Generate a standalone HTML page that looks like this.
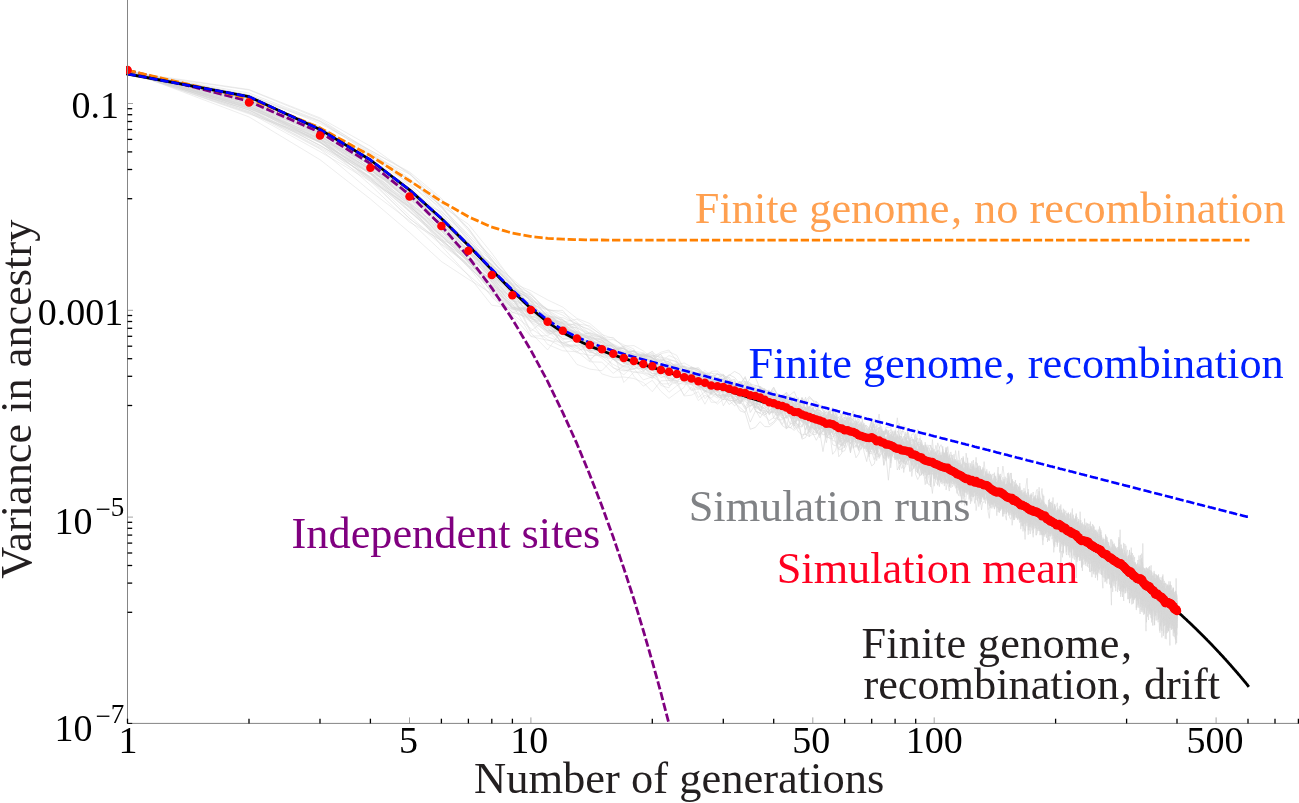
<!DOCTYPE html>
<html><head><meta charset="utf-8"><title>Variance in ancestry</title>
<style>html,body{margin:0;padding:0;background:#fff}svg{display:block;will-change:transform}</style></head>
<body>
<svg width="1299" height="803" viewBox="0 0 1299 803">
<defs><clipPath id="c"><rect x="126" y="0" width="1173" height="724.5"/></clipPath></defs>
<g clip-path="url(#c)" fill="none" stroke-linejoin="round">
<g stroke="#d4d4d4" stroke-width="0.42">
<path d="M127.6 72.2l121.4 25.6 71 32.9 50.4 29.1 39.1 33 31.9 29 27 30 23.4 23.4 20.6 15.3 18.5 6.7 16.7 19.3 15.2 1.1 14.1 6.3 12.9 1.9 12.1 10.3 11.3 9 10.6 8 10.1 2.9 9.4-.4 9-4 8.6 7.4 8.1 2.9 7.8 5.1 7.4-.9 7.2 6.7 6.9 3.8 6.6-1.3 6.3 4.7 6.2-6.6 5.9 6.9"/>
<path d="M127.6 72.7l121.4 26.2 71 30.7 50.4 31.1 39.1 32 31.9 33.2 27 23.6 23.4 26.6 20.6 23.8 18.5 21 16.7 .9 15.2 23.6 14.1-.5 12.9-.3 12.1 3.1 11.3 2.4 10.6 2.8 10.1 4.2 9.4 3.5 9 8.9 8.6-1 8.1 4 7.8 0 7.4-1.2 7.2-4.1 6.9 2.1 6.6 6.3 6.3 4.5 6.2-2.1 5.9 1"/>
<path d="M127.6 71.4l121.4 40.2 71 37.4 50.4 42.2 39.1 29.5 31.9 30.5 27 23.7 23.4 20.4 20.6 18.8 18.5 14.5 16.7 10.9 15.2 7.5 14.1-1 12.9 12.6 12.1 15.3 11.3 3.5 10.6-.4 10.1 1.5 9.4 4 9 9.2 8.6-10.9 8.1-.3 7.8 .1 7.4-3.2 7.2-8 6.9 12.9 6.6-7.2 6.3 1.9 6.2 8 5.9-6"/>
<path d="M127.6 72l121.4 29.4 71 31.3 50.4 27.1 39.1 23.1 31.9 30.6 27 29.6 23.4 23.1 20.6 19.8 18.5 18.3 16.7 5.6 15.2 12.5 14.1 12.1 12.9 1.8 12.1 6.2 11.3 9.7 10.6-1.4 10.1 5.5 9.4 1.3 9-1.9 8.6-1.3 8.1 13.5 7.8-5.5 7.4 8.2 7.2 12.2 6.9-2.2 6.6 7.6 6.3-.1 6.2 4.3 5.9-1.8"/>
<path d="M127.6 71.1l121.4 45.8 71 42.8 50.4 39.3 39.1 33.4 31.9 29.1 27 17.7 23.4 14.3 20.6 18.5 18.5 5.5 16.7 15.3 15.2-5.5 14.1 9.2 12.9 1.2 12.1 2.4 11.3 10.1 10.6-4.2 10.1-.4 9.4 5.3 9 7.4 8.6 5.2 8.1 1.2 7.8 10.8 7.4 5.4 7.2 1.5 6.9 15.1 6.6-5.7 6.3-8.6 6.2-3.8 5.9 10.1"/>
<path d="M127.6 71.9l121.4 34 71 32.9 50.4 30.4 39.1 29 31.9 26.1 27 18.7 23.4 22.7 20.6 19.6 18.5 15.6 16.7 8.9 15.2 9.5 14.1 14.3 12.9 9.1 12.1 5.9 11.3 1.3 10.6 9.5 10.1 .8 9.4 5.4 9-1.7 8.6 4.7 8.1 3.6 7.8 3.2 7.4 7.2 7.2-1.3 6.9 2.9 6.6 6.2 6.3 3.6 6.2 .2 5.9 3"/>
<path d="M127.6 71.5l121.4 41.6 71 29.2 50.4 36.1 39.1 32.4 31.9 30.5 27 25.2 23.4 30.6 20.6 18.5 18.5 20.9 16.7 3.8 15.2 2.4 14.1 5.8 12.9 2.6 12.1-4.9 11.3-1.5 10.6 13.5 10.1 18 9.4 9.9 9-5.8 8.6 11 8.1 7.1 7.8-5.8 7.4-5.3 7.2-14.6 6.9 11.9 6.6 6.4 6.3 1.9 6.2-8.4 5.9 4.1"/>
<path d="M127.6 71.3l121.4 28.7 71 33.6 50.4 34.3 39.1 24.4 31.9 29.8 27 24.6 23.4 20.6 20.6 20.3 18.5 16.8 16.7 13.4 15.2 12 14.1 17.4 12.9-.7 12.1 9.7 11.3 8.2 10.6 5.7 10.1 1.7 9.4 1.9 9 4.6 8.6-3.9 8.1-4.6 7.8-.4 7.4 2.3 7.2 3.9 6.9 .6 6.6 1.5 6.3 5.3 6.2-4.6 5.9 1.4"/>
<path d="M127.6 72l121.4 27.4 71 36 50.4 34.4 39.1 28.8 31.9 19.9 27 24.6 23.4 31.6 20.6 17.8 18.5 26.6 16.7 2.1 15.2 18.3 14.1-.3 12.9 3.3 12.1 9.8 11.3-.9 10.6 31.1 10.1-10.4 9.4-.2 9-9.7 8.6-5.3 8.1 8.9 7.8 3.2 7.4 11.8 7.2 3.7 6.9-.4 6.6 8.3 6.3-7.3 6.2 1.7 5.9-6.6"/>
<path d="M127.6 71.9l121.4 35 71 24.6 50.4 33.6 39.1 36.8 31.9 27.3 27 26.4 23.4 23.1 20.6 19.7 18.5 17.6 16.7 6.6 15.2 22.2 14.1 .7 12.9 1.4 12.1-1.2 11.3-.4 10.6 11.5 10.1 5.1 9.4-5.8 9 5.5 8.6 4.7 8.1 2.1 7.8 5.3 7.4 6.9 7.2-2.6 6.9-3.3 6.6-.6 6.3 10.5 6.2 2.4 5.9-2.2"/>
<path d="M127.6 71.3l121.4 33.1 71 33.6 50.4 40 39.1 37.8 31.9 27.9 27 19.7 23.4 16.1 20.6 19.8 18.5 22.6 16.7 9.2 15.2 14.5 14.1 18.8 12.9 4.7 12.1 1.6 11.3-11.8 10.6 3 10.1 3.1 9.4-10.8 9 6.4 8.6-6.9 8.1-1.9 7.8 3.5 7.4 13.9 7.2-.6 6.9-.6 6.6 5.7 6.3 16.7 6.2 .7 5.9-8.8"/>
<path d="M127.6 70.2l121.4 30.3 71 30.4 50.4 27 39.1 33.7 31.9 30.9 27 28 23.4 21.4 20.6 15.4 18.5 13.7 16.7 21.6 15.2 11 14.1-1.2 12.9 16.7 12.1-2.2 11.3 11.1 10.6-1.7 10.1 1.4 9.4 11.5 9-7.6 8.6 6.3 8.1 11 7.8-1.2 7.4-1.1 7.2 4.4 6.9 9.2 6.6-7.6 6.3 10.7 6.2-2.5 5.9 .8"/>
<path d="M127.6 71.4l121.4 36.5 71 30.9 50.4 42.6 39.1 24.4 31.9 30 27 20.8 23.4 17.8 20.6 20.2 18.5 36.6 16.7-13.7 15.2 9.4 14.1 .8 12.9 6.5 12.1 10.5 11.3 1.8 10.6 15.3 10.1 6.4 9.4 .4 9-2.1 8.6-7.4 8.1 .4 7.8 10.9 7.4 5.7 7.2-4.6 6.9 9.1 6.6 7.4 6.3-4.6 6.2 .1 5.9-4.4"/>
<path d="M127.6 71.7l121.4 24.8 71 31.3 50.4 41 39.1 25.1 31.9 32.7 27 28.7 23.4 33.7 20.6 15.7 18.5 16.1 16.7 6.5 15.2 16.6 14.1-5.7 12.9 14.8 12.1-5.3 11.3 8.9 10.6 1 10.1 2.1 9.4 3.7 9 2.5 8.6 .6 8.1-3.2 7.8 9.3 7.4 8.2 7.2-3 6.9-.5 6.6 6.6 6.3-4.9 6.2 .6 5.9 15.8"/>
<path d="M127.6 72.3l121.4 37.6 71 38.5 50.4 31.7 39.1 27.2 31.9 24.3 27 24.9 23.4 21 20.6 13.2 18.5 18 16.7 23.7 15.2 4.5 14.1-1.1 12.9 8.1 12.1 6 11.3 1.5 10.6 2.3 10.1-3.2 9.4 9.9 9-1.7 8.6-4.1 8.1 13.1 7.8 1.2 7.4 5.6 7.2-1.3 6.9 1.3 6.6 10.6 6.3 7.6 6.2-12.4 5.9 3.3"/>
<path d="M127.6 72l121.4 40.7 71 38.9 50.4 29.6 39.1 37.2 31.9 26.3 27 20.1 23.4 26.6 20.6 18.7 18.5-3.6 16.7 10.8 15.2 9.4 14.1 7.8 12.9-1.1 12.1 4.7 11.3 12.9 10.6 4 10.1 6.8 9.4-6.9 9 2.3 8.6-5 8.1-2.2 7.8 11.5 7.4 6.3 7.2 6.6 6.9 6.6 6.6-8.2 6.3 11.9 6.2-5.4 5.9 15.1"/>
<path d="M127.6 72.5l121.4 24.7 71 33.6 50.4 35.5 39.1 23.3 31.9 38.3 27 24.7 23.4 20.3 20.6 20 18.5 12.6 16.7 15.6 15.2 3.4 14.1 15.1 12.9 4.7 12.1 2.9 11.3 4.7 10.6 7.7 10.1 1.4 9.4 6 9 .2 8.6-1.9 8.1 1.8 7.8 8.7 7.4-1.1 7.2 7.9 6.9 1.3 6.6-.4 6.3 3.7 6.2 9.2 5.9-1.9"/>
<path d="M127.6 71.8l121.4 30.4 71 30.9 50.4 32.4 39.1 22.6 31.9 25.9 27 32.4 23.4 31 20.6 22.3 18.5 22.6 16.7 22.1 15.2 6.4 14.1 1 12.9-7.5 12.1 4.7 11.3 10 10.6 7 10.1-3.2 9.4 3.5 9 11.9 8.6-10.9 8.1 13.4 7.8 3.4 7.4 11.1 7.2-8.4 6.9 13.8 6.6-5.3 6.3 2.8 6.2-5.7 5.9-8.8"/>
<path d="M127.6 72.6l121.4 17.4 71 29 50.4 32.7 39.1 26.4 31.9 32.7 27 29 23.4 26.1 20.6 30.2 18.5 5.6 16.7 14.1 15.2 9.5 14.1 8.4 12.9 11.7 12.1 1.6 11.3 4.6 10.6-5 10.1 10 9.4-2.9 9 9.9 8.6 8.1 8.1 3.2 7.8 1.3 7.4 2.7 7.2 5.1 6.9-3.5 6.6 .3 6.3-4.9 6.2 12.8 5.9-3.2"/>
<path d="M127.6 71.1l121.4 24.8 71 34.1 50.4 25.1 39.1 19 31.9 26.1 27 28.1 23.4 34.1 20.6 16.6 18.5 15.8 16.7 15.7 15.2-.1 14.1 17.3 12.9 23.5 12.1-4.7 11.3 12.6 10.6 7.8 10.1 1.6 9.4 11.4 9-3 8.6-5.1 8.1-3.4 7.8-3.9 7.4 2.8 7.2 4.4 6.9 10.9 6.6 10 6.3 6.6 6.2 4.9 5.9-5"/>
<path d="M127.6 72.2l121.4 25.3 71 29.9 50.4 27.5 39.1 24.7 31.9 26.6 27 30.2 23.4 23.7 20.6 24.5 18.5 8.6 16.7 20.5 15.2 13.1 14.1 7 12.9 12.6 12.1 10 11.3 1 10.6-2.5 10.1 3.4 9.4 7.7 9-1.5 8.6 6.4 8.1-2 7.8 3.7 7.4-1.3 7.2 6.1 6.9 1.5 6.6-4.1 6.3 5.4 6.2-.8 5.9 2.5"/>
<path d="M127.6 72.3l121.4 31.3 71 31.2 50.4 35.2 39.1 27 31.9 20.4 27 24.4 23.4 26.8 20.6 24.1 18.5 23.9 16.7 5.7 15.2 11.3 14.1 4.3 12.9-5.7 12.1 5.8 11.3 7.6 10.6 7.9 10.1-2.4 9.4 9.6 9 7.5 8.6 7.3 8.1 3.2 7.8 4.4 7.4 1 7.2-.2 6.9-9.2 6.6 3.4 6.3 3.2 6.2 1 5.9 8.1"/>
<path d="M127.6 71.7l121.4 30.8 71 36.3 50.4 24.6 39.1 32.2 31.9 22.7 27 24.5 23.4 24.5 20.6 26.6 18.5 21.9 16.7 4.7 15.2 8.4 14.1 7.1 12.9 23.1 12.1-8.2 11.3 1.8 10.6 5.7 10.1 .5 9.4 4.4 9 5 8.6-2.5 8.1 4.6 7.8-1.9 7.4 9.9 7.2-3.5 6.9 4.2 6.6-.8 6.3 10.9 6.2 .1 5.9 0"/>
<path d="M127.6 71.8l121.4 21.2 71 27.7 50.4 29.7 39.1 21.5 31.9 26.5 27 32.1 23.4 28.7 20.6 29.4 18.5 10.2 16.7 10.3 15.2 6.1 14.1 8.9 12.9 6.2 12.1 7.9 11.3-.8 10.6 10.1 10.1 13.1 9.4-6.1 9 3.1 8.6 4.3 8.1 1.2 7.8 8.8 7.4 6.3 7.2-3.3 6.9 8 6.6-2.4 6.3 7.7 6.2 8.1 5.9 1.6"/>
<path d="M127.6 71.9l121.4 42 71 25.3 50.4 25.2 39.1 20.7 31.9 35.9 27 21.2 23.4 22.7 20.6 20.5 18.5 22 16.7 9.4 15.2 3.1 14.1 9.8 12.9 10.3 12.1 4.6 11.3 8.5 10.6 5.9 10.1 1.7 9.4 3 9 5.8 8.6 2.8 8.1-5.6 7.8 1.3 7.4 4 7.2-4.9 6.9 4.2 6.6 1.6 6.3 9.7 6.2 1.7 5.9 11.5"/>
<path d="M127.6 71.5l121.4 38.5 71 32.7 50.4 29.4 39.1 35.3 31.9 31.3 27 26.6 23.4 26.1 20.6 16.1 18.5 2.2 16.7 5.4 15.2 4.7 14.1 11.9 12.9 14.3 12.1 2.4 11.3 1.2 10.6 4.5 10.1-.2 9.4 2.4 9 4.3 8.6 5.5 8.1 1.6 7.8 0 7.4 7.4 7.2 3.1 6.9 6.5 6.6 14 6.3-6 6.2 3.2 5.9-1.2"/>
<path d="M127.6 71.6l121.4 29.1 71 33 50.4 28.8 39.1 31.1 31.9 30.5 27 28.8 23.4 25.6 20.6 28.5 18.5 1.9 16.7 11.3 15.2 1.9 14.1-2.9 12.9 8.2 12.1 7.2 11.3 3.8 10.6 8.1 10.1 4.6 9.4 6.6 9 5.6 8.6 9.8 8.1-9.3 7.8 8 7.4 6.4 7.2-10.5 6.9 2.2 6.6 3.8 6.3-1.4 6.2 5.7 5.9-3.4"/>
<path d="M127.6 71.3l121.4 35.4 71 35.6 50.4 31.3 39.1 32.2 31.9 30.1 27 24 23.4 21.7 20.6 19.5 18.5 3.1 16.7 20.7 15.2 8.5 14.1 5.5 12.9-2 12.1 12.6 11.3 17.9 10.6 7.4 10.1-9.7 9.4 .4 9-2.4 8.6 5.5 8.1 5.6 7.8-.3 7.4-2.9 7.2 .5 6.9 1.2 6.6-.4 6.3 5.2 6.2 13.9 5.9 4"/>
<path d="M127.6 72l121.4 38.4 71 36.8 50.4 29.4 39.1 27.3 31.9 26.7 27 21 23.4 25.8 20.6 16.4 18.5 13.6 16.7 10.2 15.2 8.2 14.1 12.5 12.9 8 12.1 7.3 11.3 4.7 10.6 .9 10.1-7 9.4 3.3 9 1.8 8.6 10.2 8.1 1.4 7.8-.9 7.4-1.8 7.2 6 6.9 11.3 6.6 1.5 6.3 5.7 6.2 3.8 5.9 1.3"/>
<path d="M127.6 70.1l121.4 41.8 71 29.2 50.4 43.9 39.1 37.2 31.9 17.9 27 9.8 23.4 24.6 20.6 22.2 18.5 36.1 16.7 17.1 15.2-20.5 14.1 5.4 12.9 26.5 12.1-15.5 11.3 13.4 10.6 7.7 10.1-1.2 9.4 4.5 9-3 8.6 10.5 8.1-2.5 7.8-5.1 7.4-4.1 7.2 2.3 6.9 10.1 6.6 9.8 6.3-1.6 6.2 5.5 5.9 7.9"/>
<path d="M127.6 72.2l121.4 33.1 71 34.8 50.4 29.1 39.1 36.9 31.9 27.3 27 27.3 23.4 19.5 20.6 19.6 18.5 16.3 16.7 15.2 15.2-.2 14.1 9.7 12.9-2.7 12.1 .4 11.3 9.4 10.6 5.7 10.1 3.3 9.4 9.5 9 4.5 8.6 .7 8.1 4.1 7.8-4.7 7.4 3.8 7.2 1.3 6.9 5.8 6.6 3.8 6.3 6.3 6.2-7.6 5.9 2.1"/>
<path d="M127.6 70.8l121.4 37.1 71 34.4 50.4 28 39.1 29.3 31.9 23.2 27 28.3 23.4 31.7 20.6 25.2 18.5 9.4 16.7 13.5 15.2 .5 14.1 7.5 12.9 11.9 12.1 7.4 11.3 9.7 10.6 3.1 10.1-2 9.4-4.8 9-5.6 8.6 1.4 8.1 13.3 7.8 2 7.4 5.3 7.2-.8 6.9 5.8 6.6-3.6 6.3 9.2 6.2-4.8 5.9 19.4"/>
<path d="M127.6 72.5l121.4 35.8 71 32.5 50.4 32.4 39.1 15.4 31.9 34.4 27 23.2 23.4 24.6 20.6 17.4 18.5 11.6 16.7 9.4 15.2 3.4 14.1 9.6 12.9 11.8 12.1 5.9 11.3 12 10.6 .4 10.1-.9 9.4 4.1 9-2 8.6 14.9 8.1 1.3 7.8 .4 7.4 3 7.2 7.2 6.9 7.7 6.6-.5 6.3 6.4 6.2-6.2 5.9 2"/>
<path d="M127.6 71.9l121.4 34.8 71 30 50.4 33.7 39.1 23.8 31.9 37 27 30.3 23.4 31.1 20.6 15.1 18.5 5.6 16.7 6.8 15.2 9.8 14.1 6.6 12.9 10.1 12.1 5.3 11.3 .4 10.6 1.6 10.1 7.2 9.4 .1 9-1.6 8.6 5.7 8.1-.9 7.8 5.5 7.4 3.4 7.2-1.4 6.9 3.7 6.6-1.7 6.3 1.4 6.2 2.7 5.9-2.8"/>
<path d="M127.6 72.7l121.4 32 71 36.8 50.4 31.5 39.1 29.8 31.9 26.4 27 29.7 23.4 26.4 20.6 11.7 18.5 15.6 16.7 16.4 15.2 11.5 14.1 10.8 12.9 10.5 12.1 .4 11.3 11.2 10.6-7.9 10.1-4.7 9.4 1.8 9 6.5 8.6 .6 8.1 5.3 7.8 1.3 7.4 2.5 7.2-2.3 6.9-3.9 6.6 1.7 6.3 6.7 6.2 3.9 5.9 2.8"/>
<path d="M127.6 71.1l121.4 26.5 71 35.1 50.4 33.2 39.1 30 31.9 28.7 27 21.1 23.4 18.6 20.6 20.9 18.5 22.8 16.7 10.3 15.2 11.1 14.1 4.5 12.9 9.6 12.1 9.6 11.3 1.9 10.6 8.4 10.1-2 9.4 9.2 9-6.8 8.6-3.6 8.1 1.9 7.8 3.9 7.4 5.6 7.2-3.4 6.9 3.3 6.6 2.5 6.3-.6 6.2 0 5.9 4.4"/>
<path d="M127.6 72.1l121.4 33.7 71 36.1 50.4 37.6 39.1 39.2 31.9 22.4 27 26 23.4 20.6 20.6 18.6 18.5 10.8 16.7 17 15.2-5 14.1 6.5 12.9 7.4 12.1-1.8 11.3 5 10.6 2.9 10.1 5.2 9.4 2 9 .8 8.6 8.1 8.1 1.8 7.8-1.2 7.4 7.3 7.2 1.4 6.9-.1 6.6 13.7 6.3-.4 6.2 8.3 5.9-7.1"/>
<path d="M127.6 72l121.4 27.1 71 35.9 50.4 33 39.1 28.8 31.9 14.9 27 24.7 23.4 31 20.6 16.7 18.5 32.7 16.7-4.2 15.2 8.2 14.1 5.6 12.9 6.7 12.1 2.8 11.3 12.9 10.6-.7 10.1 8.9 9.4 9.4 9-2 8.6 2.8 8.1 .8 7.8 5.3 7.4 4.2 7.2-4.8 6.9 4.5 6.6 13.9 6.3-.5 6.2-5.2 5.9 7.8"/>
<path d="M127.6 72.7l121.4 23.9 71 33.8 50.4 30.2 39.1 33.6 31.9 25.3 27 25 23.4 36.7 20.6 23 18.5 31.9 16.7-.4 15.2-8.8 14.1-3.9 12.9 16.1 12.1 9.4 11.3 2.2 10.6 12.6 10.1-5.1 9.4 13 9 4.7 8.6-2.9 8.1 1.9 7.8 5.9 7.4 15.2 7.2-.8 6.9-3.6 6.6 12.6 6.3-11.4 6.2-5.2 5.9-8.7"/>
<path d="M127.6 71.4l121.4 23.6 71 26.2 50.4 31.6 39.1 27.7 31.9 25.6 27 35 23.4 19.7 20.6 19.9 18.5 18 16.7 27.9 15.2 9 14.1 .5 12.9 7.5 12.1-1.6 11.3 5.6 10.6 7.9 10.1 1.7 9.4-.5 9-2.7 8.6 7.5 8.1-6 7.8 3.3 7.4 8.4 7.2 5.4 6.9 6.6 6.6 1.8 6.3-3.6 6.2-3.1 5.9-.1"/>
<path d="M127.6 72.6l121.4 31.1 71 38.8 50.4 36.5 39.1 27.6 31.9 23.7 27 28.6 23.4 30.1 20.6 23.5 18.5 6.2 16.7 4.2 15.2 9.7 14.1 .3 12.9 15.4 12.1 .8 11.3 10.5 10.6 .2 10.1-9.8 9.4 9.6 9-3.7 8.6 1 8.1 2.1 7.8 3 7.4 11.1 7.2-5.7 6.9 2.3 6.6 11.9 6.3 12.6 6.2 3.7 5.9-1.4"/>
<path d="M127.6 71.6l121.4 26.6 71 29.7 50.4 37.8 39.1 30.2 31.9 30.4 27 24.3 23.4 25.3 20.6 12.8 18.5 6.3 16.7 14.8 15.2 19.5 14.1 2.6 12.9 8.3 12.1 8.3 11.3 8.5 10.6 4.2 10.1-6.7 9.4 .8 9 .2 8.6 8.2 8.1 3.7 7.8-3.6 7.4 11.3 7.2-.8 6.9 2.6 6.6 2.4 6.3 3 6.2 0 5.9 3.6"/>
<path d="M127.6 71.7l121.4 17.8 71 28.4 50.4 28.3 39.1 27.7 31.9 32 27 18.3 23.4 29 20.6 27.9 18.5 20.7 16.7 25.4 15.2 15.9 14.1 9.6 12.9 2.6 12.1 .1 11.3-3.8 10.6 8.8 10.1-.5 9.4 5.9 9 10.5 8.6 6.3 8.1 9.7 7.8-6.5 7.4-4.6 7.2 9.6 6.9-2.2 6.6 2.4 6.3 3.5 6.2-6.4 5.9-5.7"/>
<path d="M127.6 70.6l121.4 31.6 71 33.4 50.4 37.6 39.1 26 31.9 19.8 27 30.6 23.4 24.1 20.6 16.5 18.5 16.2 16.7 11.4 15.2 16.3 14.1 4.2 12.9 4.1 12.1 4.9 11.3 6.6 10.6 7.3 10.1 2 9.4 4.9 9 1.2 8.6-4.4 8.1-.1 7.8 .4 7.4 4.1 7.2 4.4 6.9 13 6.6-2.2 6.3-5.8 6.2 5.7 5.9 1"/>
<path d="M127.6 71.1l121.4 25.8 71 24.8 50.4 32.3 39.1 30.6 31.9 23.2 27 26.7 23.4 22.2 20.6 23.3 18.5 21.1 16.7 14.2 15.2 8.3 14.1 13.9 12.9-1.2 12.1 4.1 11.3 14 10.6 3 10.1-2.5 9.4 11.7 9 6.8 8.6 0 8.1 2.5 7.8 7.1 7.4-10.6 7.2 2.8 6.9 1 6.6 1 6.3 5.7 6.2-5 5.9 1.5"/>
<path d="M127.6 72l121.4 22.8 71 28.6 50.4 27.1 39.1 22.3 31.9 34.7 27 31.2 23.4 32.9 20.6 18.4 18.5 18.6 16.7 22.1 15.2-3 14.1 5.9 12.9 2.8 12.1 6.4 11.3 8.1 10.6 1.2 10.1 5.7 9.4 2.7 9 6.7 8.6 16.7 8.1-.1 7.8-9 7.4-.3 7.2-3.7 6.9 4.8 6.6 4.1 6.3 .1 6.2 2.8 5.9-1.5"/>
<path d="M127.6 72.4l121.4 28.9 71 32 50.4 24.7 39.1 22 31.9 23.1 27 25.2 23.4 31.1 20.6 23.9 18.5 7.4 16.7 9.2 15.2 7.2 14.1 11.3 12.9 5.1 12.1 10.1 11.3 14.1 10.6 .9 10.1 5.8 9.4 2.7 9-5.8 8.6 16.9 8.1 3.3 7.8-.7 7.4 4.5 7.2-4.7 6.9 14.6 6.6-1.1 6.3-12.7 6.2-.4 5.9 5.3"/>
<path d="M127.6 72.2l121.4 28.1 71 32.2 50.4 36.2 39.1 32 31.9 25.1 27 35.9 23.4 20.1 20.6 27.8 18.5 1.1 16.7 15 15.2 12.9 14.1-.7 12.9 12.5 12.1-.2 11.3 .8 10.6 1.8 10.1-1.8 9.4 2 9 6.5 8.6 2.3 8.1 2.5 7.8 2.9 7.4 2.6 7.2 5.7 6.9 1.3 6.6-.7 6.3 5.6 6.2 7.2 5.9 .7"/>
<path d="M127.6 70.9l121.4 37.9 71 36.4 50.4 32.4 39.1 34.2 31.9 27 27 28.2 23.4 20.7 20.6 20.8 18.5 1.3 16.7 7.7 15.2 10.5 14.1 3.6 12.9 7.9 12.1 .6 11.3-.5 10.6 5.2 10.1 4.2 9.4 18.9 9 5.8 8.6-1.3 8.1-7.3 7.8 5.1 7.4 4.9 7.2-5.1 6.9-2.5 6.6 7.2 6.3 13.2 6.2 .7 5.9 2.8"/>
<path d="M127.6 72.7l121.4 33.1 71 40.1 50.4 27.7 39.1 34.6 31.9 32.3 27 20.1 23.4 23.7 20.6 16.3 18.5 4.5 16.7 20.5 15.2 8.8 14.1 6 12.9 .1 12.1 5.3 11.3 4.8 10.6-1.9 10.1 3.2 9.4 6.5 9 2.5 8.6-.9 8.1 1.9 7.8 4.7 7.4 5.7 7.2 1.1 6.9-4.1 6.6 4.9 6.3 5.4 6.2 4.5 5.9-3"/>
<path d="M127.6 71.7l121.4 38.2 71 35.4 50.4 28 39.1 36.8 31.9 30.8 27 18.9 23.4 33.1 20.6 19.7 18.5-7.6 16.7 11.8 15.2 13.7 14.1 8.8 12.9 11.6 12.1 5.8 11.3 2.5 10.6 9.8 10.1 .1 9.4-5.9 9 6 8.6 16.3 8.1 2.3 7.8-14.3 7.4 5.3 7.2 10.9 6.9-2.9 6.6-.8 6.3-2.7 6.2-2.1 5.9 6.8"/>
<path d="M127.6 72.1l121.4 35.5 71 31.6 50.4 37.9 39.1 30.8 31.9 31.3 27 26.5 23.4 13.1 20.6 17.2 18.5 12.3 16.7 6.3 15.2 9.2 14.1 1.2 12.9 4.4 12.1 8.1 11.3 6.7 10.6 4.8 10.1 6.9 9.4-2.8 9 5.1 8.6 7.8 8.1-2.5 7.8 6.3 7.4 7.5 7.2 2.7 6.9 6.7 6.6-1 6.3 2.5 6.2-1.2 5.9-2"/>
<path d="M127.6 72.3l121.4 27.8 71 36.3 50.4 28.6 39.1 38.9 31.9 42 27 29.6 23.4 29.7 20.6 3.2 18.5 13.6 16.7 14.8 15.2 5.7 14.1-2.1 12.9 0 12.1 5.9 11.3 5.1 10.6 4.9 10.1 5.8 9.4-2.3 9 14.3 8.6-2.2 8.1 6.2 7.8-7.2 7.4 7.2 7.2-.6 6.9 8.4 6.6-.2 6.3-2.6 6.2-4.7 5.9 2"/>
<path d="M127.6 72.4l121.4 29.9 71 34.8 50.4 36.7 39.1 30.6 31.9 32.7 27 23 23.4 25.8 20.6 16.6 18.5 14.6 16.7 11.6 15.2 9.7 14.1-1.2 12.9 10.5 12.1 .6 11.3 1.9 10.6 4 10.1 6.4 9.4 5 9 3.7 8.6 .6 8.1-9.7 7.8 1.1 7.4 9.3 7.2 5.7 6.9-.8 6.6 7.7 6.3 5.5 6.2-8.5 5.9 12.7"/>
<path d="M127.6 72.2l121.4 26.8 71 30.3 50.4 30 39.1 28.5 31.9 32.1 27 31.4 23.4 19.2 20.6 23.9 18.5 13.8 16.7 12.6 15.2 1.8 14.1 20 12.9 9.7 12.1 2.4 11.3 1.9 10.6-3.8 10.1 3.6 9.4-2 9 3.4 8.6 5.1 8.1 15.2 7.8 2.8 7.4-6.2 7.2 6.1 6.9 5.1 6.6 3.4 6.3 13 6.2-.1 5.9-8.1"/>
<path d="M127.6 71.4l121.4 32.3 71 35.9 50.4 34.7 39.1 37.2 31.9 24.2 27 26.6 23.4 23.4 20.6 19.7 18.5 4.5 16.7 9.9 15.2 1.5 14.1 9.9 12.9 6.3 12.1 5.6 11.3 9.6 10.6 4.4 10.1 1 9.4 4.8 9 3.8 8.6 6.4 8.1 .2 7.8-8.6 7.4-1.7 7.2 3.9 6.9 2.5 6.6 11 6.3 3.3 6.2 .8 5.9-.6"/>
<path d="M127.6 71.1l121.4 37.5 71 26.8 50.4 36.7 39.1 31 31.9 25.9 27 16.4 23.4 19.2 20.6 21.4 18.5 10.9 16.7 19.2 15.2 11.3 14.1 10.9 12.9 9.2 12.1 3.4 11.3 5.1 10.6 7.4 10.1 2.6 9.4 6.8 9 2.9 8.6-4 8.1 .4 7.8-.9 7.4 1.2 7.2 5 6.9 2.7 6.6 5.1 6.3 3 6.2 7.7 5.9 3.8"/>
<path d="M127.6 71.5l121.4 29.6 71 27.3 50.4 32.5 39.1 31.6 31.9 28.3 27 25.1 23.4 18.3 20.6 19.4 18.5 24.4 16.7 9.6 15.2 5.5 14.1 12 12.9 9.2 12.1 .3 11.3 8.5 10.6 2.1 10.1-1.4 9.4 9.2 9 .8 8.6 4.7 8.1 12.1 7.8-2.9 7.4-2.6 7.2 1.4 6.9-.5 6.6-5.6 6.3 5.7 6.2 5.4 5.9 0"/>
<path d="M127.6 70.6l121.4 27.3 71 30.1 50.4 30.9 39.1 39.1 31.9 36.3 27 25.4 23.4 21.5 20.6 22.9 18.5-1.1 16.7 16.4 15.2 4.6 14.1 9.3 12.9 5.6 12.1 6.9 11.3 5 10.6-2.9 10.1 8.4 9.4 6.9 9 2.8 8.6 3 8.1 16.7 7.8-4.2 7.4 .4 7.2 2.9 6.9 3.4 6.6-1.3 6.3 .3 6.2-1.1 5.9-1.9"/>
<path d="M127.6 71.9l121.4 26.3 71 28.3 50.4 36.5 39.1 40.5 31.9 31.8 27 27.2 23.4 22.9 20.6 22.2 18.5 3.3 16.7 14.4 15.2-2.3 14.1 5.1 12.9 7.3 12.1 1.6 11.3 7.5 10.6 6.9 10.1 0 9.4 5.6 9 4.6 8.6 5.2 8.1 .8 7.8 2.3 7.4-3.2 7.2 2.1 6.9 2.8 6.6 2.4 6.3 1.9 6.2-1.3 5.9 .5"/>
</g>
<g stroke="#d6d6d6" stroke-width="0.6">
<path d="M723.3 380.3l5.8 5.6 5.5 1.3 5.4 6.1 5.2-2.6 5.1 6.1 5 4.8 4.8-11.2 4.6 7.3 4.6 3.3 4.4 17.4 4.3-.5 4.3-5.8 4.1-3.5 4 2 3.9 3.5 3.9-1.8 3.8-.3 3.6 22.9 3.7-3.7 3.5 3.2 3.5 0 3.4-10.5 3.3 .8 3.3-9.1 3.2 1.5 3.1-1.6 3.1 8.8 3.1-1.9 3-.1 2.9 14.9 2.9-.4 2.9-.5 2.8-4.2 2.7-3.6 2.7 8.2 2.7 8.9 2.7-3.1 2.6 4.2 2.5 7.5 2.5-7.6 2.5 .3 2.5-2.7 2.4-4.2 2.4-4.4 2.3 6.2 2.3 3.4 2.3-.9 2.3-3.8 2.2 .4 2.2 5.2 2.2 3.2 2.1 13.1 2.2-1.5 2.1 .6 2-13.2 2.1-4.2 2-3.1 2-6.7 2-.7 1.9 8 2 3.1 1.9 15.5 1.9-9.3 1.9 8.9 1.8-.1 1.8 9.6 1.9-9.7 1.8 25.6 1.7-19.4 1.8-7 1.7 7.8 1.8-9.4 1.7 5.5 1.7 20.7 1.6 .7 1.7-15.2 1.7-1.1 1.6 2 1.6 2.3 1.6-10.5 1.6 5.5 1.5 2.4 1.6 9.3 1.5-10.9 1.6 4 1.5-2.8 1.5 5 1.5-2.8 1.5 7.8 1.4 1 1.5-4.2 1.4 4.9 1.5-9.6 1.4 1.2 1.4-8.3 1.4 6.5 1.4-2.3 1.3 21.6 1.4 16.7 1.4-16 1.3-13.5 1.3 2.2 1.3 9.1 1.4 3.8 1.3-10.4 1.3 3 1.2-6.9 1.3 4.2 1.3-6.6 1.2-1.7 1.3 1.7 1.2 11.4 1.2-4.8 1.3 11.6 1.2 1.2 1.2 8.3 1.2-2.5 1.2-9.6 1.1-9 1.2 18.8 1.2-11 1.1 11.6 1.2-14.5 1.1-2.4 1.2 0 1.1 14.8 1.1 3.4 1.1 12.5 1.1 1.6 1.1-8 1.1-.8 1.1 10.9 1.1 3.7 1-26.9 1.1 3.7 1.1-3.9 1-3.8 1.1 8.6 1-3.1 1 7.4 1.1 18.9 1-8.3 1 9.7 1-12.5 1 9.2 1 4.2 1-18.6 1 10.2 1 3.9 1-3.2 .9-.3 1 11 .9-18.5 1 9.3 1-1.1 .9 6.6 .9-8.8 1 1.8 .9 16 .9-22.2 .9 30 1-13.5 .9-9.9 .9 9.9 .9-16.9 .9-.6 .9-3.1 .8 5.8 .9 3.4 .9 11.4 .9 9.5 .8-10.6 .9-14.8 .9 6.1 .8-2.3 .9 14.9 .8 3 .9-.2 .8 .1 .9-14.1 .8 4.1 .8 17.3 .8 10.5 .9-24.6 .8-14.8 .8 8.3 .8 21.2 .8-6.3 .8-.3 .8 .3 .8-4.5 .8-9.7 .8 22.5 .8-2.8 .7 1 .8-3.2 .8-13.3 .8 5.9 .7-6.6 .8 23.1 .7 .5 .8 7 .8 15.3 .7-20.8 .8-15.1 .7 13.2 .7 1.5 .8-16.6 .7 5.8 .7-7.9 .8 8 .7-9.6 .7 28.5 .7-13 .8-7.7 .7 2 .7 2.6 .7 19 .7 2.4 .7 8.7 .7-2.1 .7-2.5 .7-15.4 .7-3.2 .7 2.4 .6 10.5 .7-4.4 .7 9.5 .7-22.8 .7 11 .6 2 .7-8.1 .7 5.6 .6-.8 .7-11.2 .7 13.1 .6-3.9 .7 6.3 .6 6.9 .7-8.6 .6 9 .7-17.1 .6 7.9 .6-6.8 .7 9.7 .6 12.8 .7 10.1 .6-2.6 .6-1.7 .6-14.4 .7-11.3 .6-1 .6 5.5 .6-2.9 .6-.4 .7 .3 .6 .1 .6 6.6 .6 2.9 .6 8.6 .6-10 .6 8.7 .6 .1 .6-10.2 .6 16.4 .6-17.7 .6 20.3 .6-1.4 .5-13.9 .6 17.4 .6-8 .6-2 .6-12.3 .5 8.6 .6 2 .6 5.3 .6-1.1 .5-21.6 .6 7.6 .6 7.2 .5-3.5 .6-8.2 .6 19.5 .5-11.9 .6 7.9 .5-1.5 .6 8.6 .5 10.6 .6 .3 .5-10.4 .6-1.9 .5-12.1 .6 10.8 .5-2.2 .5-7.6 .6 18.4 .5 6.5 .6-16.7 .5 21.5 .5-9.8 .5 5.9 .6-12.5 .5 18.3 .5-11.5 .6 18 .5 .3 .5-10.7 .5-14.1 .5 9.2 .5-9.1 .6 19.6 .5-15.8 .5-9.5 .5 10.8 .5-12.7 .5 2.5 .5 1.5 .5 7.8 .5 .2 .5 9.1 .5 4.2 .5 3.6 .5 5.7 .5-10.1 .5 8.9 .5-11.9 .5 9 .5-17.2 .5 .3 .5 8.1 .4-.8 .5 8 .5 2.2 .5 8.9 .5-.1 .5-3.2 .4-2.4 .5 3.5 .5-6.2 .5 14.7 .4-4.3 .5-1.3 .5 4.7 .4-12.1 .5-8.6 .5-4.3 .4-3.9 .5 19.7 .5-6.8 .4-3.9 .5 9.2 .4 .5 .5-6 .5 7.4 .4 3.7 .5 10.7 .4-.7 .5 3.7 .4-10 .5-5.5 .4-2.1 .5-4.1 .4-3.3 .5 11.1 .4-15.7 .5 .9 .4 7.7 .4 .7 .5-3.6 .4 10.9"/>
<path d="M723.3 379l5.8 8.7 5.5 5.3 5.4 6.3 5.2-7.2 5.1 8.1 5-2.7 4.8-1.1 4.6 3.6 4.6 .9 4.4 7.5 4.3-4.4 4.3-4.7 4.1 9.5 4-.8 3.9-3.2 3.9 8.8 3.8 .1 3.6 2.5 3.7-1.8 3.5 .8 3.5 7.9 3.4-6.2 3.3 6.9 3.3-1.3 3.2 3.5 3.1 7.2 3.1-6.6 3.1 16.1 3-4.9 2.9 1.6 2.9-5.8 2.9 .1 2.8-1.1 2.7-3.3 2.7 6.1 2.7 4.6 2.7 .7 2.6 .7 2.5-10.1 2.5-.4 2.5 6.9 2.5-4 2.4 3.8 2.4-1.5 2.3 15.3 2.3-14.9 2.3 6.1 2.3 .9 2.2-2.9 2.2 4.5 2.2-7.3 2.1 15 2.2-1.1 2.1-.7 2-5.2 2.1-.2 2 3.7 2 2.5 2 4 1.9-7 2 6.2 1.9-4.9 1.9-1.4 1.9-2.6 1.8 22 1.8-12.8 1.9 7.4 1.8-1.6 1.7-.2 1.8-.9 1.7-.3 1.8 9.2 1.7 2.2 1.7-3.6 1.6-4.5 1.7-.1 1.7 4.4 1.6-.3 1.6 4.6 1.6-5.9 1.6 6.4 1.5 2 1.6 .9 1.5-1.4 1.6 .5 1.5-4.3 1.5 6 1.5-6.8 1.5 8.9 1.4-5.5 1.5-1.6 1.4 9.5 1.5 .5 1.4 4.5 1.4-8.7 1.4 3.5 1.4 5.9 1.3 8 1.4-13.7 1.4 8.3 1.3-15.1 1.3 12.6 1.3 9.3 1.4-21.9 1.3 17.3 1.3-2.1 1.2-3.2 1.3 12.9 1.3-15 1.2 6.7 1.3 .3 1.2 .3 1.2 6.1 1.3-5.7 1.2-3 1.2-3.4 1.2 4.7 1.2 4.1 1.1 3.5 1.2 1.6 1.2-10.4 1.1 7.6 1.2 17.1 1.1-4.7 1.2-12.1 1.1-3.3 1.1 4.3 1.1-.9 1.1 11.1 1.1 8.8 1.1-8.7 1.1 1.1 1.1-15.9 1 7.6 1.1 2.2 1.1 12.4 1-8.1 1.1 3.3 1-11 1-1.8 1.1 11.2 1-9.2 1 4.9 1 3.7 1 .9 1 4.8 1 7.1 1-1.3 1 2.2 1 .1 .9-6 1-8.5 .9 20.5 1-18.8 1-9.1 .9 7.3 .9 22.4 1-8.2 .9-2.5 .9 6.6 .9-6.5 1-8.5 .9 12.1 .9 2.7 .9-8.8 .9 8.5 .9-6.2 .8 .2 .9 4.3 .9-1.5 .9-1.6 .8 17.3 .9-5.7 .9 9.4 .8-15.8 .9 12.6 .8-2.3 .9 8.1 .8-14.9 .9 10.9 .8-7.2 .8 1.3 .8 9.9 .9-9 .8-9.1 .8 3.9 .8 11.3 .8-6.4 .8-6.6 .8-1.7 .8 5.3 .8-1.4 .8 11 .8-9.8 .7 11 .8-3 .8 12.5 .8 5.2 .7-11.8 .8 14.5 .7-11.7 .8 6.6 .8-.6 .7-14.4 .8 9.4 .7 8.4 .7-10.5 .8-5.1 .7 16.6 .7-18.8 .8-.9 .7 1.5 .7-10.3 .7 19.6 .8 .5 .7 8.3 .7-4.7 .7-5.6 .7 3.4 .7-7.7 .7 5.6 .7 11.6 .7-15.8 .7 11.7 .7-8.4 .6 14.3 .7-1.5 .7-16.8 .7 8.1 .7 8.7 .6-2.1 .7-6.1 .7-6.5 .6 8.7 .7 2 .7-10.1 .6 0 .7 7.1 .6 2.8 .7 12.5 .6 4.5 .7-4.1 .6-13.8 .6 3 .7-8.5 .6 18 .7 4 .6-13.1 .6-6.2 .6-.4 .7 15 .6 0 .6 2.3 .6-19.5 .6 5.7 .7-2.1 .6 4.7 .6 16.7 .6-9 .6-8.9 .6 3.4 .6-1.9 .6 4.7 .6 12.3 .6-4.5 .6-1.1 .6-7.3 .6 2.6 .5 8.3 .6 4 .6 7.3 .6-13.1 .6 11.2 .5-14.2 .6 4.9 .6 8 .6-5.5 .5-6 .6 4.8 .6 7.7 .5 17.1 .6-18 .6-7.6 .5 16.4 .6-12.1 .5-1.6 .6-5.6 .5 7.9 .6-8.2 .5 1.7 .6 2.1 .5 8.5 .6-14.2 .5 27.8 .5-18.5 .6 12.8 .5-13.8 .6 3 .5-2.6 .5 6.5 .5-11.2 .6 13.3 .5-15.3 .5 23.5 .6-5.7 .5 5.3 .5-5.7 .5 3.5 .5 1.3 .5-11.9 .6-9.4 .5 8.2 .5 19.9 .5-16.4 .5 .7 .5 5.6 .5-18.1 .5 21 .5-3.5 .5 0 .5 4.6 .5 9.2 .5-4.7 .5-9.6 .5 26 .5-6.8 .5-1.4 .5-17.2 .5 5.7 .5-1.2 .4-3.4 .5 8.6 .5-3.3 .5-2.7 .5-2.1 .5 .5 .4 7.9 .5 18.9 .5-11.1 .5 7.1 .4-5.5 .5-8.6 .5 .5 .4-.9 .5 16.2 .5 3.3 .4 2.1 .5-8.3 .5-3.7 .4-20.1 .5 15 .4-.1 .5 6.6 .5-11.8 .4 12.2 .5-7.5 .4 6 .5-5.3 .4 3.9 .5-4.9 .4 5.2 .5-2.4 .4 11.4 .5-8.5 .4 7.7 .5-7.6 .4 7.3 .4-1.8 .5-2.8 .4 5"/>
<path d="M723.3 379l5.8 13.2 5.5 6.2 5.4 2 5.2-7.5 5.1 4.6 5 .4 4.8-2.9 4.6-.1 4.6 9.5 4.4-6.9 4.3 10.7 4.3-7.1 4.1-.9 4 15.3 3.9-2.8 3.9 3.9 3.8-13.9 3.6 8.5 3.7 3.8 3.5-6.5 3.5 3.6 3.4-7.1 3.3 5.1 3.3 10.7 3.2 1.5 3.1 7.3 3.1-3.4 3.1-2.5 3-4.1 2.9-.4 2.9 2.6 2.9 4.9 2.8-.5 2.7 2.1 2.7-2.6 2.7 .6 2.7 8.7 2.6 7.9 2.5-9.8 2.5-1 2.5 19.5 2.5-4.9 2.4 .7 2.4-3.9 2.3-.5 2.3 7.2 2.3-5.8 2.3 .6 2.2-8.9 2.2 3.8 2.2 4.8 2.1-3.8 2.2 5.4 2.1 3.8 2 .9 2.1 1.9 2 .5 2-7.6 2 7 1.9 5.9 2 12.8 1.9-14.2 1.9-12.5 1.9 14.6 1.8-5.5 1.8 3.5 1.9 17.7 1.8-4.8 1.7-7.4 1.8 .1 1.7 8.1 1.8-4.3 1.7 9.1 1.7 2.9 1.6 3.6 1.7-25.9 1.7 19.2 1.6-2.3 1.6-.6 1.6-13.3 1.6 9.3 1.5 0 1.6 4.7 1.5-6.5 1.6 7.5 1.5-4.4 1.5 1.4 1.5 7.6 1.5-9.2 1.4-.6 1.5 5.6 1.4-5.5 1.5 3.3 1.4-3.1 1.4 8.2 1.4-2.1 1.4 4.9 1.3 5.6 1.4-20.1 1.4 12.3 1.3 3.9 1.3-6.6 1.3 3.1 1.4 10.7 1.3 1.1 1.3-10.6 1.2 11.4 1.3-5.3 1.3 9.6 1.2-8.4 1.3 9.9 1.2 4.8 1.2-16.4 1.3 3.6 1.2 11.1 1.2-17.9 1.2 13.7 1.2-8.2 1.1-8.9 1.2 10.2 1.2 4.3 1.1-7.3 1.2-3.6 1.1 9.1 1.2-2.7 1.1 17.7 1.1-5.4 1.1-2.2 1.1 1.8 1.1 1.1 1.1 10.7 1.1 6.1 1.1-9.2 1-10.5 1.1 19.5 1.1-6 1 5.1 1.1 13.6 1-6.7 1-19.7 1.1 29.9 1-17.6 1-8.8 1-8.4 1 21.7 1-10.4 1 2.8 1-11.6 1 8.3 1-2.9 .9-8.9 1 11.3 .9 13.2 1-11.6 1 21.5 .9 2 .9-2.7 1-6.9 .9-12 .9 10.1 .9-1.5 1-.9 .9 2.2 .9-3.1 .9 5 .9-6 .9-22.1 .8 18 .9 2.3 .9-4.9 .9 5.8 .8 18.3 .9-15.2 .9-1.6 .8 2.6 .9-9.5 .8 17.7 .9-8.7 .8-2 .9 8.7 .8-2 .8 14.5 .8-10.9 .9 14.9 .8-19.1 .8 7.9 .8 8.8 .8-4.4 .8 17.2 .8-24.2 .8-6.9 .8 3.6 .8 1.2 .8 5.2 .7 17.5 .8-4.7 .8 7.4 .8-4.8 .7-10.4 .8 3.4 .7-16.7 .8 7.4 .8 8.7 .7-1.8 .8 1.1 .7-8.5 .7 1.8 .8 16.9 .7-12.1 .7 1.3 .8-8.1 .7 22.2 .7-11.4 .7 14.9 .8-9.7 .7 11.5 .7-14.8 .7 12.8 .7-11.2 .7 4.2 .7-4.6 .7-16.3 .7 6.3 .7 7.2 .7 14.9 .6-16.2 .7 5.6 .7-1.5 .7 13.3 .7 8.6 .6-1.9 .7-8.3 .7 1 .6-6.4 .7 12 .7-22.9 .6 18.4 .7-3.1 .6-3.1 .7-1.9 .6 17.8 .7-21 .6 7.4 .6 2.1 .7 2.8 .6-14.1 .7 2.2 .6 18.7 .6-.4 .6-11.7 .7 17.2 .6-2.9 .6-13.2 .6 8.6 .6 1.3 .7-9.3 .6 12.3 .6-17.5 .6 15.7 .6-3.1 .6-9.3 .6 6.2 .6 6 .6-.8 .6 5.4 .6 9.4 .6-11.9 .6 9.7 .5-4.3 .6 .9 .6 3.5 .6-11.1 .6 29.7 .5-17.3 .6-2.5 .6-4.9 .6-7.9 .5 18.4 .6 7.6 .6-8.2 .5 2.1 .6 16.4 .6-8.4 .5-10.5 .6 13.2 .5-14.7 .6-1.7 .5 15.4 .6-9 .5-.7 .6 4.3 .5-9.6 .6 6.9 .5 6.4 .5-11.7 .6 1 .5 20.1 .6-22.4 .5 2.1 .5 9.1 .5-16.3 .6 13.6 .5-21.4 .5 8.7 .6 6.8 .5-4.9 .5-6.4 .5-1.9 .5 23.8 .5-.1 .6 6.9 .5 5.9 .5 4.2 .5-17.4 .5 12.5 .5-26.5 .5 12.4 .5 0 .5 2 .5-6.2 .5-1.5 .5-9 .5 11.4 .5 4.3 .5-9.2 .5 17 .5-5.5 .5 15.4 .5-24.2 .5 24.1 .4-4.8 .5-8.4 .5-11.1 .5-4.5 .5 9.1 .5-8.6 .4 3.5 .5 17 .5 6.7 .5-6.5 .4-1.1 .5-6.3 .5 11.8 .4-2.4 .5-8.4 .5-3 .4 2 .5-5.6 .5-3 .4 10.6 .5 7.3 .4 2 .5-2.1 .5 13.9 .4-19.4 .5 5.8 .4 1.7 .5 22.3 .4-19.4 .5 3.4 .4-6.2 .5 18.7 .4-26.8 .5 15.2 .4-2.1 .5-11.6 .4 7.9 .4-7.9 .5 5.9 .4 13"/>
<path d="M723.3 390.6l5.8 .7 5.5-4.1 5.4-4.7 5.2-1.2 5.1 1.5 5 7.8 4.8-.8 4.6 4.5 4.6-1.9 4.4-2.7 4.3 4.7 4.3 5.2 4.1 3.3 4-1.1 3.9 5.4 3.9-9.6 3.8 13.5 3.6-9.3 3.7 9.8 3.5 .8 3.5 19.7 3.4 2.1 3.3-13.5 3.3 14.2 3.2-11.3 3.1-8 3.1 10.9 3.1 7 3 5.5 2.9-10.2 2.9 9.7 2.9-6.3 2.8 8.1 2.7 7.2 2.7-7.7 2.7 5.2 2.7-7.1 2.6 9.6 2.5 6 2.5 .2 2.5-13.2 2.5 1.4 2.4 1 2.4-4.7 2.3 5.7 2.3 9.8 2.3-15 2.3 2.8 2.2-10.9 2.2 12.7 2.2 1.4 2.1-7 2.2 13.5 2.1-3.8 2 2.2 2.1 1.8 2 5.9 2 .8 2-7.3 1.9-3.8 2-4.4 1.9-.2 1.9 5.7 1.9-2.6 1.8 14.8 1.8-2.7 1.9 1 1.8 3.6 1.7-4.6 1.8 28.6 1.7-11.1 1.8-9.7 1.7 11.9 1.7-16.1 1.6 10.4 1.7-5.1 1.7-3.8 1.6 4.5 1.6 19.8 1.6-13 1.6-3.2 1.5 12.3 1.6-1.7 1.5-8.6 1.6-9.9 1.5 .4 1.5 10.6 1.5-2.3 1.5 14.7 1.4-13.5 1.5 4.2 1.4-8.5 1.5 5.2 1.4 6.5 1.4-12.1 1.4 19.6 1.4-6 1.3-.8 1.4 8.1 1.4-5.6 1.3 3.8 1.3-.5 1.3 4.2 1.4-8.3 1.3 15.6 1.3-14.6 1.2 22.4 1.3-10.1 1.3-7.6 1.2-2.1 1.3 15.1 1.2-.6 1.2-10.6 1.3 22 1.2-11.1 1.2 5 1.2-6.5 1.2-3.9 1.1-7 1.2 16.4 1.2-19.9 1.1 8.1 1.2 2.6 1.1-3.6 1.2-8.6 1.1 11.8 1.1 12.3 1.1-18 1.1 12.7 1.1 3.2 1.1-8.2 1.1-.1 1.1 18.6 1-1 1.1 10.7 1.1-2.3 1-19.8 1.1 7.7 1 3.7 1-12.2 1.1 2.3 1 8 1 3.9 1-.6 1 5.6 1 6.7 1-8.1 1-3.9 1 18.6 1-27.5 .9 11.5 1-2.2 .9-.9 1-14.4 1 13 .9 .5 .9 3.1 1-3 .9-1.6 .9 9.4 .9-1.4 1-4 .9 11.3 .9-6.9 .9-3.1 .9-12.8 .9 15.5 .8 5.4 .9-23.2 .9 9.1 .9 12 .8 8.1 .9-6.4 .9 6.6 .8-6.9 .9 7.8 .8-3.9 .9 2.1 .8-9.5 .9 2.5 .8 6.5 .8 7 .8-11.9 .9 6.2 .8-4.6 .8 1.6 .8-1 .8-4.5 .8 5.1 .8-4.8 .8-2.4 .8 17.5 .8-10.4 .8 11.6 .7 2.9 .8 6.4 .8-7.3 .8 6.7 .7-10.5 .8 9.8 .7-8.5 .8 5.2 .8-8.6 .7 5.8 .8-7.8 .7 15.1 .7-13.7 .8 10.5 .7-3.4 .7 10.7 .8-1.9 .7-5.1 .7 4.8 .7-6.4 .8-5 .7 3.2 .7 5.5 .7 .2 .7 6.8 .7 3.3 .7-.3 .7-2.1 .7-7.7 .7 7.2 .7-.1 .6-13.9 .7 5.6 .7 19.7 .7-13.3 .7 8.1 .6-16.9 .7-.1 .7 11.6 .6-8.3 .7 5.9 .7 5.3 .6-1.6 .7 .4 .6-2.3 .7 1.2 .6 18.9 .7-3.7 .6-.1 .6-10 .7-1.3 .6 6 .7-17.8 .6 10.3 .6-10.4 .6 19.7 .7 .7 .6-11.8 .6 18.7 .6-20 .6 12.5 .7-1.8 .6 2.2 .6 6 .6-8.5 .6-8.7 .6 5.7 .6-8.5 .6 5.7 .6 15.7 .6-5.1 .6-3 .6 10 .6-26 .5 10.7 .6 4.5 .6-4.9 .6 3.2 .6 16.6 .5-3.1 .6-5 .6 9.7 .6 2.1 .5-16 .6 3 .6 9 .5-6.6 .6-6.4 .6 27.6 .5-11.3 .6 3.6 .5-8.5 .6-3.1 .5 15.4 .6-14.8 .5-5.4 .6-7.3 .5 2.8 .6 2.1 .5 .1 .5 24.8 .6-31.6 .5-2.1 .6 13.7 .5 13.1 .5-4.3 .5-3.2 .6 5.1 .5-10.8 .5 3.9 .6 15 .5-11.7 .5 7.8 .5-4.1 .5 16.4 .5-28.6 .6 17.3 .5 5.4 .5-11.3 .5-3.9 .5 8.6 .5 1.2 .5-2.3 .5-5.5 .5 2.6 .5 19.4 .5-8.3 .5-13 .5 13.1 .5-7.7 .5 7.7 .5-2.4 .5 7 .5-13.7 .5-12.3 .5 20.4 .4-8 .5 3.6 .5 3.3 .5-15.4 .5 19.3 .5-.3 .4-9.8 .5 6.8 .5 20.5 .5-15.1 .4-11.9 .5 2.5 .5 13.7 .4-10.2 .5 24.1 .5-11.8 .4 16.2 .5-7.1 .5-17.7 .4-4.8 .5 5.2 .4 24.2 .5-26.7 .5 26 .4-30.4 .5 4.1 .4 11.7 .5-2 .4 10.5 .5 10.8 .4-14.1 .5-10.4 .4 2.8 .5 3.2 .4 9.6 .5 1 .4-10.4 .4 9.5 .5-4.8 .4 1.1"/>
<path d="M723.3 389.5l5.8-5.4 5.5 1.3 5.4 6.3 5.2-.8 5.1-4.3 5 4.3 4.8 7.7 4.6 1.6 4.6 3.9 4.4-.9 4.3 0 4.3-7.3 4.1 8 4-1.3 3.9 .3 3.9 6.8 3.8 3.5 3.6-2.1 3.7 1 3.5 4.7 3.5 7.1 3.4-3 3.3 1.3 3.3-5.4 3.2 9.3 3.1 5.5 3.1 11.4 3.1 6.9 3-1 2.9-2 2.9-11.6 2.9-6.9 2.8 .1 2.7 15.7 2.7 6.5 2.7-2.4 2.7-8.7 2.6-4.3 2.5 1.5 2.5-4.4 2.5-13.1 2.5 7.2 2.4 6.5 2.4 12.1 2.3-7.5 2.3-7.6 2.3 4.8 2.3 3.4 2.2-6.7 2.2 19.3 2.2 5.7 2.1-9.8 2.2 6.2 2.1-.1 2-3.8 2.1 10 2-2.8 2 3.7 2-8.6 1.9 1.6 2 .5 1.9 2.4 1.9 6 1.9-2.3 1.8 4.7 1.8 6.2 1.9-9.7 1.8-3.5 1.7-3.1 1.8-4.9 1.7 9.7 1.8 12.2 1.7-16 1.7 2.9 1.6 13.9 1.7-3.1 1.7 12.5 1.6-2.8 1.6-15.3 1.6-3.2 1.6 21.6 1.5 .2 1.6-17.5 1.5 15.6 1.6-2.3 1.5 7.6 1.5-3.3 1.5-.6 1.5-10.9 1.4 5.4 1.5 4.3 1.4 0 1.5 2.4 1.4-2.3 1.4-3.9 1.4 7.6 1.4 7.1 1.3-14.2 1.4 14.6 1.4 .1 1.3-9.9 1.3 7.6 1.3 9 1.4-10.6 1.3-13.7 1.3 2.5 1.2 2.8 1.3 15.5 1.3-13.3 1.2 12.3 1.3 6.4 1.2-5.6 1.2 1.9 1.3-4.2 1.2 1.9 1.2-.2 1.2 9.9 1.2 10.3 1.1-12.4 1.2-4.6 1.2 0 1.1 1.6 1.2 5.9 1.1 2 1.2 .1 1.1 1.8 1.1-7.6 1.1 .6 1.1 3.7 1.1-.7 1.1 7.7 1.1 .3 1.1-6.1 1 2.8 1.1 .9 1.1-14.8 1 3.3 1.1 2.8 1 11.8 1-2.9 1.1-4.9 1 18.5 1-2.5 1-16.3 1 3.9 1-1.5 1 5.4 1 2.6 1 11.7 1 2.1 .9-24.1 1 4.8 .9 4.2 1 3.5 1-4.4 .9-6.8 .9 1.6 1 4.2 .9 10.8 .9-11.3 .9 12.6 1-2.1 .9 4.8 .9-17.1 .9-.2 .9 12.2 .9 18.9 .8 4.6 .9-5.7 .9-6.4 .9 2.7 .8 .9 .9-8.5 .9-.5 .8-6.9 .9-3.8 .8 4.7 .9 .2 .8-13.5 .9 5.1 .8 2.5 .8 3.5 .8 13 .9 7.6 .8-4.3 .8 11.5 .8-14.1 .8-6.4 .8-.9 .8 5.4 .8-4.2 .8 8.3 .8-11.7 .8 18.1 .7-9.2 .8-.2 .8-.7 .8 7.2 .7-4.3 .8-1.2 .7 3.8 .8-8.6 .8 15.4 .7 1.4 .8 1.9 .7-5.8 .7-11.7 .8 20.5 .7-9.8 .7 7.2 .8 .4 .7-16.2 .7 10.5 .7 8.1 .8-10.2 .7-13.2 .7 2.9 .7 11.3 .7 6.8 .7-9.6 .7 12.5 .7-2.7 .7-9.5 .7 15.2 .7-5.6 .6-8.1 .7 15.5 .7 .7 .7-9.1 .7 4.4 .6 10.2 .7-.7 .7 3.7 .6-6.1 .7 9.4 .7-12.4 .6 11.3 .7-20.9 .6-1.4 .7 4.8 .6 7.8 .7 6.7 .6-3.9 .6-4.4 .7 2.5 .6 2.6 .7 15.2 .6-32.5 .6 7.7 .6-1.1 .7 9.5 .6 9.8 .6-6.8 .6-13.8 .6 16.7 .7-7.9 .6-4.6 .6 2.3 .6 13.4 .6-5.3 .6 6.1 .6 7.7 .6-15.6 .6 9.1 .6-13.3 .6 11.8 .6 1.8 .6 2.6 .5-18.2 .6 14.8 .6-4.7 .6 6.5 .6 .9 .5 5 .6-2.3 .6-1.2 .6 2.9 .5 16 .6-14.9 .6 12.3 .5-5.6 .6-4.5 .6 9.9 .5-3 .6-19.8 .5 10.8 .6-5.8 .5 13.3 .6-11.8 .5 1.7 .6 12.3 .5-9.7 .6-1.5 .5 6.4 .5-15.8 .6 17.1 .5 2.2 .6-18.3 .5 17.1 .5-14.1 .5 9.1 .6 1 .5-10.5 .5 5.5 .6 9.1 .5-11.1 .5 13.5 .5 .5 .5-4.8 .5 13.1 .6-15.5 .5 22.6 .5-9.6 .5-8.2 .5 17 .5 18.6 .5-30.6 .5 1.7 .5 3.3 .5-1.3 .5 5 .5 7.1 .5-9.3 .5-19.7 .5 16 .5-13.8 .5 17.8 .5 2.6 .5-19 .5-7.9 .4 14.1 .5 5.8 .5 9.3 .5-1.9 .5-6 .5-1.4 .4 5.4 .5-1.5 .5 4.6 .5-3.1 .4-.7 .5-3.8 .5 5.3 .4-.8 .5 13.8 .5-6.5 .4-.8 .5-6.8 .5 33.4 .4-13.8 .5 5.1 .4-14.8 .5 9.2 .5-11.5 .4 2.5 .5-16.1 .4 3.5 .5 3.2 .4-8.3 .5 9.4 .4 13.5 .5-7.1 .4-11.2 .5 12.7 .4-3.5 .5 .9 .4-3.7 .4 5.6 .5 1 .4 3.1"/>
<path d="M723.3 397.2l5.8-1.9 5.5-6 5.4 5.4 5.2 12.5 5.1-9.1 5-.5 4.8-1.7 4.6 1.3 4.6 2.1 4.4 7.3 4.3 3.2 4.3-3.3 4.1 .9 4 9.8 3.9 .9 3.9 .1 3.8-7.7 3.6-.5 3.7 0 3.5 8.3 3.5-4.7 3.4 .7 3.3 10.2 3.3 5.3 3.2-2.5 3.1-2.1 3.1-4.8 3.1 1 3 9.4 2.9-2 2.9-6.8 2.9-1.6 2.8 12 2.7-9 2.7 10.1 2.7-4.4 2.7 3.8 2.6 9.7 2.5 .5 2.5-10.6 2.5-.9 2.5 6.4 2.4 3.6 2.4-1.8 2.3 .8 2.3 14.3 2.3-14.4 2.3 5.2 2.2 5.1 2.2 .2 2.2-2.9 2.1-2.4 2.2-1.9 2.1-1.5 2 8.5 2.1 2.9 2-2.8 2 8.3 2-.6 1.9 5.7 2-.4 1.9-4.4 1.9-2.1 1.9 13.7 1.8-16.2 1.8 2.3 1.9-4.3 1.8 1.4 1.7 6.8 1.8-1.9 1.7 8.9 1.8-3.9 1.7 .9 1.7 1.6 1.6-4.9 1.7-2.7 1.7-4.3 1.6 14 1.6 10.5 1.6-1.4 1.6 2.8 1.5-14.9 1.6 1.9 1.5 9.1 1.6-6.3 1.5 13.8 1.5-12.3 1.5 15.4 1.5-15.6 1.4 9.8 1.5-14.8 1.4 5.4 1.5 13.6 1.4-8.4 1.4 7.2 1.4-9.3 1.4 12.4 1.3 5.6 1.4-10.3 1.4-4.1 1.3 2.1 1.3 8.7 1.3-13.4 1.4 6.7 1.3 .8 1.3 8.2 1.2-11 1.3 2.3 1.3 1 1.2 13.6 1.3-4.2 1.2 1.8 1.2-9.4 1.3 4.6 1.2-2.4 1.2-7 1.2 5.6 1.2-3.2 1.1 12 1.2-1.5 1.2-1.5 1.1 6.9 1.2-4.2 1.1-1.5 1.2 6.2 1.1 5.1 1.1-6.9 1.1-8 1.1-3 1.1 15.5 1.1-7.1 1.1-1.1 1.1 13.4 1-11.5 1.1 5.4 1.1 2 1 3.1 1.1-.5 1-9.6 1 13.1 1.1-1 1 4.6 1-5.6 1 10 1-7.2 1-9.7 1 8.7 1 9.7 1-11.6 1 .2 .9 9.9 1-3.6 .9 9.7 1-14.2 1 1.8 .9 5.6 .9 .1 1-6.9 .9 13.1 .9 3.9 .9-8.6 1-6.9 .9-1.9 .9 3.2 .9 2.4 .9 14.3 .9-12.8 .8-6.5 .9 12.9 .9 .1 .9-8.5 .8 10.5 .9-5.3 .9-5 .8 7.6 .9-2.5 .8 4.9 .9-8.7 .8 13 .9-2.7 .8 3.3 .8-.8 .8 3.8 .9 1 .8-12.1 .8 2.6 .8 11.1 .8-7.6 .8 15.6 .8-3.1 .8-6.4 .8-3.8 .8-1.3 .8 13.9 .7-6.3 .8 2.3 .8-4.7 .8 2.4 .7 5.8 .8-.2 .7 9.9 .8-14.4 .8 7.9 .7-7.9 .8-4 .7-1.6 .7 7.6 .8-3 .7 .1 .7 3.3 .8-5.1 .7 10.9 .7-6.1 .7-4.1 .8 20.9 .7-1.6 .7-9.2 .7-.2 .7 11.6 .7-4.3 .7-9.3 .7 7.8 .7-3.4 .7 3.9 .7-5.8 .6 .5 .7-3.8 .7 17.5 .7-7 .7 5.6 .6-3.5 .7-1.8 .7 1.3 .6-6.2 .7 10.9 .7-8 .6 12.4 .7-12.4 .6 3 .7 3.2 .6-2.8 .7-.5 .6 7.5 .6-12.2 .7 6 .6 1.5 .7-1.9 .6 13.5 .6-12.4 .6 8.9 .7-1.7 .6-15 .6 26 .6-14.2 .6-3.3 .7 7.2 .6 3.1 .6-1 .6 6.6 .6-5.5 .6-7.1 .6 12.9 .6 4.5 .6-15.6 .6 7.6 .6 1.2 .6-2.4 .6 1 .5-4.1 .6 4.3 .6 5.4 .6 5.1 .6 8.9 .5-14.1 .6 1 .6 4.2 .6-8.1 .5 3.4 .6-5.1 .6 1.4 .5 9.7 .6 8.8 .6-22.6 .5 4.1 .6 12 .5-2 .6 .7 .5-2.2 .6 .5 .5 4.4 .6-6.8 .5 12 .6-14.8 .5-4.5 .5 6.9 .6 15.8 .5-.3 .6-20.6 .5 7.1 .5-7 .5 7.3 .6 8.5 .5-2.7 .5-2.7 .6-1.7 .5 1.6 .5 6.8 .5-11.6 .5 11.6 .5 6.4 .6 17.3 .5-30.1 .5 2.3 .5 17.5 .5-12 .5-6.3 .5 15.2 .5-9.9 .5 10 .5-19.3 .5 4.9 .5 24.3 .5-13.7 .5 18.8 .5-22.7 .5 4.1 .5 12.3 .5-1.6 .5 2.4 .5-7.9 .4-2.1 .5-10.4 .5 20.4 .5-3.6 .5-18.9 .5 13.3 .4-6.6 .5 4.1 .5 6.8 .5-6.2 .4 26.7 .5-6.2 .5-25.9 .4 15.4 .5 3.6 .5-15.8 .4 7.2 .5-16.8 .5 14.1 .4 12.7 .5-9.1 .4 3.5 .5-7.1 .5 11.4 .4-9.3 .5-1.9 .4-.7 .5 2.5 .4-8.4 .5 8.2 .4-1.7 .5 21.8 .4-14.6 .5 12.3 .4-8.9 .5-2.1 .4 8.5 .4 4.5 .5-9.7 .4 2.9"/>
<path d="M723.3 388.6l5.8 5.8 5.5-6.4 5.4-.3 5.2-2.9 5.1 5.7 5 19.2 4.8 8.1 4.6-7.2 4.6 2.4 4.4-2.2 4.3-6.9 4.3-3.6 4.1-4 4 6.4 3.9 2 3.9 3.4 3.8 .8 3.6 12.1 3.7 7.3 3.5 4.8 3.5 7.2 3.4-6.5 3.3-2.9 3.3-5.4 3.2-1.1 3.1-5.1 3.1 3 3.1-.6 3-2.9 2.9-1.3 2.9 19 2.9 7.8 2.8-16.5 2.7 3.4 2.7 6.7 2.7 3.9 2.7-8.3 2.6 5.7 2.5 14 2.5-5.1 2.5-3.2 2.5-12.3 2.4-1.1 2.4 14.9 2.3-12.1 2.3 7.8 2.3-4.4 2.3 10 2.2 .6 2.2 1.8 2.2 6.1 2.1 5.7 2.2 6.5 2.1-2.3 2-12.4 2.1 5 2-2.3 2 13.8 2-2.5 1.9-3.1 2-14 1.9-2.1 1.9 10.3 1.9-1.1 1.8 14.9 1.8-13.9 1.9 11.7 1.8-4.5 1.7 8.3 1.8-6.7 1.7-10.6 1.8 8.8 1.7 13.7 1.7 3.3 1.6-27.6 1.7 2.4 1.7-7.4 1.6 16.6 1.6 .2 1.6-9.1 1.6 20.1 1.5-13.7 1.6-13.7 1.5 13.3 1.6-2.2 1.5 7.9 1.5-1.2 1.5-8.7 1.5 3.6 1.4 5.4 1.5 17.9 1.4-11.6 1.5 10.4 1.4-5.1 1.4-8.9 1.4 8.6 1.4 9.3 1.3-5 1.4-4.1 1.4 4.2 1.3 17.7 1.3-12.4 1.3-3.1 1.4-8.5 1.3 3.8 1.3 5.8 1.2 5.1 1.3 9.3 1.3 6.5 1.2-5.7 1.3-6.4 1.2-5.3 1.2 24.6 1.3-24 1.2 7.7 1.2-17.9 1.2 13.3 1.2 .9 1.1 .8 1.2-9.8 1.2 .5 1.1-14 1.2 18.9 1.1 1.8 1.2-6.7 1.1 11.7 1.1-6.7 1.1 25.2 1.1-20 1.1 7 1.1-11.3 1.1 7.1 1.1 .9 1-.9 1.1 3.1 1.1 15.6 1-8.6 1.1 5.2 1-16.4 1-6.6 1.1-.2 1 9.3 1 12.4 1 6.3 1-6 1-3.3 1-5.1 1 4.8 1 12.1 1-11.8 .9-3 1-16.8 .9 17.9 1 4.6 1 5.1 .9 2.2 .9-2.3 1-.7 .9 .8 .9 8.8 .9 3.8 1-.8 .9-31.8 .9 19.8 .9-9.2 .9 .4 .9-.9 .8 8 .9-4.1 .9-6.4 .9-.1 .8-3.5 .9 10.5 .9 12.1 .8-5.1 .9 43.4 .8-12.7 .9 .9 .8-3.3 .9-20.4 .8 1.1 .8-9.5 .8 7.1 .9-1.2 .8 18.2 .8-17.4 .8-3.8 .8 19.8 .8 11.9 .8-13.5 .8-5.7 .8-5.6 .8 15.2 .8-12.3 .7 11 .8 11.9 .8-33.3 .8 14.5 .7-1.4 .8-4.9 .7 1 .8-1.7 .8 14.2 .7 15.3 .8 5.7 .7-5.2 .7-16.9 .8 .8 .7-13.1 .7 8 .8 13.4 .7-14.7 .7-3 .7 11.4 .8-18 .7 8 .7-11.4 .7 3.3 .7-1 .7 13.2 .7-7 .7 2.7 .7 19.9 .7-5 .7 2.3 .6 5.5 .7-10 .7-1.6 .7 6.9 .7 19.5 .6-.4 .7-20.7 .7-6.2 .6 1.2 .7 35.5 .7-19.1 .6 13.5 .7 7 .6-15.4 .7-21.8 .6 3.5 .7 17.4 .6-4.8 .6-3.3 .7 28.6 .6-22.6 .7-10.2 .6 9.1 .6-17.7 .6 34.6 .7-31.6 .6-2.5 .6 30.7 .6-10.4 .6-3.1 .7 9.8 .6-4.7 .6-8.9 .6 6.3 .6 12.6 .6 .9 .6-19.9 .6 12 .6-13 .6 7.6 .6 11.9 .6-.9 .6-20.5 .5-11.6 .6 16.7 .6-12.6 .6 2.6 .6 7.2 .5 1.2 .6-10.9 .6 21.7 .6-.5 .5-5.8 .6 4.6 .6-5.1 .5-.2 .6 6.6 .6 17.6 .5-10.8 .6 20.3 .5-4 .6-8.5 .5 3.2 .6-2.6 .5 2.7 .6-6.9 .5-10.1 .6 8.3 .5 3.9 .5-12 .6-4.3 .5-10 .6 11.4 .5-26 .5 21.7 .5 23.4 .6 2.5 .5-14.8 .5 31.5 .6-15.9 .5 30.5 .5-20.6 .5 8.8 .5-20.4 .5 7.5 .6 11.7 .5-8.7 .5-5 .5-7.5 .5 1.8 .5 9.7 .5-15.5 .5 .4 .5 6 .5-.7 .5 9.6 .5-1.3 .5-14.2 .5 16.3 .5-10.8 .5-14.4 .5 1.9 .5 4.8 .5 12.4 .5-3.2 .4-5.6 .5 10.1 .5 3.2 .5-8.7 .5 3.6 .5-.3 .4 4.7 .5-4.5 .5 18.5 .5 24.1 .4-16 .5-8.6 .5-5.1 .4 14.7 .5 3.4 .5-12.8 .4-5.6 .5 8.9 .5-2.9 .4-7.8 .5 .4 .4-11.9 .5-.5 .5 2.5 .4-10.2 .5 25.1 .4 1.1 .5 1.2 .4-3.2 .5-6.7 .4-13.5 .5 7.6 .4 11.9 .5-2.3 .4 24 .5-4.5 .4-10.5 .4 13.3 .5-17.3 .4-4.9"/>
<path d="M723.3 379.8l5.8-2.9 5.5 8.3 5.4 1.3 5.2-2 5.1 8.1 5 3.7 4.8 .2 4.6 2.1 4.6-2.4 4.4 3.9 4.3 6.1 4.3 8.3 4.1 14.6 4-5.2 3.9-1.5 3.9-4.3 3.8 2.7 3.6-6.9 3.7-2.3 3.5-4 3.5 10.4 3.4 2.3 3.3 2.6 3.3 3.8 3.2-2.8 3.1-.2 3.1 .1 3.1-.6 3 1.7 2.9 8.6 2.9-1.4 2.9 .6 2.8-2.9 2.7-4.3 2.7-1.3 2.7-.2 2.7 13.8 2.6 1.1 2.5 4.2 2.5-11.4 2.5 5.3 2.5-.1 2.4 0 2.4-.2 2.3 11.9 2.3-8.1 2.3 4.4 2.3-.3 2.2-3.1 2.2 18.4 2.2-6 2.1 4.9 2.2 2.2 2.1-15.2 2 4.5 2.1 1.5 2 1.3 2 4.1 2 3.2 1.9-5.8 2 .5 1.9 3.5 1.9 4 1.9-7.9 1.8 14.2 1.8-6 1.9 1 1.8 1 1.7-4.9 1.8-.4 1.7 9.3 1.8-9.3 1.7 .5 1.7-5.5 1.6 15.4 1.7 5 1.7-12.6 1.6 15.1 1.6-11.4 1.6 14.3 1.6-6.8 1.5-10.3 1.6 11.5 1.5 5.1 1.6-4.8 1.5 .5 1.5 3.1 1.5-.6 1.5 6.4 1.4-1.8 1.5-1 1.4-3.6 1.5 15.6 1.4-7.3 1.4-9.8 1.4 9.2 1.4-1.2 1.3 0 1.4-3.5 1.4-8.8 1.3 5 1.3 19.3 1.3-14.6 1.4 2.1 1.3 1.4 1.3 13.5 1.2-7.5 1.3-6 1.3 16.4 1.2-6.3 1.3-9 1.2 6.6 1.2-10.6 1.3 21.3 1.2-8.8 1.2-3.9 1.2 18.1 1.2-21.4 1.1 7.7 1.2-8.8 1.2 20.3 1.1-9.5 1.2 2.2 1.1-.2 1.2-7.9 1.1 6.2 1.1 12.1 1.1-16.7 1.1-.7 1.1 7.9 1.1 12.5 1.1-10.4 1.1 14.1 1-11.4 1.1-.6 1.1-3.1 1 1.9 1.1 6.2 1 5.4 1-1.6 1.1-8 1 6.2 1 7.2 1-6.8 1-4.4 1-3.6 1-1 1 18.8 1-4.6 1 5 .9-5.9 1-4.9 .9 3.3 1 5.9 1 5.8 .9-10.6 .9-5.5 1-1 .9-4.9 .9 12.5 .9 1.6 1-4.2 .9-.6 .9 2.6 .9 5.8 .9 2.4 .9 2.9 .8 7.3 .9-19.9 .9 10.7 .9-1.7 .8 3.3 .9 2 .9-5.2 .8 10.4 .9-3.9 .8-13.1 .9 11.3 .8 14.6 .9-23.5 .8 11 .8-3 .8 12.9 .9-3.9 .8-13.5 .8 11.9 .8-6.3 .8 20.8 .8-8.2 .8-14.1 .8 4.2 .8 4.2 .8-5 .8 17.6 .7-25 .8 9.6 .8 8.2 .8-9.8 .7 14.4 .8 11.3 .7-9.2 .8-4.4 .8 8.1 .7-9.1 .8-2.3 .7 8.9 .7-18.9 .8 7.1 .7 11.4 .7-8.4 .8-.8 .7-.3 .7 18.5 .7 2.6 .8-5.1 .7-13.5 .7 3.2 .7-4.7 .7 3.7 .7 .4 .7 .8 .7 6.6 .7 3.2 .7 2.6 .7-8.2 .6-2.2 .7 18.4 .7-25.8 .7 1.2 .7 1 .6 16.1 .7-8.9 .7 12.2 .6-2.2 .7-1.4 .7-15.7 .6 22.3 .7-5.1 .6 2.9 .7-10.4 .6-.5 .7 12.1 .6-1 .6-7.9 .7 .5 .6 3.9 .7-11.7 .6 4 .6 21.4 .6 3.8 .7-15.9 .6 10.8 .6-2.1 .6-5.1 .6 5.9 .7 0 .6 1.6 .6-4.8 .6-1.8 .6 10.3 .6-5.4 .6-4.3 .6 20.8 .6-25.8 .6 6.8 .6 13.5 .6-7.4 .6-8.7 .5 3.6 .6 5 .6-3.2 .6 16.1 .6-13.4 .5 3.4 .6-7.4 .6-2.1 .6 8.4 .5-1.3 .6-3.3 .6 3.5 .5-1 .6 .8 .6-6.1 .5 3.7 .6 8.4 .5-2 .6 5.4 .5 0 .6-13.1 .5 12.6 .6 .4 .5-3.2 .6 18.7 .5-28.6 .5 18.5 .6-4.9 .5 2 .6-10.6 .5-1.3 .5 3.5 .5 5.1 .6 4 .5-4.8 .5-.9 .6 8.1 .5 5.4 .5-15.8 .5 26.9 .5-19.2 .5 8.1 .6-5.5 .5-7.1 .5 1.1 .5 26.3 .5-17.7 .5 7.2 .5 3.2 .5-14.7 .5 1.5 .5 9.9 .5-1.9 .5-12.9 .5-5.6 .5 21 .5 5 .5-17.7 .5 6.7 .5-1.8 .5 3.3 .5-8.6 .4 14.7 .5-6.4 .5 4.7 .5 4 .5 8.5 .5-5.9 .4-9.5 .5 1.1 .5-8.5 .5 26.1 .4-26.8 .5 16.9 .5-6 .4 2.9 .5-5.3 .5 2.8 .4 13.9 .5-4.1 .5-5.6 .4-.4 .5 2.2 .4-2.2 .5 .5 .5-6 .4 3.8 .5 17 .4-13.9 .5 5.1 .4 .7 .5 9.4 .4-15.9 .5 21.5 .4-14.7 .5-9.8 .4 .8 .5 12.5 .4 8.9 .4-24.3 .5 28.1 .4-6.3"/>
<path d="M723.3 380.2l5.8 6.4 5.5 .8 5.4-1.7 5.2 1.7 5.1-9.3 5-.8 4.8 11.5 4.6 .6 4.6 2.2 4.4-.1 4.3 13.4 4.3 6.8 4.1-5.6 4 5.9 3.9 11.8 3.9-5.8 3.8 21.2 3.6-1.7 3.7-8.5 3.5-8.6 3.5 5.8 3.4-4.5 3.3-3.3 3.3 8.6 3.2 4 3.1 23.3 3.1-3.9 3.1-14.3 3 15.5 2.9-.8 2.9-7.1 2.9-7.6 2.8-9.2 2.7-2.3 2.7-9.2 2.7-.5 2.7 15.3 2.6 16.7 2.5-14.7 2.5-.5 2.5 1.2 2.5 4.4 2.4-9.4 2.4 4.1 2.3 9.9 2.3 1.3 2.3 4 2.3-10 2.2 13.7 2.2-.3 2.2-4.7 2.1 6.3 2.2 11.5 2.1 5.2 2-2.6 2.1-13.7 2 2.5 2-.3 2 5.8 1.9-7.1 2 8.8 1.9-14 1.9 17.9 1.9 4.5 1.8 14 1.8-13.3 1.9 7.3 1.8 8.3 1.7-32.8 1.8-.5 1.7-1.5 1.8 8 1.7-7.3 1.7 .3 1.6-.7 1.7 9.9 1.7-14.8 1.6 15.8 1.6-4.9 1.6 13.5 1.6-2.4 1.5-5.5 1.6 14.6 1.5 9.1 1.6-12.3 1.5 18 1.5-21.8 1.5 8.5 1.5 1.1 1.4-3.7 1.5-3.5 1.4 1.9 1.5-11.2 1.4 11.6 1.4 .6 1.4 10.3 1.4-14.2 1.3 12 1.4-4.9 1.4 7.1 1.3 .6 1.3-3.7 1.3 8.2 1.4-8.7 1.3 14.4 1.3-4.8 1.2-11.7 1.3 20.7 1.3-2.6 1.2-1.5 1.3-8 1.2-14.3 1.2 17.7 1.3-7.4 1.2 6.5 1.2-8.8 1.2 13.1 1.2-6.2 1.1 13 1.2 9.4 1.2 .6 1.1-20.5 1.2 8.3 1.1-5.1 1.2-1.2 1.1-8.9 1.1 4.3 1.1-8.8 1.1 10.8 1.1 9.4 1.1-3.2 1.1 3.1 1.1-5.8 1-.9 1.1 9 1.1-7.8 1-.1 1.1-1.5 1 6.5 1 5.2 1.1 7.5 1 .2 1-14.1 1 1.4 1 20.8 1-6.4 1-10 1 3.3 1 13.2 1 .9 .9-21.3 1 12.5 .9-2.6 1 2.9 1 .3 .9-.6 .9 .8 1-1.5 .9-7.6 .9 12.2 .9-5.5 1 10.9 .9-5.9 .9-15.9 .9 13.8 .9 4.9 .9 4.6 .8-15.2 .9 16.6 .9 2.8 .9 4.6 .8-10.3 .9 4.3 .9-3.3 .8 3.8 .9 4.3 .8 9.1 .9 15.2 .8-17.2 .9 5.5 .8-5.2 .8 1.1 .8-10.2 .9-6.5 .8 1.9 .8 2.9 .8 17.9 .8-6.3 .8-7.1 .8 3.7 .8-23.1 .8 20.3 .8-2.2 .8-2.8 .7-15.5 .8 14 .8 4.9 .8 4.1 .7 .1 .8 1.6 .7-4.6 .8-11 .8 21.8 .7 6.4 .8-4.9 .7-8.5 .7-.3 .8-1.9 .7 20.3 .7-12.6 .8 4 .7 7.6 .7 16 .7-15.5 .8-2.9 .7 18.1 .7-21.6 .7-6.1 .7-12.6 .7 10.4 .7 7.8 .7-4.3 .7 13.7 .7-12.1 .7 12 .6-18 .7 29.4 .7-7 .7-18.6 .7 11.8 .6-.2 .7 7.8 .7-14.9 .6-1.5 .7 21.2 .7-28.4 .6 2.9 .7 3.4 .6 17.5 .7-8.9 .6-5.5 .7 13.3 .6 2.9 .6 2.7 .7-9.7 .6 18.4 .7 5 .6-25.5 .6-11.4 .6 6.5 .7 5.1 .6 15.1 .6-2 .6 1.1 .6-6.9 .7 1.9 .6-7.3 .6-9 .6 6.6 .6 12.5 .6 13.3 .6-20.8 .6 10.4 .6 8.4 .6 12.1 .6-7.8 .6 1.5 .6 1.4 .5-8.4 .6-11.5 .6-6 .6 5.1 .6 1.3 .5-7.4 .6 6 .6-2.5 .6 16 .5 4.1 .6-4.5 .6-11.9 .5 24.4 .6-10.1 .6 14.2 .5-17 .6 2.1 .5 4.7 .6-13.3 .5 5.5 .6 1.3 .5-19.3 .6 31.6 .5 5.5 .6-5.2 .5-21 .5 11.5 .6-9.5 .5 2.9 .6 5.7 .5 2 .5 2 .5-4.7 .6-2.8 .5 4.9 .5-1.3 .6 1.2 .5-11.9 .5 14.3 .5 10.5 .5-26.6 .5 14.5 .6 6.6 .5-1 .5 7.3 .5 12.8 .5-4 .5-8.6 .5 5.1 .5 1.1 .5-11.2 .5 12.9 .5 .9 .5-9 .5 7.6 .5-10.2 .5-10.6 .5 12.6 .5-.9 .5 7.9 .5 2.2 .5-14.4 .4 4.2 .5 6.9 .5 3.5 .5-7.8 .5 2.3 .5 9.8 .4-.8 .5-12.9 .5 24.9 .5-12.1 .4-9.7 .5-4.7 .5-2.5 .4 12 .5-10.3 .5 8.6 .4 5.3 .5-4.7 .5 4.6 .4-9 .5 1.3 .4 4 .5-12.1 .5 .4 .4-10.5 .5 15.4 .4 .4 .5-5 .4 .9 .5 25.2 .4 16.9 .5 1.1 .4-9.5 .5-13 .4 6.4 .5-12.7 .4-16.5 .4 6.4 .5 16.8 .4 13"/>
<path d="M723.3 384.8l5.8 9.2 5.5-2.5 5.4 5 5.2-7.5 5.1 13.3 5 5.6 4.8-12.2 4.6-2.7 4.6 5.5 4.4 4.1 4.3-8.7 4.3 2.9 4.1 5.3 4 1.4 3.9 13.9 3.9 .9 3.8-9.1 3.6 .3 3.7-3 3.5 .5 3.5 9.3 3.4-1.7 3.3 4.3 3.3 12.6 3.2-3.5 3.1 6.7 3.1-1.8 3.1 11.1 3 1.1 2.9-5 2.9 1.9 2.9-3.9 2.8 1.1 2.7-3.9 2.7 8.3 2.7-5.7 2.7 8.4 2.6 5.5 2.5-15 2.5-4.5 2.5-8.6 2.5 13.9 2.4-7.1 2.4 1 2.3 .2 2.3 .2 2.3 3.1 2.3 3 2.2-.4 2.2 16.7 2.2-3.6 2.1 3.5 2.2-8.1 2.1 .7 2 5.8 2.1-7.6 2 2.5 2-3.2 2 13.2 1.9-2.6 2 2.1 1.9-10.3 1.9 15 1.9-4.5 1.8 9.3 1.8-1.7 1.9-8.2 1.8-.2 1.7 7.5 1.8 3.4 1.7-9.2 1.8 6.9 1.7-1.4 1.7 10.1 1.6 1.7 1.7-9.2 1.7-3.9 1.6 11.9 1.6 9.9 1.6-17.5 1.6 .6 1.5-5.8 1.6 20.8 1.5-1.9 1.6-10.3 1.5 2.5 1.5-2.4 1.5 7.7 1.5 6 1.4-21 1.5 6.8 1.4 1.5 1.5 7.4 1.4-6.3 1.4 8.1 1.4 3.4 1.4-6.2 1.3-10.2 1.4 15.7 1.4 5.4 1.3 1.7 1.3-4.9 1.3 14.6 1.4-9 1.3 5.5 1.3 8.2 1.2-6.9 1.3-7.2 1.3 .8 1.2 5.3 1.3-2.2 1.2-11.3 1.2 .7 1.3 5.6 1.2 12.4 1.2-8.9 1.2-1.5 1.2 14.8 1.1-4.5 1.2-.1 1.2-11.1 1.1 7.5 1.2 .2 1.1-9.9 1.2 13 1.1-.5 1.1 7.4 1.1-4.9 1.1 1.3 1.1 4 1.1-13.6 1.1 16.5 1.1-9.9 1 .4 1.1-.3 1.1-5.4 1 3.8 1.1 23.9 1-13.1 1 1.6 1.1-19.7 1 5.8 1 12.5 1-8.6 1 16.7 1-7.6 1 3.8 1-8.8 1 12.5 1-10.3 .9 2 1-.8 .9 15.2 1-8.7 1-6.3 .9 6.8 .9-5.4 1 6.6 .9 1 .9-1.6 .9 2.2 1 5.7 .9-14.1 .9 19.1 .9-6.5 .9-1.3 .9 2.7 .8-6 .9 3 .9 4.1 .9-15.9 .8 19.6 .9-3 .9-17.3 .8 4.2 .9 .9 .8 8 .9 8.6 .8-12.6 .9 7.6 .8 12.2 .8 6 .8-9.6 .9 6.3 .8-5.6 .8-2.4 .8-.2 .8 3.3 .8 1.7 .8 3.7 .8 .6 .8-10.9 .8 7.6 .8-3 .7 2.5 .8-1.6 .8 5.9 .8-2.1 .7-2.9 .8-8.1 .7 11.9 .8-6.2 .8 18.1 .7-18.7 .8 1.5 .7 6.1 .7-3.7 .8 10.8 .7 11.8 .7-7.8 .8-4 .7 2.6 .7-12.4 .7 4.6 .8 11.2 .7-6.1 .7 5.6 .7-10.6 .7 9.2 .7-8.6 .7 6.5 .7 .1 .7-.5 .7-10.9 .7 1.9 .6 9 .7 6 .7-3.4 .7-1.4 .7 10.7 .6-13.4 .7 4.3 .7 10.2 .6-7.1 .7-1.9 .7 2.9 .6-5.6 .7 16 .6-6.2 .7-9 .6 10.8 .7-17.4 .6 15.8 .6 11.9 .7-24.8 .6 17.6 .7 7.4 .6-10.4 .6 13.6 .6-10.2 .7 1.5 .6-9.8 .6 7.1 .6-5.3 .6 10.8 .7-8.4 .6-5 .6 11.1 .6-16.8 .6 14.7 .6-2.7 .6 6.6 .6-3.6 .6-.4 .6 .7 .6 5 .6-5 .6 7.6 .5 5.3 .6-3.4 .6-.5 .6-12.7 .6-2.6 .5 25.9 .6-5.5 .6-11.7 .6 6.8 .5 3.4 .6-11.6 .6-.1 .5 26.9 .6-9.5 .6-6.6 .5 5.6 .6 2.4 .5-13.6 .6-9.3 .5 11.7 .6-3.2 .5 .6 .6 2.5 .5-4.6 .6 3.1 .5 12.6 .5 2.9 .6 12.6 .5-25.4 .6-3.3 .5 3.5 .5 6.3 .5-5.4 .6 9.9 .5 2.6 .5-3.7 .6-.5 .5 4.7 .5 1.2 .5 1.9 .5-6.9 .5 2.9 .6 6.9 .5-15.8 .5 19.2 .5-9.4 .5-10.7 .5 2.7 .5 12.5 .5-1.5 .5-11.8 .5 8.5 .5 9.1 .5 4.6 .5-10.1 .5-.2 .5 5.6 .5-1.3 .5 9.6 .5-8 .5 1.9 .5-7.5 .4 8.4 .5-8.1 .5 .3 .5-6.5 .5 7.4 .5 12.7 .4-5.4 .5 8.5 .5-21.4 .5 10.8 .4 12.2 .5-15.4 .5 5.9 .4 10 .5-21.6 .5 11.5 .4 1.7 .5 6 .5-6.2 .4-8.4 .5 9.4 .4-3.2 .5 .9 .5-.2 .4 2.2 .5 4 .4-20.7 .5 20.9 .4 14.6 .5-23.2 .4-12.6 .5 7.1 .4 11.3 .5 12.3 .4-11.2 .5 8 .4 3.2 .4-4.4 .5-4.2 .4-8.2"/>
<path d="M723.3 382.3l5.8-1.4 5.5 11.6 5.4 11.1 5.2-8 5.1-9.1 5 8.7 4.8-7.7 4.6 1.7 4.6 13.1 4.4-2.7 4.3-1.7 4.3 .4 4.1-6.2 4 5.9 3.9 10 3.9-4.1 3.8-5.9 3.6 3.3 3.7-4.9 3.5 3.4 3.5 9 3.4 8.9 3.3-1 3.3 4.4 3.2 .5 3.1 2.2 3.1-.7 3.1-12.5 3 7.6 2.9 2.9 2.9-2.4 2.9-.8 2.8 2.2 2.7 3.2 2.7 12.7 2.7-1.7 2.7 8.6 2.6 5.8 2.5-16.9 2.5-2.7 2.5-2.2 2.5 9.6 2.4 2.3 2.4-1.1 2.3 1.1 2.3-7.3 2.3 7.3 2.3-4.7 2.2 2.9 2.2 6 2.2 3.7 2.1 5.1 2.2-3.6 2.1 5.1 2-.6 2.1 6.7 2-10 2 4.1 2 8.7 1.9-10.4 2 1.1 1.9-8.8 1.9-2.5 1.9 6.4 1.8 7.1 1.8-6.9 1.9 11 1.8 1.1 1.7-.5 1.8-1.8 1.7 16 1.8-2.5 1.7 15.2 1.7-16.5 1.6-1.4 1.7 8.8 1.7-10.2 1.6-2.7 1.6 8.6 1.6 2.4 1.6-10.3 1.5 3.7 1.6 11.6 1.5 1.6 1.6-5.6 1.5-5.9 1.5 9 1.5 15.8 1.5-10.2 1.4 4 1.5-3.3 1.4 1.9 1.5 13.4 1.4-19.8 1.4-4.4 1.4 .7 1.4 2 1.3-11.5 1.4 14.6 1.4-4.2 1.3 4.6 1.3 .6 1.3-4.6 1.4 4.4 1.3-9.1 1.3 22.8 1.2-12.1 1.3 12.1 1.3 2.1 1.2-8.5 1.3 3.8 1.2-12 1.2 17.3 1.3-17.8 1.2 23.2 1.2-28.3 1.2 19.4 1.2-.6 1.1-12.3 1.2 9.8 1.2 .4 1.1 8.4 1.2-18.5 1.1 9.6 1.2-5.5 1.1-3.9 1.1 17 1.1-9.5 1.1 .9 1.1 11.9 1.1-5.6 1.1 .3 1.1 13.7 1-.1 1.1 2.3 1.1 1.5 1-10.3 1.1-6.4 1 9.6 1 5.1 1.1 15.9 1-9.9 1 4.4 1-8.1 1-10.5 1 8.5 1-13.6 1 .6 1 2.8 1 7.4 .9-8.7 1 10.5 .9 .3 1 10.5 1-6.4 .9 2.1 .9-4.1 1 1.8 .9-11.6 .9 10.6 .9-3.6 1-6.8 .9 4.6 .9 3.9 .9 .7 .9 .3 .9-.2 .8 9.3 .9 10.7 .9-2.4 .9 3.9 .8-20.4 .9 10.9 .9 3.4 .8-21 .9 16.2 .8-2.7 .9-11.2 .8 19.3 .9 9.3 .8-9 .8 3.4 .8 7 .9-1.7 .8 3 .8-4.7 .8 0 .8-11.3 .8 .6 .8 7.7 .8 2.4 .8-5.2 .8-1.9 .8-7.1 .7-2.2 .8 5.3 .8 4 .8 15.8 .7-20.8 .8 6.9 .7 11.6 .8 10.7 .8 10.1 .7-27.8 .8 10.8 .7-5.6 .7 8.6 .8 10.9 .7-21.6 .7 1.7 .8 19.5 .7 0 .7-13.4 .7 5.9 .8-1.9 .7 24.3 .7-14.4 .7-21.4 .7 6.7 .7-9.8 .7 12.5 .7-9.8 .7-2.4 .7 14.3 .7 1.3 .6-6.9 .7 1.7 .7 1.8 .7 1.9 .7-2.2 .6 2 .7-1.3 .7-3.6 .6 6.2 .7 15.2 .7-3.7 .6-10.9 .7-4.7 .6 10.5 .7-12.4 .6-5.3 .7 5.1 .6 7.9 .6 6.7 .7 5.1 .6 1.8 .7-12 .6-7.7 .6 12.6 .6 6.8 .7-1.8 .6-5.6 .6-6 .6 16.1 .6-8.1 .7-5.9 .6 23.2 .6-3.8 .6-12.9 .6-.7 .6 24.6 .6-12.8 .6-6.6 .6-4.7 .6-2.6 .6-3 .6 16.2 .6 0 .5-6.7 .6 5.6 .6-11.3 .6 24.6 .6-14.7 .5-4.7 .6 6 .6 13.9 .6 10.9 .5-11.4 .6 17.9 .6-23.5 .5 4.1 .6-4.6 .6 .7 .5 5.2 .6-1.4 .5-3.1 .6 6.5 .5-14.4 .6 15.7 .5-2.7 .6 8.2 .5-15.3 .6-5.8 .5 16.9 .5-7.9 .6-3.8 .5 6.8 .6 1.3 .5 12.2 .5-2.5 .5-19.7 .6-.8 .5-6.7 .5 21.5 .6-7.2 .5 15.5 .5-19.2 .5-5.4 .5 14.5 .5-5.9 .6-3.5 .5 .4 .5-.6 .5 10.6 .5-.5 .5-10 .5-3.7 .5 25.1 .5-4.9 .5-12.8 .5 9.4 .5 6.5 .5-9.9 .5-7.5 .5 10 .5 6.8 .5-4.1 .5-6.4 .5 12.4 .5-12.4 .4 2.9 .5-12.5 .5 17.7 .5-6.8 .5-1.2 .5 10.3 .4-13 .5-1.3 .5 6.9 .5 6.7 .4 13.6 .5-11.1 .5-1.6 .4 3.5 .5-8.6 .5 5 .4 6.1 .5 7.8 .5 .4 .4 11.3 .5-22 .4-.9 .5 10.7 .5 9.2 .4-9.2 .5-22 .4 25.8 .5 .3 .4-18.8 .5-1.3 .4 4.5 .5 4 .4-1.6 .5 11.6 .4-3.3 .5 11.4 .4-3.9 .4 2.8 .5-16.2 .4 3.5"/>
<path d="M723.3 391.6l5.8-2.6 5.5 13.7 5.4 4.8 5.2 4.8 5.1-15.1 5 1.6 4.8-7.2 4.6 6.6 4.6 3.3 4.4 7.3 4.3 3.6 4.3 6.2 4.1-1.4 4-3.1 3.9-2.6 3.9-3.1 3.8 5.9 3.6-1.4 3.7 4.2 3.5 4.4 3.5 7.9 3.4-7.3 3.3 7.9 3.3-4.8 3.2-6.6 3.1-2.5 3.1 6.3 3.1 15.4 3-9 2.9-2 2.9-11.8 2.9 5.3 2.8 27.6 2.7-27 2.7 10.6 2.7 4.5 2.7 16.2 2.6 9.4 2.5-13.9 2.5-13.4 2.5-1.3 2.5 9.5 2.4-4.3 2.4 3.6 2.3 23.1 2.3-20.8 2.3 11 2.3 .7 2.2-7.1 2.2 .4 2.2 10.1 2.1-17.2 2.2 1.5 2.1 9.1 2-1.9 2.1-10 2 7.1 2 .6 2 20.5 1.9-8.7 2-2.3 1.9-5.3 1.9 7.7 1.9-5.9 1.8-7.5 1.8 .9 1.9 .2 1.8 7.2 1.7-3.6 1.8 20.6 1.7 9.9 1.8 2.7 1.7-11.3 1.7 2.2 1.6-6 1.7 8.2 1.7-.8 1.6-11 1.6 9.9 1.6 11.9 1.6-13.3 1.5-11.7 1.6 15.6 1.5-12.7 1.6 .6 1.5 5.8 1.5-5.5 1.5 4.6 1.5-7.6 1.4 7 1.5-.6 1.4 6 1.5-5.1 1.4-9.7 1.4 31.2 1.4-6.9 1.4 25 1.3-8.8 1.4-12.2 1.4-.1 1.3 5.7 1.3-7.4 1.3 1.3 1.4-5 1.3 8.9 1.3 1.5 1.2 6 1.3 .7 1.3-9.2 1.2 2.3 1.3 14.9 1.2-7 1.2-3.5 1.3-8.2 1.2 10.2 1.2-14.4 1.2 11.7 1.2-2.8 1.1-4.1 1.2-3.3 1.2 10.4 1.1 10.2 1.2-22.7 1.1-2.5 1.2 3.4 1.1-5.3 1.1 21.6 1.1-5.7 1.1-7 1.1 15.6 1.1-11 1.1 14.6 1.1-4.6 1 24.4 1.1-27.4 1.1-4.4 1 15.8 1.1-.5 1-15.2 1 5.3 1.1 4.2 1 3.2 1 .6 1-10.4 1 30 1-14.7 1-17.4 1 21.9 1-12.6 1 .1 .9-3.3 1 12.9 .9 10.6 1-5.5 1-10 .9 .3 .9-.4 1 8.4 .9-.7 .9-13.3 .9 18.2 1-24.9 .9 19 .9-.5 .9-13.6 .9-3.6 .9 10 .8 1.8 .9 4.7 .9 9.3 .9 1 .8-15.9 .9-2.3 .9 9.3 .8 5.9 .9 15.1 .8-15.1 .9 19.8 .8-14.2 .9-18.6 .8 17.5 .8 22.3 .8 3.2 .9-25.5 .8 3.5 .8-11 .8 8 .8 1.1 .8-1.4 .8 12.8 .8-12 .8-2.7 .8-7.3 .8 10.6 .7 6.1 .8 4.2 .8 7.7 .8 7.2 .7-20.6 .8 .4 .7-7.3 .8-.2 .8 2.4 .7 4.8 .8 3.7 .7 16.5 .7-13.9 .8-4.4 .7 7.9 .7-17.7 .8 1.3 .7 12.5 .7-9.8 .7 9.9 .8-2.1 .7 19.4 .7-15.7 .7 9 .7 1.5 .7 3.7 .7 1.7 .7-8.5 .7 14.1 .7 12.3 .7-19.9 .6-3.1 .7-7.3 .7 7.7 .7-5.7 .7-.7 .6-6 .7-.9 .7 6.5 .6 8.9 .7-2.3 .7 5.8 .6-17 .7 4.9 .6 18.5 .7 .6 .6-13.1 .7-.7 .6 3.1 .6-3.7 .7 11.5 .6 6.5 .7-15.9 .6 14.2 .6 9.2 .6-22 .7 19 .6-4.6 .6-10.3 .6 3.5 .6 6.6 .7 3.7 .6-11.8 .6 .4 .6-18.4 .6 14.8 .6 15.9 .6-27.1 .6 12.2 .6-6.2 .6-.4 .6 21.9 .6-11.9 .6 9.2 .5 5.8 .6-6.4 .6 3.9 .6-1.1 .6 8.1 .5-4.7 .6-1.3 .6 21.2 .6-19.4 .5-8.3 .6 .9 .6 16.3 .5 5 .6-11.7 .6 3.8 .5 8.6 .6-13.5 .5-2.1 .6-13 .5 11.9 .6 3.2 .5 8.5 .6-9.1 .5 6.6 .6 7.3 .5 4.3 .5 5.9 .6-7 .5-2.8 .6 12.2 .5 6.4 .5-8.8 .5-8.5 .6-4 .5-8.2 .5 9.9 .6-4 .5-3.7 .5 19.3 .5-15.6 .5-18.2 .5 26.5 .6-17.7 .5 18 .5 .5 .5-19.8 .5 3.4 .5 2.7 .5 23.5 .5-14.1 .5-4.8 .5 6.4 .5-22.4 .5 16.4 .5-4.2 .5 15.8 .5-7.6 .5-5.6 .5 .6 .5 6.4 .5 .6 .5 3.6 .4-10.8 .5 29.2 .5-11.1 .5-11.4 .5-3.9 .5 2.9 .4 15.5 .5-12.4 .5 18.6 .5-1.4 .4-9.1 .5-3.1 .5 7 .4-4.5 .5 20.5 .5-29.6 .4 5.9 .5 2.7 .5 13.4 .4-3.4 .5-3.1 .4-1.9 .5 8.7 .5-12.8 .4 7.5 .5-5.4 .4-8 .5 9 .4 11.1 .5 4.4 .4-3.2 .5-20.3 .4 1.9 .5 14.3 .4 1.3 .5 11.8 .4-26.3 .4 20.7 .5-1.6 .4-13.9"/>
<path d="M723.3 379.1l5.8 5 5.5 9.5 5.4 7.4 5.2-2.4 5.1 1.6 5-8 4.8-4.7 4.6 5.8 4.6 8.3 4.4-5.9 4.3 1.6 4.3 1.3 4.1 19.1 4-5.4 3.9-10.1 3.9 5.1 3.8-8.9 3.6 12.6 3.7 3.6 3.5-6.9 3.5 7.1 3.4-.1 3.3 1.2 3.3-8.9 3.2 7.7 3.1 9.5 3.1-7.7 3.1 14.5 3 5.3 2.9-6 2.9 2.8 2.9-1.4 2.8-.6 2.7 .4 2.7 5.5 2.7-8.6 2.7 6.4 2.6-2.3 2.5 26.3 2.5 7.1 2.5-1.9 2.5-11.1 2.4-8.3 2.4 7.6 2.3 0 2.3 4.6 2.3-13.2 2.3 .2 2.2 4 2.2-4.3 2.2 13.3 2.1-2.9 2.2 8.3 2.1-1.9 2-8.1 2.1 .8 2-13 2 13.7 2-3.7 1.9 6.3 2 8.5 1.9-.8 1.9 .2 1.9 .9 1.8-16 1.8 13.5 1.9 10.9 1.8-10.3 1.7 2 1.8-3.3 1.7 6.4 1.8-3 1.7 1 1.7-8 1.6-1 1.7 1.8 1.7 .2 1.6 12.1 1.6-6.9 1.6 11.2 1.6 8.4 1.5-10.8 1.6-4.3 1.5 6.7 1.6-12.7 1.5 2.4 1.5 1.2 1.5 .8 1.5 38.1 1.4-8.1 1.5-14.3 1.4 2.3 1.5 7.5 1.4-4.8 1.4-4.9 1.4-10 1.4 12.5 1.3-5.3 1.4-3.7 1.4 17.8 1.3 .9 1.3 1.3 1.3-11.4 1.4 6.9 1.3-4.5 1.3 8.1 1.2 7.9 1.3 .7 1.3-12.7 1.2-3.3 1.3 3.9 1.2-12.8 1.2 .2 1.3-12.7 1.2 29.6 1.2 4.8 1.2 .8 1.2-15.6 1.1 8.2 1.2 1.2 1.2-11.4 1.1 10.9 1.2 6.9 1.1 8.1 1.2 4.8 1.1-10 1.1 5.2 1.1-.7 1.1 2.7 1.1 5.3 1.1 .7 1.1-10.6 1.1-21.4 1 5 1.1 5.1 1.1 8.8 1-17.2 1.1 12.4 1 8.1 1-2.3 1.1 14.7 1-21.5 1 11 1 .9 1-14.2 1-5.3 1 21.8 1-8.9 1 11.1 1 2.1 .9-16.4 1 12.4 .9-3.4 1 11.3 1-13.3 .9 7.9 .9-13.4 1 4.2 .9 13.6 .9-1 .9 3.6 1 4.4 .9-12.9 .9 4.2 .9-9.9 .9 1 .9 8.9 .8 12 .9-11 .9-1.7 .9-4.1 .8-6.9 .9 1.9 .9 3.5 .8 19.1 .9-16.5 .8 7.5 .9-.6 .8-.5 .9 10.2 .8 2.7 .8 4.8 .8-2.6 .9 3.2 .8-6.9 .8-3.9 .8-.8 .8 6.1 .8-11.1 .8 17.3 .8 4.6 .8 1.6 .8-.1 .8 10 .7-22.5 .8 27.3 .8-10.7 .8-21.7 .7 8.5 .8 6.3 .7-7.7 .8 16.9 .8-24.2 .7-.8 .8 2.5 .7 6.7 .7 7 .8-2.8 .7 3.4 .7-2.1 .8-.7 .7 13.4 .7-16.5 .7 16.7 .8-18.3 .7 4.5 .7-7.1 .7-5.5 .7-2.8 .7 17.5 .7-5.5 .7 3.2 .7-8.8 .7 7.3 .7 13.9 .6-9 .7-4.8 .7-2.5 .7 19.2 .7-22.2 .6 23.2 .7-20.9 .7 9.2 .6 2.1 .7 18.2 .7-32.8 .6 15.6 .7-9 .6 3.2 .7 9 .6 1.1 .7 13.4 .6-10.1 .6 6.2 .7 .9 .6-12.3 .7 2.4 .6-2.8 .6-2 .6 21.3 .7-11.2 .6 5 .6 5.8 .6-11.3 .6-3.7 .7 21.4 .6-12.8 .6 10 .6-15.9 .6-3.9 .6 6.2 .6-12.1 .6 10.3 .6-2.5 .6-13.5 .6 35.6 .6-3.7 .6-.2 .5-11.9 .6 4.1 .6 3.2 .6-3.2 .6 10.7 .5-4.9 .6 6.2 .6-19.7 .6 1.9 .5-1 .6 27.2 .6-18.7 .5 8.1 .6-2.5 .6-9.7 .5-1.8 .6 15.9 .5 1.6 .6-7.4 .5-1 .6 .5 .5 4.4 .6-8.8 .5 9.1 .6 4.4 .5 4 .5 10 .6 14.8 .5-14.3 .6 10.9 .5 .1 .5-4.9 .5-6.5 .6 2 .5 3.3 .5-21.8 .6 1.2 .5 10.7 .5-11.7 .5-.6 .5 18.6 .5-17 .6 15.1 .5 10.9 .5-26.4 .5-1.4 .5 23.3 .5-16.2 .5-7.6 .5 15.1 .5 13.9 .5-7.5 .5 2.2 .5-9.9 .5-12.8 .5 12.5 .5 4.6 .5-9.6 .5 21.2 .5-22.9 .5 5 .5 9 .4-9.6 .5-3.7 .5 16.2 .5-6.1 .5 2.8 .5 6.6 .4-10.8 .5 14.8 .5-7.8 .5 14 .4-19 .5-10.2 .5 10.6 .4 27.8 .5-14.4 .5-16.9 .4 15.7 .5-8.7 .5 10.9 .4-.1 .5 15.5 .4-17.6 .5-.6 .5 10.3 .4-4.6 .5-5.1 .4 15.5 .5-32.6 .4 9.9 .5 16.9 .4-9.5 .5-6.8 .4 21.7 .5-11.7 .4 25 .5-8.8 .4-12.5 .4 4.5 .5 1.9 .4-6.5"/>
<path d="M723.3 395.4l5.8-.9 5.5-2.1 5.4 2.7 5.2-2.5 5.1 8.9 5 2.1 4.8 6.9 4.6-7.8 4.6 1.6 4.4 1.4 4.3 2.2 4.3 .6 4.1-1.9 4-6.3 3.9 3.8 3.9-.9 3.8 4 3.6 .5 3.7 10.5 3.5-.1 3.5-5.5 3.4-.4 3.3 3.4 3.3 13.3 3.2-2 3.1 1.3 3.1-4 3.1-2.5 3 3.6 2.9 3.6 2.9-4 2.9 3.2 2.8-10.6 2.7 10.8 2.7-2 2.7 3.2 2.7 5.4 2.6 3.5 2.5 10.3 2.5-11.4 2.5 2.2 2.5-.1 2.4 3.1 2.4 4.3 2.3-10.4 2.3 8 2.3-5.6 2.3 2.4 2.2 .6 2.2-6.1 2.2 9 2.1 2.6 2.2-7.5 2.1-.8 2-1.5 2.1 14.8 2 8.2 2-8.6 2 6.2 1.9-1.5 2-2.8 1.9 5.2 1.9-5.2 1.9 5.2 1.8 4 1.8-3.4 1.9 4.2 1.8-2.1 1.7 10.1 1.8-1.3 1.7-8.8 1.8 10.5 1.7-7.8 1.7 2.5 1.6 8.2 1.7-6.6 1.7 3.4 1.6-10.8 1.6 4.7 1.6 8.5 1.6-6.3 1.5 2.6 1.6 11.7 1.5-.6 1.6 1.7 1.5-10.9 1.5-1.8 1.5 7.6 1.5 1.6 1.4-11.4 1.5 17.6 1.4 5.5 1.5 1.1 1.4-2 1.4 1.9 1.4-10.2 1.4 11.7 1.3-14.8 1.4-13.5 1.4 .5 1.3 23.5 1.3-13.6 1.3 14.4 1.4-11.4 1.3 14.6 1.3-2.8 1.2-2.2 1.3-6.4 1.3 10 1.2-5.4 1.3-7.8 1.2 4 1.2 13.8 1.3 1.7 1.2-11.9 1.2 5.6 1.2-5.4 1.2 14.5 1.1-13.1 1.2 4.6 1.2-6 1.1 18.7 1.2-1.9 1.1-11.1 1.2 2.2 1.1 4.8 1.1 1.3 1.1-1.6 1.1-.7 1.1 6.5 1.1-6.4 1.1 12.4 1.1-12.2 1-6 1.1 25.7 1.1-9.1 1 2.8 1.1-12.9 1 17.3 1-2.1 1.1 5.3 1 5.3 1 .6 1 1.7 1-9.3 1 5.9 1-1.4 1-8.5 1-9.7 1 18.4 .9 2.7 1-3.9 .9-1.2 1-7.2 1 6.5 .9-.4 .9 7.9 1-.6 .9-9.3 .9 5.5 .9-5.6 1-9.7 .9 15.2 .9-1 .9 8.1 .9-7.8 .9 7.4 .8-13.6 .9 9.8 .9 11.9 .9-5.4 .8-17.2 .9 21 .9-12.3 .8 10.2 .9-8.3 .8 10 .9-8.1 .8-.1 .9-8.3 .8 9.8 .8 1.6 .8 1.1 .9 13.1 .8-27 .8-1.8 .8-.4 .8 19 .8 2.9 .8-11.6 .8 16.2 .8 5.4 .8-12.1 .8-.6 .7-21.4 .8 15.7 .8-7.3 .8 25.9 .7-9.6 .8 4.4 .7-5.1 .8-1 .8 13.1 .7-18.7 .8 7.1 .7 .4 .7-.3 .8-4.1 .7-10.2 .7 6.3 .8 8.3 .7 3.9 .7 1.7 .7-3.6 .8 2.8 .7 4.7 .7-14.1 .7 6.9 .7 12.9 .7-17.7 .7 16 .7 5.4 .7-4 .7 1.8 .7 2.1 .6-6 .7-6.5 .7 6 .7 2.4 .7-2.5 .6 4.8 .7 5.1 .7-8.3 .6-.2 .7-1.6 .7 .6 .6 17.3 .7-13.2 .6 17.6 .7-27.7 .6 3.2 .7 10.3 .6 7.2 .6-.6 .7-2 .6-11.6 .7 11.9 .6-9.3 .6 2.9 .6-6.2 .7 11.6 .6-.3 .6 2.9 .6-10.4 .6-7.3 .7 1.1 .6 5.8 .6-3.9 .6 12.2 .6-6.4 .6 26.1 .6-23.3 .6 5.4 .6 5.3 .6-8.3 .6 21.7 .6 10.7 .6-12.8 .5 .8 .6 4 .6-12.3 .6-1.8 .6 9.1 .5-4.7 .6-6.7 .6-1.2 .6-11.8 .5 1.7 .6 9.6 .6 5.7 .5-8.4 .6 22.3 .6-15.5 .5 12.9 .6-15.5 .5-1.9 .6 18.2 .5-1.1 .6-1.8 .5-8.1 .6 5.1 .5 .3 .6 5.4 .5-10.4 .5 3.8 .6 8 .5 7.9 .6-5.3 .5 12.1 .5 2.9 .5-20.3 .6-9.8 .5 16.1 .5-6.3 .6-5.2 .5 7.1 .5 12 .5-.8 .5 11.2 .5-18.9 .6 16.9 .5-16.7 .5 15.6 .5-18.8 .5-10.3 .5 17.7 .5-3.5 .5-3.2 .5 4.8 .5-2.6 .5-5.6 .5 .1 .5 16.1 .5-16.6 .5 8.5 .5 7.6 .5 1.5 .5-14.5 .5 13.8 .5-6.7 .4 3.9 .5-.7 .5-8.9 .5 7.5 .5-1.2 .5 3.1 .4-2.7 .5-18.2 .5 8.2 .5 15.5 .4-14.3 .5 12.7 .5-4.9 .4 18.8 .5-8.4 .5-15.3 .4 9 .5 1.8 .5 8.8 .4 12.7 .5-20 .4-19.4 .5 29.2 .5-6.4 .4 4.7 .5 3.2 .4-4.2 .5 1.6 .4-12.7 .5 16.2 .4-23.3 .5 4.9 .4 5.1 .5 .4 .4 12.9 .5-10.4 .4 6.2 .4 3 .5 1.1 .4 2.8"/>
<path d="M723.3 383.6l5.8 2.4 5.5-2.7 5.4 1.3 5.2-2.7 5.1 3.4 5 8.3 4.8-7.4 4.6 3.6 4.6 3.8 4.4 6.4 4.3 5 4.3-6.3 4.1 6.4 4 9.9 3.9 3.7 3.9-2.9 3.8 3.5 3.6-5.6 3.7-7.5 3.5 18.3 3.5-1.7 3.4-1.1 3.3-1.4 3.3 9.4 3.2 .4 3.1 10.4 3.1 .7 3.1 3.3 3-10.1 2.9-6.3 2.9-10.6 2.9 7.7 2.8 9.6 2.7-10.7 2.7-3 2.7 10.2 2.7 6.6 2.6-7.3 2.5 11 2.5-4.4 2.5-3.6 2.5 17.5 2.4 4.4 2.4-8.8 2.3-3.7 2.3 4.8 2.3-6.3 2.3 12.3 2.2 2.3 2.2-13.4 2.2 0 2.1 9.5 2.2-9 2.1-3.9 2 .3 2.1 10.8 2 6.7 2-8.3 2 3.2 1.9 8.1 2-2.3 1.9-2.7 1.9 4.4 1.9-8.8 1.8 9.4 1.8-3.2 1.9-3.9 1.8 13.3 1.7-6.4 1.8 4.9 1.7-6.4 1.8 10.2 1.7-8.7 1.7 3.4 1.6-2.1 1.7-.3 1.7 .9 1.6 1.4 1.6-3.4 1.6-5.2 1.6 4.2 1.5 7 1.6 5.7 1.5-.8 1.6 5.5 1.5-7.8 1.5 6.2 1.5 13.4 1.5-8.7 1.4 9.9 1.5-10.1 1.4-.1 1.5 .4 1.4 7.6 1.4-5.1 1.4-7.9 1.4 6.7 1.3 2.9 1.4 9.3 1.4-12.4 1.3-9.4 1.3 10.2 1.3-2.2 1.4-7.6 1.3 24.2 1.3-15.1 1.2 22.5 1.3-24.2 1.3 5.8 1.2 2 1.3 1.3 1.2 7.3 1.2-1 1.3 3.6 1.2-14 1.2-3.1 1.2 8.4 1.2-7.6 1.1 11.7 1.2 3.4 1.2 3.2 1.1-1.5 1.2 8.4 1.1-12.3 1.2 7.5 1.1-7.8 1.1 .1 1.1 19.4 1.1-4.1 1.1-9.4 1.1 11.4 1.1 1.7 1.1-12 1 15.1 1.1 1.7 1.1-14.7 1-8.8 1.1 9.2 1 2.4 1-2.1 1.1 2.5 1 8.9 1-16.9 1 27 1-7 1-13.8 1-6.4 1 11.5 1-8 1 10.5 .9-9.3 1-2.5 .9 9.8 1 1.8 1 1.2 .9 7.5 .9-3.3 1 13.8 .9-17.7 .9-.5 .9 18.5 1-11.6 .9 7.3 .9-8 .9 7.4 .9-16.6 .9 2.3 .8 9.1 .9 2.8 .9-2.9 .9 2.7 .8 18 .9-5.7 .9-13.6 .8 2.4 .9-2.8 .8 16.8 .9-9.8 .8-.6 .9-10.4 .8 10.9 .8 11.2 .8-4.5 .9 6.5 .8-29.9 .8 11.2 .8-1.4 .8 1.3 .8 18.6 .8-5.3 .8-11.4 .8 .1 .8 16.7 .8 5.8 .7-3.3 .8 1.1 .8 1.9 .8-8.2 .7 6.4 .8 8.8 .7 1.4 .8-1.2 .8-13.8 .7 14.6 .8-24.8 .7 4.6 .7 5 .8-10.1 .7 11.3 .7-2.2 .8-.2 .7-3.4 .7 18.4 .7-11.9 .8-.4 .7-4.2 .7 4.7 .7-4.5 .7 12 .7-13.9 .7-6.3 .7 18.2 .7-.1 .7 4.3 .7-11.4 .6-5.2 .7 26.9 .7-7.9 .7-6.9 .7-3.5 .6 17.5 .7-15 .7-5.3 .6 15.9 .7 9.7 .7-20.5 .6 12.6 .7-.6 .6-3.2 .7 16 .6-26.2 .7 9.4 .6 2.8 .6-.3 .7 4.8 .6-6.3 .7 3.5 .6 20.3 .6-10.8 .6-5.1 .7-2.8 .6-1.5 .6-6.5 .6 7.1 .6-2.3 .7 10.7 .6-7.8 .6 9.6 .6-11.3 .6 6.6 .6 9.6 .6-3.3 .6-7.1 .6-11.6 .6 15.8 .6-6.7 .6 19 .6-13.7 .5-2.3 .6 19.7 .6-11.6 .6-6.9 .6 6.7 .5 3.6 .6 3.9 .6 6.2 .6-7.1 .5-14.6 .6 3 .6 7.5 .5 2 .6 .9 .6-15.8 .5 10.5 .6-11.1 .5 6.3 .6 9.4 .5-9.6 .6 9.8 .5 2.2 .6-1.1 .5-1.6 .6 2.9 .5 4.8 .5 6.2 .6-12.1 .5-.9 .6-9.8 .5 19.1 .5-13.1 .5 24.6 .6-22 .5 15 .5-8.4 .6 .5 .5 10.4 .5 10.9 .5-.6 .5-20.8 .5 10.5 .6 16.1 .5-19.4 .5 5.5 .5-3.9 .5-4.2 .5 2.5 .5-.4 .5 0 .5 10.7 .5-3.4 .5 3.7 .5-13.2 .5 3.9 .5-11.3 .5 2.4 .5 1.9 .5-9.5 .5 12.8 .5 5.9 .5-3.3 .4-4.3 .5-.5 .5 9.3 .5-8.2 .5-7 .5 17.2 .4 11.1 .5 6.4 .5 4.3 .5-16.4 .4 9.2 .5-7.9 .5 12.3 .4-17.4 .5 15.3 .5-10.4 .4-1.7 .5 9.3 .5-13 .4 13.4 .5 .5 .4-3 .5-.6 .5-.1 .4 1.2 .5 13.8 .4-14.8 .5-1.6 .4 3.6 .5-11.7 .4 5.5 .5-2.3 .4 6.5 .5 .8 .4 5.3 .5-8.1 .4-.1 .4-6.2 .5 11.3 .4-5.3"/>
<path d="M723.3 394.4l5.8 2.7 5.5-7.4 5.4 0 5.2 .7 5.1 5 5 12.6 4.8-9.5 4.6 1.9 4.6 .1 4.4 1.3 4.3 11.2 4.3 .1 4.1 14 4 .3 3.9 3 3.9-4.2 3.8-10.2 3.6-.3 3.7 .6 3.5 3.1 3.5-7.1 3.4 1.2 3.3 6 3.3 4.5 3.2-1 3.1-7.7 3.1-3.8 3.1 14.4 3-11.1 2.9-1.2 2.9 6.8 2.9 13.5 2.8-7.7 2.7 9.8 2.7 5.2 2.7-5 2.7-2.8 2.6-4.4 2.5 5.7 2.5 1.4 2.5-7.1 2.5 5.2 2.4 8.4 2.4-8.4 2.3 16.9 2.3-1.3 2.3-2.5 2.3-4.6 2.2-7.2 2.2-.9 2.2-16.8 2.1 15.6 2.2 9.2 2.1-6.5 2 2.4 2.1-.4 2 12.3 2-5.1 2-5.9 1.9 2.2 2-3.5 1.9 10.3 1.9 .5 1.9 7.8 1.8 11.5 1.8 15.6 1.9-31.3 1.8 13.6 1.7 5.9 1.8 1.2 1.7-14.1 1.8 12.4 1.7 .8 1.7 2.4 1.6 5.9 1.7-2.9 1.7-23.9 1.6 14.7 1.6-5.2 1.6 7.7 1.6 5.7 1.5 2.1 1.6 5.1 1.5-1.3 1.6-8.4 1.5 13.8 1.5 11.5 1.5-26.7 1.5-4.6 1.4-5.1 1.5 7.7 1.4 13.5 1.5 8.3 1.4-4.9 1.4-4.9 1.4 7.3 1.4-4.8 1.3-10.3 1.4 23.4 1.4-18.3 1.3-1.1 1.3-1.4 1.3 16.1 1.4 9.9 1.3-20.8 1.3 29.1 1.2 6.5 1.3-17.2 1.3-19.5 1.2-.9 1.3 .8 1.2 3.5 1.2 10 1.3-.4 1.2 1 1.2-8.2 1.2-7.2 1.2 3.1 1.1 4.4 1.2 10.9 1.2-20.1 1.1 .1 1.2 10.1 1.1-13.8 1.2-2.1 1.1 10.2 1.1-1.9 1.1 6.5 1.1 12.1 1.1 6 1.1 1.6 1.1-12.9 1.1-11.4 1 21.8 1.1-11 1.1 10.4 1 13.3 1.1-2.2 1-7.6 1-10.9 1.1 11.6 1 12.7 1-17.5 1-4.2 1 9.3 1 12.8 1-9.8 1-6.8 1 14.4 1-5.7 .9 6.1 1 7.9 .9-9.7 1-15 1 15.2 .9-1.3 .9 7.6 1-.1 .9 5.8 .9-20.4 .9 18.9 1-6.5 .9-2.6 .9-15 .9-1.6 .9 16.9 .9 2.8 .8 9.5 .9-1.6 .9 11.3 .9-16.9 .8-6.8 .9 8.8 .9-3.6 .8 4 .9 4.9 .8-1.1 .9-2.3 .8 17.5 .9-7.6 .8 2.9 .8 1.2 .8 5 .9-26.8 .8 14.1 .8 16.1 .8 6.3 .8-20.4 .8-2.7 .8 2 .8-6.1 .8-.4 .8 .5 .8 5.2 .7 1.7 .8 16.8 .8-26.3 .8 10.9 .7-6.1 .8-21 .7 12.5 .8 5.1 .8 10 .7 .3 .8-3.6 .7 13.6 .7-11.3 .8 6.4 .7 8.1 .7-5.6 .8-6.2 .7 14.3 .7 8.2 .7 0 .8-.3 .7 1 .7 2.7 .7-5.5 .7-12.6 .7 .8 .7 21.2 .7-1.3 .7-20.9 .7-13.6 .7 6.6 .6-3.9 .7 3.1 .7 10 .7 13.7 .7-2.2 .6-20.7 .7 35.8 .7-34.7 .6 3.2 .7 3.7 .7 9.4 .6 1.2 .7-23 .6 26.3 .7-16.2 .6 7.6 .7 16.1 .6-9.3 .6 12 .7-12.5 .6 1.2 .7 29.6 .6-26.3 .6 2.2 .6-16.9 .7 18.7 .6-5.1 .6 16.6 .6-2.2 .6-13.3 .7 12.2 .6 1.6 .6-33.3 .6 10.3 .6 29.9 .6-18.1 .6 4.7 .6-22.8 .6 28.8 .6-17.6 .6-11.4 .6 7.1 .6 4.2 .5 23 .6-12.3 .6-5.1 .6 3.1 .6-14.8 .5 15.7 .6-4.7 .6-3.5 .6-1.9 .5-6 .6 23.9 .6-8.5 .5 3.9 .6 3.9 .6 2.1 .5 5.8 .6-22.2 .5 4.7 .6 1.1 .5 12.4 .6 12.5 .5 5.4 .6-5.6 .5-.4 .6-9.3 .5-4 .5-1.4 .6 10.2 .5-13.7 .6 5.7 .5 14.1 .5-10.2 .5-1.9 .6 1.9 .5-8 .5 5.7 .6 11.6 .5-3.6 .5 9.6 .5-10.5 .5 4.7 .5 5.2 .6-11.2 .5 1.6 .5 6.3 .5-9.6 .5 31.2 .5-1.1 .5-16.5 .5-8.7 .5 .2 .5 7 .5 9.9 .5-3.1 .5-10.2 .5 1.7 .5-16.2 .5-3 .5-.9 .5 2.5 .5 13.6 .5 9.3 .4-9.8 .5-7.6 .5 .7 .5 11.9 .5 4.1 .5 7.6 .4 5.2 .5-7.2 .5-10.6 .5 1.4 .4 3.4 .5-10.7 .5-8.1 .4 17.8 .5-2.9 .5 3.4 .4 12.1 .5 14.5 .5-7.8 .4-5.9 .5 16.8 .4-7.5 .5-14.9 .5-23.3 .4 36.3 .5-14.5 .4-14.1 .5 10.7 .4 5.6 .5 .4 .4 17.8 .5-7.8 .4-20.8 .5 14 .4 12.2 .5-26.7 .4 17.9 .4-14 .5 22 .4-28.8"/>
<path d="M723.3 394.5l5.8-3.3 5.5 2.7 5.4 2.5 5.2-2.6 5.1-1.2 5 2 4.8 7.3 4.6-9.1 4.6 5.1 4.4-1.8 4.3-1.5 4.3 12.5 4.1 11.4 4-3.6 3.9 4.5 3.9-6.1 3.8-.5 3.6 7.1 3.7-6.7 3.5 5.4 3.5-3 3.4-2.5 3.3 9.5 3.3 8.7 3.2-8.3 3.1 .9 3.1 7.6 3.1-8 3 12.8 2.9-1 2.9 .1 2.9-5.3 2.8 1.2 2.7 7.9 2.7-4 2.7-.6 2.7 1.8 2.6 7.7 2.5 1 2.5-8.7 2.5 4.9 2.5 9.2 2.4-5.1 2.4 4.5 2.3-5.6 2.3-.6 2.3-4.9 2.3 3.3 2.2-2.6 2.2 4.7 2.2-7.5 2.1 1.4 2.2 16.3 2.1-11.2 2-11 2.1 4.8 2 4.2 2-1.1 2-.6 1.9 4.1 2 18.9 1.9-16.7 1.9 8.9 1.9-7.1 1.8 7.2 1.8 2.3 1.9 7.8 1.8 .9 1.7-4.1 1.8-4.3 1.7 9 1.8-1.8 1.7-11.9 1.7 10.1 1.6-4.7 1.7 6.3 1.7 1.2 1.6 7.3 1.6 6.5 1.6-6.1 1.6-.6 1.5 2.5 1.6-7.7 1.5 4 1.6 12.8 1.5-1.7 1.5-6.5 1.5 11.3 1.5-7.4 1.4-2.2 1.5-3.2 1.4 4.1 1.5-6.6 1.4 1.9 1.4 5.9 1.4 6.2 1.4-16.1 1.3 21 1.4-3 1.4-5.3 1.3-2.3 1.3-2.3 1.3 6.9 1.4-12.1 1.3 2.8 1.3 10.4 1.2 .8 1.3 4.9 1.3 4.1 1.2 .4 1.3 3.9 1.2 1.8 1.2-6.9 1.3-5.3 1.2-12.2 1.2-3.7 1.2 15.7 1.2-12.4 1.1 7.6 1.2 .9 1.2 21.2 1.1 .8 1.2-6.5 1.1-9 1.2-8.1 1.1 11.8 1.1 12 1.1-4.9 1.1 2.2 1.1-15 1.1 16.1 1.1 .1 1.1 2.2 1-5.3 1.1 3.4 1.1 24.7 1-21.8 1.1-2.1 1 6.4 1-9 1.1 5.9 1-10.2 1 16 1 1.1 1-8.7 1 .6 1 12.4 1-19.3 1-2.8 1 5.4 .9 2.9 1 7 .9-.5 1 14.1 1-17.6 .9 12.3 .9-12.1 1 3.1 .9-3 .9 2.4 .9 5.7 1-.5 .9-2.3 .9 2.6 .9 5.8 .9-.8 .9-11.1 .8 1.9 .9 11.5 .9 5.3 .9-5.8 .8 9.2 .9-15.8 .9 5.6 .8 .4 .9 2.4 .8-9.7 .9 12.3 .8-8 .9 5.2 .8-10.7 .8 10.4 .8 8.4 .9-8 .8-2.9 .8 7.1 .8-1.2 .8-12.6 .8 7.1 .8 5.1 .8 16.4 .8-4.9 .8-7.1 .8 10.4 .7-8.9 .8 22.7 .8-7.7 .8 1.3 .7 .2 .8-18.4 .7 20.6 .8-14.3 .8 2.8 .7 3.2 .8-22.1 .7 20.7 .7 4.1 .8-3.2 .7 9.9 .7 3.5 .8-16.8 .7 .1 .7 3.5 .7 11.3 .8-10.5 .7-11 .7 2.8 .7-11.6 .7 19.8 .7-4.2 .7-6.1 .7 7.1 .7 13.9 .7-13.9 .7 24.6 .6-14.2 .7-9.4 .7-3.2 .7 24.9 .7-3.7 .6-6.6 .7 7.7 .7-13.6 .6-1.3 .7 15.2 .7-12.3 .6 7.8 .7-8.9 .6 14.2 .7-9.9 .6 7 .7 11.3 .6-17.6 .6 2.5 .7-2.1 .6 3.6 .7 14.9 .6-4.3 .6-14.4 .6 9.2 .7-3.4 .6-4.8 .6-7.7 .6 17.6 .6-2.3 .7-3.4 .6-6.1 .6 10.2 .6 1.8 .6-17.1 .6 7.6 .6 10 .6 5.9 .6 5 .6-8.6 .6-9.4 .6 15.5 .6-1 .5 1 .6-5.1 .6 1.2 .6 11.7 .6-9.2 .5-14.3 .6 11.1 .6 4 .6 8.2 .5 .9 .6-.7 .6-7.4 .5 2.3 .6 1.7 .6-2.4 .5 2.6 .6 9.3 .5-8.8 .6-3.9 .5 5 .6-5.6 .5 6.1 .6-2.4 .5 10.7 .6-14.1 .5 .6 .5-.5 .6 1.6 .5-4.3 .6 14.4 .5 5.5 .5-6.9 .5 2 .6-21.3 .5 12 .5-8.7 .6 21.2 .5-9.3 .5-4.4 .5 8.9 .5-15.6 .5 18.6 .6 6.4 .5-16 .5 8.9 .5 24.6 .5-21.2 .5-2.3 .5 7.7 .5-4.6 .5-4.5 .5 9.2 .5-1.2 .5 14.1 .5-23.4 .5-14.5 .5 15.7 .5 2.4 .5 16.2 .5-10 .5-4.8 .5-1.5 .4-6.8 .5 14.8 .5-2.4 .5-7.8 .5-.6 .5 13.5 .4 8.1 .5-9.4 .5 3.9 .5-6.6 .4 10.7 .5-14.7 .5 4.3 .4 15.6 .5-3.6 .5 8.9 .4-16.7 .5-.4 .5 1 .4 9.7 .5 6.9 .4-10.4 .5 15.1 .5-16.2 .4-7.6 .5 11 .4-8.4 .5 7.9 .4 1.7 .5 1.4 .4 11.6 .5-17.5 .4-6.4 .5 6.5 .4-9.8 .5 23.4 .4-8.4 .4 .7 .5-1.3 .4 7.1"/>
<path d="M723.3 383.6l5.8 1.8 5.5 1.4 5.4 2.5 5.2 6.9 5.1 7.3 5-3 4.8 1.4 4.6-4.9 4.6-.2 4.4-2.1 4.3 2.3 4.3 3.7 4.1 11.5 4 4.9 3.9 8.9 3.9-9.6 3.8-1.2 3.6 5.3 3.7 12 3.5-10.6 3.5 1.4 3.4 .4 3.3 3 3.3-1.6 3.2 5.6 3.1-8.5 3.1 10.9 3.1 4.9 3-4 2.9-12 2.9 15.2 2.9-8 2.8-7.4 2.7 2.5 2.7 6.7 2.7 5.5 2.7-7.3 2.6 14.6 2.5 10.2 2.5-17.6 2.5-.4 2.5-8.7 2.4-3.3 2.4 7.1 2.3 3.4 2.3-7.4 2.3 .2 2.3-.4 2.2 11 2.2-6.9 2.2 13 2.1-20.5 2.2 12 2.1-9.8 2 1.2 2.1 6.3 2 9 2 9.8 2 3.5 1.9-6.6 2 4.3 1.9 15.6 1.9 1.3 1.9-16.5 1.8-8.9 1.8 7.9 1.9-7.6 1.8 1.3 1.7 14.6 1.8-.9 1.7-3.5 1.8-5.5 1.7-.3 1.7 12.5 1.6-5.5 1.7-2.5 1.7-1.9 1.6 11.1 1.6-5.8 1.6 7.1 1.6-1.9 1.5 6.6 1.6 4.5 1.5 6.8 1.6-13 1.5 9.3 1.5 1.1 1.5-2.1 1.5 20.2 1.4-20 1.5 3 1.4 3.5 1.5-4.7 1.4-7.7 1.4 5.4 1.4-1.3 1.4-6.2 1.3 15.1 1.4-6.6 1.4 7.5 1.3-7.1 1.3-.1 1.3 1.2 1.4 7.4 1.3-6.2 1.3 1.1 1.2 3.6 1.3 12.4 1.3-3.9 1.2-1.5 1.3-2.6 1.2 3.7 1.2 4.2 1.3-6.9 1.2-.1 1.2 20.3 1.2-18.3 1.2 18.2 1.1-6.3 1.2 1.3 1.2-16.8 1.1 23.5 1.2-18.6 1.1 9 1.2-2.6 1.1 5 1.1-7.8 1.1 4.2 1.1 .2 1.1-4.6 1.1 12.7 1.1-3.9 1.1 1 1-7 1.1 1.5 1.1-5.2 1 12.2 1.1-5.7 1-7.7 1 4.2 1.1 9.3 1 1.1 1 24.4 1-18.7 1 1.5 1-2.6 1 1.3 1-2.7 1 4 1 14.3 .9-16.1 1-.5 .9 5.1 1-1.9 1 15.6 .9-16.4 .9 2.3 1-.6 .9-3.7 .9 12.5 .9-5.8 1-10.1 .9 4.9 .9 2.2 .9 2.8 .9-2.9 .9-7.8 .8 6.1 .9 20.5 .9-16.7 .9 10.1 .8 2.8 .9-8.6 .9 7.6 .8-13.4 .9 6.5 .8-15.7 .9 19.5 .8-8 .9 18.3 .8-9.1 .8 3.7 .8-3 .9 3.5 .8 2.3 .8-16.5 .8 8.7 .8 9 .8 10.2 .8-12 .8-.8 .8 6.3 .8-16.6 .8 7.3 .7-3.6 .8-1.4 .8 .1 .8 7.8 .7 5.2 .8 2.3 .7-2.5 .8-6.3 .8 8.2 .7 11.3 .8-22.9 .7-1.5 .7 10.7 .8-.8 .7 16.2 .7-.9 .8-20.9 .7 6.6 .7 7.9 .7-.2 .8 12.8 .7-11.7 .7 .5 .7 .4 .7 0 .7-1.3 .7-11 .7 25 .7-15.3 .7 8.6 .7 3.4 .6-1.2 .7-4.6 .7-6.8 .7-15 .7 12.9 .6 14.7 .7-13.7 .7 14.3 .6 3 .7-2.6 .7 .9 .6-10.2 .7 1.3 .6-.7 .7 3.5 .6 13.4 .7-3.9 .6-4.6 .6 6.4 .7 5.7 .6-7.2 .7-6.1 .6-5.2 .6 4.2 .6 3.3 .7 3.7 .6-7.5 .6 .7 .6 .1 .6 10 .7-7.9 .6 24.5 .6-19 .6-11.7 .6 9.6 .6 2.9 .6 17.4 .6-21 .6 9.7 .6-8.6 .6 3.2 .6-6.6 .6 9.1 .5 1.1 .6-5.1 .6 11.3 .6 4 .6-24.7 .5 18.6 .6 16.4 .6-1.6 .6-11.8 .5 15.5 .6-6.2 .6-20.3 .5 17.9 .6-2.5 .6-1.1 .5-.2 .6 8 .5-11.2 .6-5.1 .5 8.8 .6-6.1 .5 10.2 .6-8.2 .5 15.3 .6-8.4 .5-14.5 .5 2.1 .6 28.4 .5-9.9 .6-8.1 .5-9 .5 9.9 .5 2.6 .6-7.6 .5 2.9 .5 14.4 .6 6.5 .5-25.1 .5 21.3 .5-9.7 .5-16.6 .5 22.7 .6-18.9 .5 7.5 .5-4.7 .5 17.4 .5 .1 .5-4.9 .5-1.6 .5 0 .5 9.5 .5 2.1 .5-7.6 .5 9.4 .5-4.9 .5 1 .5 2.3 .5-7 .5 3.4 .5 2 .5 .4 .5-8.6 .4 4.8 .5-7.9 .5 20.5 .5-12.5 .5 16.7 .5-19.5 .4 2 .5-9 .5 6.2 .5 1.3 .4 8.8 .5 8.7 .5 8.8 .4-5.5 .5-14.7 .5 11.8 .4-.4 .5-4.1 .5 13.1 .4-12.3 .5 5.1 .4-2.9 .5 14.6 .5-14.9 .4-1.7 .5-1 .4-22.3 .5 32.3 .4-11.2 .5 .4 .4-2.1 .5-15.7 .4 9.2 .5-6 .4 17.9 .5-2.3 .4-5 .4 7 .5-.7 .4-5.8"/>
<path d="M723.3 385.5l5.8 12.9 5.5-.7 5.4-10.6 5.2 8.5 5.1-6.4 5 2.6 4.8 4.4 4.6-1.5 4.6 5.1 4.4 4.1 4.3 6.7 4.3-6.1 4.1 3.6 4 8 3.9 12.7 3.9-5.3 3.8 14.3 3.6-7.2 3.7-11.9 3.5 9.5 3.5 2.6 3.4-17 3.3 7.6 3.3 2.1 3.2-4.5 3.1 5.2 3.1-1.9 3.1 3.7 3-4.2 2.9 13.6 2.9-9.2 2.9 5.5 2.8 5.7 2.7-5 2.7-8 2.7 1.6 2.7 .4 2.6 5.9 2.5 1.9 2.5 14 2.5 1.7 2.5-9.6 2.4-2.2 2.4-2.4 2.3 6.7 2.3 .3 2.3-5.8 2.3 1.1 2.2 3.9 2.2 2.5 2.2-.4 2.1-7.9 2.2 10.1 2.1-1 2 13.7 2.1-4.5 2-14.8 2-2.6 2 8.1 1.9 13.4 2-7.5 1.9-1.3 1.9 3.1 1.9-7.4 1.8 16.5 1.8-13.7 1.9 3.5 1.8 11.5 1.7-.4 1.8-7.8 1.7-9.7 1.8 8 1.7 5.2 1.7 2 1.6-7.5 1.7 1.9 1.7-2 1.6 6.5 1.6 7.6 1.6 5.6 1.6-9.2 1.5 9.1 1.6-1.9 1.5-1.8 1.6-1.6 1.5 21.5 1.5-14.6 1.5 8.7 1.5-8.6 1.4 13.6 1.5-15.2 1.4 21.2 1.5-5.4 1.4-.4 1.4-10.4 1.4 9.1 1.4-1.4 1.3-4.5 1.4 10.6 1.4-18.9 1.3 20.8 1.3-3.1 1.3 1 1.4 8 1.3-6.7 1.3 .9 1.2-1.5 1.3-2 1.3-3.9 1.2 16.7 1.3-13 1.2-12.5 1.2 4.5 1.3 .1 1.2 15.7 1.2-8.1 1.2 3.9 1.2-3.7 1.1-1.7 1.2 10.4 1.2-.3 1.1 .8 1.2-5.3 1.1-.9 1.2 9.3 1.1-6.7 1.1 15.7 1.1-10.1 1.1 9.3 1.1-6.3 1.1-.3 1.1-17.1 1.1 12.4 1-5.8 1.1 11.4 1.1 5.3 1-2 1.1-13.1 1 17.2 1-3.8 1.1-8.1 1 9.9 1 2.2 1-5.2 1 15.4 1-1.6 1-12.7 1-7.8 1 11.5 1 4.3 .9-15.6 1 18.6 .9-6.6 1-2.5 1 15.8 .9 7.9 .9-16.5 1 10.4 .9-17.8 .9 .4 .9 2.7 1-.8 .9 3.6 .9 9.5 .9-15.1 .9 5.7 .9-3.7 .8 5.1 .9 4.1 .9 5.3 .9-8.9 .8-5.8 .9 .5 .9 15.6 .8-9.8 .9 14.7 .8-2.3 .9 .8 .8-10.5 .9 4.4 .8 7.9 .8-1.9 .8-4.8 .9-1.6 .8 4.8 .8 5.5 .8-4.4 .8-3.7 .8-2.8 .8 20.9 .8-16.3 .8 8.9 .8-17.6 .8 7.2 .7 11.1 .8-16.9 .8 6.1 .8 12.4 .7-8.9 .8 8.3 .7 13.3 .8-7.9 .8-.8 .7-.4 .8 1.1 .7-10.1 .7 10.8 .8 2.8 .7-.3 .7-7 .8-.4 .7-2.6 .7 7.4 .7-15.7 .8 18.7 .7-4 .7 2.1 .7 4.1 .7-15.9 .7 20.6 .7-12.9 .7-8.4 .7 10.9 .7 4.5 .7 5.4 .6 5.5 .7-22.4 .7 8.4 .7 6.8 .7-5.2 .6-2.7 .7-4.5 .7 15.6 .6 2.6 .7-7.5 .7-5.7 .6 22 .7-4.9 .6-.3 .7-4 .6-11.4 .7 10.5 .6-.7 .6 2.6 .7-1.5 .6 6.9 .7-4.3 .6-4.5 .6-3.3 .6-4.3 .7 12.9 .6 .8 .6 2.7 .6 4.5 .6-.8 .7-7.6 .6 1.9 .6 1.6 .6 12.3 .6-4.1 .6 2.6 .6 1.2 .6-7.1 .6-10.9 .6 23 .6-2.1 .6-9.1 .6 .7 .5 7.6 .6-1.6 .6-11.2 .6 1.6 .6 7.1 .5-4.5 .6 6.9 .6-6.7 .6 19.4 .5-19.9 .6-12.1 .6 11.8 .5 11.9 .6-1.5 .6-11.1 .5 3.9 .6-7.1 .5 12.4 .6-6.8 .5 23.2 .6-20.6 .5 .9 .6 10.4 .5-13.4 .6 7.8 .5 7.1 .5-6.1 .6 13.8 .5-5.1 .6-4.3 .5 8 .5-.3 .5-6.5 .6-4.6 .5-3.2 .5 14.1 .6-13.5 .5 15.9 .5 14.3 .5-22.4 .5 27.2 .5-4.8 .6-8 .5-6.9 .5 0 .5 2.6 .5 .8 .5-22.8 .5 13.2 .5-2 .5-8.8 .5 8.1 .5 17.3 .5-11.6 .5 11.7 .5-2.4 .5 .3 .5-15.3 .5 7 .5-8.1 .5 7.7 .5-.1 .4-5 .5 6.4 .5-2.1 .5-2.5 .5 17.3 .5-5.5 .4 37.4 .5-24.2 .5-19.1 .5 6 .4-5 .5 1.7 .5-2.6 .4 14.8 .5-11.3 .5 6.9 .4-4.3 .5 8.3 .5-4.6 .4 10.9 .5-7.7 .4 10.3 .5 2.9 .5-12.3 .4-5.2 .5-8.3 .4 16.7 .5 5.5 .4-7.5 .5 7.5 .4 8.3 .5-.4 .4-25.4 .5-.9 .4-.1 .5 7.4 .4-10.5 .4 11.7 .5 1.6 .4-2.8"/>
<path d="M723.3 399.1l5.8 1.2 5.5 5.5 5.4-5.3 5.2 8.6 5.1-3.7 5-1.9 4.8 1.1 4.6 8.5 4.6-5.6 4.4-4.8 4.3 .3 4.3 15.1 4.1-5.8 4 .9 3.9 10.1 3.9 8.3 3.8 3.4 3.6-.9 3.7 2.5 3.5-2.6 3.5-11.6 3.4-9.2 3.3 14 3.3 11.1 3.2-7.1 3.1-7.6 3.1-11.1 3.1 13.5 3-3.9 2.9 8.9 2.9 4.4 2.9-12.8 2.8 9.3 2.7 5.7 2.7-5.2 2.7 12.1 2.7 4.4 2.6-4.3 2.5-1.5 2.5-6.3 2.5 5.1 2.5 6.2 2.4-4.1 2.4 2.9 2.3 11.4 2.3-9.5 2.3 8.4 2.3-11.3 2.2-5.5 2.2 12.5 2.2-3.4 2.1 20.5 2.2-15.9 2.1-9.3 2 2.3 2.1 2.6 2 4.4 2-3 2-2.2 1.9 1 2-20.6 1.9 3.7 1.9 13.9 1.9 18.5 1.8 .5 1.8-3.2 1.9-9.6 1.8 8.6 1.7-.7 1.8-2.6 1.7-4.9 1.8 15.5 1.7-.7 1.7-8.9 1.6 6.2 1.7 1.8 1.7 1.9 1.6 1.8 1.6 7.1 1.6-13.8 1.6-1.4 1.5 2.3 1.6 3.9 1.5 6.6 1.6 3.2 1.5 17.3 1.5-7.8 1.5-20.5 1.5 14.5 1.4 1.6 1.5-16.4 1.4 8.1 1.5 8.4 1.4 12.7 1.4-23 1.4 19 1.4-14.8 1.3-3.5 1.4 9.1 1.4 19.4 1.3-20.6 1.3-3.1 1.3-1 1.4 5.2 1.3 6.1 1.3-9.5 1.2-4.5 1.3-1.9 1.3 16.7 1.2 4.4 1.3-7.1 1.2 18.4 1.2-4.4 1.3 6.2 1.2-25.8 1.2 16.5 1.2-16.3 1.2 4.6 1.1-3.8 1.2 12.5 1.2-12 1.1 9.7 1.2-4.8 1.1 9.9 1.2-9.5 1.1 12 1.1-10.4 1.1 10.8 1.1-.7 1.1 7.7 1.1 .5 1.1-6.7 1.1 2.1 1-9.6 1.1 11.3 1.1 6.7 1-5.4 1.1 1.8 1-1.5 1-1.8 1.1 9.5 1-5.4 1-5.6 1-11 1 28.6 1-14.9 1 3.6 1-2.5 1 .6 1 13 .9 3 1 6.4 .9-11.3 1-3.3 1 1.3 .9-9.8 .9 11.7 1-1.3 .9 .8 .9 11.7 .9-18.4 1-1 .9 2.9 .9 14.4 .9 5 .9-18.3 .9 12.3 .8-7.2 .9 15.1 .9-6.4 .9-11.8 .8 17.5 .9-.8 .9-7 .8-6.4 .9 17.4 .8-10.6 .9 7.6 .8-11 .9 .4 .8-9.7 .8 18.2 .8-3.3 .9 4.7 .8-7.1 .8 7 .8 2.6 .8 6.5 .8-7.8 .8-2.3 .8-9 .8 2.6 .8-3.5 .8 21.6 .7-2 .8-.6 .8-3.5 .8-12.4 .7 21.5 .8 12.4 .7-20 .8-2.5 .8 2.3 .7-3.6 .8 6 .7 2.3 .7-5.1 .8 15.5 .7-14.4 .7-4.6 .8-3.9 .7-.7 .7-7.9 .7 12.5 .8 .4 .7 25.2 .7-13 .7 12.9 .7-6 .7-5.2 .7 8.1 .7-2.1 .7-1.6 .7-6.1 .7 .9 .6 8.8 .7-2 .7 4.3 .7-10 .7-.8 .6 10.8 .7-6.4 .7 5.1 .6-10.2 .7 19.4 .7-20.4 .6 6.6 .7 13.6 .6 1.2 .7 4.9 .6-9 .7 .3 .6-1.2 .6-.5 .7-8.3 .6 18.8 .7-9.9 .6 8 .6-12.8 .6 16 .7 11.4 .6-17.6 .6 6.7 .6-20.2 .6 4.9 .7-6.6 .6 4.5 .6 21.1 .6-3 .6-19.8 .6 .1 .6 18.7 .6-10.9 .6 26 .6-17.1 .6-11.1 .6 20.3 .6-26 .5 4.5 .6 18 .6 5.9 .6-18.8 .6-9.9 .5 10 .6 1 .6 1 .6-7.9 .5-.9 .6 16.1 .6-17.2 .5 14.3 .6 8.6 .6-3.5 .5 3.4 .6 10.5 .5-10 .6 4.7 .5 12.7 .6-.3 .5-8.9 .6-24.5 .5 23.9 .6-13.3 .5 13.8 .5 16.2 .6-22 .5 1.4 .6 18.1 .5-14.2 .5 10.5 .5 4.2 .6-8.7 .5 5.7 .5 0 .6-14.5 .5-6.7 .5-2.5 .5 3.5 .5-.1 .5-.5 .6-1.6 .5 22.3 .5-11.8 .5-12.9 .5 15.5 .5-2.1 .5-.3 .5-9.9 .5 10.3 .5 .3 .5-9.8 .5 1.7 .5 5.9 .5 5.5 .5-4 .5 2.5 .5 17.3 .5-24.2 .5 7 .5 8.2 .4-3.9 .5-6 .5 5 .5 8 .5-6 .5 17.8 .4-10.4 .5-3.8 .5-9.1 .5 14.9 .4-.5 .5 8.4 .5-11.4 .4-16.4 .5 10.8 .5 6.8 .4-8 .5 9.7 .5 9.5 .4-11.1 .5 .3 .4-1.8 .5 1.9 .5-.7 .4-10.9 .5 9.3 .4-7.6 .5 8.3 .4-7 .5 3.1 .4 15.2 .5 2 .4-3.3 .5-14.9 .4 14.8 .5 .5 .4-3.3 .4 3 .5-9.5 .4 4.9"/>
<path d="M723.3 381.9l5.8 3.7 5.5-3.9 5.4 8.6 5.2-.5 5.1 1.5 5 1 4.8-1.1 4.6 14 4.6-2.3 4.4 6.9 4.3 6.4 4.3-4.7 4.1-4.6 4-7.2 3.9 5 3.9-3.1 3.8 2.1 3.6-2.8 3.7 10.6 3.5 3.9 3.5-4.9 3.4 4.2 3.3 5.2 3.3 1.5 3.2 7 3.1-3.1 3.1-1.8 3.1 2.2 3-1.3 2.9 4.5 2.9-7.5 2.9 4.2 2.8 1.5 2.7 3.8 2.7 1.9 2.7-2 2.7 2.7 2.6 4.8 2.5-5.2 2.5-3.5 2.5 2.8 2.5-1.7 2.4 7.9 2.4 10.2 2.3-8.2 2.3 4.1 2.3-8.3 2.3 1.5 2.2 10.8 2.2-3.7 2.2 14.9 2.1 4.1 2.2-5.9 2.1-6.2 2-2.5 2.1 6 2-1.5 2-1.9 2 .7 1.9-.7 2 5.4 1.9-4.4 1.9-3.1 1.9 .7 1.8-2.6 1.8 1.5 1.9 11.2 1.8-9.1 1.7 13.5 1.8 6 1.7-4.4 1.8-2.7 1.7 2.8 1.7 6.4 1.6-7.8 1.7 10.3 1.7-9.8 1.6 3.3 1.6 11.7 1.6-8.2 1.6 1.7 1.5-5.8 1.6 1.1 1.5 7.5 1.6-3.6 1.5-4.6 1.5 15.9 1.5 5.3 1.5-5.8 1.4 3.5 1.5-8.4 1.4 7.2 1.5-3.6 1.4-7.9 1.4 5.7 1.4 .2 1.4-8.4 1.3 6.9 1.4 5.2 1.4-10.8 1.3 9.7 1.3-2.5 1.3-4 1.4 1.7 1.3 10.6 1.3 0 1.2-12 1.3 11.2 1.3 1.3 1.2-5.2 1.3 14.6 1.2-9.2 1.2 10.3 1.3-14.8 1.2 .5 1.2-4.5 1.2 16 1.2 5.9 1.1-11 1.2 .3 1.2-8.6 1.1 9.8 1.2-1.5 1.1-.2 1.2-1.7 1.1 5.4 1.1 10.8 1.1-7.4 1.1 7.8 1.1-8.3 1.1 5.9 1.1 11.5 1.1-11.4 1 15 1.1-10.5 1.1-4.7 1-4.3 1.1-4.1 1 7.9 1 6.6 1.1 2.3 1 5.3 1-3.3 1 6.5 1-13.7 1 1.5 1-5.2 1 6.4 1 4.1 1-1 .9 1.7 1 6.6 .9-1.6 1-1.3 1-9.1 .9 6.7 .9-5.7 1 1.8 .9 7.4 .9 1.6 .9 1.4 1-3.3 .9-1.4 .9 2 .9-8.1 .9 2.5 .9 15.2 .8-11.2 .9 5.1 .9 2.7 .9-1.2 .8-.2 .9 5.9 .9-19 .8 16.6 .9-1.2 .8-7.2 .9 21.7 .8-7.4 .9 2 .8 4.8 .8-10.4 .8-.5 .9 4.7 .8 1.1 .8 14 .8-28.5 .8 15.7 .8-12.9 .8 3.8 .8 12.6 .8-5.7 .8-3 .8 5 .7 17.4 .8-12.1 .8 14.6 .8-18.6 .7-1.1 .8 10 .7-10.2 .8 10.8 .8-4.8 .7-4.2 .8 2.6 .7 3.5 .7 4.5 .8-9.7 .7 4.9 .7-6.7 .8 9.5 .7 2.4 .7 1.7 .7-15.2 .8-4.1 .7 17.5 .7-7.9 .7 31.3 .7-36.3 .7 12.2 .7-6.6 .7 4.2 .7-6.5 .7 1.4 .7-.1 .6 14.8 .7-2.4 .7 9.5 .7-10.8 .7-2.2 .6 2.1 .7-3.8 .7 6.6 .6 5.8 .7-7.8 .7 9.7 .6-6 .7-9.7 .6 23.5 .7-16.4 .6 .9 .7-6.1 .6-1 .6 10.8 .7 4.9 .6-8.2 .7 14.5 .6 9.5 .6-13.1 .6-1.8 .7-3.6 .6-6.5 .6 4.8 .6 12.3 .6-1.6 .7-5.4 .6-6 .6 9.3 .6 9.6 .6-14.9 .6-9.1 .6-.6 .6 18.7 .6 8.5 .6-5.5 .6 6.7 .6-17.1 .6-3.2 .5 12.5 .6 .3 .6 4.4 .6-4 .6 2 .5 2.6 .6-5.5 .6 5.3 .6-5.3 .5 10.5 .6 1.6 .6-2.2 .5 7.2 .6-9.5 .6-1.7 .5 6.9 .6-18.7 .5 2.9 .6-6.9 .5 10.8 .6 13.4 .5-4.4 .6 19.8 .5-31.4 .6 14 .5-2.9 .5 1.7 .6-4.4 .5-1.6 .6 4.6 .5 20.5 .5-13.4 .5-17.2 .6 7.5 .5-4.3 .5 12.9 .6-10.9 .5 6.8 .5 16.6 .5-12.7 .5-3.3 .5-2.1 .6-1.1 .5 8.7 .5 12.8 .5-17.9 .5-6.2 .5 5.3 .5 12.1 .5-10.3 .5 6.6 .5 8.3 .5-12.9 .5 7.6 .5-6.5 .5 7.1 .5 .9 .5-2.2 .5-9.9 .5 4.6 .5-2.3 .5 12.2 .4-1.7 .5-2.2 .5-19.9 .5 15.4 .5 1.3 .5 2.5 .4-.5 .5-.5 .5 5.8 .5 22.8 .4-14.2 .5-8.7 .5 6.3 .4-14.8 .5 8.1 .5 9.5 .4 15.3 .5-20.5 .5-.7 .4 12.8 .5-13.8 .4-3.5 .5 1.5 .5-10.3 .4 19.4 .5-3.3 .4 3.6 .5-10 .4 .5 .5 15.9 .4-11 .5-2.8 .4 5.3 .5 4.3 .4-6.5 .5 8.8 .4-18.3 .4 4.5 .5 1.7 .4 4.4"/>
<path d="M723.3 390.4l5.8 3.9 5.5-2.6 5.4-7.6 5.2-6.2 5.1 10.6 5-2.8 4.8 1.1 4.6 13.8 4.6-5.1 4.4-.4 4.3 5.6 4.3 4.2 4.1 2.4 4-1.4 3.9 7 3.9 4.8 3.8-10.7 3.6 16.8 3.7-1.3 3.5-2.8 3.5-6.8 3.4 6.1 3.3-2.3 3.3 9.9 3.2-2.9 3.1-5 3.1 5.8 3.1 8.1 3 .3 2.9 1.8 2.9 7.4 2.9-6.1 2.8-3.5 2.7 8.8 2.7-3.1 2.7 5.7 2.7 1.4 2.6 2.4 2.5-6.1 2.5 4.3 2.5-.9 2.5-4.7 2.4 .8 2.4 8.4 2.3-8 2.3-.4 2.3 .1 2.3-2.6 2.2 1.9 2.2 7.7 2.2-.9 2.1 11.5 2.2-3.2 2.1-5.7 2 4.3 2.1-4.5 2 8.6 2-10.9 2 8.9 1.9 .2 2-6.2 1.9-1.6 1.9-1.5 1.9 11.4 1.8 2.6 1.8-8.3 1.9 2 1.8 13.8 1.7-1.5 1.8-6 1.7-3.7 1.8 2.9 1.7-2.2 1.7 15.6 1.6-7 1.7-4.9 1.7 18.6 1.6 3.3 1.6-3.5 1.6-3.9 1.6-10.6 1.5 12.3 1.6 1.6 1.5 13.8 1.6-22.2 1.5 12.8 1.5-8.3 1.5 4.2 1.5 6.6 1.4 6.1 1.5-7.2 1.4 14 1.5-8.1 1.4-.6 1.4-8.5 1.4 1.4 1.4-8.2 1.3 7.6 1.4 6.4 1.4 0 1.3-17.7 1.3 16.8 1.3-3.8 1.4-2.2 1.3-6.1 1.3 7.8 1.2-2.9 1.3 8.7 1.3-4.4 1.2-4.2 1.3 14.6 1.2-11.5 1.2 15.4 1.3-.3 1.2-11.9 1.2 3.7 1.2 0 1.2-1.4 1.1 6.4 1.2 9.8 1.2-8.9 1.1-12.1 1.2-.2 1.1-3.3 1.2 21.3 1.1-10.8 1.1 19.9 1.1-12.1 1.1 2.8 1.1-4.8 1.1 .5 1.1 5.4 1.1 10.3 1-4.9 1.1-12.2 1.1 16.8 1-16.3 1.1-3.1 1 12.6 1-6.3 1.1 8.4 1 3.2 1-13.9 1 3.4 1 8.3 1 6.9 1-4.4 1-1.4 1 11.3 1-3.8 .9-2.5 1-10 .9 18.1 1 10.1 1-28.9 .9 13.3 .9 13 1-26.9 .9 2.7 .9 23.4 .9-20.1 1-2.9 .9 11.5 .9-5.4 .9 .5 .9 11.6 .9 9 .8-6.9 .9-5.1 .9 2.3 .9-2.4 .8-2 .9 3.6 .9 9.6 .8-8.6 .9-7.4 .8 5.2 .9-3.4 .8-4.3 .9 12.9 .8-.8 .8 1.9 .8 6.7 .9-7.3 .8 .8 .8 5.7 .8 9.3 .8-6.4 .8 10.5 .8-16.8 .8-8.3 .8 19.6 .8-15.4 .8 3.5 .7-.6 .8-1.2 .8 10.5 .8 0 .7-8.5 .8 4.4 .7 7.2 .8-8.9 .8 11.3 .7 .3 .8-10.8 .7 0 .7 19.3 .8-10.7 .7-7.7 .7-3.1 .8-6.5 .7 21 .7-15.1 .7 10.7 .8-1.6 .7 8.6 .7-1.9 .7-11.1 .7 2.4 .7 4.5 .7 5.2 .7 6.6 .7 5.1 .7-18.8 .7 8.8 .6 .4 .7 .5 .7-2.4 .7 4 .7-14 .6 8.5 .7 12.3 .7 1.1 .6-5.3 .7 1.6 .7 9.1 .6 1.5 .7-23 .6 7.2 .7 20.8 .6-9.3 .7-10.5 .6 5.8 .6 15.3 .7-4.9 .6-8.4 .7 10.9 .6-3.1 .6-13.4 .6 19.9 .7-17.4 .6 8.6 .6-1.2 .6-2.8 .6 15.7 .7-13.9 .6-1.6 .6 13.1 .6-11.5 .6 2.3 .6 2 .6 5.7 .6-6.1 .6-14.4 .6 25.5 .6-11.8 .6 4.1 .6-5.5 .5-.1 .6 19.4 .6-20.4 .6 7.2 .6 1.9 .5-10.3 .6-2.2 .6 5.5 .6 17.2 .5-11 .6 1.8 .6 8.3 .5-15.5 .6 6.6 .6-8.6 .5 29.2 .6-12.1 .5 13.4 .6-6.7 .5-4.4 .6 4.2 .5 2.4 .6 10.9 .5-19.9 .6 8.9 .5-19.8 .5 18.7 .6 2.9 .5-19.4 .6 1.9 .5 10.9 .5 .3 .5-2.2 .6-.4 .5 4.3 .5-10.1 .6-9.7 .5 22.5 .5-7.9 .5 11.7 .5 6.3 .5-6.7 .6-6.3 .5-11 .5 4.1 .5-.2 .5-3.3 .5-.8 .5 21.9 .5 1.7 .5-6.7 .5-.3 .5-1.4 .5 4 .5-1.6 .5 4.5 .5-6.2 .5 9.9 .5-3.1 .5 1.2 .5 1.4 .5 4.8 .4-9.3 .5 6.8 .5-3.1 .5 6.7 .5-9 .5 2.3 .4 1.7 .5 2.3 .5-13.2 .5 6.2 .4 5.3 .5 1 .5-1.1 .4-4.2 .5 3 .5-8.8 .4 21.3 .5 2.8 .5-6 .4-12.4 .5 7.3 .4 12.5 .5-3.5 .5-10 .4-8 .5 13.1 .4 10.1 .5-13.3 .4 5.9 .5 9.1 .4-10.5 .5-24.7 .4 19.5 .5 9.7 .4 3 .5-4.2 .4 .6 .4 15.7 .5-18.5 .4-1"/>
<path d="M723.3 389.3l5.8 3.6 5.5 7.8 5.4-4.2 5.2 2.5 5.1-2.7 5 10.5 4.8 4.1 4.6-4.6 4.6 8.8 4.4-8.1 4.3-6 4.3-5.3 4.1 6 4 8.9 3.9-.5 3.9-10.5 3.8 10.9 3.6-3.5 3.7 5.6 3.5 2.8 3.5 6 3.4 2.5 3.3 2.9 3.3 15.9 3.2-15.2 3.1-16.4 3.1 7 3.1-.6 3 4.3 2.9 7.7 2.9-3.4 2.9-3.6 2.8 16.6 2.7-12 2.7 11.4 2.7 3.1 2.7 1.8 2.6-5 2.5 1.1 2.5 .7 2.5-6.3 2.5 5.6 2.4-8.6 2.4 4.5 2.3-3.7 2.3 13.4 2.3-.9 2.3 5.9 2.2-4.7 2.2 14.1 2.2-14.7 2.1-4.4 2.2-4.5 2.1 18.2 2-7.3 2.1 8.6 2-8 2 3.6 2-4.7 1.9-9.7 2 8.4 1.9-.7 1.9 2.6 1.9 5.7 1.8 4.5 1.8 5 1.9 .3 1.8 2.3 1.7-4.1 1.8-7.1 1.7 9.9 1.8-2.6 1.7 6.4 1.7 10.2 1.6-6.6 1.7-8.8 1.7-.8 1.6 5.7 1.6 8.8 1.6-6.7 1.6 3.9 1.5-3.7 1.6 10.8 1.5 12.1 1.6 3.6 1.5-11.6 1.5-5.5 1.5-1.5 1.5-6.3 1.4 5.1 1.5-1.7 1.4 .2 1.5-3.5 1.4-.1 1.4-.6 1.4 11 1.4-13.7 1.3 19.3 1.4 4.5 1.4-8 1.3-13.8 1.3 7.7 1.3-8.6 1.4 9.8 1.3-9.1 1.3 12.9 1.2 6.3 1.3 2.1 1.3 13.8 1.2-.9 1.3-1.9 1.2-5.3 1.2 0 1.3-2.7 1.2 1.8 1.2 2.6 1.2-2.4 1.2-.3 1.1 11.3 1.2 8.8 1.2 4.8 1.1-23.8 1.2 14.7 1.1 3.9 1.2-14 1.1-5.1 1.1-.4 1.1-7.7 1.1 22.1 1.1-2.9 1.1-.7 1.1-4.6 1.1-10.5 1 12.9 1.1-5.9 1.1 4.5 1 4.8 1.1 10 1-7.8 1-13.7 1.1 2.3 1 23.2 1-12.8 1 2.5 1-7.2 1 20.6 1-20.2 1 12.3 1-12.5 1 1.2 .9 9.2 1 2.3 .9 5.9 1-8 1 1 .9 7.3 .9 3.4 1-4.4 .9 11.3 .9-7.6 .9-4.7 1-3.5 .9 3.6 .9-2.8 .9-9.5 .9 11.6 .9 8.9 .8-16.6 .9-.9 .9 11.5 .9 6.5 .8-20.1 .9 7.7 .9 2.2 .8 5.1 .9-2.1 .8 8.9 .9 3.1 .8-11.1 .9-9.4 .8 8.8 .8 1.5 .8 17.1 .9-11 .8 7.4 .8-10.8 .8 13.8 .8-9.3 .8 1 .8-5.9 .8 10.7 .8 6.8 .8-11.1 .8 6 .7 8.1 .8-10.5 .8-1.9 .8 4.9 .7 .9 .8-8.8 .7 6.1 .8 15.5 .8-6.8 .7-2.7 .8-5.2 .7 7.6 .7 17.6 .8-9 .7-3.1 .7-8 .8 2.1 .7-6.5 .7 2 .7-19.9 .8 12.1 .7 2.8 .7 7.7 .7-2.4 .7 6 .7 7.2 .7 0 .7 9.8 .7-18 .7 14 .7-6.7 .6-1.7 .7 4 .7 .7 .7-10.4 .7-3.4 .6 .2 .7-4.3 .7 8.1 .6 9.7 .7 6.6 .7-18.9 .6 17 .7-13.7 .6 30.2 .7-21.8 .6 5 .7-14.2 .6 16.2 .6-8 .7-6.5 .6 8.3 .7 6.1 .6 12.1 .6-12.6 .6-9.4 .7-7.2 .6 19.1 .6 14.5 .6-16.1 .6-1.3 .7 1 .6-.4 .6-3.6 .6-6.9 .6 1.3 .6 4.8 .6-6.7 .6 13.3 .6-2.9 .6-6.2 .6 11.8 .6 5.4 .6-5 .5 16 .6-6.8 .6-8.5 .6 4 .6-11 .5 5.9 .6-3.8 .6 .7 .6 2.2 .5 20.2 .6-13 .6-5.9 .5 9.7 .6 4.6 .6-8.6 .5 2.1 .6-3.1 .5-1.3 .6 6.5 .5 2.7 .6 13.3 .5-17.9 .6 11.6 .5 3.1 .6-4.9 .5 7.9 .5-2.8 .6-11.6 .5 1.2 .6-14.5 .5 23.2 .5-1.3 .5-5.9 .6 11 .5-15.6 .5 4.6 .6-2.9 .5 14.8 .5-7.4 .5 1.2 .5 21 .5-17.2 .6 3.2 .5 6.6 .5-11.9 .5-2.4 .5 2.3 .5 5 .5-3.9 .5-2.6 .5 1.8 .5 3.8 .5-5.1 .5 4.6 .5-1.4 .5 12.7 .5-13 .5 5.7 .5-5.7 .5-10.7 .5 22.2 .5-15.9 .4 18.7 .5-11.6 .5-.9 .5 17.1 .5 .8 .5-8.2 .4-6.8 .5-1.4 .5 5.1 .5-.8 .4 15.2 .5-4.9 .5-4.4 .4-7.8 .5 7.3 .5 8.6 .4-13.3 .5-1.7 .5 6.1 .4-13.2 .5 14.1 .4-.4 .5-5.6 .5 2.8 .4 8.6 .5-10.5 .4 10.3 .5 5.1 .4 4.5 .5 4.6 .4-8.3 .5-8.9 .4-.7 .5-2 .4 1.8 .5-2.1 .4 .7 .4-4.4 .5 10.4 .4-7.4"/>
<path d="M723.3 397.9l5.8-8.1 5.5-3.5 5.4 .1 5.2 4.2 5.1-3 5 6.1 4.8 3.4 4.6-1.2 4.6 .6 4.4 8.4 4.3-1.2 4.3 .9 4.1 2.3 4 11 3.9-.3 3.9-9.7 3.8 2.1 3.6-1.2 3.7-11 3.5 2.9 3.5 .9 3.4 15.7 3.3 2 3.3-2.7 3.2-1.6 3.1 0 3.1 2.2 3.1 12.7 3-4.7 2.9 6.5 2.9 4.5 2.9-8.3 2.8 1.8 2.7 7.6 2.7-5.1 2.7 .1 2.7 13.1 2.6 3.9 2.5-.5 2.5-14 2.5 1.5 2.5 2.6 2.4 5.2 2.4 .6 2.3 1.9 2.3 10.3 2.3-9.4 2.3-7.1 2.2 2.6 2.2 5.5 2.2 1.8 2.1 2.5 2.2-8.2 2.1-.3 2-2 2.1 4.8 2 5.1 2 4.1 2 3 1.9 3.5 2-7.3 1.9-7.1 1.9-1 1.9 9.4 1.8-3.4 1.8 .5 1.9 5.6 1.8 12 1.7-1.9 1.8-.6 1.7-6.5 1.8 12.1 1.7-1.2 1.7-10.3 1.6 .9 1.7-7.5 1.7 7.6 1.6 1 1.6 14.4 1.6-1.9 1.6-11.5 1.5 17.6 1.6-10.6 1.5-9.7 1.6 .4 1.5 3.1 1.5 14.6 1.5 4.1 1.5-13 1.4 12 1.5-9 1.4-3.6 1.5 14.8 1.4-19.7 1.4 13.8 1.4-11.2 1.4-12.4 1.3 13.6 1.4 7.7 1.4 9.7 1.3-6.8 1.3 6.4 1.3 3 1.4 2.6 1.3-7.5 1.3 2.1 1.2-6.7 1.3 11.4 1.3 10.8 1.2-18 1.3 1.9 1.2 1.6 1.2-4.3 1.3-1.2 1.2 14.3 1.2-5.7 1.2-2.4 1.2 27 1.1-23.9 1.2 11.2 1.2-11.2 1.1-8.5 1.2 12.2 1.1-4.6 1.2 11.2 1.1 1.7 1.1 4.8 1.1-7.2 1.1-2.2 1.1 10.8 1.1-18.5 1.1-5.6 1.1 21.8 1-7.1 1.1 .9 1.1-1.7 1 5.5 1.1-.5 1 1.1 1 13.1 1.1-.5 1 1.3 1 5.5 1-12.4 1 4.5 1 14.7 1-8.3 1-20.2 1 8.8 1 6.7 .9-12.6 1 8.1 .9-8 1-4.6 1 4.9 .9-1.2 .9 1.9 1 2 .9 1.2 .9-1.1 .9 22.9 1 6.6 .9-33.1 .9 11.6 .9-7 .9 1.1 .9 4.5 .8 7.9 .9-16 .9 12.7 .9 7.4 .8-10.5 .9-.5 .9 14.9 .8-7.9 .9-.4 .8 5.6 .9-9 .8-4 .9 15 .8-1.2 .8-12.7 .8 7.3 .9 7.6 .8 .8 .8 7.2 .8 9.9 .8-24.9 .8 13 .8-13.1 .8-7.8 .8 14.6 .8-9 .8 22.5 .7-10.5 .8-3.1 .8 1 .8-1.2 .7 12 .8-10.7 .7-2.4 .8 5.8 .8 15.6 .7-21.8 .8 3.6 .7 1.6 .7-10.2 .8 20.2 .7-10 .7 14.1 .8-17 .7 25.9 .7 11.9 .7-17.1 .8 4.3 .7 12.2 .7-23 .7 11.1 .7-10.8 .7 4 .7-8.8 .7 9.5 .7-11.4 .7 13.4 .7-4.5 .6 18 .7-21.3 .7-9.8 .7 9.1 .7 6.9 .6-10.2 .7 4.7 .7 19.7 .6-18.6 .7 14.2 .7-2.6 .6 4.4 .7 15 .6-10.1 .7 5 .6-10 .7 8.4 .6-1.9 .6-9.2 .7-5.1 .6 1.6 .7-2.6 .6 14.9 .6-6.4 .6 3.6 .7-5.1 .6 4.3 .6-9.3 .6 9 .6-13.3 .7 14 .6-6.2 .6-.8 .6 .9 .6-9.6 .6 10.8 .6-10.5 .6 32.1 .6 3.1 .6-11.8 .6-12.1 .6 9.7 .6 14.2 .5-14.9 .6-7.7 .6 2.1 .6 16.7 .6-9.6 .5 12.4 .6 2.1 .6-24.8 .6 7.1 .5 8.6 .6-5.2 .6 3.2 .5-8.4 .6 16.2 .6-17.5 .5 12.5 .6-7.1 .5 7.6 .6-2.3 .5 8.9 .6 11.1 .5-5 .6-8.6 .5-2.2 .6 13.6 .5-8.2 .5-9.5 .6 11.2 .5-3.8 .6-13 .5 .1 .5 14.8 .5-5.8 .6-4.6 .5 1 .5-.3 .6 1.1 .5-3.5 .5 8.3 .5-7.4 .5-7.1 .5-2.4 .6 5 .5 1 .5 19.6 .5-8 .5 11.3 .5 5.8 .5 6.9 .5 16.7 .5-19.6 .5-5.7 .5 25.2 .5-7.5 .5-23.4 .5 11.1 .5-5.6 .5-7.8 .5 6.6 .5 6.2 .5 9.5 .5 4.3 .4-15.9 .5-8 .5 5.6 .5-1.1 .5-17.2 .5 11.6 .4 8.4 .5-1.3 .5-2.5 .5-4.5 .4 4.7 .5 9.9 .5 3.7 .4-10.8 .5 7.7 .5-13.6 .4 19.3 .5-13.3 .5-2.1 .4-8.9 .5 16.3 .4 12.8 .5-5.5 .5 13.4 .4-22.3 .5-10.5 .4 14 .5-16.3 .4 5 .5-1.8 .4 18.5 .5 16.6 .4-18.1 .5 20.2 .4-32.4 .5 10.8 .4 0 .4-1.6 .5 6.7 .4-2.8"/>
<path d="M723.3 395.8l5.8 5 5.5-.6 5.4 1.3 5.2 5.1 5.1 15.5 5-10.9 4.8 2.1 4.6-16.6 4.6 4.4 4.4-2 4.3-3.8 4.3 5.3 4.1 7.5 4 .1 3.9-2.7 3.9-6.2 3.8 8.3 3.6 15.3 3.7-2.7 3.5-12 3.5 8.9 3.4 1.5 3.3 5.8 3.3-7.9 3.2 4.5 3.1 7.4 3.1-8.4 3.1 14.6 3 11.8 2.9-4.3 2.9-4.8 2.9-13.5 2.8 3.2 2.7-.9 2.7 13.8 2.7-10.8 2.7-5.9 2.6 5.9 2.5 1.2 2.5-7.9 2.5 21.1 2.5-13.9 2.4-2.7 2.4 4 2.3 5.1 2.3 16.9 2.3-22.4 2.3 15.7 2.2-6.1 2.2 10.6 2.2-16.3 2.1 12.4 2.2 6.7 2.1-2.3 2-2.5 2.1-4.5 2-1.6 2 7.7 2-.6 1.9 13.2 2 10.3 1.9-13.1 1.9-1 1.9-3.2 1.8 4.3 1.8 .4 1.9 6.7 1.8 14.2 1.7-17.3 1.8 4.8 1.7 2.5 1.8 8.3 1.7-12.4 1.7-9.2 1.6 10.3 1.7-13.6 1.7 9.5 1.6 5.6 1.6 5.2 1.6-6.7 1.6 6.4 1.5 .8 1.6-.3 1.5 .9 1.6 5.6 1.5-13.6 1.5 16.5 1.5 1.4 1.5-16.6 1.4 16.4 1.5-12.6 1.4 7.6 1.5-8 1.4 10.5 1.4 3.1 1.4-8.5 1.4 15.9 1.3-10.9 1.4 2.6 1.4-2.3 1.3 16 1.3-10.2 1.3 4.4 1.4-6.8 1.3 4.4 1.3-12.9 1.2 3.5 1.3-.4 1.3 8 1.2 0 1.3 12.6 1.2 4.3 1.2-11.5 1.3-10.5 1.2 28.7 1.2-12.8 1.2 .4 1.2 2.1 1.1-7.8 1.2 12.1 1.2-9.2 1.1 2.8 1.2-12 1.1 14.8 1.2 6.2 1.1 2.1 1.1 3.8 1.1 4.3 1.1-13.9 1.1 9.6 1.1 4.3 1.1-17.5 1.1 4.6 1-14.3 1.1 17.2 1.1-7.9 1 11.5 1.1-12.1 1 16.7 1-1.7 1.1 4.7 1-8.3 1-7.3 1 3 1 8.7 1-18.6 1 12.7 1 4.1 1 12.9 1-8.4 .9-17.7 1 10.4 .9-14.5 1 .6 1 31.4 .9-20.3 .9 20.4 1-14.8 .9 13.4 .9 4.1 .9-20.5 1 6.7 .9-16.4 .9-.1 .9 1.2 .9-.1 .9 5.9 .8 17.4 .9-6.6 .9 9.6 .9 3.4 .8-16.9 .9 9 .9-8.1 .8 6 .9-18.8 .8 10 .9 13.3 .8-11.1 .9 3.6 .8 .6 .8-2.8 .8 2.8 .9 8.1 .8-6.9 .8-8 .8 1.2 .8 2.7 .8 2 .8 7.7 .8 9.3 .8 18 .8-18.8 .8 4.1 .7-11.1 .8-7.4 .8 6.7 .8-6.4 .7 11.9 .8-14 .7 14.5 .8-5.6 .8-6.5 .7 24.8 .8-17 .7 13.3 .7 11.5 .8 1.2 .7-12.6 .7-9.2 .8 3.9 .7-4.8 .7 3.2 .7 9.2 .8 6.3 .7-4.6 .7-2.4 .7 13.5 .7-9.8 .7 11.4 .7-3 .7-17.4 .7 4.3 .7-11.7 .7 8 .6 9.9 .7 10.6 .7 1.3 .7-10.2 .7 9.1 .6 2.5 .7-21.5 .7 16.2 .6-8.7 .7 6.4 .7-14.4 .6 9.3 .7 11.8 .6 9.5 .7-15.7 .6 7.7 .7-1.1 .6 3.6 .6 .5 .7-16.1 .6-3.2 .7 5 .6 1 .6-3.9 .6 5 .7 6.1 .6 6.9 .6 4.7 .6-13.9 .6-8 .7-4 .6 26.8 .6 6.3 .6-31.7 .6 21.8 .6 4.9 .6-4.4 .6-14.2 .6 11.9 .6 3.4 .6 6.5 .6-9.5 .6 15.4 .5-12.3 .6-5.2 .6 3.8 .6 16.2 .6-19.4 .5-1.3 .6-11.3 .6 9.4 .6 7.8 .5 18.7 .6-14.6 .6-17.6 .5 7.6 .6 8.3 .6 7.9 .5-12.4 .6 4.4 .5 11.7 .6 1.4 .5-7.2 .6 5.2 .5 .2 .6 10.7 .5-9.9 .6 .6 .5-.7 .5-14.1 .6 14.3 .5-15 .6 7.2 .5-4.7 .5 0 .5 12.7 .6-2.5 .5-13.8 .5 4 .6 2.2 .5 5.1 .5-.3 .5-5.5 .5-2 .5-1.4 .6 22.4 .5-18.7 .5 3.4 .5 24.5 .5-8.6 .5-24.6 .5 31 .5 5.9 .5-11.1 .5-5 .5 9.1 .5 5.9 .5-18.2 .5 8 .5 3.1 .5 2.6 .5-9.4 .5-14.3 .5-3 .5 7.6 .4 3 .5 11.5 .5-2.3 .5-8.9 .5 9.9 .5-9 .4 22.9 .5-21.5 .5 18.9 .5-.9 .4-7.1 .5 6.8 .5 5.5 .4-11.7 .5 18.7 .5-21.1 .4-11.6 .5 13.3 .5-14.7 .4 21.4 .5 24.8 .4-23.4 .5 3.2 .5-10.5 .4-2 .5-12.7 .4 19.7 .5-10 .4-2.9 .5 30.8 .4-5 .5 .2 .4-10.9 .5-2 .4 8.6 .5 5.3 .4-3.9 .4-4.6 .5-9.1 .4 12.7"/>
<path d="M723.3 394.7l5.8 1.6 5.5-.1 5.4 .8 5.2-6.6 5.1 22.1 5-8 4.8-7.6 4.6 .5 4.6 6.8 4.4-2.8 4.3-5.2 4.3 9.4 4.1 4.7 4 .8 3.9-14.2 3.9 7.9 3.8 4.9 3.6-1 3.7 6.7 3.5 1.6 3.5-2.9 3.4 0 3.3 7.6 3.3 10.7 3.2-3.7 3.1 15.8 3.1 1.4 3.1-6.8 3-5.8 2.9 1.9 2.9-7.7 2.9-3.7 2.8 24.6 2.7-3.6 2.7 2.4 2.7-6.6 2.7 7.2 2.6 .7 2.5 8.4 2.5-15.9 2.5 .5 2.5 2.6 2.4 1.9 2.4-12.7 2.3 4.5 2.3-8.3 2.3 8.8 2.3 29.5 2.2-18.6 2.2 1.5 2.2-3.4 2.1 11.2 2.2-.3 2.1-.3 2 2.3 2.1-17.9 2 3.9 2-6.1 2 .6 1.9 6.8 2 3.6 1.9 2.1 1.9-1.4 1.9 10.1 1.8-3.3 1.8 .2 1.9 5.1 1.8-1.8 1.7 .9 1.8 15.8 1.7-8.9 1.8-15 1.7 8.3 1.7-6.4 1.6 13.6 1.7-2.7 1.7 7.1 1.6-5.5 1.6 17.3 1.6-16.1 1.6 3 1.5-5.6 1.6-1.5 1.5 .7 1.6-16.4 1.5 14.7 1.5 10.9 1.5 4.7 1.5-6.6 1.4-1.6 1.5 13 1.4-5.4 1.5 16.3 1.4-10.1 1.4 .5 1.4-2.5 1.4-8.4 1.3 12.2 1.4-10.1 1.4 7.7 1.3-.9 1.3-10.3 1.3-13.2 1.4 11.9 1.3 5.3 1.3 3.7 1.2 4.9 1.3 4.2 1.3 11.8 1.2-4.8 1.3-11.6 1.2 10.4 1.2 10.3 1.3-8.7 1.2-.5 1.2-20.9 1.2-1 1.2-10.5 1.1 8.3 1.2 19 1.2 9.2 1.1 .9 1.2-13.3 1.1-3.2 1.2 7.5 1.1-3.5 1.1-1.7 1.1 4.4 1.1 13.5 1.1-.6 1.1 4.5 1.1-5 1.1-15.2 1 6.2 1.1 22.1 1.1-11.6 1-10.4 1.1-6 1 4 1 5.9 1.1 18.6 1-6.4 1 3.2 1-21.8 1 17 1-7.4 1 19.6 1 1.5 1-4 1-13 .9 8.4 1-7 .9-5.2 1 12.8 1-8.4 .9 10.4 .9 14 1-11.7 .9-3.2 .9 5.3 .9-7.6 1 2.3 .9 3.9 .9-9.6 .9-1 .9 7.7 .9-1.5 .8-4.8 .9 14.8 .9-13.9 .9 3.6 .8 10.4 .9-4.6 .9 5.4 .8 22.4 .9-6.4 .8-23.1 .9 4.1 .8 9.2 .9-19.4 .8 1.6 .8 12 .8-5.6 .9-9.4 .8 5 .8 1.3 .8 7.3 .8 8.2 .8 5.2 .8 7 .8-20.2 .8-1 .8 11.1 .8-4.2 .7-3.5 .8 7.7 .8-8.8 .8 3.9 .7-1.3 .8-2.4 .7-9.4 .8 29.7 .8 3.1 .7-21.9 .8 7.5 .7 7.6 .7 5.8 .8-4.8 .7 1.3 .7 5.7 .8-20 .7 15.4 .7-6.6 .7-5.3 .8 20.8 .7-14.4 .7-1.8 .7 19 .7 6.4 .7-11.7 .7-3.9 .7 4.6 .7-7.4 .7 16.8 .7-27.8 .6 3.2 .7 23 .7-15.4 .7-2.5 .7 28 .6-34.2 .7 8.7 .7 17.3 .6-2.1 .7-14.2 .7 24.6 .6 .5 .7-14.9 .6-2.7 .7-1.1 .6 9.4 .7-10 .6-6.2 .6 22.5 .7 1.2 .6-9.5 .7 6.4 .6-1.1 .6-7.4 .6-16.7 .7 10.6 .6-5.6 .6 14.3 .6 1.6 .6-6.3 .7 4.2 .6-17.4 .6-3.9 .6 17.8 .6-1.1 .6-14.7 .6 15.7 .6 20 .6-11.3 .6-9.2 .6 6.4 .6-7.1 .6 12.2 .5 4.3 .6-7.9 .6-9.3 .6 19.2 .6-13.5 .5 8.3 .6 30.8 .6-7.1 .6-30.8 .5-17.7 .6 13.2 .6 .8 .5 19.4 .6 5.3 .6-1.7 .5-12.3 .6-7 .5 9.7 .6-1 .5-3.7 .6 12.8 .5-6.5 .6-5.2 .5 19.6 .6-7.2 .5-24.5 .5 17.3 .6 7.8 .5-12.8 .6 14.1 .5-1.2 .5 3.4 .5-20.1 .6 18.5 .5 9.5 .5-8 .6-2.2 .5 28.4 .5-42.6 .5 9.2 .5 .8 .5-5.5 .6-5.9 .5 32.2 .5-19 .5 18.4 .5-19.8 .5 8.9 .5-2 .5-1.4 .5-.5 .5-10.7 .5-2.5 .5 24.6 .5-1.8 .5-14.9 .5 6.5 .5-11.5 .5 8.9 .5-.5 .5-.8 .5 4.3 .4 23.4 .5-1 .5 .5 .5-8.5 .5 .9 .5 12 .4 15.3 .5-28.4 .5 10.7 .5 12.7 .4-20.8 .5 8.3 .5-15 .4 7.2 .5-4.4 .5 11.8 .4 .2 .5-9.7 .5-3.2 .4-7 .5 12.5 .4 6.6 .5-27.7 .5 17.3 .4 10.9 .5 5.7 .4-13.4 .5 1.7 .4 3.7 .5-19.4 .4 4.9 .5-8.3 .4 25.3 .5 8.7 .4 .1 .5-7.2 .4 2.1 .4 4.4 .5 3 .4 4.1"/>
<path d="M723.3 374.6l5.8 17.8 5.5 2.7 5.4 6 5.2-1.5 5.1 2.1 5 3.8 4.8 2.7 4.6-4.4 4.6-10 4.4 9.7 4.3-7.6 4.3-.7 4.1-2 4 18.1 3.9 2.1 3.9-7.2 3.8 4.7 3.6 4.5 3.7 2 3.5 3.9 3.5-2 3.4-9.5 3.3 3 3.3 2.4 3.2 18 3.1 3.4 3.1-1.1 3.1-4 3 14.2 2.9-4.7 2.9-6.1 2.9-2.7 2.8 14.6 2.7 11 2.7-3.9 2.7-8 2.7-8.8 2.6-.3 2.5-9 2.5-5.2 2.5 4.6 2.5-.4 2.4-12.8 2.4 19 2.3 7.9 2.3 12.3 2.3-9.2 2.3-1.8 2.2 3.2 2.2 6.7 2.2-7.2 2.1 12.9 2.2-10.2 2.1 15.7 2-7.5 2.1-12.4 2 8.4 2 24.7 2-15 1.9 4.8 2 6.3 1.9-13.5 1.9 9.7 1.9-11.9 1.8-11.9 1.8 3.7 1.9 6.7 1.8 3.6 1.7 7.1 1.8-2.3 1.7 7.6 1.8-3 1.7 3.8 1.7-10 1.6-10.3 1.7 13.3 1.7-17.8 1.6 17.8 1.6 14.7 1.6-1.7 1.6 8.6 1.5-3.5 1.6 5 1.5-3 1.6-8.3 1.5-7.6 1.5 3.4 1.5 .1 1.5-.1 1.4-3.7 1.5 25.5 1.4-9.6 1.5-13.3 1.4 .4 1.4 8.9 1.4 1.6 1.4-3.2 1.3-8.7 1.4 18.2 1.4 4 1.3-7.7 1.3-17.8 1.3 8.8 1.4 11.1 1.3-15.7 1.3 13.5 1.2-13.8 1.3 17.5 1.3-3.5 1.2 9.3 1.3-.5 1.2-6.5 1.2-5.6 1.3-1.8 1.2 15.8 1.2-8.8 1.2 15.6 1.2-10.1 1.1 11.9 1.2-11.1 1.2-7.4 1.1 5 1.2 1.9 1.1 13.7 1.2-5.4 1.1 2.6 1.1-11.4 1.1-5.7 1.1-2.7 1.1 12.5 1.1 0 1.1 15.7 1.1 1.7 1-9.7 1.1-1.9 1.1 12 1-6.9 1.1 13.6 1 1.6 1 0 1.1-9.9 1-.3 1 9.1 1-12.4 1-4.3 1 4.4 1-3.8 1 5.1 1 7.5 1 .2 .9-19 1 24.4 .9-20.8 1 14 1-2.5 .9 14.7 .9 2.7 1 3.2 .9-17.3 .9 1.6 .9 10 1-8.7 .9-1.3 .9-13.5 .9 10.5 .9 4.2 .9-8.4 .8 13.5 .9 .7 .9 8.4 .9-2.7 .8-4.1 .9-13.4 .9 2.1 .8-2.8 .9 10.8 .8 9.1 .9-2.2 .8 4.1 .9 5.1 .8-4.4 .8-19 .8 11.3 .9 4.5 .8 .8 .8 6.6 .8-7.7 .8 1.3 .8-6.3 .8-11.2 .8-.9 .8 6.1 .8 27.3 .8 3.3 .7-4.7 .8 12.2 .8-22.1 .8 7.9 .7 7.7 .8-5.2 .7-3.9 .8 10.6 .8-10.8 .7-11.6 .8 10.7 .7-7 .7 3.2 .8-2.5 .7 2.1 .7 1.9 .8-4 .7 13.4 .7-1.3 .7 10.4 .8 3.3 .7-9 .7-3.8 .7-5.7 .7 3 .7 3.3 .7 .8 .7 3.6 .7 3.7 .7-5.3 .7 6.9 .6-4 .7-17.8 .7 15.5 .7-23.7 .7 22.5 .6 11.1 .7-6 .7-4.4 .6 2.6 .7 1.8 .7 13.2 .6-17.5 .7 10.9 .6-4.5 .7 2 .6-10 .7 13 .6-10.3 .6 14 .7-19.2 .6 1.7 .7 8.9 .6-12.1 .6 19.5 .6-7.1 .7-11.6 .6 22.7 .6 7.1 .6-18.9 .6 1.5 .7 0 .6 8.1 .6-.6 .6-2 .6 30.2 .6-7 .6-13.6 .6 .7 .6 7.7 .6-13.8 .6-5.1 .6 1.9 .6-2.9 .5 1.3 .6-2.1 .6 9.1 .6-.9 .6-15.7 .5 22 .6-8.6 .6 .9 .6-1.9 .5 2.4 .6 4.8 .6-23 .5 20.6 .6 0 .6-1.9 .5-2.7 .6 10.4 .5-2.6 .6-.7 .5-.7 .6 4.5 .5-4.5 .6-4.6 .5 11 .6-7.2 .5 1.3 .5-.2 .6 19.9 .5-11.7 .6 9.5 .5 8.8 .5-6.1 .5-11.4 .6-5.1 .5-1.4 .5 11 .6-8.4 .5 14 .5-1.9 .5-2.2 .5 1.1 .5 3.3 .6 2.5 .5-24.9 .5-.4 .5-2 .5 11 .5 3.3 .5 19.3 .5-18 .5 3 .5 21.9 .5-4.9 .5-21.6 .5 3.6 .5-2.1 .5 11.9 .5 3 .5-8.2 .5 2.8 .5-1.5 .5-1.3 .4 25.8 .5-18.6 .5-8.3 .5 5.6 .5-3.8 .5 26.1 .4 4.4 .5-22.4 .5 15.2 .5-2.1 .4-18.6 .5 11.5 .5-1.7 .4 9.6 .5-7.8 .5 5 .4-3.4 .5-2.4 .5-10.9 .4 13.2 .5 3.2 .4 4.3 .5-21.6 .5-6.3 .4 11.7 .5 8.9 .4 6 .5-2 .4 2.1 .5-2.5 .4-1.2 .5-3.7 .4 .9 .5 19.2 .4-20.3 .5 13 .4-19.8 .4 2.2 .5-1.3 .4-.4"/>
<path d="M723.3 395.4l5.8 9.1 5.5-4.1 5.4 2.5 5.2-10.8 5.1-.4 5-1.5 4.8-1.5 4.6 1.4 4.6 1 4.4 3.2 4.3 3.3 4.3 4.6 4.1-7.3 4 3.9 3.9 7.7 3.9 7.1 3.8 7.9 3.6-14.3 3.7 .2 3.5 3 3.5 2.9 3.4 11.6 3.3-.9 3.3 2 3.2-5 3.1-7.1 3.1 6.3 3.1 6.1 3-8 2.9 7.6 2.9-3.3 2.9 1.8 2.8 9.2 2.7 8 2.7-4 2.7-.4 2.7-7.3 2.6 14.5 2.5-10.4 2.5-6.9 2.5 9.5 2.5 6.4 2.4 15.5 2.4-4.8 2.3-12.2 2.3 10.3 2.3-4.3 2.3-8.8 2.2 1 2.2-9.4 2.2 18.6 2.1 3.6 2.2-6.4 2.1 2.4 2-4.6 2.1-13 2 7.2 2 12 2-3.8 1.9-3 2 13.1 1.9-7.6 1.9-8.7 1.9 10.6 1.8 .2 1.8-6.2 1.9 11.2 1.8 6 1.7 4.9 1.8-9.7 1.7 22.8 1.8-12.6 1.7 1.7 1.7-10 1.6 6.6 1.7 3.8 1.7 4.4 1.6-3.2 1.6 1 1.6 12 1.6-5.2 1.5-2 1.6-2.7 1.5 5.5 1.6 9.1 1.5-8.2 1.5-16.2 1.5 15 1.5 3.6 1.4 10.7 1.5-3.7 1.4-4.8 1.5-4.4 1.4 5.4 1.4-1.1 1.4 1.9 1.4-10.9 1.3 12.7 1.4-9.5 1.4 9.6 1.3-8.9 1.3 17.6 1.3-4.7 1.4-12.6 1.3 12 1.3-9.2 1.2 14 1.3-10.1 1.3-11.8 1.2 24.8 1.3-5.4 1.2-6.2 1.2-2.6 1.3-4.1 1.2-.4 1.2 .2 1.2 7.5 1.2-5.5 1.1-.5 1.2 15.8 1.2 14.4 1.1-16.1 1.2 16.1 1.1-16.9 1.2-4.9 1.1 .6 1.1 1.8 1.1-.4 1.1 18.2 1.1-12.2 1.1 4.6 1.1-5.3 1.1-7 1 .7 1.1 6.2 1.1-3.1 1 16.7 1.1-3.4 1 9.9 1 3.9 1.1-12.3 1-3.5 1 1 1 9.5 1-11.3 1 16.6 1-4.6 1-22.4 1 13.4 1-1.2 .9 2.1 1 5.3 .9-10.3 1 12.4 1-4.7 .9 9.4 .9-4.6 1 7.5 .9-1.6 .9-9.8 .9 5.2 1-1.9 .9-4.4 .9-4.9 .9 14.8 .9 0 .9 1.2 .8 5 .9-9.2 .9-.3 .9 11.4 .8-8.9 .9 8.8 .9-18.2 .8 14.9 .9-3.1 .8-7.3 .9 10.9 .8-14.1 .9 21 .8 12.3 .8-7.8 .8-5.1 .9-.8 .8 6.2 .8 10.8 .8-15.2 .8 3.8 .8 24.6 .8-21.3 .8-.4 .8 15.5 .8-17.9 .8 5.2 .7-13.8 .8 2 .8 2.1 .8-1.9 .7 14.5 .8 7.5 .7-10.5 .8-16.1 .8 12.6 .7 7.1 .8-1.5 .7 3.7 .7-11.2 .8-15.8 .7 26.4 .7-2.1 .8-13 .7-1.8 .7 0 .7 15.3 .8-1.3 .7 6.3 .7-5.1 .7 5 .7-9.8 .7-8.1 .7 3.8 .7 10.4 .7-7.2 .7 14.3 .7-4 .6 .2 .7-.1 .7-6.5 .7 12.5 .7-9.3 .6 3.2 .7-.9 .7 2.4 .6 7.6 .7-8.8 .7-1.7 .6 3.1 .7 10.9 .6-9.5 .7 5.8 .6 7 .7-8.9 .6 10.9 .6-18.5 .7 7.8 .6-3.4 .7 7.3 .6-7.4 .6 2 .6-7.9 .7 8.5 .6-3.3 .6 16.9 .6-11.7 .6 5.2 .7 11.8 .6-1.3 .6 6.1 .6-3.7 .6-10.8 .6-11.5 .6 9.8 .6-1.2 .6 6.6 .6-5.8 .6 12.4 .6-9 .6-2.8 .5 4.6 .6-9.5 .6 32.5 .6-17.3 .6 6.9 .5-14.3 .6-14.1 .6 11.1 .6 4.6 .5-1.4 .6 11.8 .6-7.1 .5 4.1 .6-10.4 .6 6.3 .5-5.3 .6 5.8 .5 10.8 .6-15.8 .5 19.6 .6-25.3 .5 21.4 .6-9.9 .5 20 .6-12.4 .5 2.8 .5 9.4 .6 17.5 .5-12.7 .6-10.4 .5 19.3 .5-36 .5 15.6 .6-1.2 .5 5 .5-13 .6-1 .5 2.2 .5 9.5 .5 4.4 .5-12.6 .5 15.3 .6-5.2 .5-16.1 .5 16.2 .5-13.4 .5 2.5 .5 11.6 .5-10.4 .5 12.7 .5-3.4 .5-6.2 .5 2.4 .5 4.4 .5 5.2 .5 9.2 .5 .5 .5-10.4 .5-4.9 .5 3.5 .5-1.2 .5 9.3 .4 1.5 .5-19.1 .5 19.9 .5 6.8 .5-15.3 .5 10.6 .4-6.1 .5 1.5 .5-18.3 .5 31.8 .4-26.5 .5 7 .5-3.6 .4 10.8 .5 15.1 .5-6.9 .4-21.6 .5 12 .5 10.5 .4-14.8 .5-7.5 .4 15.3 .5-2.7 .5-4.7 .4 6 .5-1 .4-4.1 .5 2.5 .4-4.5 .5 26.2 .4-11.4 .5 4 .4-2.4 .5-19.6 .4 .1 .5 22.8 .4-1.2 .4-8 .5 2.2 .4-1.4"/>
<path d="M723.3 395.8l5.8-4.2 5.5 2.1 5.4-4.6 5.2 2.2 5.1-1.2 5 2 4.8-1.1 4.6 2.4 4.6-1.6 4.4 6.2 4.3 8.5 4.3 9.3 4.1-7.4 4 5.4 3.9 .3 3.9-4.2 3.8 6.3 3.6 6.1 3.7 5.5 3.5-.4 3.5 3.9 3.4-1.6 3.3-3.9 3.3 4.4 3.2-10.1 3.1 2.5 3.1-2 3.1 9.7 3-10.9 2.9 9.4 2.9 5.7 2.9-5.9 2.8-.1 2.7 3.8 2.7 2.7 2.7-6.6 2.7 12.8 2.6-.4 2.5-4.5 2.5-1.4 2.5 7.1 2.5 2.1 2.4-6.7 2.4-1.8 2.3 2.7 2.3-8.1 2.3 3.8 2.3 4.1 2.2 .2 2.2 9.5 2.2-3.5 2.1 2.3 2.2 2 2.1 1.8 2-8.8 2.1 4.4 2 2.5 2 9.8 2-7 1.9-3.9 2 6.5 1.9 3.9 1.9-8.6 1.9 4.8 1.8 8.6 1.8-3.5 1.9 3 1.8-12 1.7 5.2 1.8 7.7 1.7-11.5 1.8 8 1.7-3.5 1.7 21.3 1.6-16.5 1.7 6 1.7 9.1 1.6-18.4 1.6 2.9 1.6 5.1 1.6 2.4 1.5 8 1.6-4.4 1.5-2.5 1.6 2 1.5 5 1.5-4.5 1.5 5.3 1.5-4.4 1.4 10.2 1.5-14.7 1.4 5.8 1.5 9.4 1.4-9.3 1.4 12.7 1.4-5.1 1.4-6.4 1.3 9.3 1.4-2.9 1.4 1.7 1.3-6.6 1.3 13.3 1.3-.9 1.4-.8 1.3-7.2 1.3 4.9 1.2 6.1 1.3-6.7 1.3 12.6 1.2-11.6 1.3 6.5 1.2 11.2 1.2-16.5 1.3-3.5 1.2 2.8 1.2 6.4 1.2-.7 1.2 .3 1.1 11.9 1.2-17.4 1.2-2.6 1.1 19.7 1.2-4.4 1.1 5.2 1.2-13.4 1.1-6 1.1 23.5 1.1-1.6 1.1 6.7 1.1-5.8 1.1-12.1 1.1 5.8 1.1 1.1 1 9.8 1.1-16.1 1.1-3.4 1 14.2 1.1 3.2 1-.1 1-6.3 1.1 15.1 1-11.7 1 11.5 1-13.2 1-.1 1 9.1 1 3.4 1-1.3 1-7.3 1-5.1 .9 2.4 1 12.4 .9-5.6 1 9.9 1-9 .9-6 .9-4.2 1 7.2 .9-.7 .9 2.4 .9 8.8 1-9.4 .9 6.8 .9 .2 .9 4.1 .9-7.7 .9 10 .8 3.7 .9-4.3 .9-10.6 .9 8.8 .8-4.1 .9 14 .9-5.5 .8 8.5 .9-11.2 .8-6 .9 4.9 .8 6.3 .9-3.3 .8 1.9 .8-.7 .8 1.9 .9 8.7 .8-13.3 .8 12.9 .8-10.3 .8 13.2 .8-9.1 .8 5.9 .8-13.9 .8 3.8 .8 6.5 .8 12.5 .7-2.8 .8 5.9 .8-19.7 .8 3.5 .7 10.9 .8-.9 .7-2.3 .8 7.7 .8-7.8 .7 2.1 .8-5.7 .7-2.6 .7 5.9 .8 1.4 .7-2.8 .7 6.1 .8 8.2 .7-7.5 .7-5.5 .7-3 .8 3.5 .7 6.2 .7 .3 .7 .5 .7 2.3 .7-4.5 .7-8.4 .7 8.9 .7-8.2 .7-3.1 .7 19.7 .6-10.8 .7 .3 .7 11.7 .7-5.5 .7 17.4 .6-11.5 .7-14.3 .7 20.6 .6-4.2 .7-8.6 .7 4.2 .6 2.7 .7 1.3 .6 1.4 .7-4.8 .6-8 .7 22.3 .6-3.9 .6-12.3 .7-1.9 .6 8.2 .7-3 .6-.7 .6-1.3 .6 4.9 .7-4.8 .6 .8 .6 9 .6 3.2 .6-4.9 .7-1.1 .6 2.4 .6-6.2 .6 7 .6-3.2 .6 6.8 .6-2.4 .6-3.4 .6 3.8 .6 8.9 .6-6.1 .6 11.1 .6-23.3 .5 21.9 .6-9.6 .6 1.2 .6-1.7 .6 4.2 .5 .7 .6 7.6 .6-17 .6 21.3 .5-19.9 .6 3.5 .6 15.6 .5 7.7 .6-19.8 .6 17 .5-10.9 .6-5.2 .5 9.3 .6-14.3 .5 9.3 .6 7.8 .5-5.5 .6-.8 .5 4 .6 2.2 .5-7.1 .5-2.3 .6 3.9 .5 9.4 .6-16.3 .5 4.8 .5 6.4 .5-1.7 .6 6.7 .5 7.4 .5-3.6 .6-19.6 .5 .3 .5 18.6 .5 5.5 .5-11.4 .5-9.9 .6 11.1 .5 2.6 .5-6.1 .5-1.5 .5 16.9 .5-14.1 .5 3.1 .5-5.3 .5 5.5 .5-6.8 .5 15.2 .5-4.1 .5-2.2 .5 13.1 .5-11.9 .5-5.2 .5 7.8 .5-2.7 .5 2.8 .5-6.4 .4 20.4 .5-19.7 .5-5.4 .5 14.1 .5-6.8 .5 6.3 .4-9.2 .5 10.4 .5 4.2 .5-9.6 .4 15.2 .5-13.3 .5 11.4 .4-5.4 .5 8.7 .5-3.8 .4 4.6 .5-13.5 .5 15.4 .4-3.2 .5-9.4 .4-6.8 .5 31.6 .5-27.3 .4-2.5 .5 11.9 .4-15.2 .5 13.8 .4-9.4 .5 10.8 .4-11.7 .5 9.8 .4 4.4 .5-6.3 .4-5.9 .5 4.8 .4 11.9 .4-4.9 .5-11.7 .4 14.4"/>
<path d="M723.3 400l5.8-7.1 5.5 1.2 5.4 7.9 5.2-1.3 5.1 5.9 5-5.2 4.8-8.6 4.6-4.3 4.6 14 4.4-4.3 4.3 11.1 4.3-12.4 4.1-.1 4-2.2 3.9-3 3.9 9.8 3.8 21.4 3.6-2.1 3.7 15.9 3.5-13.8 3.5 4.8 3.4-.9 3.3-9.8 3.3 9.7 3.2-2.8 3.1 1.7 3.1-1.9 3.1 11.1 3-2.6 2.9-11.1 2.9 2 2.9 7 2.8 2.8 2.7-6.3 2.7 14 2.7-9.2 2.7-4.5 2.6-1.2 2.5 2.5 2.5 15.5 2.5 6.9 2.5 10.1 2.4-16.9 2.4-3.8 2.3-6.5 2.3 20 2.3-9.5 2.3 5.8 2.2-2.9 2.2 3.4 2.2 1.3 2.1-10 2.2 8.8 2.1 22.2 2-12 2.1 4.3 2-22.9 2-3.1 2 2.5 1.9-7.5 2 11.2 1.9 9.9 1.9-2.4 1.9 13.7 1.8-3.2 1.8 17.8 1.9 4.3 1.8-.7 1.7-11.3 1.8 2.8 1.7-5.8 1.8 3 1.7-8.7 1.7 9.1 1.6-1.7 1.7-16.4 1.7-4.6 1.6 11.4 1.6 18.7 1.6-5.8 1.6-12.8 1.5 20.6 1.6 3.6 1.5-10.4 1.6 6.2 1.5 1.1 1.5-.4 1.5 8.6 1.5-7.3 1.4-31.2 1.5 11.2 1.4 20.6 1.5-15.8 1.4 4.3 1.4-7.3 1.4 11.6 1.4 1.6 1.3-16 1.4 27.3 1.4-6.6 1.3 12.6 1.3-10.6 1.3 5.4 1.4 1.5 1.3-.7 1.3 2.9 1.2 3.7 1.3-1 1.3-4 1.2-2.2 1.3-15.9 1.2 7.4 1.2 8.6 1.3-3.7 1.2 3.2 1.2 5.2 1.2-5.5 1.2 14 1.1-14.5 1.2-13.7 1.2 12.7 1.1 2.2 1.2 24 1.1-13 1.2 3.1 1.1-7.4 1.1-1.3 1.1-7 1.1 10.3 1.1-.8 1.1-.3 1.1 13.8 1.1 6.3 1-11.9 1.1-3.3 1.1 7.9 1 13.9 1.1 13.6 1-22 1-18.7 1.1 15.7 1 12.3 1-9.5 1-1.5 1-8.1 1-1.4 1 9.3 1-3.3 1 22.9 1-1.9 .9-6.4 1 4 .9-5.6 1 2.4 1 7.4 .9 10 .9-16.1 1-3.9 .9 3 .9-2.1 .9-15.6 1 11.2 .9 19.1 .9-6.2 .9-22.1 .9-.8 .9 5.2 .8 7.4 .9 21.3 .9-18.9 .9-5.7 .8-7.9 .9 .9 .9-5.2 .8 29.3 .9-26 .8 14.7 .9-11.4 .8 9.7 .9 6.7 .8 11.2 .8-20.3 .8 8.8 .9-10.6 .8 10.1 .8-1.1 .8 8.8 .8-11 .8 17.9 .8-14.8 .8 18.3 .8-22.4 .8-7.7 .8-1.2 .7 12.7 .8 8.2 .8-4.6 .8 13.8 .7-1.4 .8 14.4 .7-7.7 .8 14.5 .8-13.2 .7-22.5 .8-7.6 .7 17.3 .7-6.3 .8-4.4 .7 6.5 .7 2.1 .8-15.8 .7 5 .7 21.3 .7-3.6 .8 16.2 .7-15.9 .7 6.1 .7-10.4 .7 2.2 .7-15.1 .7 31.9 .7-17.1 .7-11.7 .7 8.4 .7-3.5 .6-2.1 .7 22.9 .7-2.1 .7-19.5 .7 15.9 .6 27.6 .7 8.1 .7-32.6 .6 22.2 .7-15.4 .7 5.4 .6-1.4 .7-13.4 .6 13.6 .7-8.8 .6 2.7 .7-12.5 .6 7.3 .6 32.8 .7-24.4 .6-5.1 .7 17 .6-10.7 .6 18.4 .6-17.3 .7-.5 .6-15.4 .6 12.8 .6-4.8 .6-4.3 .7-5 .6-11.7 .6 7 .6-14.5 .6 16.9 .6 1.1 .6 6.6 .6-3.7 .6 26.2 .6-10 .6 21.3 .6-10.8 .6-11.6 .5-.1 .6 3.2 .6 3.3 .6-6.4 .6 3 .5-3.8 .6-14.9 .6 7 .6 5.6 .5 5.6 .6 9.7 .6-5.6 .5 1.2 .6 5.2 .6-14.1 .5-7.7 .6 31.6 .5-22.3 .6 8.4 .5-6.9 .6 8.9 .5 9.5 .6-8.9 .5 18.7 .6-11.9 .5-24.6 .5-4.5 .6 25.3 .5-26.6 .6 6.7 .5 13.7 .5-6.7 .5 1.5 .6 10 .5 .3 .5 3.2 .6 10.8 .5 6.1 .5-6.1 .5 23.6 .5-2.8 .5 6.1 .6-19.9 .5-14.8 .5 1.3 .5 5.6 .5 12.5 .5-18.2 .5 5.6 .5-6.8 .5-3.4 .5 9.1 .5 4.3 .5-12.5 .5 7.6 .5 24.3 .5 5.9 .5-21.5 .5 6.8 .5-12.8 .5-17.5 .5 6.5 .4 12.2 .5-9.9 .5 3.9 .5 13.1 .5-6.6 .5-.2 .4-17.2 .5 30 .5-33 .5 8.5 .4 16.2 .5 10.3 .5-.2 .4-4.2 .5 5 .5 23.6 .4-11.5 .5 5.3 .5-23.6 .4-15.3 .5 4.8 .4 1.3 .5 4.2 .5 4 .4-12.1 .5 7.5 .4-7.2 .5 9.6 .4 10.7 .5-5.2 .4-.7 .5 2.8 .4-10.3 .5-1.8 .4 1.6 .5-6.3 .4 11.2 .4-24.2 .5 20.5 .4 16.3"/>
<path d="M723.3 386.5l5.8 .3 5.5-1.3 5.4-2.4 5.2 1.7 5.1 1.8 5 1.6 4.8 .4 4.6 10.6 4.6-.1 4.4 7.2 4.3 8.2 4.3-11.2 4.1 1.7 4 .4 3.9 5.5 3.9-4 3.8 0 3.6 9.7 3.7-3.1 3.5 6.6 3.5 9.3 3.4-2.1 3.3-6.1 3.3-6.8 3.2 8.7 3.1-9.6 3.1 6.9 3.1 3.4 3 8.9 2.9-.8 2.9 9.4 2.9-7.6 2.8-1 2.7-.7 2.7-.3 2.7 3.5 2.7-1.6 2.6 10 2.5-2.3 2.5 6.5 2.5-10.9 2.5-1.7 2.4 4.7 2.4-.6 2.3-2.9 2.3 11.7 2.3-3.2 2.3 5.1 2.2 3.2 2.2 2.1 2.2-2.9 2.1-4.5 2.2-1.2 2.1-2.1 2 8.9 2.1-13.2 2 14.7 2 1.8 2-10.2 1.9 14.1 2-2.5 1.9-2.7 1.9 3.5 1.9 6.3 1.8-1.5 1.8-3.8 1.9 1.9 1.8-4.6 1.7-5.9 1.8 3.8 1.7 9 1.8-1.4 1.7 7.7 1.7 2.9 1.6-13.2 1.7 1.1 1.7 6.1 1.6-9.3 1.6 8.6 1.6-2.5 1.6-3.2 1.5 9.4 1.6 4.7 1.5-2.6 1.6-7.9 1.5 6.2 1.5 7.8 1.5-5.5 1.5-3.7 1.4 14 1.5 6.5 1.4-18 1.5 19.1 1.4-12 1.4-1.1 1.4 7.5 1.4-14.4 1.3 13.9 1.4 7.1 1.4-4.8 1.3-6.6 1.3 4.4 1.3 1 1.4 5.4 1.3 4.8 1.3-10.2 1.2 2.2 1.3-2.1 1.3 10.4 1.2-6.2 1.3 .8 1.2-10.6 1.2 14.3 1.3-5.3 1.2 12.1 1.2-8.7 1.2-5.4 1.2 12.6 1.1-5.5 1.2 14 1.2-20.4 1.1 18.1 1.2-11.9 1.1 13.2 1.2-10 1.1-3.9 1.1 7.8 1.1-1.6 1.1-2.5 1.1 10.1 1.1-15.5 1.1 10.6 1.1-1 1-1.6 1.1 .1 1.1 8.5 1-.8 1.1 13.2 1-13.4 1 11.8 1.1-15.9 1 9.1 1 11 1-19.2 1 11.8 1-6.9 1 8.2 1-6.4 1 2.9 1-.2 .9 9 1-10 .9-8.1 1 9 1 1.8 .9-1.2 .9 7.2 1-13 .9 11 .9 .7 .9-7.7 1 5.2 .9-2.2 .9-2.6 .9 22.7 .9-8.3 .9-9.1 .8 19.7 .9-26.1 .9 8.8 .9 4.2 .8-4.5 .9 0 .9-2.3 .8 13.1 .9-1.4 .8-5.3 .9 12.7 .8-12.9 .9 4 .8-3.2 .8 5.8 .8 5.5 .9-7.1 .8 3.6 .8-2.8 .8 2.3 .8 .5 .8 13.1 .8-17 .8 5.3 .8 7.4 .8-2 .8 1.5 .7-3.4 .8-.6 .8 2.2 .8 1.4 .7-3.3 .8 4.2 .7 7.8 .8-19 .8 12.6 .7 9.4 .8-17.1 .7 5.7 .7 8 .8-5.5 .7 1.8 .7-7.2 .8 4.4 .7 4.5 .7 11.4 .7-17.5 .8 10.7 .7 7 .7-7.4 .7-4.5 .7-2 .7 10 .7-20.1 .7 5.2 .7 9 .7 1.8 .7-11.1 .6 1.4 .7 9.2 .7 2.6 .7 4 .7-6.2 .6 1 .7 .3 .7 13.6 .6-.6 .7-6.4 .7 .3 .6-3.4 .7 13.1 .6-15.8 .7 13.7 .6-19.2 .7 17.1 .6-9.8 .6 7.4 .7 3.2 .6-5 .7 3.4 .6-3.1 .6-3.2 .6 7.7 .7 0 .6-3.5 .6-2.7 .6 4.7 .6 4 .7-9.9 .6 11 .6-6.2 .6 4.9 .6-5.1 .6-2 .6 1.6 .6 13.3 .6 1.9 .6-4 .6-16 .6 6.9 .6 1.3 .5 2.4 .6 0 .6-.4 .6 15.5 .6-21.3 .5 15.3 .6-4 .6 3.5 .6-2.4 .5 2.9 .6-3.3 .6 2.8 .5 1.3 .6 2.9 .6-4.1 .5 3.4 .6-.2 .5 2.3 .6 5.5 .5-2.9 .6 4.6 .5-12 .6-3.1 .5 22.9 .6-14.9 .5-7.4 .5 8.6 .6-.2 .5-8.7 .6-.1 .5 6.1 .5-.4 .5 10.2 .6-2.4 .5 1.3 .5-1.4 .6-5 .5 3.7 .5-.4 .5 4.8 .5-16.6 .5 10.3 .6 5.2 .5 8 .5-16.3 .5 15.3 .5 4.2 .5-8.8 .5-2.4 .5 2.1 .5-.3 .5 2.2 .5 4 .5-10.3 .5 .9 .5 8.7 .5 4 .5 6.5 .5-14.7 .5 4.2 .5 4.4 .5-3 .4 2.9 .5-7.7 .5-3.2 .5 1.3 .5 25.6 .5-17.3 .4 2.9 .5-3.6 .5 .5 .5-12.3 .4 11.5 .5 11.9 .5-8.8 .4 6.7 .5-2.8 .5 11.2 .4-21.6 .5 3.8 .5 7.8 .4 2.4 .5-6.8 .4 .1 .5 .7 .5 .4 .4 10.2 .5-21.2 .4 24 .5-9.9 .4 8.5 .5 2.2 .4-10.6 .5 9.5 .4-6.3 .5 7.6 .4-4.8 .5 .2 .4 1 .4-12.9 .5 11.3 .4 2.4"/>
<path d="M723.3 405.8l5.8-9.6 5.5-11.1 5.4-3.9 5.2 8.3 5.1 11.8 5 9.3 4.8 2.7 4.6 2.6 4.6 4.8 4.4-3.2 4.3-6.8 4.3-5.9 4.1-6.8 4 5.7 3.9 8.2 3.9 7.7 3.8 .5 3.6-1 3.7-10.5 3.5 7.9 3.5 7.3 3.4 4.7 3.3-5.6 3.3-3.4 3.2-10.1 3.1 1.6 3.1 8.8 3.1 4.2 3 5.7 2.9-6.1 2.9 6.2 2.9 7 2.8-1.9 2.7 2.9 2.7-6.7 2.7-7.8 2.7 9.7 2.6 4.7 2.5-.5 2.5-.9 2.5 6.6 2.5-2.1 2.4 7.7 2.4 .2 2.3 2.5 2.3-11.9 2.3 9.8 2.3 3.7 2.2-5.6 2.2-5.8 2.2-10.5 2.1 4.9 2.2 5.8 2.1 7.6 2 7.1 2.1-7.9 2 1.1 2 7.6 2-8.7 1.9 1.2 2 1.1 1.9 5.3 1.9 6 1.9-9.3 1.8 16.2 1.8-9 1.9-4.1 1.8 1.9 1.7 .6 1.8 10.4 1.7-15.8 1.8 7.6 1.7 2 1.7-1.2 1.6 2.5 1.7 8.6 1.7-15.1 1.6 9.1 1.6 5.5 1.6 8.2 1.6-8.2 1.5 5.9 1.6 4.1 1.5-10.3 1.6-1.7 1.5 5.3 1.5 13.3 1.5-11.6 1.5 15.1 1.4-7.4 1.5-16.4 1.4 16.6 1.5-6.8 1.4 7.2 1.4-4.5 1.4-9.3 1.4 4.5 1.3 3.1 1.4 11.9 1.4-12.4 1.3 6.2 1.3-.9 1.3-2.1 1.4-.4 1.3-5.1 1.3 4 1.2 12 1.3-4.1 1.3-7.4 1.2 8.5 1.3 3.5 1.2-4.6 1.2-5 1.3 4.3 1.2 9.7 1.2 .9 1.2-4.8 1.2 .4 1.1 3 1.2 .4 1.2-5.8 1.1 4.3 1.2-8 1.1 5.7 1.2 8.9 1.1-6.1 1.1 22.4 1.1-9.6 1.1-20.3 1.1 14 1.1-1 1.1-2.5 1.1 13.6 1-1.9 1.1 .2 1.1 15.4 1-21.2 1.1 7.7 1-14.2 1 21.7 1.1-13.4 1 20 1-9 1 2 1-16.6 1-4.8 1 5.6 1-4 1 .5 1 17.6 .9 2.5 1-9.9 .9 1.6 1-8.5 1 4.4 .9 11.6 .9 .1 1-.9 .9 14.8 .9-15.8 .9 6.3 1-5.9 .9-8.4 .9 16.6 .9-6.6 .9 12.3 .9-13.4 .8 13.9 .9-2.2 .9-8.8 .9 .3 .8 9.1 .9-1.7 .9-19.1 .8 4 .9 10.2 .8 18.8 .9-11 .8-.6 .9-9.2 .8 1.3 .8 6.8 .8 .3 .9 .1 .8 12.7 .8-8.6 .8 7.4 .8-18.8 .8 20.5 .8 12.1 .8 1.9 .8-22.7 .8-3.3 .8 2.9 .7-2.4 .8 11.7 .8 .5 .8-4.3 .7 6.1 .8-21.1 .7 10.3 .8 17 .8-7.3 .7-3.9 .8 15.9 .7-10.8 .7 4.5 .8-11.4 .7 21.5 .7-14.1 .8-7.1 .7 15.1 .7-6 .7 10.7 .8-6.5 .7 2 .7-3.6 .7-11.7 .7 18 .7 3.8 .7 15.8 .7-16.4 .7 1.2 .7-6.5 .7 15.6 .6-9 .7-14.3 .7 13.3 .7 4 .7-8.1 .6 6.5 .7-.3 .7-21.1 .6 9.9 .7-9.1 .7 8.3 .6 4 .7 2.4 .6 4.7 .7-9.9 .6 15.1 .7 .4 .6-9 .6-5.9 .7 4.5 .6-5.8 .7 6.1 .6 9.4 .6 2.7 .6-14.6 .7 12.3 .6-6.1 .6-14.3 .6 11.9 .6-9.5 .7 6.2 .6-9.6 .6 11.6 .6-1.6 .6 2.9 .6-8.9 .6 2.4 .6 19.6 .6 12 .6-17.7 .6 12.4 .6-10.2 .6 21.6 .5-26.6 .6 1 .6 22 .6-11.6 .6-1.7 .5 11 .6-13.2 .6-12.6 .6 9.3 .5 1.6 .6-7.2 .6 5.8 .5-2.7 .6 12.1 .6-3.7 .5 9.1 .6-12.5 .5 5.6 .6 .6 .5-5.1 .6 13.2 .5-12.6 .6 8.8 .5-15.4 .6 4.5 .5 21.7 .5-24.9 .6 5.9 .5 4.1 .6 .2 .5 .7 .5 11.3 .5 5.5 .6-13.4 .5 1.6 .5 9.8 .6 13.9 .5-10.1 .5-1.5 .5-9.7 .5-6.3 .5 18.8 .6 7.8 .5-9.1 .5-2 .5 10.2 .5-14 .5-4.8 .5 13.7 .5-23.7 .5 16.6 .5-15.3 .5 25.7 .5 1.3 .5-7 .5-7.2 .5 .1 .5-6.3 .5 16.1 .5-13.2 .5-2.6 .5 28.8 .4-19.6 .5-4 .5-2.5 .5 11.3 .5 8.7 .5-18.5 .4 21.1 .5-5.4 .5-5.9 .5-8.4 .4 4.6 .5 7 .5 4.8 .4-5.7 .5 8.3 .5-3.4 .4-1.5 .5 1.7 .5 6.9 .4-.8 .5-8.4 .4-7.7 .5-1.2 .5-6.3 .4 17.5 .5-9.4 .4-3.4 .5 9.4 .4 21 .5-5.1 .4-11.6 .5 3.7 .4 16.7 .5-11.4 .4-6.2 .5 1.3 .4-5.7 .4-1.7 .5-5.2 .4 10.2"/>
<path d="M723.3 389.7l5.8 3.4 5.5 5.2 5.4 5.5 5.2-7.7 5.1 2.6 5 3.9 4.8 2.7 4.6-9.3 4.6 11 4.4-5.9 4.3 8.1 4.3 3.4 4.1-3.1 4 5.7 3.9 11.1 3.9-12 3.8 3.5 3.6 7 3.7-1.9 3.5 5.7 3.5-2.8 3.4 2.9 3.3-13.7 3.3 2.1 3.2-6 3.1 7.2 3.1-4 3.1 9.4 3 .9 2.9-.5 2.9-2.3 2.9-3.1 2.8 8 2.7 .6 2.7-8.6 2.7 6.1 2.7 .3 2.6 3.2 2.5 12.7 2.5-6.5 2.5-3.5 2.5 6.3 2.4 5.1 2.4 5.9 2.3 3 2.3 .1 2.3 .1 2.3-12.8 2.2 7.2 2.2 7 2.2-1.6 2.1-3.9 2.2 2 2.1 7.6 2-3.3 2.1 6.5 2-6.6 2-6.2 2 4.8 1.9-.6 2 .2 1.9 5.3 1.9 5.9 1.9-7.8 1.8 10.1 1.8 .4 1.9 2.6 1.8-2.9 1.7 .4 1.8-3.1 1.7-4.8 1.8 8.8 1.7-3.7 1.7 7.9 1.6 1.7 1.7 1.8 1.7 8.7 1.6-10.5 1.6-15.3 1.6 5.5 1.6 14.8 1.5-12.7 1.6 8.5 1.5-1.2 1.6-1.2 1.5 9 1.5-7.2 1.5 2.6 1.5-3.5 1.4 7.7 1.5 .5 1.4 0 1.5 4.1 1.4 2.2 1.4-.4 1.4-7.1 1.4 6.8 1.3-2.9 1.4-4.2 1.4-1.5 1.3-6.5 1.3 17 1.3-3.5 1.4 .5 1.3 5.9 1.3 0 1.2 9.4 1.3-4 1.3 1.4 1.2 .4 1.3 5.3 1.2-11.5 1.2 7.2 1.3-3.9 1.2 2.8 1.2-7.7 1.2-4.1 1.2 4.3 1.1 18.4 1.2-.6 1.2-10.5 1.1 3.4 1.2 7.2 1.1-7.6 1.2-7.5 1.1 2.5 1.1 24.5 1.1-7.4 1.1 1.4 1.1-1 1.1-.6 1.1 4.6 1.1 .7 1-21.7 1.1 16.6 1.1-12 1 12.6 1.1-9.9 1 8.3 1 1.1 1.1 8.1 1-5.1 1 6.4 1-2.1 1-7.2 1 11.7 1-11.3 1 8.8 1-11.8 1 7.7 .9-.8 1-17.7 .9 12 1-5.1 1 8 .9 .5 .9 1 1-4.5 .9-1.9 .9 2.1 .9 4.8 1-4.5 .9 3.4 .9 11.3 .9 6.3 .9-7.3 .9-1.2 .8 5.3 .9-23.4 .9 2.2 .9 12.2 .8-10.7 .9 7.9 .9-4.9 .8-6.9 .9 5.6 .8 8.9 .9 6.9 .8 9.3 .9-4.4 .8-2.1 .8 11 .8-13.5 .9 6.3 .8-2.8 .8 .5 .8 1.4 .8-.9 .8 4.1 .8-2.4 .8-10.7 .8 12.8 .8-12.1 .8 .6 .7 1.6 .8 17.6 .8-8.3 .8 4.8 .7-4.7 .8 7 .7 11.2 .8-14.8 .8 2.9 .7-10.3 .8 5 .7 .6 .7-11.2 .8 18.9 .7-1 .7-7.4 .8 8.7 .7 10.8 .7-11.8 .7-1.5 .8-1.7 .7 10.9 .7-7.7 .7 14.7 .7-9.8 .7 1.3 .7-.3 .7-4.5 .7 18.7 .7-15.9 .7-9.4 .6 4.3 .7 4.4 .7-7.9 .7 12.9 .7 3.6 .6-6.8 .7 3.1 .7 5.3 .6 4.9 .7-1.5 .7-20.2 .6 7.4 .7 15.8 .6-1.6 .7-6.1 .6-6.9 .7 16.4 .6-5.1 .6-13.3 .7 9.9 .6 9.5 .7-16.5 .6 6.7 .6 4.2 .6-2.4 .7 4.1 .6-6.9 .6 1 .6 5.8 .6-11.3 .7 17.6 .6-15.6 .6 .7 .6 16.3 .6-.9 .6-7.6 .6 3.7 .6 .7 .6-6.8 .6 2.5 .6 10.9 .6-6.5 .6 8.8 .5 4.5 .6-5.8 .6-.3 .6 2.3 .6-7 .5 15.4 .6-17.3 .6 9.2 .6 15.7 .5-12.4 .6-4.6 .6 10.1 .5-13 .6 5.9 .6-2.2 .5-2.3 .6 .8 .5 17.3 .6-13.9 .5-2 .6 7.2 .5-6.9 .6 13.6 .5-12.9 .6 19.5 .5-16.3 .5 3.7 .6 4 .5-.8 .6-10.4 .5 4.5 .5 17 .5-5.8 .6-15.1 .5-1.4 .5 23.8 .6-8.6 .5-4.3 .5-4 .5-.5 .5 2.6 .5 5.7 .6-12.2 .5 24.7 .5-15.6 .5 7.5 .5-5.7 .5-4.1 .5 12 .5-14.5 .5 22.4 .5-11.4 .5 19 .5-5.5 .5-8.8 .5 5.6 .5-4.5 .5-8.1 .5 1.5 .5 10.1 .5 1.6 .5 10.3 .4-10.4 .5-12.8 .5 5.6 .5 7.5 .5-6 .5 11.5 .4-19.5 .5-.4 .5 16.9 .5-3.6 .4-2.3 .5-1 .5 3.3 .4-5.4 .5 1.9 .5 1.6 .4 24.2 .5-19.6 .5 6.2 .4-27.8 .5 9.5 .4 .6 .5 5.9 .5-2.6 .4 20 .5-20.6 .4 7.3 .5-4.3 .4 3.9 .5 21 .4-23.3 .5 4 .4 12.1 .5 8.3 .4-16.3 .5-17.9 .4 17.4 .4-5.2 .5 12.8 .4-6.5"/>
<path d="M723.3 375.2l5.8 14.2 5.5 11.6 5.4-2.9 5.2-10.2 5.1 3.1 5 13.2 4.8-7.9 4.6 6.6 4.6-7 4.4 11.1 4.3 12.8 4.3 0 4.1-3.8 4-2.4 3.9 .7 3.9-4.4 3.8 5 3.6 1 3.7-2.6 3.5 6.1 3.5 2.3 3.4-4 3.3 6.8 3.3 .1 3.2-1.2 3.1-1.8 3.1-5.8 3.1 15.8 3-4.2 2.9 6.4 2.9-10.9 2.9 13.7 2.8-13.3 2.7 8 2.7 .1 2.7-4.5 2.7 7 2.6-2.2 2.5 5.5 2.5 .7 2.5-.8 2.5-5.1 2.4 10.7 2.4-14 2.3 4.9 2.3 13.7 2.3 .7 2.3-10.1 2.2-.5 2.2 9.1 2.2-.9 2.1-10.6 2.2-3.5 2.1-.2 2 8.4 2.1-7.2 2 13.1 2-1.2 2 .5 1.9 3.6 2-5.4 1.9 11.6 1.9-1.3 1.9 1.5 1.8 8.8 1.8-.1 1.9 1.6 1.8-4.7 1.7-5.4 1.8 4.9 1.7 1.7 1.8 5.1 1.7-6 1.7 5.8 1.6 1.5 1.7 9.9 1.7-15.1 1.6 10.6 1.6-11.8 1.6 13.1 1.6-.9 1.5-10.3 1.6 8.2 1.5 3.7 1.6-7.1 1.5 2.5 1.5-2 1.5 5.6 1.5 1.6 1.4 6.6 1.5-3.3 1.4-.3 1.5 9 1.4-6.8 1.4 .5 1.4 1.3 1.4 .5 1.3 6.3 1.4-13.1 1.4 17.1 1.3-19.4 1.3 7.3 1.3 1.1 1.4 8.8 1.3 1.6 1.3-12.7 1.2 6.1 1.3 13.2 1.3-11.1 1.2-6.4 1.3-.7 1.2 8.2 1.2 12.6 1.3-4.9 1.2 4.9 1.2-10.6 1.2-1 1.2 3 1.1-5.4 1.2 19.4 1.2-8.5 1.1 7 1.2-10.5 1.1-2.9 1.2 5.9 1.1 3.7 1.1 .1 1.1-2.4 1.1 9.7 1.1-8.5 1.1 1 1.1-7.1 1.1 6.6 1 9.2 1.1-9.3 1.1-3.1 1 1.9 1.1-3.3 1 23.6 1-12.2 1.1 8.9 1-12.9 1-4.3 1 2.3 1 13.1 1 2.2 1 2.8 1 7.1 1-3.2 1-.3 .9 .3 1 2.9 .9-1.7 1 1.4 1-6.4 .9 7.1 .9-8.2 1 9.5 .9-.5 .9-.7 .9-6.4 1 11.3 .9 .8 .9-8 .9-.8 .9 7.9 .9-1.1 .8-1.5 .9-1.7 .9 4.9 .9 0 .8-4.6 .9-3 .9 1.7 .8-2.6 .9 6.3 .8 12.7 .9-6 .8-8.8 .9-1.7 .8-1.9 .8-2.5 .8-1.5 .9 19.4 .8 14.1 .8-16.2 .8 1.2 .8-1.2 .8-9.4 .8 8.9 .8-3.3 .8-1.4 .8-7.7 .8 6.2 .7-1.9 .8-13.3 .8 5 .8 12 .7 4.7 .8-11.4 .7 15 .8 12 .8-9.9 .7 1.2 .8-13.4 .7 17.3 .7-.1 .8-4.2 .7 2.1 .7-8.6 .8 4.5 .7-11.4 .7 2.5 .7-8.1 .8 11.1 .7-2.8 .7 7.5 .7-6.9 .7 13 .7-6.6 .7-.1 .7 5 .7-5.1 .7-.3 .7 2.3 .6 5.3 .7-3.1 .7 10.9 .7-7.2 .7 7.4 .6-2.2 .7-3.5 .7 16.1 .6-20.7 .7 .1 .7-11.3 .6 19.1 .7 6.8 .6 3 .7-14.3 .6 1.1 .7 9.8 .6-2.5 .6 7.8 .7 .2 .6-3.1 .7 12.9 .6 5.2 .6-17.6 .6-4.8 .7 16.4 .6 16 .6-15.6 .6 3.4 .6-16.9 .7 10.7 .6-17.9 .6 3.1 .6-3.2 .6 7.5 .6-5.8 .6 27.9 .6 6.9 .6-15.3 .6 7.5 .6-16.5 .6 4.5 .6-15.9 .5 2.7 .6 21.6 .6-1.8 .6 2.2 .6-21.1 .5 26.2 .6-15.6 .6 20.4 .6-18.2 .5 6.7 .6 .9 .6 .8 .5 4.5 .6 7.6 .6 4.3 .5-9.1 .6-9.3 .5-9.5 .6 41.2 .5-11.2 .6-17.4 .5 17.8 .6-13.5 .5-4.7 .6 6.3 .5-3.2 .5-1.3 .6-15.3 .5 10.2 .6 .7 .5 12.5 .5-17.5 .5 3.5 .6 16.5 .5-1.2 .5-11.1 .6 12.9 .5-6.4 .5 3.6 .5-11.9 .5 9.3 .5-8.3 .6 17.6 .5 1.9 .5-24 .5 10.6 .5-2.3 .5 9.6 .5-4.3 .5-5.6 .5 5.1 .5-1.8 .5 1.2 .5-.6 .5 5.5 .5 7.6 .5 1.5 .5-4.8 .5 22.6 .5-26.4 .5 .4 .5-2.4 .4-.7 .5-8 .5 8.1 .5 7.5 .5-9 .5 21.6 .4-9.2 .5 1.2 .5-8.4 .5 .1 .4-4.9 .5 23 .5-9.5 .4-3.5 .5-5.9 .5 8.5 .4 2.6 .5-1.5 .5 4.7 .4-4 .5-5 .4 3.8 .5 5.6 .5 4.3 .4-8.5 .5-3.8 .4 3.3 .5-2.7 .4 4.5 .5 1.9 .4-5.1 .5 11.5 .4 11 .5-15.6 .4 5.7 .5-4 .4-20.6 .4 21 .5 3.2 .4 6.2"/>
<path d="M723.3 387.7l5.8 5.3 5.5 9 5.4 1.9 5.2-12.9 5.1 .1 5 3.6 4.8-6.1 4.6 7.9 4.6 9.4 4.4-1.6 4.3 3.8 4.3-3.8 4.1 9.3 4-2.2 3.9-.2 3.9 1.3 3.8-.1 3.6-2.8 3.7-2.1 3.5 7.2 3.5 6.2 3.4-1 3.3 4.5 3.3-.5 3.2 6.9 3.1-3.2 3.1 10.5 3.1 10.8 3-5.6 2.9-1.7 2.9-10.7 2.9-4.8 2.8 3.2 2.7 3.4 2.7 5.1 2.7 3.2 2.7-3 2.6 2.7 2.5 2.4 2.5-14.7 2.5 11.4 2.5 12 2.4-10.2 2.4-1 2.3 6.7 2.3-8 2.3 15 2.3-8.6 2.2 1.8 2.2 6.3 2.2 2.9 2.1 2.4 2.2-11.1 2.1 8.2 2 .7 2.1-12.3 2 4.6 2 8.1 2-5.3 1.9 3.7 2 2.6 1.9-2.6 1.9 9.6 1.9 2.7 1.8-5.2 1.8-6.4 1.9-4.9 1.8-6.5 1.7 7.5 1.8 3.5 1.7 7.2 1.8 .6 1.7-.1 1.7-4.1 1.6 8 1.7 .4 1.7-11.1 1.6 6.2 1.6 4.7 1.6 5.7 1.6-10.8 1.5 14.9 1.6-6.5 1.5 10.4 1.6 1.2 1.5-7.3 1.5 5.2 1.5 .9 1.5-6.6 1.4 16.3 1.5 .6 1.4-13.9 1.5 18.7 1.4-1.7 1.4-1.3 1.4-3 1.4-4.1 1.3 4.5 1.4 4.7 1.4-20.5 1.3 1.6 1.3 7.2 1.3 2.6 1.4 3.5 1.3 8 1.3-7.9 1.2 2 1.3 1.4 1.3 .9 1.2-5.4 1.3 2 1.2 6.6 1.2-4.2 1.3-3.6 1.2-13.8 1.2 8.7 1.2-.4 1.2 13.6 1.1-4.1 1.2-9.8 1.2 16 1.1-12.7 1.2 15.5 1.1-5.2 1.2-6.7 1.1-11.5 1.1 21.2 1.1-15 1.1 5.8 1.1-8 1.1 10 1.1 6.1 1.1 6.2 1-15 1.1 29.2 1.1 5.8 1-13.5 1.1-1.2 1 10.7 1-6.8 1.1-.8 1-7.5 1 16.1 1-1.2 1-19 1 17.9 1 1.4 1-1.1 1-22.3 1 .7 .9-1.4 1 4.2 .9 7.7 1 6.2 1-14.5 .9 1.9 .9 12 1 5.8 .9-6.2 .9-2.9 .9 4.8 1 11.6 .9-3.1 .9-10.6 .9 8.2 .9 8.4 .9-2.6 .8-8.1 .9 13.1 .9-22.6 .9 14.3 .8-2.6 .9 3.8 .9-8.7 .8 7.1 .9 8.1 .8 .9 .9-1.2 .8 7.9 .9-12.9 .8-.4 .8-6.9 .8 13.3 .9 3.4 .8 2.4 .8 8.9 .8-25.4 .8 12.9 .8-9.6 .8 15.8 .8 4 .8-17.2 .8 7.3 .8 7.4 .7-14.6 .8-.4 .8 8.8 .8 9.7 .7 3.8 .8-10.6 .7 7.7 .8-12.2 .8 1.7 .7-11.6 .8 16.3 .7 12.5 .7-1.5 .8-12.3 .7 3.8 .7-5.6 .8 15.8 .7-8.3 .7-2.4 .7 1 .8 8.3 .7 1.6 .7-3 .7-.3 .7 .5 .7 3.3 .7 .2 .7-5.8 .7-18.8 .7 5.3 .7-7.1 .6 5.7 .7-8.8 .7 29.6 .7-16.5 .7 11.2 .6 12.6 .7-2.2 .7-4.5 .6-5.3 .7 4.8 .7-9.1 .6 11.6 .7 .6 .6 .4 .7-3 .6-7.6 .7 8.5 .6 3.8 .6-12.7 .7 5.2 .6 5 .7-2.7 .6-.4 .6 5.3 .6-2.5 .7 3.6 .6 12 .6 .2 .6-17.1 .6 3.9 .7 10.3 .6-3.8 .6-2.9 .6-2.2 .6 14.7 .6-21 .6 6 .6-7.7 .6 17.8 .6-5.7 .6-.3 .6 6 .6 7.4 .5-11.6 .6 13.9 .6-22.1 .6 14.5 .6-3.4 .5 8.1 .6-11.6 .6 11.5 .6-4.1 .5 .6 .6 5.1 .6-3.8 .5 27.2 .6-17.3 .6 8.3 .5-18.4 .6 13.5 .5 .2 .6-5.5 .5-5.3 .6-1.2 .5 29.2 .6-22.2 .5 13.8 .6-32 .5 16.4 .5 12.6 .6-26.8 .5 15.7 .6-19.2 .5 9.8 .5 5.9 .5 2.7 .6-1.5 .5 3.8 .5 3.2 .6-1.4 .5 9.9 .5-11.6 .5 9.8 .5-8.1 .5-9.4 .6 .7 .5 32 .5-17.5 .5 8.7 .5-9.1 .5-2.7 .5 22.9 .5-5.1 .5-22.1 .5 2.2 .5 5.2 .5 1.6 .5 6 .5-16.1 .5 19.4 .5-4 .5-.9 .5 1.4 .5 2 .5 3.5 .4-1.9 .5 2.8 .5-28.1 .5 26.2 .5-5.4 .5 10.2 .4-5.3 .5-15.8 .5 14.1 .5-8 .4 4.9 .5-6.8 .5 7.7 .4 5 .5-8.6 .5 7.5 .4-7 .5 17.7 .5-9.6 .4-1.5 .5-.1 .4-.4 .5 6.1 .5 1 .4 3 .5 2.6 .4-6.5 .5-13.4 .4 .4 .5 4.1 .4 10.8 .5-8.3 .4-5 .5 6.5 .4 3.3 .5 23.5 .4-18.7 .4-11.1 .5 8.2 .4 5.3"/>
<path d="M723.3 377.8l5.8 6.1 5.5 2.2 5.4-.4 5.2 4.3 5.1 2.2 5 4.1 4.8 6.6 4.6-1.9 4.6 1.3 4.4 11.1 4.3 2.5 4.3-9 4.1-9 4-.7 3.9 10.6 3.9 .6 3.8 13.1 3.6-.6 3.7-7.9 3.5 .6 3.5 14.6 3.4-9.2 3.3 .4 3.3-2.5 3.2 7.3 3.1-6 3.1 5.5 3.1 1.7 3-.3 2.9 2.2 2.9-.7 2.9-11.5 2.8 15.8 2.7 .2 2.7-3.4 2.7 .6 2.7 2.4 2.6 9.4 2.5-2.1 2.5 3.3 2.5-3.5 2.5-1.7 2.4 .1 2.4 3.3 2.3 4.5 2.3-4.8 2.3 3 2.3-7.5 2.2 9 2.2-5.9 2.2 9.1 2.1 2.1 2.2-1.3 2.1 6.4 2-10.7 2.1-.3 2 8.2 2 11.5 2 4.9 1.9-19.2 2 14.9 1.9 2 1.9 2.7 1.9 7.6 1.8-12.6 1.8-5.3 1.9 8.8 1.8-9.9 1.7-8.9 1.8 9 1.7-3.6 1.8 16.4 1.7-14 1.7 7.9 1.6 2.3 1.7 7.7 1.7-10.1 1.6 10.9 1.6-3.5 1.6-2 1.6 6.3 1.5-12.3 1.6 12.7 1.5 4.5 1.6-3.1 1.5-11.8 1.5 6.7 1.5-1 1.5 .1 1.4-1.4 1.5 2 1.4 .1 1.5 6.7 1.4 17.3 1.4-7.9 1.4-4.8 1.4 2.1 1.3-3.2 1.4 2 1.4 3.1 1.3 1.6 1.3 4.9 1.3-5 1.4-2.7 1.3 4.9 1.3-16.6 1.2 20.3 1.3-6.9 1.3 6 1.2-11 1.3 10.3 1.2-6.1 1.2 7.9 1.3-4.2 1.2-3.5 1.2 22.3 1.2-13 1.2-5.7 1.1 6 1.2 3.9 1.2 7.6 1.1-13.3 1.2-1.7 1.1 16.3 1.2-14.7 1.1 5.9 1.1-10.9 1.1-2.4 1.1 10.5 1.1-13.3 1.1 17.1 1.1 7.2 1.1 9 1-11.5 1.1 5.7 1.1-11.4 1 14.1 1.1-9.5 1 11 1 0 1.1-7.8 1 8.3 1 4.2 1-6.8 1-4.1 1-1.4 1 .7 1 2.8 1-9.3 1 10.2 .9 3.6 1-4.4 .9 10.4 1 6.2 1 6.2 .9-10.2 .9-14.7 1-3.7 .9 23.2 .9-12.8 .9 4.8 1-.9 .9-5.3 .9 16.9 .9-1.2 .9 2 .9-6.1 .8-5.7 .9 2.6 .9 9.9 .9-17.8 .8 7.8 .9 10.8 .9-10.9 .8 .7 .9-8.5 .8 11.2 .9-8.9 .8 8.9 .9-9.2 .8 4.2 .8-6.4 .8 6.8 .9-1.6 .8 2.3 .8 14.1 .8-5.4 .8 15.7 .8-13.3 .8-13.4 .8 2.8 .8 17.5 .8 6.1 .8-31.1 .7 24.5 .8 3 .8-14.8 .8 8.9 .7 4.7 .8 8.4 .7-1.3 .8-8.4 .8 5.8 .7-3.7 .8 4.4 .7-3.7 .7 17.2 .8-17 .7 6.6 .7-14.1 .8-6 .7 13.6 .7-3.7 .7 .7 .8 8.3 .7 4.4 .7-17.3 .7 5.8 .7 3.9 .7 5.4 .7-3 .7 7.7 .7-12.6 .7 8.2 .7 2.9 .6-7.7 .7-3.2 .7 3.8 .7-9.6 .7 24.6 .6-18.9 .7 6.1 .7 2.3 .6-7.9 .7 7 .7-3 .6-7.7 .7 10.2 .6 4.7 .7 1.5 .6-7.8 .7 3.8 .6 17.6 .6-10.7 .7 7.2 .6 6.1 .7-16.8 .6-1.8 .6-.9 .6 19 .7-15.8 .6 4.1 .6 1.4 .6-2.2 .6 1.1 .7-9 .6 3.4 .6 11.6 .6-14.6 .6 1.4 .6 11.7 .6 7.6 .6-1.5 .6 1.2 .6 1 .6-.1 .6-2.6 .6 7.6 .5-10.9 .6 1.7 .6-5.6 .6 21.6 .6-17.9 .5-3.6 .6 12.3 .6-21.6 .6 3.5 .5 6.6 .6-7.8 .6 7 .5-6.5 .6 28.8 .6-15.9 .5 3.6 .6 7.6 .5 .7 .6-4.6 .5 23 .6-10.5 .5-5 .6-16.3 .5 7 .6-1.6 .5-5.9 .5 2.8 .6 1.6 .5 13.1 .6-7.7 .5 1.2 .5 15.9 .5 5.2 .6-20.9 .5-6.5 .5 9.4 .6 9.5 .5-.3 .5-12.8 .5 5 .5 .1 .5 4.3 .6-.8 .5 2.6 .5-6.9 .5 8.2 .5-8.9 .5 1.4 .5 10 .5-8.3 .5 8.9 .5-4.8 .5-4.1 .5 1.4 .5-4.2 .5 .5 .5 14.3 .5 1.9 .5-14.2 .5 1.7 .5 15.9 .5-4.9 .4 7.9 .5-6.4 .5 3.6 .5 22.2 .5-19.6 .5 5.1 .4 5 .5-4.4 .5-15 .5-4.9 .4 4 .5 .2 .5 11.9 .4 14.4 .5-7.9 .5-3.7 .4-17.3 .5 14.3 .5-12.1 .4-.3 .5 14.1 .4-5.7 .5 18.1 .5-7.4 .4 4 .5 .2 .4-1 .5-11 .4 2.2 .5-3.7 .4 7.4 .5 4.9 .4 6 .5-25.5 .4 21 .5-4.7 .4 14.3 .4-15 .5-.8 .4 21.6"/>
<path d="M723.3 388.9l5.8 4 5.5-2.4 5.4-9 5.2 5.4 5.1 7.7 5-.4 4.8 4.5 4.6-.5 4.6-1.5 4.4 12.8 4.3-1.2 4.3-10.3 4.1 5 4 10.8 3.9-7.2 3.9-3 3.8 3.6 3.6 .9 3.7 4.5 3.5 4.8 3.5 1.2 3.4 .6 3.3-.8 3.3 .8 3.2-.2 3.1 14.7 3.1-9 3.1 .8 3 10.4 2.9 1.3 2.9 3 2.9 .7 2.8-7.8 2.7 8.6 2.7 1.5 2.7-4 2.7-2.7 2.6 5.1 2.5 3.1 2.5 0 2.5-2.2 2.5 11 2.4-13 2.4 7.8 2.3-5.2 2.3 5.4 2.3 10.1 2.3-8.8 2.2-11.2 2.2 8.7 2.2-.5 2.1 .4 2.2-.9 2.1-4.2 2 5.3 2.1-6.5 2 5 2 2.5 2-2.8 1.9-5.8 2 4.2 1.9 3.9 1.9 8 1.9 2.7 1.8 7.5 1.8-8.2 1.9 16.3 1.8-11.3 1.7-1.5 1.8 13.4 1.7-6 1.8-5.2 1.7-4.6 1.7-3.7 1.6 8.4 1.7 2.6 1.7 2.9 1.6-3 1.6 5.8 1.6-6.6 1.6 12 1.5-4 1.6 3.6 1.5-4.8 1.6-2.1 1.5 7.8 1.5 4.8 1.5-.1 1.5 1.5 1.4-3.9 1.5-4.7 1.4 8.1 1.5-5 1.4-4 1.4 4.2 1.4-7.1 1.4 2 1.3-3.2 1.4 2.4 1.4 2.5 1.3 14.8 1.3-7.2 1.3 1.7 1.4-1.7 1.3-.8 1.3-5.2 1.2 12.4 1.3-9.2 1.3 10.9 1.2-.9 1.3-5.6 1.2 7.2 1.2-9.7 1.3 16 1.2 5.6 1.2-7.2 1.2 4.2 1.2-.7 1.1-4.4 1.2 .9 1.2 1.5 1.1-11.2 1.2 5.9 1.1-9.6 1.2 12.5 1.1 13.1 1.1-9 1.1 15.5 1.1-21.5 1.1 .5 1.1 2.5 1.1 0 1.1-3.1 1 4.1 1.1 8.6 1.1-4.5 1 11 1.1-13.9 1 22.1 1-9.6 1.1-.4 1 13.4 1-6.5 1-10.9 1 2.5 1 16.2 1-22.4 1 18.2 1 2.1 1 1 .9 1.4 1-7.1 .9 12.2 1-14.9 1 16.3 .9-18.1 .9 15.1 1-16.5 .9 3 .9-3.7 .9 3.4 1-3.2 .9 5.6 .9 .2 .9-4.1 .9 12 .9-2.2 .8 4.2 .9 2.6 .9 7.5 .9 2.9 .8-11 .9-6.6 .9-3.2 .8-6 .9 8.1 .8 8.5 .9-1.1 .8 22.7 .9-30.3 .8 11.7 .8-1.3 .8 .7 .9-2.5 .8 2.5 .8-4.8 .8 9.6 .8-16.4 .8 13.1 .8 5.5 .8 3.6 .8-18.7 .8 7.7 .8 3.9 .7 1.5 .8-5.6 .8 7.6 .8 6.1 .7-6.9 .8 13.4 .7-2.3 .8-7.1 .8 5.5 .7 3.4 .8-16.9 .7 2.7 .7 5.5 .8 13.3 .7-21.5 .7 6.6 .8 3.2 .7-7.5 .7 19 .7-12.1 .8-9.6 .7 4.6 .7-4.7 .7 15.3 .7-20.2 .7 2.2 .7 4.1 .7 21.4 .7 5.9 .7-.3 .7-.7 .6-15.6 .7 8.7 .7-6.8 .7 6.3 .7-12.5 .6 13.6 .7-.9 .7 .1 .6-8.7 .7-1 .7 10.5 .6 7 .7 6.2 .6-15.4 .7 10.2 .6-4.8 .7 3.4 .6-3.2 .6-1.4 .7 11.5 .6 1.4 .7-11.9 .6 16.7 .6-20.4 .6 7.5 .7-4.3 .6 13.9 .6-5.7 .6 3.5 .6-6.9 .7-.1 .6 19.3 .6-10.4 .6-4.2 .6-1.3 .6 24.5 .6-16.8 .6 22.2 .6-33.3 .6 10.8 .6-13.1 .6 3.2 .6 .6 .5 22.4 .6-26.7 .6 8.2 .6 1.5 .6 2.5 .5 4 .6 .1 .6-9 .6 .3 .5-5.2 .6 12.4 .6-8.9 .5 9.3 .6 1.2 .6 6.6 .5-.3 .6-8.9 .5-5.3 .6 17.8 .5 2.9 .6-14 .5 6.7 .6 4.6 .5-4.6 .6 2.8 .5-15.5 .5 5 .6-.7 .5-5.9 .6 10.7 .5 10.6 .5-14.2 .5 10.9 .6-2.3 .5-4.6 .5 10.8 .6 3.7 .5 1.1 .5 7.7 .5-21.3 .5 14.5 .5 4.9 .6-3.7 .5-10 .5-4.8 .5-8.1 .5-9.1 .5 21.1 .5-10.5 .5 22.8 .5 6.9 .5-10.6 .5 2.2 .5 27.8 .5-16.1 .5-9.7 .5 .2 .5 5.8 .5 1 .5-19.2 .5 35.3 .5-14.6 .4-15.5 .5 8.9 .5-12 .5 .5 .5 2 .5 6.6 .4-1 .5 4.8 .5-18.2 .5 20.8 .4 1.8 .5 1.5 .5 .9 .4 2 .5-22.3 .5 16.5 .4 9.2 .5-7.1 .5-6.3 .4 7.5 .5-6.9 .4-8.1 .5 13.4 .5 21.5 .4-19.1 .5 .3 .4 6 .5-1.5 .4-3.8 .5-8.9 .4 6.4 .5 14.7 .4-17.6 .5 11.5 .4-.4 .5-7.7 .4-4.6 .4 1.4 .5 9.3 .4-7.8"/>
<path d="M723.3 393.2l5.8-4.8 5.5-.2 5.4-2.6 5.2 4 5.1-3.4 5 4.8 4.8 3.2 4.6 11 4.6 5.6 4.4 .8 4.3 3.3 4.3-3 4.1-10.7 4 2.4 3.9 12.6 3.9 12.4 3.8-21 3.6-10.4 3.7 19.8 3.5 9 3.5 6.7 3.4-1 3.3 19.9 3.3-19.5 3.2 .9 3.1-1.4 3.1-2.5 3.1 1.9 3-.3 2.9 9.5 2.9-13.1 2.9 25.9 2.8-24.3 2.7 3.7 2.7 17.9 2.7-12.5 2.7-5.3 2.6 5 2.5 2.7 2.5-5.4 2.5 4.1 2.5 7.2 2.4-1.1 2.4-4.4 2.3-5.3 2.3 22.1 2.3-13.2 2.3 16.6 2.2-10.3 2.2-6.9 2.2 26.4 2.1-4.4 2.2-1.8 2.1-2.1 2-4.5 2.1-7.3 2 21.7 2-1.4 2-19.6 1.9 7.3 2 13.7 1.9 3.7 1.9-.2 1.9-14.6 1.8-4.8 1.8 19.7 1.9-2.6 1.8-11.9 1.7-.8 1.8 8.3 1.7 3.4 1.8-8.9 1.7 13.7 1.7 4.4 1.6-6.1 1.7 11.2 1.7-35.7 1.6 8.7 1.6-4.4 1.6 27.1 1.6-15.6 1.5 13.9 1.6-18.9 1.5 12.6 1.6-3.1 1.5 1.9 1.5 2.9 1.5 .6 1.5 16.7 1.4-26.9 1.5 11.3 1.4 9.1 1.5-16.5 1.4 15.3 1.4 3.2 1.4-11.9 1.4 2.8 1.3 10.2 1.4 .7 1.4-23.8 1.3 14.2 1.3 13.8 1.3 5.3 1.4-7.5 1.3-1.7 1.3 19.3 1.2-1.4 1.3-16 1.3 3 1.2 7.4 1.3-8.3 1.2 1.7 1.2 12.4 1.3-1.3 1.2 3.1 1.2-5.8 1.2-1.3 1.2 12.7 1.1-10.4 1.2-3.5 1.2-7.9 1.1 .7 1.2-6.4 1.1 2.4 1.2-2 1.1 5.7 1.1-8.2 1.1 6.3 1.1 5.7 1.1-11.3 1.1 4.6 1.1 16 1.1 .9 1-7.2 1.1-.6 1.1 13.9 1 3.9 1.1 4.3 1 3 1-10 1.1 10.6 1-5.8 1 1.5 1-5.6 1-1.1 1 .3 1 1.6 1 1.8 1-4.2 1-10.6 .9 .8 1 24.4 .9-15.8 1 6.6 1-13 .9 8.9 .9-7.5 1-4.1 .9-.6 .9 13.2 .9 1.2 1-13.1 .9 1.8 .9 3.8 .9 1.5 .9-7.7 .9 6.8 .8 2 .9 16 .9-15.8 .9 4.7 .8-4.8 .9 3.5 .9 13.6 .8-9.9 .9 10.7 .8-6.2 .9 6 .8-5.6 .9-5.5 .8 2.6 .8-3.6 .8 12.7 .9 .1 .8-5.1 .8 5.2 .8 9.1 .8-4.1 .8-5.3 .8-1.4 .8-4.2 .8-2.8 .8-4.6 .8 28.6 .7 30.6 .8-26.3 .8-8.9 .8-15.2 .7 8.5 .8-9.7 .7 9.1 .8 31.7 .8-11.2 .7-28 .8 10.7 .7-20.2 .7 24 .8 2.2 .7 6.2 .7 7.2 .8-10.4 .7 20.3 .7-6.1 .7 10.3 .8-2 .7-19.1 .7-4.4 .7-10.2 .7 23.9 .7-6.3 .7 7.1 .7-12.2 .7-13.5 .7 3.5 .7 0 .6-5.1 .7 9.3 .7-11.3 .7 22.8 .7-7.8 .6-3.4 .7 3.5 .7 13.9 .6 6.6 .7-21.9 .7 11.3 .6-9.4 .7-9.8 .6 23.9 .7-6.3 .6 .7 .7 21.7 .6-25.8 .6 8.9 .7 10.8 .6 2 .7-12.9 .6-5.2 .6 2.3 .6 6.2 .7-13.3 .6 16.5 .6-10.6 .6 10.2 .6 8.6 .7-14.2 .6-21.7 .6 37 .6-19.9 .6 1.4 .6 5 .6-5.8 .6 11.1 .6-9.5 .6 11.5 .6-7.6 .6-1.7 .6 5.6 .5 5.7 .6-8.8 .6 7.6 .6-7.5 .6 2.4 .5 11.3 .6-2.4 .6 3 .6 11.5 .5-1.9 .6 9.4 .6-11.6 .5 3.6 .6-9.8 .6-9.3 .5 8.7 .6-5.9 .5-.2 .6-.7 .5 17.8 .6-11.1 .5 15.4 .6-14.5 .5 11.3 .6-2.2 .5 2.4 .5-.9 .6-5 .5-3.3 .6 6.3 .5-12 .5 2.9 .5 18.1 .6-3.5 .5-1.5 .5-6.4 .6-1.6 .5 5.4 .5-2.5 .5-.2 .5 1.2 .5-7.7 .6 6.2 .5-8.8 .5 12.7 .5 .7 .5-7.4 .5 17.4 .5-15 .5 34.2 .5-38.2 .5-1.1 .5 14 .5-5.9 .5 10.1 .5 3.8 .5-3.4 .5-10 .5 13.1 .5-.8 .5 13.3 .5 4.4 .4-17.4 .5-5.3 .5 9 .5-15.8 .5 39.8 .5-25 .4 2.5 .5-21.4 .5 22.8 .5-10.4 .4 26.9 .5-3.6 .5-11.3 .4-20.8 .5 14.6 .5 6.2 .4-16.5 .5 6.6 .5 8.3 .4-12.3 .5-1.3 .4 8.6 .5 6.4 .5-7.8 .4-.9 .5 22.8 .4-6.3 .5 1.7 .4-23.2 .5-5.4 .4 1.4 .5 11.2 .4-6.4 .5 19.7 .4-8.8 .5 14.9 .4-19.5 .4 3.3 .5 1 .4 .9"/>
<path d="M723.3 378.9l5.8-4.1 5.5 2.6 5.4 6.9 5.2 7.2 5.1-7.3 5 6 4.8-.6 4.6 1.7 4.6-1.2 4.4 15.8 4.3 5.4 4.3-3.2 4.1-5.2 4-1.7 3.9 4.5 3.9 3.8 3.8 7.4 3.6-2.6 3.7 15.8 3.5-8.5 3.5-8.3 3.4 13.8 3.3 1.2 3.3 6.4 3.2 3.9 3.1 0 3.1-7.1 3.1 8.6 3 2.1 2.9-7.6 2.9 2.6 2.9-2.1 2.8-12.3 2.7 8.1 2.7 1 2.7 4.2 2.7 1.3 2.6 4.6 2.5-8.5 2.5 7.4 2.5 2.8 2.5-3.4 2.4-.7 2.4 5.5 2.3 6.5 2.3-9.2 2.3 2.7 2.3-10.4 2.2 10.2 2.2 1.1 2.2-10.4 2.1 22.2 2.2-3.4 2.1-5.1 2-.7 2.1 .1 2 3 2-6.7 2 8.8 1.9 .4 2-.6 1.9 9.8 1.9-17.7 1.9 13.4 1.8-4.1 1.8 9.6 1.9-5.8 1.8-7.3 1.7 7.1 1.8 12.7 1.7-7 1.8 15.4 1.7-.9 1.7-20.6 1.6 2.9 1.7 5 1.7 6.5 1.6-4.6 1.6 2.7 1.6-5.3 1.6 1.3 1.5 5.7 1.6-7 1.5-.5 1.6 8.4 1.5-.7 1.5-2.9 1.5-6.5 1.5-.6 1.4 8.5 1.5 5.3 1.4-1.5 1.5 12.3 1.4-3.3 1.4-15.5 1.4 20.3 1.4-17.5 1.3 13.7 1.4-9.2 1.4-.8 1.3 .6 1.3-.4 1.3 13.7 1.4 3 1.3-4.7 1.3 1 1.2 3 1.3-6 1.3-3.3 1.2 2.2 1.3 11.4 1.2-.8 1.2-5.7 1.3-4.3 1.2 3.2 1.2-11.2 1.2 15.9 1.2 6.9 1.1-10.4 1.2 3.6 1.2 18 1.1-8.5 1.2 11.4 1.1-.3 1.2-13 1.1-4.2 1.1 18.4 1.1-7 1.1-1.8 1.1-17.5 1.1 7.5 1.1 1.7 1.1 22.4 1-16.1 1.1 15 1.1-19.6 1 14.9 1.1-5.7 1-12.8 1 7.9 1.1-14.2 1 17.8 1 18.6 1-10.9 1 0 1 1 1-12.9 1 11.7 1-11.5 1 .6 .9 13.5 1 5.1 .9-13.8 1 5.9 1 .2 .9-3 .9-3.9 1-1.7 .9 19 .9-5.8 .9 8.2 1-7 .9 2.9 .9 .8 .9-13.8 .9 29.1 .9-19 .8 8.4 .9-1.4 .9 1 .9-8.8 .8-1.7 .9 6.1 .9 .9 .8-1.3 .9 10.2 .8-17.9 .9 10 .8-4 .9 14.5 .8-11.1 .8 12.5 .8 3.2 .9-13 .8 10.1 .8-3.1 .8 .9 .8 10 .8-16.4 .8 7.9 .8-8.9 .8 21.3 .8-8.3 .8-1.2 .7-2.4 .8 .2 .8 3.7 .8-11.3 .7 4.3 .8-1.2 .7 5.4 .8 14.6 .8-6.1 .7-5.7 .8 4 .7-9.5 .7 .8 .8 7 .7 3.5 .7-.3 .8-5.8 .7 10.5 .7-10.2 .7 12.6 .8 8.5 .7 1.8 .7-13.1 .7 4 .7-10.6 .7-4.5 .7-2.5 .7 9.7 .7-2.7 .7 2.2 .7-1.2 .6 9.1 .7 8.5 .7-14 .7 7.5 .7 1.2 .6-18.4 .7 27.4 .7-12 .6 4.5 .7-10.3 .7 19 .6-8 .7 2.2 .6-2.3 .7-3.4 .6 8.3 .7 5.2 .6 1.6 .6-18.2 .7 33.3 .6-28.2 .7 6.4 .6 1.1 .6 1.8 .6 5.6 .7-9.3 .6 3.3 .6-3.6 .6-2.7 .6 4.6 .7-15.8 .6 19.2 .6 21.6 .6-25.2 .6 9 .6 1.2 .6-2.6 .6-6.3 .6-7.9 .6 3.2 .6 18.7 .6-8.7 .6 13.1 .5-10.3 .6-5.9 .6 11.8 .6 9.7 .6-10.2 .5 .1 .6 22.3 .6-28.5 .6 6 .5 7.1 .6-14.9 .6 10.8 .5-1.8 .6-7.1 .6 7 .5 5.9 .6-5.3 .5-6.9 .6-4.3 .5 .9 .6 11.9 .5-3.4 .6 8.2 .5 6.7 .6-5 .5-1.1 .5-9 .6 11.2 .5 .2 .6 4.8 .5-5.9 .5 7.3 .5-16.9 .6 11.1 .5 10.7 .5-1.9 .6-14.3 .5 8.7 .5 6.3 .5-1 .5-10.4 .5 6.3 .6 17.9 .5-24.4 .5 13.8 .5-21.7 .5 3 .5 14.1 .5-8.1 .5 5.7 .5-4.4 .5-12.4 .5 18.3 .5 3.3 .5-18.5 .5 6.1 .5-3.9 .5-8.2 .5 18.5 .5-14.2 .5 7.7 .5-7.8 .4 13.6 .5-1.2 .5 5.5 .5 5.5 .5-1.8 .5 8.3 .4 9.4 .5-19.3 .5 5 .5-12.9 .4 13.3 .5 12.5 .5-19.4 .4 5.4 .5 2.6 .5 10 .4-5.9 .5-14.8 .5-11.6 .4 2.6 .5 16.9 .4-11.7 .5 20.3 .5-13.3 .4-2.6 .5 13.6 .4-7.3 .5 1.5 .4-13 .5 11 .4 2.6 .5 2.5 .4 1.9 .5-1.2 .4 13.9 .5 6.2 .4 15.2 .4-21.8 .5 9.1 .4 3.7"/>
<path d="M723.3 374.2l5.8 7.4 5.5-.7 5.4 9.6 5.2 .2 5.1-2.2 5 5.5 4.8 1.6 4.6-1.3 4.6 3.5 4.4 6.4 4.3 3.9 4.3-6.5 4.1 4.2 4 5.3 3.9-.8 3.9 5.1 3.8 1.1 3.6 8.7 3.7 5.3 3.5-12.7 3.5-8.2 3.4 1.4 3.3 2.2 3.3 6.4 3.2-3.3 3.1 0 3.1 4 3.1 14.3 3 6.7 2.9 6.5 2.9-10 2.9 5.1 2.8-3.3 2.7-2 2.7-5.1 2.7 7 2.7-4.2 2.6 4.4 2.5-3.2 2.5-10 2.5 7.9 2.5-.1 2.4 1.9 2.4 3.4 2.3-8.7 2.3 .6 2.3 9.6 2.3-3.7 2.2 2 2.2 5.1 2.2 2.1 2.1-3.5 2.2-.5 2.1 5.1 2-2.6 2.1 2.3 2 .2 2 12.1 2-10.9 1.9 25.6 2 5.1 1.9-3.5 1.9-12.5 1.9 2.9 1.8 8.9 1.8-13.8 1.9 13.2 1.8-8.3 1.7-.6 1.8 6.8 1.7-4 1.8-5.8 1.7 5.2 1.7 13.8 1.6-7.6 1.7-12.4 1.7-1 1.6 13.4 1.6-8.2 1.6-1.5 1.6-2.2 1.5-8.1 1.6 20.4 1.5-8.3 1.6 9.6 1.5 10.1 1.5-1.5 1.5 14.9 1.5-19.7 1.4 .5 1.5-7.8 1.4 7.5 1.5-16.5 1.4 5 1.4 17.9 1.4 5.7 1.4-18.3 1.3 11 1.4-7.9 1.4 .6 1.3 1.2 1.3 10.4 1.3-10.8 1.4 10.9 1.3 2.6 1.3-18.5 1.2 9.6 1.3 11.9 1.3-10.2 1.2 1.1 1.3 7.3 1.2 6.8 1.2-.7 1.3-7.7 1.2 5.4 1.2-2.6 1.2-7.5 1.2 7.5 1.1-5.8 1.2-.8 1.2 5.8 1.1-12.6 1.2 21.5 1.1-4.7 1.2 15.8 1.1-10.2 1.1-5.2 1.1-1.3 1.1-1.5 1.1-.2 1.1 12.9 1.1 2.2 1.1 .9 1-1.4 1.1-17 1.1 3.7 1 18.2 1.1-15.8 1-5.2 1 21.8 1.1-6 1-8.2 1 23.7 1-.2 1 6.4 1 6.4 1-17.2 1-6.8 1-9.8 1 14.5 .9 1.7 1 7.6 .9-.1 1-15.2 1-11.1 .9 1.1 .9 7 1 5.9 .9-4.4 .9 8.7 .9-.9 1-12.9 .9 9.4 .9 1.2 .9 7.8 .9-12 .9 17.7 .8-9.2 .9-6.4 .9 20.1 .9-16.3 .8 1.5 .9 .6 .9-2.1 .8 23.7 .9-23 .8 17.9 .9 3.4 .8-5.2 .9-20.5 .8 1.3 .8-4.6 .8 7.9 .9-.4 .8 19 .8-7.7 .8 13.7 .8-7.9 .8-.2 .8 7.6 .8-5.3 .8-.1 .8-4.5 .8 11.2 .7-2.9 .8-3.3 .8-6.3 .8 3.9 .7-9.8 .8 14.7 .7 6.6 .8-2.7 .8 2.9 .7 5.1 .8-21.2 .7 1.4 .7 5.2 .8 12.6 .7-13.2 .7 10.4 .8 11.8 .7-18.2 .7 4.1 .7 1.2 .8 7.7 .7-8.3 .7 .6 .7 2.8 .7 5.3 .7-14.7 .7 11.9 .7 6.5 .7 5.2 .7-25.2 .7 24.6 .6-15.2 .7 2.1 .7 .8 .7-2.7 .7 27.4 .6-11.4 .7-11.1 .7 18 .6-17.5 .7-14.2 .7 18.4 .6-13.1 .7 4.1 .6 7.1 .7 7.4 .6-1.4 .7 11.1 .6-13.4 .6 1.8 .7 9.8 .6-14.4 .7-5 .6 14.4 .6-.8 .6-1.4 .7 4.1 .6 5.4 .6-13 .6 20 .6-5.1 .7-12.1 .6 5.2 .6 8.1 .6-.7 .6 13.2 .6-25.3 .6-.1 .6 9 .6 1 .6 1.3 .6 5.1 .6-8.6 .6-.9 .5-4.9 .6 7.6 .6 12.3 .6-28.9 .6 4.8 .5 5.3 .6 14 .6-4 .6-11.7 .5-5.7 .6 11.3 .6 2.3 .5-.3 .6-1.5 .6 18.1 .5-10.9 .6-12.3 .5 14.1 .6-6.8 .5 .9 .6-3.7 .5-2.7 .6 17.7 .5-8.7 .6-1.6 .5 11.8 .5-9.5 .6 16.7 .5-12 .6-6.3 .5 6.7 .5 2.5 .5 30.2 .6-34.6 .5 3.4 .5 2 .6-3.4 .5 9.5 .5-6.1 .5-17.3 .5 21.2 .5-.5 .6 7.2 .5-30.1 .5 26.2 .5-5.2 .5 10.4 .5-17.3 .5 14.1 .5-12.5 .5 11.9 .5 8 .5-11.4 .5 14.1 .5 2.8 .5 3.4 .5-18 .5-5.8 .5 12 .5 8.4 .5-11.9 .5 .7 .4 1.2 .5 6.8 .5-2.9 .5-2.3 .5-11.1 .5 7.2 .4-4.8 .5 16.9 .5 2.8 .5-8 .4 31.3 .5-33.1 .5 8.7 .4-6.8 .5-9.4 .5 7 .4 1.5 .5 .7 .5 .3 .4 5.4 .5 1.2 .4 1.5 .5-4.4 .5 8.7 .4-4.4 .5-10 .4-.4 .5 18.9 .4-17.7 .5-4.2 .4 4.1 .5-2.5 .4 8.1 .5 9.5 .4-14.9 .5 18.6 .4-7.2 .4 16.2 .5-15.9 .4-8.6"/>
<path d="M723.3 396.5l5.8-2.9 5.5 .1 5.4 0 5.2 .5 5.1 5.5 5-2.9 4.8 2.4 4.6 .5 4.6-1.6 4.4 6.7 4.3-8.3 4.3 1 4.1 6.7 4 4.3 3.9 2.6 3.9 8.1 3.8 7.4 3.6-13.8 3.7 4.5 3.5-1.2 3.5 5.4 3.4-1.4 3.3-4.6 3.3 5.5 3.2-10 3.1 9.2 3.1-3.6 3.1 4.8 3-7.3 2.9 1.5 2.9 5 2.9-1.8 2.8 1.6 2.7 6.6 2.7 6.5 2.7 9.2 2.7-7.9 2.6 6.7 2.5 6.8 2.5-8 2.5 7.5 2.5 2.1 2.4-8.1 2.4 8.5 2.3-5 2.3-2.2 2.3 6 2.3-7.6 2.2-2.3 2.2 13 2.2-5.1 2.1-5.6 2.2 6.2 2.1 10.7 2-9.1 2.1-3.8 2 12 2-6.8 2 1.1 1.9-.3 2 .8 1.9-.4 1.9-7.8 1.9 9.6 1.8-4.1 1.8 11.1 1.9 4 1.8-4.6 1.7-3.7 1.8 6.2 1.7 9.9 1.8 8.9 1.7-11 1.7 11 1.6 1.2 1.7-.5 1.7-17.3 1.6-18.3 1.6 9.8 1.6-4.4 1.6 8.9 1.5 12.5 1.6-14.2 1.5 5.9 1.6 21.2 1.5-6.7 1.5-6 1.5 10.8 1.5-15.8 1.4 9 1.5-5.7 1.4-9 1.5 18.9 1.4-10.6 1.4-11.1 1.4 10.3 1.4 2.1 1.3-2.4 1.4 15.7 1.4 2.2 1.3-8.2 1.3-10.8 1.3 14.2 1.4 9.4 1.3-11.4 1.3 11.8 1.2 3.6 1.3-5.9 1.3-7.5 1.2 24.1 1.3-9.9 1.2 7.7 1.2-4.5 1.3 1.4 1.2-6.8 1.2 14.3 1.2-13.2 1.2 12.5 1.1-8.4 1.2 12 1.2-19.3 1.1-2.6 1.2-13.9 1.1 8.5 1.2-12 1.1 12 1.1 6.3 1.1 1.4 1.1-12.6 1.1 15.7 1.1-10.9 1.1 13 1.1-10 1 30.2 1.1 3.1 1.1 1.3 1 6.3 1.1 1.3 1-26 1 14.1 1.1-9.2 1 11.6 1-18.3 1 .2 1 19.9 1 6.5 1-.1 1-24.3 1-1.6 1 7.2 .9-10.7 1 8 .9-3.7 1-7.8 1-7.4 .9 10.9 .9 8.5 1 5 .9-1.3 .9 12.2 .9-.3 1-3.6 .9-1.5 .9 6.6 .9 .9 .9-9.3 .9-4.1 .8 10.9 .9-11.7 .9 4.7 .9-1.2 .8 10.5 .9-9.4 .9 21.6 .8 1.6 .9-20.3 .8 1.5 .9-6.4 .8 17.2 .9-21.7 .8 24.9 .8-10.9 .8 5.7 .9 8.7 .8 4.1 .8-18 .8 13.7 .8 1.1 .8 3.4 .8 2 .8-5.6 .8-11.9 .8-5.3 .8 13.4 .7 2.9 .8-9.1 .8 11.1 .8 4 .7 10 .8-22.3 .7 3.7 .8-4.6 .8 18 .7-4 .8-6.1 .7 4.3 .7-17.8 .8 12.9 .7-4.9 .7 .5 .8 12.9 .7-8.9 .7 13.4 .7-15.6 .8-9.6 .7 5.5 .7 5.9 .7-12 .7 37.3 .7-24.1 .7 25.7 .7-25.1 .7 22 .7-4.5 .7 7.1 .6-9.9 .7-2.2 .7-5.2 .7-11.2 .7 22.8 .6-13.5 .7 14 .7 3.1 .6-3.2 .7 10.6 .7-15.3 .6-6.9 .7 9.8 .6-11.4 .7 33.2 .6-25.8 .7-.5 .6 .5 .6-13.2 .7 5.5 .6 12.5 .7 5.2 .6 4.1 .6 13.3 .6-3.8 .7-17.1 .6 3.4 .6-7.9 .6 6.5 .6 3.7 .7 .5 .6 4.6 .6 6.6 .6 2.3 .6 15 .6-15.4 .6-7.1 .6 4.7 .6 5.4 .6 8.1 .6-2 .6-17.7 .6 13.4 .5-10 .6 17.8 .6 .6 .6-3.7 .6-19.8 .5 10.3 .6-9.8 .6-.9 .6-8.4 .5 1.1 .6 13.8 .6 13.6 .5 .2 .6-4.1 .6 4.4 .5-5.3 .6-9.6 .5-3.1 .6 5.8 .5 8.5 .6-5.1 .5 1.8 .6-3.2 .5 9.6 .6-3 .5 12.1 .5 .4 .6-4.9 .5-11.9 .6 13.2 .5-7.5 .5-3 .5-9.1 .6 14.7 .5-2.3 .5-9 .6 11.2 .5-21.1 .5 21.3 .5-3.2 .5 1.9 .5 4.5 .6-4.1 .5-12.4 .5 7.1 .5 .6 .5 16.4 .5 12.2 .5-1.6 .5-10.1 .5-15.1 .5-7.1 .5 1.1 .5 4.3 .5 4.7 .5 4.8 .5-14.2 .5 .3 .5-1.9 .5 .9 .5 10.1 .5-2.2 .4 13.8 .5 1.9 .5-2.1 .5-3.2 .5 8.5 .5-4.5 .4-12.5 .5-4.9 .5-3.6 .5 7.7 .4 1.7 .5 2.7 .5 1.4 .4 5.8 .5 11.5 .5-3 .4 2.4 .5 21.2 .5-11.5 .4 2.2 .5-5.3 .4 .1 .5 4.6 .5 24.8 .4-48.8 .5 4.1 .4 3.3 .5-11.8 .4 2.6 .5 13 .4 2.3 .5 12.4 .4 2.7 .5 3.3 .4-14.8 .5 24.4 .4-13.5 .4-19.9 .5 1.7 .4-.9"/>
<path d="M723.3 385.9l5.8 2.5 5.5 1.3 5.4 3.6 5.2 .7 5.1-.3 5 16.2 4.8-4.3 4.6 2.8 4.6-3.4 4.4 3 4.3-1.5 4.3 0 4.1-7.9 4-1.8 3.9 1.5 3.9 14.1 3.8-4.8 3.6 7.2 3.7 12.2 3.5 4.3 3.5 1.9 3.4-5.1 3.3-7.1 3.3 1.2 3.2 6.8 3.1 0 3.1-4.4 3.1 9.7 3-.3 2.9 7.9 2.9-11.8 2.9-4.2 2.8 8.5 2.7-5.8 2.7 6.9 2.7 13.8 2.7-7.3 2.6-3.2 2.5-5.2 2.5-4.3 2.5 1.7 2.5 1.8 2.4 5.7 2.4 4.4 2.3-3.7 2.3 9.6 2.3 7.4 2.3-15.9 2.2 12.2 2.2-9.1 2.2 10.1 2.1-16.1 2.2 6.1 2.1 10.1 2 .3 2.1-7.4 2-1 2 5.9 2 2.5 1.9 17.1 2 1.4 1.9-5.6 1.9-10.1 1.9 6 1.8-1.9 1.8 8.2 1.9-6.5 1.8-2.2 1.7-3 1.8-1.4 1.7-4.4 1.8-1 1.7 13.5 1.7 .4 1.6 4.8 1.7-3.8 1.7 11.3 1.6-7.5 1.6-2.4 1.6 1 1.6-3.3 1.5 10.5 1.6-2.2 1.5 10.3 1.6-9.7 1.5 1.9 1.5-.6 1.5 1.9 1.5-9.3 1.4 7.5 1.5 3.6 1.4 10.9 1.5-5.1 1.4-4.5 1.4 4.2 1.4 6 1.4 5.6 1.3-19.4 1.4 5.6 1.4 10 1.3-4.2 1.3-4.7 1.3-6.7 1.4 9.8 1.3 7.9 1.3-.2 1.2-4.8 1.3 14.6 1.3-2.1 1.2-12 1.3 8.5 1.2 7.3 1.2-17.3 1.3 3.2 1.2 3.6 1.2 1.7 1.2 1.6 1.2-7.4 1.1 2.5 1.2 1.5 1.2 15.5 1.1-14.4 1.2 11.5 1.1-10.5 1.2 15.1 1.1-13.8 1.1 15.8 1.1-16.7 1.1 12.5 1.1 0 1.1-6.2 1.1-6.5 1.1 10.5 1 .1 1.1-7 1.1 9.1 1-2.9 1.1 4.6 1 .4 1-2.9 1.1 3.6 1 18.2 1-15.5 1-3.5 1-7.3 1 18.8 1-18.2 1-.7 1 .6 1 12.8 .9-5.9 1-3.9 .9 8.1 1 4.4 1 15 .9-18.2 .9 10.8 1-.3 .9-11.1 .9-9.8 .9 11.5 1-5.1 .9-3.2 .9-2.4 .9 13.9 .9-1.8 .9 7.2 .8-12.5 .9 2.1 .9 22.7 .9-21.7 .8-3.8 .9 5.3 .9 8.1 .8-3.8 .9-5 .8 12.8 .9 4.3 .8-10.2 .9 .2 .8-.8 .8-5.8 .8 16.6 .9-1 .8-2.8 .8 5.1 .8 1.3 .8-17.2 .8 11.1 .8-12.1 .8 16.6 .8-10.1 .8 10.2 .8-10.3 .7 11 .8 8.3 .8-16.1 .8 2.6 .7 14.1 .8-12.2 .7 22.3 .8-18.3 .8 9.9 .7-4.8 .8-6.4 .7 24.6 .7 1.9 .8 3.2 .7-21.4 .7 4.3 .8-3.4 .7-8.4 .7 2.5 .7 2.2 .8 15 .7-6.8 .7-8.4 .7-4.3 .7 14.8 .7 15.7 .7-14.4 .7-15.3 .7 5 .7 6.9 .7-1.6 .6-.6 .7 13.1 .7-5 .7-6.2 .7 17.8 .6-8.4 .7-.6 .7-11.3 .6-.4 .7 12.9 .7 15 .6-21.3 .7 6.3 .6-.2 .7-5.5 .6 4 .7 1.2 .6-4.6 .6 9.8 .7-8.6 .6 12.6 .7-14.7 .6 15.7 .6-6.2 .6 3.3 .7 3.6 .6-5.6 .6-5.4 .6 14.1 .6-22.9 .7 8.3 .6-3.5 .6 7.8 .6 7.9 .6-4 .6 8.3 .6 5.5 .6-12.6 .6 1.2 .6-4.6 .6 3 .6 2.1 .6 2.1 .5 15.5 .6-16.8 .6 15.2 .6-8.9 .6 7.6 .5-9.4 .6 1.6 .6-.5 .6-2.7 .5 1.4 .6 8.5 .6 14.8 .5-18.6 .6 3.3 .6-11.3 .5 .7 .6 20 .5-12.2 .6 5.5 .5 .4 .6-6.9 .5-5.2 .6 6.7 .5-10 .6 10.5 .5 3.8 .5-15.1 .6 10.4 .5-11.4 .6 30.8 .5-15.7 .5 2.8 .5-6.8 .6 32.9 .5-18.2 .5-11.3 .6 5.3 .5-5.9 .5 .2 .5-2.8 .5 3.9 .5 5.7 .6-4.8 .5-6.7 .5 17.3 .5 1.4 .5-8.9 .5 9.2 .5-4.1 .5-14 .5 12.5 .5-1.9 .5 .2 .5 2.5 .5 4.8 .5 6.4 .5-7.7 .5 7.5 .5-5.8 .5-4.6 .5 6.8 .5-4.6 .4 17.4 .5-21.5 .5-1.8 .5 10.9 .5-19.6 .5 18.2 .4 17.2 .5-13.8 .5-3.3 .5-6.5 .4 9.2 .5-20.8 .5 19.9 .4-7.6 .5 3.4 .5 13.3 .4-3.2 .5-13.5 .5 3.6 .4 14.2 .5-12.9 .4 10.6 .5 3.3 .5-2.3 .4 3.1 .5-11 .4 12.4 .5-3.4 .4 4.3 .5-5 .4-14.7 .5 22 .4-17.5 .5 6.4 .4-10.5 .5 17.4 .4-10.6 .4 21.7 .5-10.5 .4-.9"/>
<path d="M723.3 382.4l5.8-2.1 5.5 7.4 5.4-3.4 5.2-7.8 5.1 15.6 5 7.4 4.8 2.2 4.6-1.2 4.6-6.5 4.4-6.9 4.3 9.2 4.3 .9 4.1 7.4 4 3.5 3.9 2 3.9-.8 3.8-12.1 3.6 13.7 3.7 11.8 3.5-2.4 3.5 11.8 3.4 3.3 3.3-17.2 3.3 8.3 3.2-14.6 3.1 9.4 3.1 2.8 3.1 15.5 3 3.1 2.9 3.6 2.9-12.7 2.9 16.8 2.8-15.5 2.7-.8 2.7 1.6 2.7-5.1 2.7 .1 2.6 6.4 2.5-5.4 2.5 3.5 2.5 6.5 2.5-5.3 2.4 7.9 2.4-4.4 2.3-8.5 2.3 18.9 2.3-.1 2.3 7.3 2.2-9.1 2.2-5 2.2-6.6 2.1-1.3 2.2 1.8 2.1 5.7 2-.7 2.1-6.1 2 3.1 2 10.6 2-4.3 1.9 14.5 2 2.8 1.9 2.5 1.9-9.1 1.9 9.3 1.8-2.5 1.8 9.1 1.9-5.4 1.8 2.8 1.7-.6 1.8-.6 1.7 2.7 1.8-7.6 1.7 4.5 1.7 2.2 1.6-23.9 1.7 12.9 1.7-3.5 1.6 13.1 1.6-6.9 1.6 8.3 1.6 6.2 1.5-9.6 1.6-.7 1.5 10 1.6 8.4 1.5-7.9 1.5 27 1.5-29.3 1.5 6.7 1.4-7.8 1.5 7.9 1.4-4.2 1.5 26.9 1.4-7.5 1.4-6.9 1.4-12.5 1.4 7.7 1.3 11.5 1.4-8.6 1.4 6.6 1.3 15.8 1.3-8.1 1.3 .7 1.4-20.8 1.3-6.9 1.3 19.2 1.2-9.4 1.3 6.4 1.3 7.2 1.2 6.8 1.3-5.8 1.2-.1 1.2-7.1 1.3 2.1 1.2-1 1.2-6.1 1.2 8.7 1.2-1 1.1-7.4 1.2 15.9 1.2 7.3 1.1-7.9 1.2 1.7 1.1 .6 1.2-5.3 1.1-7 1.1 9.2 1.1 2 1.1 .7 1.1-13.9 1.1 12.8 1.1-4.2 1.1 1.4 1 7.1 1.1-.3 1.1-10.2 1-4.8 1.1 7 1 .6 1 11.5 1.1 14.2 1-7.2 1 1.7 1-19.2 1 16.8 1-7.8 1 4.1 1 .6 1 8 1-.6 .9-13 1-5.1 .9-1.1 1 29.6 1-10.6 .9 18.4 .9-12.3 1-21.2 .9 19 .9 12.1 .9-27.5 1 4.3 .9 10.4 .9 9 .9-8.3 .9-.9 .9-.7 .8-13.2 .9 6.5 .9 1.9 .9 1.3 .8 7.9 .9-.7 .9-7.7 .8 10.4 .9 7.9 .8-3.3 .9-3.5 .8 21.7 .9-20.3 .8 10.8 .8 1.7 .8-7 .9-3.1 .8 .7 .8 7.8 .8-21.4 .8 2.5 .8 27 .8-10.9 .8 6 .8-21.3 .8 33.8 .8-8.3 .7-17.1 .8 6.6 .8 2.6 .8-1 .7-6.8 .8 11.6 .7-1 .8-11.5 .8 11.1 .7-4.4 .8-3.7 .7-8.8 .7 8.2 .8-.2 .7 12.7 .7 9 .8-9.2 .7 1.3 .7-3.4 .7 .8 .8-6.1 .7 4.9 .7-4.2 .7-11.8 .7 11 .7 4.6 .7-15.1 .7-1.8 .7 36.7 .7-13.3 .7 2.3 .6 10.6 .7-16.9 .7 14 .7-14.3 .7 3.6 .6 22.7 .7-26.9 .7 3.4 .6 12.8 .7-11.8 .7 4.2 .6 6.1 .7-20 .6 11.3 .7 18.4 .6-13.9 .7-3.4 .6-3 .6 7.1 .7-8.2 .6 11.9 .7 1.6 .6-2.5 .6 16.6 .6-20.4 .7-2.9 .6-2.2 .6 18.7 .6-2.5 .6 3.6 .7-9.9 .6 17.1 .6-18.3 .6-1 .6-8.5 .6 8.2 .6 12 .6 3.3 .6-4.7 .6 5 .6 8 .6-13.3 .6-10.6 .5 9.2 .6-9.8 .6 20.6 .6-14.4 .6 14.9 .5-8 .6-1.7 .6 8.9 .6 2.5 .5-9 .6 12 .6 3 .5-13.5 .6 7.6 .6-3.5 .5-10.5 .6 12.7 .5 6 .6-1.4 .5-10.3 .6-5.4 .5-2.2 .6 2.7 .5 6.8 .6-1.8 .5 21 .5 4 .6-15.5 .5 7.3 .6-5 .5-6.1 .5-8.3 .5 11.9 .6-6.8 .5-2.2 .5-1 .6-7.4 .5 32.1 .5 2.4 .5-12.6 .5-2.1 .5 3.6 .6-9.6 .5-.5 .5 7.6 .5 20.4 .5-7.6 .5 .9 .5-8.3 .5 15.7 .5-33.3 .5 27 .5-20.1 .5 8.1 .5-1.1 .5-2.3 .5 7.5 .5 12.1 .5-18.4 .5 6 .5 4.2 .5-6.5 .4-15 .5 13.1 .5 1.5 .5-9.9 .5 3.1 .5 13.7 .4 1.9 .5-12.3 .5 5.2 .5 15.6 .4-18 .5 8.2 .5-2.8 .4 7.7 .5 1.7 .5-2.7 .4-1.6 .5-16.8 .5 18.7 .4-1.5 .5-8.9 .4 .8 .5 19.8 .5-6.3 .4-2.1 .5 6 .4 4.7 .5-11.9 .4 8.1 .5-3.4 .4 12.2 .5-4.9 .4 4.9 .5-9.6 .4-4.9 .5 18 .4-5.2 .4-12.3 .5-1.7 .4 3.9"/>
<path d="M723.3 385.4l5.8 5.2 5.5-7.7 5.4 14.8 5.2 .8 5.1 .6 5-5.7 4.8 2.8 4.6-2.3 4.6-.2 4.4 4.5 4.3-3.8 4.3 7.5 4.1-1 4 10.8 3.9-5.3 3.9 4.1 3.8 3 3.6 7.3 3.7-2.1 3.5-7.5 3.5 0 3.4-3.6 3.3 1.6 3.3 4.5 3.2 1.2 3.1-.3 3.1 2.2 3.1 11.1 3-3.1 2.9-7.8 2.9 3.6 2.9 10.2 2.8 .3 2.7-6.3 2.7 10.2 2.7-3.8 2.7-.7 2.6 12.6 2.5 4.5 2.5 1.6 2.5-2.7 2.5-2.1 2.4-4 2.4 6.5 2.3-7.6 2.3 2.4 2.3 3.9 2.3 3.9 2.2-1 2.2-4.4 2.2 15.2 2.1-10.9 2.2 7.1 2.1-1.9 2 1.1 2.1 2.5 2-12.3 2 2.1 2 11.5 1.9-7.6 2-1 1.9-11.6 1.9 12.5 1.9 11.7 1.8 0 1.8 6.1 1.9-4.4 1.8 10.5 1.7-4.9 1.8 1.9 1.7 5.8 1.8-12.1 1.7-.3 1.7-2.8 1.6-.5 1.7 13.5 1.7 5.7 1.6 2.5 1.6 7.6 1.6-17.7 1.6 7.7 1.5-8.5 1.6 4.5 1.5-12.8 1.6 7.9 1.5-10.5 1.5-3.7 1.5 17.6 1.5-6.7 1.4 4.8 1.5 1.4 1.4 6.4 1.5-7.9 1.4 11.4 1.4-4.4 1.4-1.6 1.4-.4 1.3-3.4 1.4 2.9 1.4 11.4 1.3-4 1.3 2.1 1.3-3 1.4-8.9 1.3-1 1.3 5.4 1.2 2.4 1.3 7 1.3 2.1 1.2 .1 1.3 9 1.2-1.4 1.2-5.2 1.3 10.6 1.2-8.3 1.2 6.1 1.2-11.1 1.2-3.8 1.1 9 1.2 6.1 1.2-3.4 1.1 5.9 1.2 2.8 1.1-.4 1.2-8.6 1.1 6 1.1-3.7 1.1 8 1.1 3.5 1.1-11.2 1.1 16.8 1.1-6.4 1.1-14.7 1 0 1.1 8.7 1.1 .3 1 7.6 1.1-5.5 1-3.9 1 .4 1.1 8.7 1-5.6 1 7.8 1 1.5 1-8 1-.9 1-6.6 1 2.5 1 4.7 1-5.5 .9 .9 1-2.9 .9 20.2 1-6.4 1-2.5 .9-3.9 .9-7.1 1 2.6 .9 9 .9 7.5 .9-2 1 13.5 .9-9.9 .9-.1 .9 5 .9-10.9 .9-2.5 .8 1.8 .9-4.9 .9 1.8 .9 11.6 .8-7 .9 19.3 .9-11.7 .8 7.5 .9 14.2 .8-15.2 .9 .4 .8 10.9 .9 1.4 .8-10.5 .8-.2 .8 10.3 .9-1.2 .8-11.7 .8 8.8 .8-10.5 .8-1.7 .8 22.9 .8-1.1 .8-4.4 .8-1.2 .8-3.9 .8-.7 .7 12.8 .8-4.8 .8 9.4 .8-10 .7 2.4 .8-4.3 .7-6.6 .8 0 .8-2.5 .7-1.2 .8 25.5 .7-4.3 .7-14.9 .8-6.1 .7 15.3 .7-6.9 .8 .8 .7-.1 .7 9.3 .7-8.2 .8 17.4 .7 0 .7-9.2 .7 1.6 .7 20.1 .7-34.1 .7 5.6 .7-5.4 .7 5.4 .7-3.1 .7 6.4 .6-2.6 .7-1 .7-11 .7 18.5 .7 2.4 .6-4.6 .7-8.8 .7 19.2 .6-5.8 .7 .2 .7-2 .6 4 .7 11.3 .6-13.5 .7-11.8 .6 3.4 .7 9.7 .6 6.2 .6-9.6 .7 12.4 .6-4.3 .7 .8 .6 17.7 .6-12.1 .6-15.8 .7 17 .6-7.5 .6-11.1 .6 19 .6-15.5 .7 3.4 .6 .9 .6-9.5 .6 27.7 .6-10.6 .6 9.6 .6-12.7 .6 7.1 .6 2.9 .6 6.2 .6 7.3 .6-15.2 .6-2.3 .5-9.1 .6-1.5 .6 26 .6-9.1 .6-6.8 .5 .2 .6 5 .6 10 .6-1.2 .5-6.8 .6-9.5 .6 9.6 .5 2.9 .6-1.1 .6 11.3 .5 1.2 .6-10.5 .5 5.1 .6 13 .5-10 .6-2.9 .5-2.4 .6-15 .5 27.2 .6 4.1 .5-20.1 .5 13.6 .6-17.2 .5 12.6 .6 11.8 .5-15.4 .5 17.8 .5-8.4 .6-11.6 .5 11.6 .5-17.8 .6-.6 .5 11.6 .5 18.9 .5-3.6 .5-14.7 .5-5.8 .6 12.5 .5-6.3 .5 6.7 .5-9.8 .5 2.1 .5 7.8 .5-13.7 .5 19.9 .5-7.5 .5-10.9 .5-11.2 .5 13.3 .5 21.8 .5 7.8 .5-3.5 .5-6.3 .5-16.1 .5 13 .5-16.5 .5-.3 .4 18.5 .5-13.1 .5 9.1 .5 3 .5-.2 .5 1.3 .4 19.3 .5-26.3 .5 17.2 .5-10.6 .4 14.8 .5-5.8 .5-8.9 .4 11.7 .5-9.3 .5 10.9 .4-5.1 .5-20.8 .5 1.3 .4 10.2 .5-3.3 .4 10.4 .5 6 .5 2 .4 3.5 .5 1.8 .4-19.7 .5-3 .4 8.6 .5 4.5 .4 4.6 .5-15.8 .4 14.3 .5 3.7 .4 13.4 .5-21.5 .4 2.3 .4-13 .5 13.8 .4-10.1"/>
<path d="M723.3 379.4l5.8-4 5.5-4 5.4 3 5.2 7.9 5.1 6.6 5 9.2 4.8 12.5 4.6-.5 4.6 14.5 4.4-2.8 4.3-5.7 4.3 8.4 4.1-9.2 4 9.1 3.9-17.2 3.9 .4 3.8 8 3.6-1.9 3.7 3.3 3.5 9.8 3.5-5.4 3.4-7.4 3.3 1.7 3.3-3.8 3.2 1.5 3.1-5.8 3.1 4 3.1-.1 3 4.8 2.9 1.6 2.9 1.3 2.9-2.4 2.8-6 2.7 11.1 2.7 3.1 2.7 1.2 2.7 14.5 2.6-5.9 2.5 3 2.5-6.9 2.5 6.8 2.5 14.2 2.4 5.3 2.4-9 2.3 3 2.3-6.8 2.3 .5 2.3 4.2 2.2 7.7 2.2 1.3 2.2-5.1 2.1 2.5 2.2-6.4 2.1-6.2 2-5.6 2.1 9.8 2 5.6 2 4.7 2-4.4 1.9-4.7 2 2.9 1.9 4.8 1.9-1.2 1.9 19 1.8-6.1 1.8 2.4 1.9 1.2 1.8 .5 1.7-11.3 1.8 15.4 1.7-13.8 1.8 6.8 1.7 .4 1.7-1.5 1.6 4.4 1.7-7.6 1.7 1.4 1.6-6 1.6 10.7 1.6 1 1.6-1.9 1.5-10.4 1.6 8.9 1.5 3.6 1.6 3.2 1.5 6.5 1.5-8 1.5 13.6 1.5-15.1 1.4 7 1.5-21.3 1.4 20.1 1.5 3.1 1.4-.5 1.4 16.4 1.4-13.9 1.4-1.3 1.3 2.7 1.4-2.6 1.4-13.9 1.3 11.9 1.3 15.7 1.3-2.8 1.4-15 1.3 2.3 1.3 20.7 1.2-19.5 1.3 5 1.3 9.3 1.2 1.2 1.3-14.1 1.2 7.7 1.2 1.1 1.3 15.2 1.2 3.4 1.2-20 1.2 1 1.2-1 1.1 9 1.2-.5 1.2 4.9 1.1-2.8 1.2 10.7 1.1 7 1.2 .9 1.1-11 1.1 9.4 1.1-20.2 1.1 13 1.1-8 1.1 8.3 1.1-19.3 1.1 10.2 1 13 1.1-13.7 1.1 1.9 1 1.4 1.1 6.4 1-8.7 1 2.2 1.1 17.6 1-10.8 1 7.6 1-10.1 1 2.3 1 14.8 1-14.1 1-12.4 1 13.1 1-3.7 .9 12.6 1-.6 .9 8.1 1-13.5 1-15.2 .9 11.3 .9 12.3 1-1.4 .9-13.3 .9-3.8 .9 20.8 1-8.2 .9 3.9 .9 3.5 .9 4.5 .9-6.3 .9-.3 .8 1.7 .9 11.9 .9-8 .9 8 .8-15.1 .9 21.4 .9-17.7 .8-11.2 .9 8.2 .8 16.5 .9-12.8 .8-10.7 .9 13.4 .8 7.5 .8 2.4 .8-2.7 .9-3 .8 14 .8-15.7 .8-1.2 .8 3.6 .8 19.2 .8-22.5 .8-1.4 .8 4.9 .8-3.3 .8 6.7 .7 6.3 .8-4.8 .8-4.6 .8 5.1 .7-5.7 .8 8.5 .7 15.8 .8-16.1 .8 7 .7-3.6 .8-4 .7 11.9 .7-16.2 .8 7.4 .7 10.1 .7 1.5 .8-7.5 .7 .6 .7 1.9 .7-2.1 .8 4.4 .7-23.7 .7 19.9 .7 11.3 .7-22.6 .7 17.2 .7-2.4 .7 21.4 .7-17.2 .7 1.2 .7 9.8 .6-16.5 .7-8 .7 5.8 .7 4.9 .7 8.4 .6-5.5 .7-2.8 .7-3.2 .6-.8 .7 4.9 .7-8.6 .6-.2 .7 9.7 .6 14.1 .7-6.7 .6 2.1 .7-6 .6-7.8 .6 2.2 .7 2.3 .6 10.3 .7-7.7 .6 7 .6 3.2 .6-11.9 .7 .1 .6-2.6 .6 9.9 .6-.6 .6-3.3 .7 3.3 .6-1.7 .6-9.9 .6 15.4 .6-13.3 .6 11.4 .6-14.5 .6 6.8 .6-1.9 .6-1.5 .6 6.1 .6 4.7 .6-1.4 .5 12.2 .6-20.3 .6 13.2 .6 4.2 .6 2.7 .5 7.9 .6-18 .6 3.7 .6 4 .5-7.6 .6 20.7 .6-7 .5-6.6 .6 .3 .6-1.3 .5 27.7 .6-28 .5 13.3 .6-1.1 .5-13.6 .6 13.1 .5-12.9 .6 14.3 .5 4 .6-19.9 .5 12 .5-5.3 .6 15.7 .5 0 .6-18.9 .5 11.7 .5 3.1 .5-11.1 .6 23.6 .5-9.9 .5-3.8 .6 .7 .5 3.7 .5 3.2 .5-.4 .5-.2 .5-3.9 .6-2.4 .5-5.6 .5 13.6 .5-9 .5 0 .5-.6 .5-1.1 .5 13.3 .5-2.9 .5-8.2 .5 5.1 .5 12.5 .5-8.6 .5-2.5 .5-4.2 .5 1.1 .5 4 .5-9.7 .5 6 .5 19.7 .4-26 .5 5.6 .5 13.1 .5-12.9 .5 5.7 .5 9.8 .4-6.6 .5-1.8 .5 13.3 .5-10.2 .4 25.8 .5-24.6 .5 7.5 .4 4.2 .5-.3 .5 3.4 .4-14 .5-1.2 .5-.6 .4-.2 .5-6 .4 .1 .5 9 .5 18.9 .4-22.5 .5 12.2 .4-13.3 .5 11.7 .4 .2 .5 9.8 .4-8 .5 7.7 .4 4.3 .5-10.2 .4 7.2 .5-17.5 .4 10.2 .4 3.4 .5 14.9 .4-21.9"/>
<path d="M723.3 381.1l5.8-.3 5.5-1.5 5.4 11.8 5.2-2.2 5.1 17 5-2.8 4.8 6.1 4.6 5.5 4.6-3.3 4.4 1.3 4.3-15.6 4.3 10.5 4.1-8.6 4 6.9 3.9-1.1 3.9-.6 3.8 5.4 3.6 4.2 3.7 6.6 3.5-5.5 3.5 4.4 3.4-1.8 3.3 5.8 3.3 13.6 3.2 .9 3.1-15.8 3.1 11.6 3.1-1.5 3-6.4 2.9-2.1 2.9-6.2 2.9 13.6 2.8 6.4 2.7-.8 2.7-4.8 2.7 .9 2.7 2 2.6 2.1 2.5-8.1 2.5-3.5 2.5 1.7 2.5 11.5 2.4-.6 2.4 3.2 2.3 1.5 2.3-4.5 2.3 11.2 2.3 6.1 2.2-7.6 2.2 3.4 2.2-5 2.1 2.6 2.2 12.2 2.1-5.6 2 2 2.1 3.4 2-2.7 2 7.6 2-17.9 1.9 10.8 2 9.6 1.9-2.1 1.9 3.1 1.9-1.8 1.8-6.8 1.8 2.9 1.9-3.7 1.8 14.2 1.7-12.6 1.8 .8 1.7 0 1.8 3.9 1.7 6.3 1.7 .5 1.6-.6 1.7-4 1.7 7.4 1.6-10 1.6-6 1.6 1.1 1.6 7.7 1.5-1.5 1.6 15.1 1.5 1.3 1.6-12.7 1.5 4.9 1.5 .6 1.5-.4 1.5 .9 1.4 1.9 1.5 3 1.4 2.3 1.5 1.1 1.4-6.4 1.4 4 1.4-1.7 1.4 10 1.3-19.4 1.4-.7 1.4 15.2 1.3-.8 1.3 1.5 1.3-4 1.4 2.4 1.3 7.6 1.3 10.5 1.2-4.4 1.3 9 1.3-9.2 1.2-16.3 1.3 13.7 1.2-14 1.2 17 1.3-3.4 1.2 9.4 1.2-9.5 1.2 5.1 1.2-11 1.1 1.8 1.2-1.5 1.2 15.5 1.1-13.2 1.2 14 1.1-.3 1.2-21 1.1 24.4 1.1-16.3 1.1-.5 1.1-.7 1.1 8.2 1.1-.5 1.1 14 1.1-13.6 1 8.7 1.1 4.6 1.1-7.4 1-8.9 1.1 8 1-2.9 1 11.9 1.1-2.5 1 1.5 1 8.3 1-1.4 1-4.6 1-10.2 1 17.7 1-4 1-3.6 1 4.2 .9-6.9 1-8.2 .9 3 1 10.2 1 4.1 .9-6.8 .9 1.4 1 20.7 .9-20.9 .9 .7 .9-8.6 1 19 .9-9.6 .9-5.2 .9-1.8 .9 2.6 .9 2.6 .8 8 .9-8.5 .9 20.9 .9-10.9 .8 6.4 .9 .4 .9-12.9 .8 6.6 .9-3 .8 3.6 .9-1.3 .8-8.2 .9 11.6 .8 4.6 .8-13.9 .8 18.1 .9-9.1 .8-3.1 .8 18.9 .8 8.9 .8-25.8 .8 6.7 .8-9.6 .8 21.7 .8-9.3 .8-14.1 .8 2 .7 .5 .8 3.9 .8 3.7 .8 .5 .7 1.7 .8 7.1 .7 7.9 .8 4.3 .8-8.4 .7-3.9 .8 3 .7-8.3 .7-1.9 .8 8.7 .7 5.5 .7-12.8 .8-7.1 .7 5.7 .7 16.6 .7-13.3 .8 16 .7-1.7 .7 5.1 .7-.1 .7-12 .7-4 .7-3 .7 12.7 .7-3.9 .7-.9 .7 6.6 .6-2.4 .7-10.4 .7 11.4 .7-14.6 .7 10.9 .6 .8 .7 1.5 .7 16.2 .6-18.8 .7 19.2 .7-26.4 .6 8.5 .7 10.4 .6-2.6 .7 6 .6-.1 .7-.9 .6 3.8 .6 2.5 .7-12.6 .6 .3 .7-2 .6 21.1 .6 1.7 .6-11.6 .7 7 .6-3 .6 11.1 .6-9.8 .6-7.9 .7 8.5 .6-2.8 .6-6.8 .6 5.8 .6 15.2 .6-4.2 .6 4.9 .6-23.8 .6-3.2 .6 1.1 .6 19.6 .6-17.6 .6 24.5 .5-13.6 .6 10.9 .6-3.8 .6 3.5 .6-5.7 .5-10.5 .6 7.9 .6-3.5 .6 5.8 .5-9.7 .6 .7 .6 5.6 .5-5.4 .6 25.2 .6-4.2 .5-17.6 .6-3.7 .5 19.4 .6-2.5 .5-8.5 .6-3 .5 2 .6 16.7 .5-11.1 .6 14.7 .5-22 .5 11.3 .6 12.7 .5-9.2 .6 10.3 .5-7.1 .5 6.3 .5-5 .6-4.4 .5-9.3 .5 9.1 .6-3.3 .5 13 .5-12 .5 8.8 .5-9.8 .5-1 .6 13.2 .5-10.6 .5 1.6 .5 .8 .5-11.8 .5 17.7 .5-14.6 .5 4 .5 1.4 .5 9.3 .5-8.2 .5 7.9 .5 5.8 .5 2.8 .5-10.3 .5-2.2 .5 13.7 .5-5 .5 14.2 .5-9.8 .4-14.3 .5 12.3 .5 1.4 .5 15.8 .5-9.5 .5-11.6 .4 9.8 .5-12.9 .5 14.1 .5 3.7 .4-11.5 .5 15.4 .5-7.1 .4-11.2 .5 9.4 .5 3.9 .4 .2 .5 .4 .5-.3 .4 4.1 .5-13.4 .4 .7 .5 1.8 .5-5.3 .4 7.9 .5 1.8 .4-1.6 .5-11.8 .4 4.4 .5 11.9 .4-3.1 .5-3 .4 3.9 .5 1.5 .4-8.2 .5 2.2 .4-.6 .4 14.1 .5-10.9 .4-.9"/>
<path d="M723.3 376.3l5.8 5.7 5.5 7.4 5.4 .8 5.2 9.1 5.1-3.2 5 4.3 4.8-6.8 4.6 6.6 4.6-1.4 4.4-1.6 4.3 .3 4.3 4.7 4.1 6.4 4-9.8 3.9 9.2 3.9-5.2 3.8 6.6 3.6-7.3 3.7 8.7 3.5-1.2 3.5-8.4 3.4 3.8 3.3 5.7 3.3 4.5 3.2 8.4 3.1-8.3 3.1 7.3 3.1 6.4 3-9.6 2.9 6.4 2.9-3.3 2.9 17 2.8 2.9 2.7-8.5 2.7 8.4 2.7-4.7 2.7-4.6 2.6 3.1 2.5 6.6 2.5 1.9 2.5 5.4 2.5 7.3 2.4-1.4 2.4-2 2.3-1 2.3 2 2.3-17.6 2.3-1.4 2.2 10.5 2.2-6.3 2.2 13.3 2.1 1.6 2.2-15.5 2.1 3.6 2 14.2 2.1-5.9 2 8.9 2-2.8 2-5.1 1.9 13 2-2.5 1.9 3.8 1.9 7.8 1.9-8.6 1.8-8.3 1.8 9.5 1.9 1.5 1.8 12 1.7 12.9 1.8-18.1 1.7-12 1.8-1.4 1.7-4.2 1.7 4.8 1.6-1.6 1.7-8 1.7 12.8 1.6-9.8 1.6 7.8 1.6 16.7 1.6-12.2 1.5-6.6 1.6 13.9 1.5 8.1 1.6 1.8 1.5-20.3 1.5 14.2 1.5 3.2 1.5 2.6 1.4-10.7 1.5 15.9 1.4-1.4 1.5-.8 1.4-7.2 1.4-9.7 1.4 13.4 1.4 15.3 1.3-13 1.4-16.7 1.4 12.7 1.3 1.7 1.3 1 1.3 8 1.4-15.3 1.3-3.7 1.3 12 1.2 2.9 1.3-15.1 1.3 6 1.2 21.5 1.3-12.2 1.2-5.4 1.2 2.3 1.3-7.1 1.2-5 1.2 4.7 1.2 5.1 1.2 1.4 1.1 10.7 1.2 .6 1.2 2.8 1.1 2.1 1.2-10.6 1.1 9.4 1.2 1.8 1.1 3.3 1.1-3.8 1.1 17.8 1.1-2.5 1.1-.5 1.1-11.1 1.1 5.2 1.1 6.3 1-8.2 1.1-8.9 1.1 3.4 1 8.2 1.1 6.9 1-4.4 1-1.9 1.1-1.7 1 1.5 1-2.3 1 3.8 1 6.6 1-6 1-11.3 1-2 1-9.5 1-2.2 .9 23.6 1 6 .9 .1 1 9.9 1-13.9 .9 .2 .9 .4 1 1.2 .9-6.9 .9 2.9 .9 1.1 1 4.9 .9-14.5 .9 26.5 .9-7.8 .9 3.6 .9-3.6 .8 7.3 .9-.4 .9-4.5 .9-8.7 .8-2.2 .9 9.3 .9-1.8 .8 .8 .9-4 .8 13 .9-2.6 .8 .8 .9 8.7 .8-19.2 .8-3 .8 9.8 .9-2.4 .8 18.5 .8-8.8 .8 3.6 .8 3.5 .8-15.1 .8 12.5 .8 3 .8-6.8 .8-1.7 .8 4.9 .7 4.9 .8 2.9 .8-8.2 .8 5.4 .7 18.1 .8-13.1 .7-8.9 .8-4.6 .8 4.4 .7-3.7 .8 5.9 .7 3.3 .7 4.1 .8-5.6 .7 4.5 .7-9.8 .8 14.7 .7-12 .7 2 .7 4.7 .8-8.6 .7 15.4 .7-12.5 .7 9 .7 .5 .7-9.8 .7-.6 .7 14.1 .7-1.4 .7-1.2 .7-5 .6-4.5 .7-6 .7 19.3 .7-11.3 .7-1.4 .6 19.4 .7-12.4 .7 6.5 .6-9.4 .7 6.4 .7 14.4 .6 .1 .7-12.3 .6-10.7 .7 3 .6 9.7 .7 5.3 .6-8 .6-3.8 .7 1.8 .6 30 .7-20.1 .6-7.6 .6 16.8 .6 2.8 .7 1.6 .6-18.9 .6 6.7 .6-.2 .6-1.6 .7-2.7 .6-3.1 .6 14.8 .6-2.5 .6-12.2 .6 19.2 .6 2.1 .6-2.4 .6-9.1 .6 7.4 .6-13.4 .6 7.9 .6 .3 .5-11.3 .6 1.5 .6 9.8 .6 4.8 .6 7.7 .5 2.8 .6-18.8 .6 8.8 .6-7.4 .5 30.3 .6-18.4 .6-4.1 .5 20 .6-14.9 .6-6.3 .5 .9 .6 17.2 .5-8.4 .6-3.3 .5 4.9 .6-3.3 .5-8.9 .6 5.7 .5 30.2 .6-23.7 .5-3.6 .5 5.1 .6-9.6 .5-15.6 .6 15.7 .5 10.7 .5 .6 .5-7.4 .6 16.6 .5-20 .5 27 .6-18 .5-8.9 .5 17 .5-10.2 .5-3 .5 2.4 .6 3.6 .5-3.7 .5-1.9 .5 14.3 .5 22.5 .5-7.1 .5-3.3 .5-4.5 .5-8.6 .5-14.5 .5 13.2 .5-3.5 .5-1.5 .5 4.2 .5-7.5 .5 3.1 .5 1.2 .5-4.9 .5-1.9 .5 .9 .4-.6 .5 12.5 .5 5.9 .5-.8 .5-1.9 .5 5.2 .4-13.9 .5 7.8 .5-11.8 .5-2.1 .4 4.4 .5 .9 .5 14.8 .4-12.2 .5 15.4 .5 3.5 .4 2.9 .5-5.1 .5 3.7 .4-11.6 .5 20 .4-29.8 .5 29.4 .5-14.1 .4-9.4 .5 7.3 .4 3.7 .5-3.3 .4-10.1 .5 21.9 .4-.4 .5 .5 .4-3.8 .5-8.1 .4 12 .5 1.2 .4-14.6 .4 20.9 .5-3.1 .4 7.5"/>
<path d="M723.3 389.6l5.8-1.7 5.5 .8 5.4-2.4 5.2 11.2 5.1 2.3 5 6.9 4.8 2.5 4.6 6 4.6-4.6 4.4-3.2 4.3-5.2 4.3-6.2 4.1 2.9 4 4.4 3.9 3.7 3.9-.6 3.8 6.8 3.6-.5 3.7-2.6 3.5 .7 3.5 2.8 3.4-1 3.3 1.2 3.3 2 3.2 7.6 3.1-3 3.1 4.2 3.1-2.4 3-6.3 2.9-2.1 2.9 .7 2.9 8.7 2.8 17.5 2.7-12.4 2.7 2.6 2.7 3.2 2.7-5.8 2.6-.2 2.5 .1 2.5 7.2 2.5 1 2.5 5.9 2.4 .1 2.4-1.8 2.3 5.1 2.3 2.6 2.3-10.7 2.3 8 2.2-2.4 2.2-2.8 2.2 6.6 2.1-4.2 2.2 3.1 2.1 1.2 2 3.3 2.1 8.9 2-1.5 2 1.9 2 1.7 1.9-1.9 2-3 1.9-4.7 1.9 22.5 1.9-7.5 1.8 2.1 1.8 3.9 1.9-15.9 1.8 9.6 1.7 2 1.8 10.2 1.7-8.4 1.8 1.2 1.7 8.6 1.7-11.2 1.6-5.6 1.7 20.1 1.7-11.9 1.6 11.1 1.6-6.1 1.6-.2 1.6-3.9 1.5-8.8 1.6-3.3 1.5 3 1.6 10.2 1.5-2.1 1.5 .8 1.5-.9 1.5 14.1 1.4-8 1.5-1.3 1.4 14 1.5-5.6 1.4-4.9 1.4 1.5 1.4 7 1.4-7.5 1.3-12.7 1.4 4.2 1.4 10.8 1.3 4.6 1.3-11.2 1.3 10.9 1.4 1.5 1.3 .4 1.3-9.7 1.2-4.9 1.3 10.9 1.3 4.5 1.2-1.5 1.3 6.6 1.2-8.8 1.2 8.9 1.3-5.1 1.2 7 1.2 8.6 1.2-12.5 1.2-1.1 1.1-.6 1.2-1.7 1.2 7.8 1.1 3.5 1.2-15.5 1.1 20.4 1.2-4.3 1.1-7.7 1.1 2.4 1.1 2.8 1.1 3 1.1 12 1.1-15.5 1.1 12.7 1.1-9.5 1 20.2 1.1-17.7 1.1 7.5 1-6.7 1.1 3.4 1 3.3 1-12.6 1.1 13.5 1-9.1 1 21.7 1-22 1 2.7 1 12 1-21.9 1 12.2 1 1.7 1 16.8 .9-9.7 1 8 .9-15.3 1 1.8 1 .4 .9 5.9 .9-4.8 1 12.8 .9 7.1 .9-24.8 .9-.9 1 8.6 .9 11.4 .9-5.1 .9 1.4 .9 3.2 .9 4 .8-10.3 .9 3.3 .9 5.5 .9-10 .8 13 .9 7 .9-15.8 .8 3 .9-6.8 .8-4.3 .9 18.5 .8 9.2 .9-9.4 .8-11.9 .8 6.7 .8-10 .9-1.5 .8 12.7 .8-9.5 .8 13.6 .8-11.9 .8 16.7 .8 1.7 .8-10.9 .8 16.5 .8-5.9 .8 2.7 .7-9.5 .8-.9 .8 .2 .8 4.9 .7 0 .8-5.4 .7-.4 .8 1.8 .8-4.4 .7 11.5 .8-4.7 .7 7.6 .7 5.9 .8-1.5 .7-9.3 .7 28.2 .8-28 .7-3.5 .7 8.3 .7 1.2 .8-5.2 .7 27.3 .7-7.1 .7-.3 .7-4.1 .7-1.6 .7-1 .7 13.8 .7-10.3 .7 10.9 .7-19.1 .6 10.1 .7 .3 .7-3 .7 3.1 .7-6.3 .6 16.6 .7-9.4 .7-7.1 .6-5.7 .7 8.4 .7-11.4 .6 5.2 .7 14.6 .6-3.5 .7-.3 .6 9.9 .7-10.3 .6-9.3 .6 9.1 .7 1.5 .6 5.4 .7-6.9 .6 10 .6 .3 .6 9.2 .7-10.1 .6-6.6 .6 4.5 .6 4.5 .6-4.1 .7-5.9 .6-2.7 .6 7.6 .6 4.4 .6-1.2 .6-15 .6 3.6 .6-4.3 .6 6 .6 4.3 .6-3.4 .6 4.9 .6-11.1 .5 12.7 .6 4.8 .6 7.5 .6-14.5 .6-5.8 .5 12.4 .6 .8 .6 23.3 .6-23.4 .5 15.5 .6-10.8 .6 12 .5-6.7 .6 17.9 .6-10.4 .5-4.4 .6-7.2 .5 4.4 .6-7 .5 6.5 .6 6.8 .5 2.9 .6-6.3 .5-6.5 .6 5.2 .5 0 .5-10.3 .6 3.7 .5-7.6 .6 18.6 .5-.9 .5-13.5 .5 4.6 .6 8.6 .5 11.5 .5-5.7 .6-16.8 .5 21.3 .5-6.3 .5 7.7 .5-20.3 .5 5.3 .6 1.5 .5-3.3 .5 20.9 .5-15.2 .5 26.2 .5-16.7 .5-2.3 .5-7 .5 7.2 .5 8.7 .5-10.3 .5-5.6 .5 11 .5 7.4 .5-25.8 .5 8.2 .5 15 .5 2.1 .5-6.6 .5-8.2 .4 19.2 .5-9.8 .5 5.9 .5-6.2 .5 .5 .5 .4 .4 .6 .5 4.3 .5-19.1 .5 11.5 .4 9.6 .5 8.5 .5-14.6 .4 9.7 .5-2.6 .5 6.7 .4-5.5 .5 4.9 .5-.4 .4-4.7 .5 3.1 .4-2.9 .5-2.8 .5 7.6 .4 5.2 .5-7.3 .4 5.9 .5-9.2 .4 1 .5 4.3 .4 1.2 .5-20.6 .4 9.6 .5 1.8 .4 3.4 .5-9 .4 5.2 .4 8.5 .5-3.5 .4 4.1"/>
<path d="M723.3 391.4l5.8-4.5 5.5 5.2 5.4 2.1 5.2-3.4 5.1 8.1 5-1.7 4.8-1 4.6-2.9 4.6 20.5 4.4-3.8 4.3-2.6 4.3-1.6 4.1-7.5 4-1.6 3.9 4.6 3.9 6.9 3.8 7.2 3.6-4.6 3.7-4.6 3.5 4.3 3.5 12.3 3.4 6.6 3.3 2.2 3.3-2.2 3.2 2.7 3.1-11.2 3.1 10.9 3.1 2.6 3-12.1 2.9-.5 2.9 1.8 2.9-.9 2.8 3 2.7-5.3 2.7 9.3 2.7-8.1 2.7 18.2 2.6-1.2 2.5 3.7 2.5-15.8 2.5-2.5 2.5 6.1 2.4 2.6 2.4 12.4 2.3 20.4 2.3-8.5 2.3 23.2 2.3-23.7 2.2-15.9 2.2 7.1 2.2 6.8 2.1-10.4 2.2-1.2 2.1 20 2-9.7 2.1-.7 2 18.8 2-9 2-4.7 1.9-2.2 2 3.6 1.9 4.2 1.9 8 1.9 2.7 1.8-16.5 1.8 1.7 1.9 15.8 1.8-13.1 1.7-4 1.8 4 1.7 .4 1.8-19.3 1.7 4.7 1.7-2.9 1.6 4.8 1.7 12.5 1.7 11.9 1.6 7.2 1.6 2.1 1.6-6.9 1.6 4.1 1.5-11.7 1.6-2.1 1.5 1.8 1.6-8.5 1.5 2.3 1.5 5.2 1.5-11 1.5 16.1 1.4 5 1.5-3.8 1.4-3.4 1.5 14.4 1.4-9.6 1.4-9.6 1.4 12.2 1.4 18 1.3-5.6 1.4-5.1 1.4 13.8 1.3-8.7 1.3 3.4 1.3-4.1 1.4 .1 1.3 4 1.3-2.1 1.2-2.3 1.3 11.1 1.3 4.6 1.2-11.3 1.3-.1 1.2-1.3 1.2-1.5 1.3-2.9 1.2 14.1 1.2-4.2 1.2-6.1 1.2 3.6 1.1 12.2 1.2-10.9 1.2-2.5 1.1-2.8 1.2-18.5 1.1 17.9 1.2-1.3 1.1-9.9 1.1 22.2 1.1 2.6 1.1 7 1.1-4.6 1.1 .1 1.1 9.1 1.1-17.9 1-3.9 1.1 32.5 1.1-17.8 1-3.9 1.1-8.7 1-10.9 1-6.9 1.1 23.3 1 12.3 1 12.9 1-4.5 1-1.7 1-.5 1-14.4 1 6.4 1-7.8 1 4.2 .9-2.3 1-18.9 .9 20 1 15.1 1-3.8 .9-12.6 .9 9.5 1 13.1 .9 4.6 .9-5.8 .9-10.5 1 13.8 .9-1.5 .9-8.5 .9 6.9 .9-4.1 .9-4.7 .8 4.2 .9-3.1 .9 9.5 .9-2.5 .8 .5 .9 .1 .9-12.5 .8 14.7 .9 12.5 .8-11 .9-5.2 .8 16.5 .9-14.6 .8 2.3 .8 2 .8-9 .9-3.6 .8 24.6 .8-2.7 .8-19.3 .8 12.6 .8-10.9 .8 3.5 .8 1.7 .8-.8 .8 16 .8-10.4 .7-5.1 .8 22.2 .8-5.4 .8-11.1 .7-6.7 .8 13.9 .7-18.5 .8 19.8 .8 5.5 .7-2.1 .8-5.4 .7-2 .7 8.2 .8-3.5 .7-11.7 .7-8.5 .8 8.9 .7 10 .7-2.2 .7 10.6 .8-8.9 .7 6.4 .7-11.5 .7 22.3 .7-1.1 .7-6.8 .7-9.9 .7-2 .7 7.1 .7-.4 .7 8.1 .6 .3 .7-6.6 .7-4.1 .7 20.3 .7-14 .6 14.7 .7 1.9 .7-7.7 .6 12.3 .7 2.5 .7 7.8 .6-5.2 .7-5.2 .6-10.4 .7-18.7 .6 5.7 .7 4.1 .6 3.9 .6 1.5 .7-17.5 .6 .2 .7 9.3 .6 11.4 .6-16.8 .6 0 .7 20.1 .6-16.1 .6 8.3 .6 1.7 .6 4.8 .7 23.9 .6-14.8 .6-14.4 .6-4.5 .6 8.6 .6-9.9 .6 15.5 .6 7.9 .6-2.2 .6-15.8 .6 .2 .6-13 .6 21.7 .5-14.2 .6 8.3 .6 3.2 .6 14.6 .6-2.3 .5 12.9 .6 .8 .6-15.1 .6-4 .5-2.5 .6 15.3 .6-2.7 .5 7.2 .6-10.6 .6-14.6 .5 1.7 .6 12.1 .5-.7 .6 .6 .5 1.7 .6 13.1 .5-20.9 .6 13.3 .5 12.7 .6 11.2 .5 7.2 .5-26.2 .6 9 .5-16 .6-.8 .5 30.3 .5-22.8 .5-3.8 .6 .3 .5 3.7 .5-17 .6 17.5 .5-5 .5 9.4 .5-12.8 .5 1.4 .5 4.4 .6 6 .5 12.6 .5-10.6 .5 0 .5-9.1 .5 8.6 .5 1.9 .5-15.8 .5 18.7 .5 8.2 .5-.1 .5-5.3 .5 6 .5 2 .5-25.2 .5 17.3 .5-12.6 .5 7.8 .5-8.7 .5-1.7 .4 6.8 .5 2.6 .5 .9 .5-5.4 .5 26 .5-4.7 .4-10.1 .5 5.1 .5 4.6 .5 4.2 .4-24.9 .5 12 .5 0 .4 9.9 .5-4.4 .5 12.4 .4-9.4 .5 4 .5-9.8 .4 3.8 .5-3.7 .4 .5 .5-9 .5 16.2 .4-16.7 .5 1 .4 7.3 .5-5.6 .4 6.4 .5 8.1 .4 11.6 .5-5.3 .4 2.4 .5-7.1 .4 3 .5-2.2 .4-18.8 .4 1.4 .5 44.4 .4-20.8"/>
<path d="M723.3 381.1l5.8 10 5.5-2.8 5.4 1.3 5.2 2.2 5.1-3.4 5 6.1 4.8 1.2 4.6-1 4.6 6.7 4.4 5.6 4.3 3.1 4.3-6.8 4.1 3.8 4 7 3.9-2 3.9 .9 3.8-.5 3.6-.7 3.7 .6 3.5 5.3 3.5-.8 3.4-.5 3.3 7 3.3-1 3.2-8.3 3.1 9.9 3.1-4.4 3.1 2.1 3 2.6 2.9 1.9 2.9 .8 2.9 1.1 2.8 6.5 2.7 1.5 2.7-3.3 2.7 7 2.7 7.6 2.6-2.8 2.5-1.2 2.5-4.1 2.5 2.8 2.5-3.7 2.4 3.1 2.4 7.3 2.3 2.1 2.3 9.7 2.3-11.9 2.3 .9 2.2-1.3 2.2-5.1 2.2 16.1 2.1-9.2 2.2 .4 2.1-1.7 2-10.2 2.1 9.6 2-.2 2 2.4 2 3.2 1.9-3.5 2 3.1 1.9 4.1 1.9-1.7 1.9 2.1 1.8-2.8 1.8 2.3 1.9 8.6 1.8-5.3 1.7 9.9 1.8-4.4 1.7-2.4 1.8-2.1 1.7-1.8 1.7 1.3 1.6 7.6 1.7-16.1 1.7 9.7 1.6 5.2 1.6 6.6 1.6-11.5 1.6 10.7 1.5 .1 1.6 .3 1.5 1.8 1.6 9.7 1.5-6.6 1.5-13.1 1.5 18.2 1.5-.8 1.4 7.1 1.5-4.2 1.4 4.5 1.5 .3 1.4-6 1.4 5.4 1.4-5.6 1.4-.3 1.3 17.2 1.4-20.6 1.4-2 1.3 11.9 1.3 7 1.3-13.8 1.4-1.3 1.3 1.4 1.3 6.1 1.2-1.9 1.3-1.9 1.3-2.2 1.2-5.5 1.3 19.7 1.2-16 1.2 12.8 1.3-2.6 1.2 1.2 1.2-6.9 1.2 10.5 1.2-9.4 1.1 8.4 1.2-1.4 1.2 10.7 1.1-8.4 1.2 8.3 1.1-2.2 1.2-5.6 1.1 3.3 1.1-9.6 1.1 15.1 1.1-4.6 1.1-4.1 1.1 3.9 1.1 2.2 1.1 .1 1 8.7 1.1-13 1.1 12.9 1 2.1 1.1-3.8 1 2.6 1-9.7 1.1 5.5 1 .5 1 9 1-3.6 1-2.7 1 14.9 1-18.4 1-2.3 1-7.2 1 26.7 .9-14.3 1-1.8 .9-4 1 2.2 1-7.8 .9-5.8 .9 16.2 1 4.4 .9 8.7 .9-2.4 .9-2.5 1 3.4 .9 3.3 .9-4.7 .9 1 .9 10.8 .9-9.9 .8 5 .9-.8 .9 12.3 .9-16.3 .8 1 .9 1.9 .9-1.4 .8 2.6 .9-3.5 .8 18 .9-6.4 .8-13.8 .9 3.8 .8 .2 .8-3.6 .8 12.8 .9 11.6 .8-6.8 .8-5.2 .8-13.6 .8 4.2 .8 3.1 .8-7.8 .8 16.2 .8-12.4 .8 11.3 .8-1.9 .7-6.1 .8 16.7 .8 1.9 .8-8.3 .7 3.2 .8-4.1 .7 1 .8 .2 .8-1.7 .7 9.6 .8 5.9 .7-15 .7 20.6 .8-11.2 .7-11.8 .7 6.9 .8-5.4 .7 1.5 .7-1.4 .7 14.3 .8 10.7 .7-11.9 .7-9.2 .7-7.1 .7 15.1 .7 8.1 .7-4.9 .7 8.8 .7 1.1 .7-14.6 .7 4.9 .6 2.6 .7-4.4 .7-5.7 .7 5 .7-1.5 .6 17.6 .7-19.7 .7 11.5 .6 7.9 .7 2 .7 6.1 .6-18.4 .7-13.9 .6 24.2 .7-13.8 .6 16 .7-4.5 .6-1.6 .6-3.6 .7 19.1 .6-24.5 .7 13.5 .6 0 .6-4.7 .6 .3 .7-4 .6 7.7 .6-.2 .6-2.2 .6-8.6 .7 11.5 .6-2.8 .6-2.7 .6 9.7 .6-.5 .6-5.5 .6 2.3 .6-.2 .6 8.1 .6-1.4 .6 .8 .6-6.2 .6 18 .5-15.9 .6 13.5 .6-10.9 .6 28.1 .6-35.9 .5 15.1 .6-8.5 .6-8.2 .6 6.3 .5 13.7 .6-8 .6 8.7 .5-6.6 .6-7.6 .6-.3 .5 30.6 .6-35.4 .5 18.8 .6-4.8 .5 16.7 .6-8.8 .5-11.9 .6-2.6 .5 25.6 .6-8.3 .5-1.8 .5 3.4 .6-9.8 .5 8.6 .6 2.3 .5-4.8 .5 6.2 .5-16.6 .6 6.3 .5 12.1 .5-7 .6-9 .5 .3 .5 14.3 .5-2.5 .5-3.4 .5 2 .6 5.7 .5-7.3 .5-4.3 .5 17.1 .5-14.1 .5 9 .5 .2 .5-14.4 .5 7 .5-6.7 .5 26.9 .5-24.8 .5 19 .5-4.3 .5-12.4 .5 4.5 .5 4.4 .5-13.1 .5 9.7 .5 8.7 .4 8.7 .5 6.6 .5-14.7 .5 4.6 .5-8.9 .5 .6 .4-3.1 .5 4.4 .5 10.9 .5-10.1 .4 9.7 .5 18 .5-19.1 .4 1.8 .5 10.4 .5-27.2 .4 23.4 .5-9.6 .5-3.2 .4 13.9 .5-10 .4 8.2 .5-9 .5 16 .4-10 .5-11.2 .4-2.3 .5 15.1 .4 .8 .5-10.3 .4 10.5 .5-14.9 .4 11.7 .5-2.9 .4 6.6 .5 4.2 .4-13 .4 6.1 .5-5.5 .4-4.7"/>
<path d="M723.3 388l5.8 2.7 5.5 12.4 5.4-7.8 5.2-6.5 5.1 9.2 5 2.3 4.8 3.4 4.6 .4 4.6-4.3 4.4 8.5 4.3 2.9 4.3 1.3 4.1 11.4 4 4.3 3.9-6.2 3.9-8.2 3.8 6.6 3.6-5.2 3.7-2.6 3.5 9.6 3.5 1.6 3.4-5.8 3.3 5.1 3.3 11.4 3.2-8.2 3.1 .9 3.1-1.8 3.1-3.7 3-.9 2.9 12.3 2.9-1.6 2.9-3.6 2.8-4.1 2.7 2.3 2.7-3.9 2.7 12.2 2.7-5.2 2.6 10.4 2.5-10.4 2.5-7.8 2.5 12 2.5-3.5 2.4-2.2 2.4 10.6 2.3-.2 2.3-9.2 2.3 2.5 2.3 9.1 2.2-4 2.2 14.7 2.2 6.9 2.1-8.7 2.2 6.7 2.1 7.3 2 .4 2.1-3.5 2-8.9 2 5.3 2 3.1 1.9-.3 2-.6 1.9 4.6 1.9-9.1 1.9 .8 1.8 4 1.8-1.6 1.9 7.3 1.8 .5 1.7-8.8 1.8 6 1.7-9.1 1.8 1.7 1.7 .6 1.7 13.3 1.6-5.9 1.7 4.2 1.7-3.9 1.6-1.7 1.6 6.5 1.6-5.5 1.6 3.1 1.5-3.4 1.6 3.7 1.5 1.8 1.6 1 1.5 5.7 1.5 4.1 1.5-3.7 1.5-3.1 1.4 11.7 1.5-6.6 1.4 6.2 1.5-4.4 1.4 15.9 1.4-18.3 1.4 4 1.4-.4 1.3 .1 1.4 1.9 1.4-8.9 1.3 10.9 1.3 7 1.3 7.9 1.4-9.9 1.3-2.3 1.3 1.9 1.2 11 1.3-2.8 1.3 7.5 1.2-11.5 1.3 4.4 1.2-7.1 1.2-4 1.3 10.1 1.2-10.2 1.2 2 1.2 9.4 1.2 1.9 1.1-17.9 1.2 10 1.2 .5 1.1-.8 1.2 5 1.1-1 1.2 6.8 1.1-2.5 1.1 1.5 1.1 10.4 1.1 1 1.1 5 1.1-8.6 1.1-15 1.1 4.9 1 6.4 1.1 2.7 1.1-13 1 21.3 1.1-10.4 1-4.4 1-4.3 1.1 12.7 1-5.4 1 15.2 1-8.9 1-.7 1 16.5 1-16.9 1-3.1 1 9 1-13 .9-.7 1 13.8 .9-11.7 1 19.5 1-11 .9 2.2 .9-18.7 1 18.5 .9 5 .9 9.8 .9-12 1 4.3 .9 5.8 .9 3.9 .9-13.7 .9 6.8 .9-2.7 .8-1.8 .9 8.3 .9-11.7 .9 8.1 .8 20.5 .9-10 .9-15.1 .8 21.9 .9-15.2 .8-9.3 .9-1.1 .8 18.9 .9-5.3 .8-7.3 .8 9.6 .8-3.4 .9 .9 .8-1.2 .8 0 .8 6.8 .8-6.7 .8-2.7 .8 3.4 .8 5.4 .8-3.6 .8 11.6 .8 2 .7-21 .8 18.7 .8-9.4 .8 14.4 .7-5.4 .8-4.5 .7 3.9 .8-11.1 .8-5.9 .7 11.2 .8-1.7 .7-6.9 .7 20.4 .8-13.1 .7 7.3 .7 8.5 .8-1.3 .7-3.5 .7 1.3 .7 3.8 .8 8.6 .7-12.8 .7 8 .7-17.6 .7 9.1 .7-8.5 .7 9.6 .7-1.6 .7 5.1 .7 13.9 .7-8.5 .6 2.2 .7-8.7 .7 1 .7-3.1 .7 11.9 .6 4.6 .7-13 .7 6.1 .6 7.7 .7 .4 .7 1.8 .6-16.9 .7 15.9 .6-2.6 .7 16 .6-10.7 .7 16.3 .6-11 .6-17.8 .7 1.2 .6 5.6 .7-2.3 .6 3.3 .6-9.2 .6 1.4 .7 8 .6-8.3 .6 4 .6-4.6 .6-2.5 .7 7.5 .6 9.7 .6-8.9 .6 .2 .6 9.9 .6 1.8 .6-18.2 .6 8.1 .6-3.9 .6 42.5 .6-41 .6 3.3 .6 7.8 .5-5.6 .6 12.4 .6-4.9 .6-6.4 .6-4.1 .5 11 .6-11.1 .6 36.5 .6-11.4 .5-13.2 .6 .2 .6 17.7 .5 .4 .6-12 .6 4.3 .5-9.3 .6 12.8 .5-19.5 .6 38.9 .5-17.8 .6-9.1 .5 24.4 .6-23.9 .5-3.7 .6 6.5 .5-16.3 .5 1.5 .6 16.5 .5-3.1 .6-2.5 .5 4.8 .5-3.3 .5 6.6 .6 7.1 .5 7.3 .5-24.1 .6 4 .5-1.6 .5-7 .5 9.2 .5 6.7 .5-5.1 .6 13.5 .5 1.8 .5-2.9 .5 15.4 .5-18.6 .5-.2 .5 7.9 .5-2.3 .5-3.8 .5-9.9 .5 6.4 .5-6.8 .5 12.5 .5 2.8 .5-9.3 .5 6.9 .5-1.9 .5-4.5 .5 13.3 .5-7.4 .4 13.1 .5 2.3 .5 4.1 .5-17.8 .5 1.2 .5 2.4 .4 6.9 .5 .4 .5 7.9 .5-11.4 .4 7.1 .5-2.7 .5 13.8 .4-14.5 .5-11.8 .5 .5 .4 3.9 .5 1.2 .5 1 .4-9.1 .5 3.7 .4-4.9 .5 3.5 .5 7.4 .4 4.1 .5-8.2 .4 3.1 .5 1.9 .4-3.2 .5-8.2 .4 16.1 .5-6.1 .4 15 .5-4.9 .4 10.1 .5-10 .4-.4 .4-11.7 .5-8.9 .4 4.4"/>
<path d="M723.3 385l5.8-1 5.5 2 5.4 5 5.2-1.2 5.1 3 5 2.5 4.8 1.6 4.6-3.8 4.6 6.6 4.4 3.7 4.3 5.2 4.3-1.1 4.1-1.4 4-.4 3.9 .5 3.9-1.7 3.8 6.5 3.6 1.8 3.7 .9 3.5 5 3.5-.2 3.4 7.8 3.3-3.8 3.3 1.9 3.2-11.2 3.1-3 3.1 14.3 3.1-.2 3-1.9 2.9 2.4 2.9 6.8 2.9-3.9 2.8 4.5 2.7-.6 2.7-6.4 2.7 .7 2.7 8.4 2.6 2.8 2.5-5.9 2.5 9.8 2.5 0 2.5 7.1 2.4-13.7 2.4-3.8 2.3 11.7 2.3 6.4 2.3-4.8 2.3 4.5 2.2-5.7 2.2-10.1 2.2 7.5 2.1 7.6 2.2 5 2.1 .1 2-5.9 2.1 .5 2-1.4 2-3.9 2-1.3 1.9 11.2 2 4.1 1.9 4.4 1.9-9.7 1.9 4.4 1.8 .1 1.8 0 1.9-3 1.8 10.2 1.7 5.2 1.8 1.2 1.7-11.5 1.8 5.9 1.7 2.8 1.7-1.8 1.6 .3 1.7-3.4 1.7-1.4 1.6-5.6 1.6 11.5 1.6-1.6 1.6-1.6 1.5 10.3 1.6 2.5 1.5-1.3 1.6-2.6 1.5 6.8 1.5-4.5 1.5 13.2 1.5 4.8 1.4-11.8 1.5 5.3 1.4-11.3 1.5 8.5 1.4-2.2 1.4 3.1 1.4 5.5 1.4-10 1.3 9.1 1.4-8.1 1.4-1.6 1.3 14 1.3-5.6 1.3 5.6 1.4-14.4 1.3 4.2 1.3 8.1 1.2-4 1.3 2.3 1.3-2.8 1.2 4.1 1.3-7.7 1.2 6.9 1.2 9.1 1.3-6.9 1.2 .6 1.2 8.2 1.2 7.1 1.2-7.6 1.1-4.5 1.2 10.5 1.2 1.4 1.1-14.7 1.2 2 1.1 7.2 1.2-5.8 1.1 3.8 1.1-2.4 1.1 4.2 1.1-3 1.1 1.3 1.1 7.2 1.1-1.3 1.1 1 1 7.2 1.1-3.7 1.1-8.3 1-1.5 1.1 7.4 1 6.2 1-18.3 1.1 18 1 6.2 1-16.5 1 21.9 1-18 1 12.3 1-17.5 1 23.8 1-4.8 1-5.3 .9 7.3 1-6.8 .9 4.5 1-.5 1 7.8 .9 7.6 .9-17.9 1-4.5 .9 8.1 .9-8.1 .9-1.2 1 2.7 .9-3.1 .9 9.2 .9 2.6 .9 6.1 .9-15 .8 9.5 .9-.9 .9 1.5 .9-.1 .8-6.8 .9 14.6 .9-1.1 .8-12.4 .9 14.8 .8-6.5 .9-5.3 .8-1.3 .9-1.9 .8 10.7 .8 8.1 .8-24 .9 9.2 .8 1.3 .8 13.3 .8-8.7 .8-2.1 .8 9.6 .8-12.6 .8 16 .8-8.5 .8 3.1 .8-7.7 .7 12.5 .8-2 .8-5.2 .8 10.7 .7-6.9 .8-.3 .7-3.4 .8-5.1 .8 6.5 .7 .6 .8 7.9 .7-1.6 .7 10.5 .8-4.8 .7-9.5 .7 20.9 .8-26.3 .7 11.4 .7-10 .7 8.1 .8-6 .7 14.2 .7-3.7 .7 7.8 .7-1.8 .7-12.9 .7 14.7 .7 9.3 .7-1.9 .7 20.6 .7-22.1 .6-8 .7 2.6 .7 .7 .7-7.7 .7 18.3 .6-5.3 .7 5.2 .7 1 .6-2.8 .7-6.1 .7-2.7 .6 7.1 .7-8.3 .6-3.5 .7 13.9 .6 11.8 .7-.1 .6-16.8 .6 6.8 .7 1.3 .6 .7 .7-.7 .6-19 .6 39.3 .6-22.3 .7-5.1 .6 4.4 .6-6 .6 7.5 .6 27.7 .7-33.6 .6 13.1 .6 .4 .6-4.7 .6 1.8 .6-3.2 .6 10.7 .6-7.8 .6 .2 .6-3.1 .6 2.4 .6-8.8 .6-1.8 .5 7.3 .6 21.9 .6-16.9 .6-2.1 .6 16.1 .5-7.1 .6-12.9 .6 13.5 .6-3.7 .5-2.8 .6 14.7 .6 4.5 .5-12.4 .6 2.6 .6 1.4 .5-6.3 .6 1.4 .5-1.3 .6-10.1 .5 12.7 .6-2.9 .5 10.2 .6 3 .5-6.1 .6 .3 .5-3.7 .5 4.4 .6-3 .5 6.2 .6 7.9 .5-3 .5-4.9 .5 3.8 .6 23.5 .5-20 .5 4.4 .6 32.9 .5-40.7 .5 7.5 .5-1.6 .5 8.6 .5-13.3 .6-1.7 .5-4.1 .5-.3 .5 6.6 .5 4.2 .5-8.6 .5-2.2 .5 13.5 .5-3.7 .5 .5 .5 4.4 .5 10.1 .5 4 .5-25.5 .5 10.5 .5-24.8 .5 14.5 .5-4.4 .5 5.3 .5 4.6 .4-2.3 .5 15.1 .5 25.4 .5-30.3 .5 .7 .5-8.7 .4 4.8 .5-1.3 .5 12.2 .5-14.6 .4 1.5 .5-1.2 .5 6.3 .4 4.1 .5 1.9 .5 1 .4 7.1 .5-3.1 .5-4.4 .4-2.9 .5-3.7 .4 4.2 .5 3.6 .5-5.5 .4 18.8 .5-9.4 .4-6.9 .5 7.6 .4 .9 .5-10.5 .4-1.1 .5 7.1 .4-7.8 .5 2.4 .4 7 .5 9.5 .4-11.8 .4-16.4 .5 18.3 .4-8.2"/>
<path d="M723.3 380.4l5.8 7.5 5.5-4.6 5.4 7.6 5.2 3.3 5.1 1.6 5 3.8 4.8-7.7 4.6 2.5 4.6 16.1 4.4-5 4.3 1.1 4.3 3.7 4.1 5.1 4-4.9 3.9 6.9 3.9-5.6 3.8 .9 3.6 1.3 3.7-6.6 3.5 1.3 3.5 6.9 3.4-1.2 3.3 3.9 3.3 2.6 3.2-4.2 3.1 8.7 3.1 3.9 3.1 2.5 3-11.2 2.9 .4 2.9 0 2.9-3.2 2.8-3.5 2.7 2.1 2.7-.1 2.7 .6 2.7 10.7 2.6 4.1 2.5 3.9 2.5 1.1 2.5 12 2.5 .6 2.4-6 2.4 2.2 2.3 .8 2.3 4.6 2.3-5.6 2.3-2.4 2.2-5 2.2 20.2 2.2-10.4 2.1-6.2 2.2 4.6 2.1 1.3 2 6.7 2.1-4.5 2-1.4 2 13.5 2-.1 1.9-.9 2-2.3 1.9 4.3 1.9 .3 1.9 .6 1.8 8.4 1.8-10.3 1.9-5.1 1.8 7.7 1.7 .4 1.8-2.4 1.7 2.6 1.8 2.8 1.7-3.8 1.7-9.1 1.6 15.5 1.7-6.4 1.7 3.2 1.6-4.1 1.6 7.8 1.6 10.8 1.6-5.7 1.5-6.9 1.6 4.3 1.5-13 1.6 6.8 1.5 1 1.5 5.1 1.5 6 1.5 7.6 1.4-12.6 1.5 5.3 1.4-.5 1.5 2.6 1.4 4.4 1.4 1.6 1.4 3.1 1.4-16.9 1.3 19.9 1.4 .3 1.4 10.4 1.3-14.2 1.3-7.7 1.3-3 1.4 11.3 1.3-8.3 1.3 8.8 1.2 5.4 1.3-15.4 1.3 7.7 1.2 3 1.3 10.4 1.2-5.8 1.2-11.9 1.3 7.2 1.2 6 1.2-17.7 1.2 18.2 1.2 4 1.1 11.6 1.2-10.6 1.2 10.8 1.1-12.1 1.2-4.3 1.1 6.2 1.2-.1 1.1 1.9 1.1 1.6 1.1-11.9 1.1 3.9 1.1 7.8 1.1 3 1.1-3.5 1.1 8.7 1-10.6 1.1-9.5 1.1 14.1 1-7.9 1.1 1.2 1 2.1 1 8.8 1.1-11.5 1-.9 1 11 1 10.6 1-8.3 1 .2 1-2.1 1 3.2 1 3.7 1-12.1 .9 13.7 1-4.5 .9 7.6 1-19.1 1 13 .9 1.1 .9-12.3 1 3.8 .9 .3 .9 1.3 .9 5.6 1 6.7 .9-9.7 .9 1.9 .9-4.8 .9-1.7 .9 2.1 .8-2.6 .9 5.3 .9 21.6 .9-.9 .8 11 .9-17.1 .9-2 .8-7.8 .9-1.5 .8 .5 .9 2.3 .8 19.2 .9-6.7 .8-1.3 .8 6.2 .8-.6 .9-7.1 .8-.7 .8-3.4 .8 18.7 .8-11.6 .8 17.5 .8-3.9 .8-19.5 .8-.3 .8 1.5 .8 10.6 .7-11.8 .8 15.7 .8-3.1 .8-16.7 .7 13.1 .8-4.3 .7 14 .8-7.7 .8-6.1 .7 5.5 .8 2.3 .7-12 .7 18.9 .8-2.5 .7-1.9 .7-3.6 .8 2.1 .7 18.4 .7-9.2 .7-10.4 .8 23.5 .7-3.6 .7-11 .7 8.8 .7-7.1 .7 3.8 .7-2.5 .7 3.7 .7 5.3 .7-2.7 .7-9.9 .6 3.7 .7-18.1 .7-5.9 .7 22.1 .7 10.7 .6-1.6 .7-17.6 .7 9.9 .6 7.1 .7 3.8 .7-16.8 .6 21.8 .7-25.9 .6 17.1 .7 8.5 .6-8.3 .7 7.7 .6-12.1 .6 4.9 .7 15.7 .6-5.1 .7-16.8 .6 24.2 .6-24.3 .6 8.9 .7 2.6 .6-12 .6 8.8 .6-3.1 .6 11.3 .7-5.4 .6-11.5 .6 15.4 .6-.3 .6-9.2 .6-4.5 .6 10.2 .6-7.7 .6 6.6 .6-8.6 .6 15 .6-7.9 .6-5.6 .5 26.2 .6-17.6 .6 13.9 .6-2.9 .6-11.7 .5 11.2 .6 7.6 .6 1.5 .6-5.8 .5-2.9 .6 8.1 .6-4.1 .5 8.2 .6-12.2 .6-2.5 .5 12.7 .6-12.8 .5 24.6 .6-6 .5-4.1 .6-1.2 .5-7.5 .6 2 .5 .8 .6-3.3 .5-1.3 .5 2.7 .6-1.2 .5-3 .6 8.5 .5-5.9 .5 10.8 .5-.4 .6 5.8 .5-8.6 .5 20.4 .6-7.4 .5-1.7 .5-15.3 .5 15.5 .5 3.8 .5-5.6 .6-2.1 .5-7.2 .5 1.5 .5 11.6 .5-24.4 .5 10.2 .5 2.1 .5 3.5 .5-5.8 .5-5.2 .5 17.3 .5-17 .5 17.1 .5 0 .5-7.9 .5-6.2 .5 5.7 .5 1.1 .5-1.9 .5-2.6 .4-1.1 .5 2.5 .5 5.8 .5-5.4 .5 1.8 .5 10.3 .4-6.4 .5 6.4 .5-2.3 .5 2.3 .4-8.6 .5 .8 .5 14.4 .4 7.2 .5-15.6 .5-13.8 .4 4.9 .5 18.2 .5-18.2 .4 29.3 .5-12.9 .4 13.4 .5 3.3 .5-1 .4-25.5 .5 17.5 .4-5.4 .5 6.9 .4 1.5 .5-18.8 .4 2.7 .5 6.9 .4 14.9 .5-10.9 .4 16.1 .5-1.4 .4 14.5 .4-15.3 .5-18.1 .4 21.3"/>
<path d="M723.3 392.9l5.8-5.4 5.5-3.6 5.4 10.3 5.2-11.4 5.1 10 5-6.1 4.8 11.7 4.6-7.7 4.6 6.4 4.4 9 4.3-.7 4.3-1.4 4.1-1.4 4 3.8 3.9 6.9 3.9-10.4 3.8 6.7 3.6 3.9 3.7 7.9 3.5-13 3.5 6.9 3.4 19.8 3.3-5.6 3.3-3.7 3.2-4.8 3.1-1.6 3.1 6.2 3.1-8.9 3 .3 2.9 6.8 2.9 4.1 2.9 6.1 2.8 2.2 2.7-7.6 2.7 6.2 2.7 5.3 2.7-7.2 2.6 8.4 2.5 4.4 2.5-1.7 2.5-.5 2.5 6.8 2.4-13 2.4 12.5 2.3 8.6 2.3-.7 2.3-14.9 2.3 8.8 2.2-5.7 2.2-8.6 2.2 7.8 2.1-.4 2.2 3.5 2.1-7.7 2 8 2.1-4.9 2 2.4 2 19.2 2-8.2 1.9-10.9 2 13.2 1.9 16.2 1.9-1.1 1.9-15.4 1.8 19.6 1.8-3.4 1.9-4 1.8-6.6 1.7-25 1.8 17.7 1.7 9.1 1.8-4.4 1.7 3.8 1.7 7.8 1.6-6 1.7-2.7 1.7 25 1.6-10.6 1.6-23 1.6 3.5 1.6-4.7 1.5 24.7 1.6-3 1.5 .5 1.6-6 1.5 1.8 1.5 15.4 1.5-30.7 1.5 24.9 1.4 .7 1.5 .2 1.4-2.2 1.5-3.7 1.4-.1 1.4 8.7 1.4-7.5 1.4-7.2 1.3 9.2 1.4 10.3 1.4 3.8 1.3-.4 1.3-7.7 1.3 6.7 1.4-18.6 1.3 12.2 1.3 6 1.2-2.5 1.3-14.1 1.3 3.6 1.2 1.6 1.3 7.3 1.2-.6 1.2 7.8 1.3-14.6 1.2-5.3 1.2 10.7 1.2 6.9 1.2-2.9 1.1 .4 1.2 6.9 1.2-7.6 1.1-3.6 1.2 14.5 1.1-13.9 1.2 16.3 1.1 21.3 1.1-8.8 1.1-17.5 1.1 8.1 1.1-7.5 1.1-2.3 1.1-2.4 1.1 5.3 1 2.4 1.1 3.4 1.1 .4 1 2.7 1.1-11.2 1 13.5 1-6.7 1.1-1.5 1 0 1-8.6 1 9.7 1-2 1 8.4 1-13.6 1 7.3 1 14.6 1-23.5 .9 20.2 1-6.4 .9-.3 1 13.3 1 6 .9-14.9 .9 9.1 1-12.5 .9 11.6 .9-1 .9 7.4 1-10.1 .9 14.3 .9-12.4 .9 .8 .9 11.9 .9 1.1 .8 7.5 .9 6.2 .9-13.4 .9 .9 .8-.5 .9-22.3 .9 10.3 .8 10.8 .9-14.6 .8-5 .9 8.9 .8 3.7 .9 12.9 .8-9.5 .8-10.4 .8 8.3 .9 12.1 .8-2.5 .8-9.7 .8 3.2 .8 3.9 .8 4.3 .8-14.8 .8 4.7 .8 1.1 .8 7.1 .8 1 .7-3 .8 13.1 .8-5.8 .8-6.7 .7 16.3 .8-14.9 .7 10.8 .8-13.8 .8 12.1 .7 1.9 .8-1.3 .7-12.9 .7 14.4 .8-19.4 .7 16.7 .7-16.6 .8 35.3 .7-24.3 .7-2.3 .7 6.5 .8 11.5 .7-14.6 .7 19.9 .7-3.2 .7-.2 .7-.3 .7-11.6 .7 9.5 .7 12.6 .7-.5 .7 2.3 .6-11.7 .7-3.7 .7 4.3 .7-15 .7 5.1 .6-8 .7 10.4 .7 5.5 .6 10.9 .7-6.1 .7 18.1 .6-20.1 .7 1.9 .6-14.6 .7 7.6 .6 9 .7 14.9 .6-5.9 .6-.3 .7 6.8 .6-22.3 .7 25.3 .6-11.4 .6-14.2 .6 13.2 .7-7.7 .6-6.7 .6 14.2 .6 6.2 .6-12.5 .7 13.1 .6 14 .6-30.3 .6 .3 .6 1.6 .6 4 .6 .9 .6 13.9 .6-10.2 .6 19.6 .6-16.5 .6-16.1 .6-.4 .5 7.2 .6 19.7 .6-.8 .6 2.2 .6-3.9 .5-7.4 .6 8.3 .6-26.1 .6 9.9 .5-.7 .6 11.1 .6 16.9 .5-2.6 .6-9.9 .6 11.4 .5-11.2 .6-10.4 .5 7.3 .6-7.6 .5 20.4 .6 11 .5-27.7 .6 12.2 .5-8.3 .6 10.4 .5-2.7 .5 13.7 .6-8 .5-7.7 .6 .8 .5 2.2 .5 14.6 .5-3.6 .6-12.6 .5 5.1 .5 6.3 .6-15 .5 3.1 .5-9.3 .5 2.3 .5 9.1 .5 10.3 .6 8.5 .5-18.4 .5-2.4 .5 21.8 .5-14.8 .5-14.4 .5 16.1 .5 12.1 .5-7.7 .5 3.8 .5-4.3 .5-5.7 .5-2.5 .5 5.5 .5 8.9 .5-11.3 .5-10.5 .5 31.3 .5-14.4 .5-1.6 .4 24.5 .5 9.7 .5-16.2 .5-13.7 .5-6.1 .5-4.5 .4 5.8 .5 19.5 .5-22.3 .5 18.3 .4-13.4 .5 7.1 .5 7.7 .4-10.3 .5-.4 .5 22.4 .4 2.3 .5-15.8 .5-13.1 .4 11.3 .5 22.1 .4-25.3 .5 1.2 .5 1.3 .4-11.9 .5 14.1 .4 10.2 .5-30.8 .4 19 .5-2.8 .4-11.3 .5 19.7 .4-11.7 .5-1.6 .4 9.6 .5-5.8 .4 11.8 .4-11.7 .5-9.6 .4 15"/>
<path d="M723.3 394.1l5.8 5.6 5.5 1.6 5.4 9.5 5.2 1.9 5.1 16.6 5-1.8 4.8-5.9 4.6 5 4.6 .1 4.4-3.3 4.3-5 4.3 7.2 4.1 2.7 4-18 3.9 10.7 3.9 4.7 3.8 1.5 3.6-7.5 3.7-4.6 3.5-3.6 3.5-1 3.4 10.1 3.3-2.4 3.3 18.4 3.2-2.3 3.1-11 3.1 7.3 3.1 26.1 3-3.6 2.9-22 2.9-2.1 2.9 8.2 2.8 1.4 2.7-6.3 2.7 1.6 2.7-2.1 2.7 12 2.6-3.3 2.5 9.6 2.5-9.4 2.5 12.5 2.5-7.6 2.4-18 2.4-1 2.3 11.5 2.3-1.5 2.3-1.4 2.3-3.2 2.2 10.6 2.2 5.7 2.2 10.9 2.1-22.9 2.2 .2 2.1 12.2 2 1.2 2.1 3.5 2 6.3 2-14.7 2 15.4 1.9 1 2-9.3 1.9 6.9 1.9 .1 1.9-7.1 1.8 8.1 1.8 8 1.9-5.1 1.8-7.2 1.7 2.4 1.8-5.7 1.7 2.3 1.8 11.9 1.7 4.4 1.7 3.6 1.6-15.9 1.7 5.3 1.7 19.6 1.6-10.7 1.6 3.3 1.6-3.3 1.6 4.7 1.5 6.4 1.6-5.8 1.5-8.2 1.6 20.4 1.5-18.8 1.5 5.4 1.5 5.1 1.5 8.4 1.4-13.4 1.5-13.1 1.4 3.8 1.5 16.8 1.4 2.1 1.4-16.9 1.4 14 1.4 3.1 1.3-9.4 1.4 10 1.4-14 1.3 1.2 1.3 2.9 1.3 4.1 1.4 3 1.3 3.5 1.3-11.6 1.2 3 1.3 6.3 1.3 17.3 1.2-8.9 1.3 14.3 1.2-7.7 1.2-7.7 1.3-7.8 1.2 2.1 1.2-3.8 1.2 7.9 1.2 16 1.1-10.6 1.2 9.5 1.2-16 1.1 16.3 1.2-6.1 1.1 6.6 1.2-.2 1.1-6.9 1.1-1.4 1.1 3.7 1.1 .1 1.1-4.3 1.1-1.3 1.1 5.9 1.1 5.8 1 10.2 1.1-5.8 1.1-14.6 1 9.7 1.1 6 1-7 1 3.4 1.1 7.3 1-4.9 1-3 1 1 1-6.1 1 8.8 1-1.4 1-2.3 1 14.8 1-17.7 .9 19 1-13.8 .9 2.1 1 3.6 1 9.4 .9-15.4 .9 2.2 1 15.2 .9-17 .9 10.7 .9-10.8 1 4.6 .9-14.1 .9 17.9 .9-.2 .9-.3 .9 14.3 .8-21.3 .9 16 .9-3.1 .9 16.2 .8-20.4 .9-5.9 .9 11.6 .8-15.6 .9 8.7 .8-.6 .9 10 .8-.4 .9-.6 .8 8.3 .8 7.6 .8-1.3 .9-30.2 .8 4.6 .8 13.7 .8-.6 .8-18.8 .8 16.8 .8 14.9 .8-7.7 .8-.8 .8-13.9 .8 6.3 .7 7 .8 10.2 .8 8.6 .8-11.8 .7-3.4 .8-3.9 .7 9.7 .8-1.2 .8-6.1 .7-4.2 .8 14.6 .7 8.5 .7-7.5 .8 3.9 .7 1.1 .7-6.2 .8 5.1 .7-11.3 .7-2.2 .7-1 .8 8.5 .7 7 .7-4.2 .7 3.9 .7-10.3 .7-8.1 .7 9.9 .7 1.8 .7 7.8 .7 7.6 .7-5.7 .6 17 .7-6.4 .7 7.4 .7-21 .7-6.4 .6 2 .7 12.2 .7-4.9 .6-3 .7 .8 .7-5.2 .6-3.6 .7 18.8 .6-12.2 .7-7.5 .6 6.2 .7-4.5 .6 14.1 .6-5.4 .7-7.6 .6 5.4 .7 3.7 .6 1.1 .6-5 .6-.2 .7 5.9 .6 6.1 .6 10.5 .6-10.4 .6 9.2 .7-4.1 .6 13.1 .6-.6 .6 4.2 .6-12.5 .6-18.4 .6-2.6 .6-3.1 .6 21.8 .6 1.4 .6-5.7 .6 12.4 .6 13.8 .5-6 .6-14 .6-5.2 .6-2 .6 11.8 .5-1.4 .6-13 .6 32.4 .6-14.5 .5-13.9 .6-1.4 .6 6.6 .5 8.9 .6-4.5 .6 0 .5 15.7 .6-21.5 .5 1.9 .6 1.5 .5 5.2 .6 18.7 .5-9.6 .6-18.1 .5 13.9 .6 1.6 .5-1 .5-.6 .6 11.4 .5-7.5 .6 4.7 .5 3.5 .5-8.3 .5-8.9 .6-8 .5 .6 .5 14.3 .6-7.3 .5 8.2 .5-9.7 .5-.4 .5 14.4 .5-4.3 .6 6.1 .5 .8 .5-11.6 .5 30.2 .5-2.8 .5-19.5 .5 0 .5 3.7 .5-6.6 .5-7.5 .5-4.9 .5 3.8 .5 14.9 .5 11.4 .5-16.8 .5 9.7 .5-3.1 .5-11.7 .5-7.4 .5 15.6 .4 13.2 .5-13.6 .5 1.9 .5 33.5 .5-19.8 .5-15.8 .4 .5 .5 11.6 .5 12.8 .5-2.1 .4-9.3 .5-20.8 .5 15.9 .4 5.5 .5-10.4 .5 44.6 .4-41.5 .5 1.3 .5 10.5 .4-9.4 .5-14.1 .4 16.8 .5 10.8 .5-14 .4-7.1 .5 25.7 .4-17.8 .5 9.6 .4 5.8 .5-9.5 .4-6 .5 8.5 .4 4.3 .5 8.3 .4-16.8 .5 34.6 .4-4.9 .4 .1 .5-7.2 .4-12.3"/>
<path d="M723.3 383.9l5.8 2.2 5.5 6.5 5.4 4.6 5.2-9.5 5.1 3.3 5 6.6 4.8 2.1 4.6-3.9 4.6 1.5 4.4 5.7 4.3-4.8 4.3 5.2 4.1 2.7 4 4.3 3.9 5.5 3.9 2.9 3.8-.8 3.6 11.9 3.7-12.3 3.5 10.6 3.5-10.8 3.4 12.3 3.3 5.3 3.3-1.5 3.2 1 3.1-4.8 3.1-3.8 3.1 1.1 3 4.8 2.9-11.4 2.9 9.5 2.9 3.5 2.8-4.9 2.7 8.8 2.7-11.9 2.7 17.4 2.7-13.5 2.6 2.5 2.5-3.4 2.5-10.1 2.5 9 2.5 10 2.4-2 2.4 .1 2.3 .6 2.3-4.8 2.3 .9 2.3-2.7 2.2 19.1 2.2-11.5 2.2 9 2.1 9.5 2.2-5.4 2.1 12.2 2-5 2.1-3.6 2 5.5 2-2.1 2-9.4 1.9 6.6 2-4.2 1.9 7.8 1.9 6.3 1.9-9.5 1.8 7.8 1.8 .1 1.9 5.7 1.8-10.2 1.7 2.1 1.8 2.9 1.7-1.2 1.8-6 1.7 10.6 1.7-3.6 1.6 8.8 1.7-8.4 1.7 2.1 1.6-13.2 1.6 20.3 1.6-7.5 1.6 12.9 1.5-5.6 1.6-.3 1.5-.1 1.6 4.2 1.5 11 1.5-2.5 1.5 2.4 1.5 5 1.4-17 1.5-2.5 1.4 3.6 1.5-.9 1.4 1.4 1.4 4.2 1.4 15.4 1.4-16 1.3 1.8 1.4 6.2 1.4-3.5 1.3 9.8 1.3-12.3 1.3-3.1 1.4 6.2 1.3-.1 1.3-4 1.2 11.2 1.3 6.1 1.3-.4 1.2-7.2 1.3-6.7 1.2 3.7 1.2-3 1.3-.6 1.2 8.7 1.2-4.4 1.2 11.9 1.2-.9 1.1-9.8 1.2-5.1 1.2 8.5 1.1 0 1.2 4.6 1.1 10.7 1.2-12.1 1.1 7 1.1-1.2 1.1-3.2 1.1-2.7 1.1 8.6 1.1-6.8 1.1-6.6 1.1 13.6 1 3.1 1.1-17.8 1.1 30.6 1-23.5 1.1 25.2 1-10.4 1-1.3 1.1-5.6 1 .8 1-3.1 1-8.1 1 9.8 1 10.7 1-17.9 1 17.2 1-1.9 1 12.9 .9-10.2 1-2.3 .9-8.8 1 11.9 1 7.5 .9-7.9 .9 1.7 1-10.3 .9 11 .9-4.3 .9 5.4 1-3.7 .9-3.9 .9 5.9 .9 10.4 .9-12.9 .9-3.6 .8 7.2 .9-14.2 .9 20.2 .9-8.1 .8 10.2 .9-5.2 .9-10.9 .8 28.2 .9-7.4 .8-2.1 .9 7.8 .8-5 .9-7.9 .8-.5 .8 13.6 .8-9.9 .9 2.3 .8 3.2 .8 13.2 .8-11.8 .8 5.8 .8-11.7 .8 5.1 .8-5.9 .8-9.1 .8 9.2 .8 2.3 .7 2 .8-1.6 .8 3.6 .8-1.5 .7 1 .8 3.7 .7 9.1 .8-1.7 .8-15.3 .7 6.6 .8 14.9 .7-9.4 .7 6.1 .8-6.5 .7 3.5 .7 8.4 .8-5.7 .7-3.3 .7 .3 .7 3.9 .8-7.5 .7 20.1 .7-5.6 .7-.9 .7-9 .7 12.9 .7-11.6 .7 11.3 .7-7 .7 1.8 .7 .4 .6-4.1 .7-4.6 .7 12.4 .7-2.7 .7 9 .6-13.1 .7-4.5 .7-6.9 .6 11.9 .7 4.6 .7-13.1 .6 16.4 .7-7.7 .6 13 .7 10.1 .6 4.5 .7-23.1 .6 11.6 .6-14.3 .7 7.7 .6 3.7 .7-18.5 .6 10.3 .6 2.8 .6 5 .7 11.6 .6 8.8 .6-19.1 .6-1 .6 .8 .7 13 .6-.1 .6-7.4 .6 1.6 .6-.3 .6-8.6 .6 5.1 .6-10.3 .6 4.8 .6 13.6 .6-6.8 .6-14.3 .6 24.2 .5-11.6 .6-1.8 .6-4.4 .6 2 .6 14.2 .5 8.9 .6-28 .6 20.4 .6-15.1 .5-5.5 .6 26.1 .6 7.8 .5-19.1 .6 2.2 .6 .8 .5-4.8 .6 13.3 .5-13.9 .6 8.5 .5-8.1 .6 6.5 .5-3.2 .6-.4 .5 6.5 .6-5 .5 7.6 .5-2.3 .6 0 .5-.7 .6 4.7 .5-10.1 .5 14.4 .5-11 .6 2.9 .5 4.8 .5-4.2 .6 22.2 .5-10.5 .5-8.6 .5-4.1 .5 17.1 .5-8.9 .6 6.1 .5-12 .5 7.7 .5-10.9 .5 9.7 .5 13.8 .5-18.8 .5 6.4 .5 5.2 .5 2.6 .5-8.2 .5 17.6 .5-19.1 .5 12.2 .5 12 .5-11.6 .5 6.2 .5-4.7 .5-8 .5-.3 .4 7.2 .5 .6 .5 .3 .5-4.6 .5-9.8 .5 24.6 .4-17.2 .5 2.1 .5-2.6 .5 .6 .4 4.8 .5-8.4 .5-2.8 .4 12.4 .5-3 .5 16 .4-11.1 .5-6.1 .5 8.2 .4-9.5 .5-.5 .4 17 .5-11.2 .5 5.6 .4-13.4 .5 8.5 .4 25.5 .5-9.5 .4-14.2 .5-6.4 .4-10.5 .5 13.5 .4-1.2 .5 2.5 .4 18.4 .5-22.3 .4 10.9 .4 3.9 .5 2.4 .4-14.4"/>
<path d="M723.3 399.7l5.8-8.3 5.5-3.2 5.4 .6 5.2 6 5.1 1.5 5-1.3 4.8 1.3 4.6-4.1 4.6 3.1 4.4 .1 4.3-.2 4.3 6.8 4.1 2.3 4 5 3.9 6.4 3.9 .8 3.8-4.8 3.6 3.5 3.7-.5 3.5-.4 3.5 9.9 3.4 5.1 3.3-1.5 3.3-1.9 3.2-4.1 3.1 5.2 3.1 1.3 3.1 2.2 3 4.3 2.9 9.2 2.9-2.6 2.9 11.3 2.8-17.8 2.7 7.1 2.7 7.2 2.7-7.4 2.7-15 2.6 18.4 2.5-2 2.5-9.2 2.5 8.1 2.5 11.6 2.4-3.3 2.4-10.9 2.3-3.2 2.3 20.2 2.3-20.4 2.3 1.7 2.2 15.5 2.2-7.5 2.2 .8 2.1 3.7 2.2-7.5 2.1-5.2 2-3.4 2.1 22.5 2-1.2 2-7.4 2 8 1.9-1.3 2-5.9 1.9 .6 1.9-6.2 1.9 13.4 1.8-14.5 1.8 13.9 1.9 .9 1.8 8.5 1.7 3.8 1.8-10.5 1.7 2.8 1.8-6.7 1.7-8 1.7 14.6 1.6 .4 1.7-.7 1.7-1.7 1.6 3.9 1.6-7.4 1.6 3.9 1.6 8.8 1.5 10.3 1.6-7.2 1.5 1 1.6 4.2 1.5 2.1 1.5 .7 1.5 7.9 1.5 .4 1.4-.9 1.5-12.8 1.4 2.2 1.5-2.5 1.4 4.5 1.4 13.2 1.4-.1 1.4-9.2 1.3-4.2 1.4 12.2 1.4 3.1 1.3-23.5 1.3 17.3 1.3-5.9 1.4 3.1 1.3 1.9 1.3 13.4 1.2-11 1.3-5.3 1.3 11.2 1.2-13.6 1.3-8.6 1.2 12.6 1.2 5.9 1.3-1.4 1.2 5.4 1.2-.6 1.2 12.8 1.2-9 1.1 5 1.2-8.8 1.2 4.2 1.1-3.2 1.2 2.8 1.1 14.7 1.2-6.1 1.1 1.4 1.1 8.3 1.1-.9 1.1-18.2 1.1 .7 1.1 .1 1.1-3.8 1.1 1.3 1-1.8 1.1-4.2 1.1 6.8 1 14.1 1.1 4 1-8.3 1 6.9 1.1-7.3 1-8.6 1 8.4 1 7.2 1-8.6 1 6.8 1 8 1 7.2 1-7.7 1 2.7 .9-11.7 1-8.4 .9 11.1 1 7.2 1 11.7 .9 3.7 .9-21.4 1-1.5 .9 5.3 .9-7.3 .9 14.8 1 11.9 .9-5.3 .9-14.6 .9-6 .9 11.9 .9 2.1 .8 27.5 .9-19.7 .9-13.1 .9 11.7 .8 .7 .9-17.3 .9 6 .8 3.7 .9 2.6 .8-10.3 .9 3.6 .8-.3 .9 4.9 .8 .9 .8 9.8 .8 14.5 .9-22.2 .8 .5 .8-6.3 .8 .7 .8-9.1 .8 14.8 .8-1.2 .8-4 .8 11.9 .8-2.7 .8 11.5 .7-19.3 .8 7.2 .8 9.7 .8-20.5 .7 4.4 .8 15.2 .7 9.2 .8-4.6 .8 6 .7-14.7 .8 12.7 .7-12.6 .7 21 .8-19.7 .7 7.7 .7-5.9 .8 3.4 .7-2.2 .7 14 .7-4.1 .8-9.4 .7 2 .7 2.1 .7 8.4 .7 16.9 .7-16.6 .7 3.7 .7 17.2 .7-35.5 .7 16.4 .7-8.9 .6 .4 .7 5.7 .7-2.3 .7-14.1 .7 2.1 .6 9.2 .7 .9 .7 4.6 .6-2 .7 7.8 .7 5.6 .6-3.4 .7-4.4 .6-8.1 .7 11.7 .6 6.3 .7-3.2 .6 .8 .6 2.9 .7-9 .6-5.1 .7-3.2 .6 8.2 .6 .8 .6 16.1 .7-21.7 .6-4.9 .6 16.1 .6-1.5 .6-5.8 .7 6.2 .6-2.6 .6 15.4 .6-25.3 .6-1.3 .6 16.2 .6-5.1 .6 8.3 .6-3.5 .6-11.4 .6 32 .6-31.5 .6 23.6 .5-8.6 .6 15.7 .6-23 .6 7.7 .6-2.6 .5-6.5 .6 17.1 .6-6.3 .6 11.5 .5-4.7 .6 1 .6-4.8 .5-1 .6-8.4 .6 12.5 .5 5.4 .6-3.2 .5 11.3 .6-3.4 .5-18.1 .6 7 .5-3.9 .6-2.7 .5-15.2 .6 31 .5-3.4 .5-2.7 .6 2.1 .5-5.1 .6 3.4 .5 16.6 .5-7.5 .5-11.5 .6-8.9 .5 15.7 .5-4.5 .6 2 .5 3.1 .5 11.5 .5-12.6 .5 6.2 .5-3.7 .6 6.7 .5-8.6 .5 9 .5 .3 .5-.5 .5-4.7 .5 6 .5-9.2 .5 15.2 .5-15.5 .5 30.9 .5-36.7 .5 14.9 .5 7 .5-6.5 .5 4 .5 1.7 .5-1.7 .5-4 .5 4.2 .4-14 .5 14.8 .5 1.7 .5-10.9 .5 9.7 .5-5.1 .4 5.2 .5 11.1 .5-4.1 .5-7.6 .4 6.3 .5-9.8 .5 7 .4-16.6 .5-4.6 .5 12.6 .4 7.5 .5 12.5 .5-15.1 .4 7.1 .5-5.4 .4 15.3 .5-17.1 .5 13.2 .4 3.3 .5-6 .4-.2 .5 12.5 .4 3 .5-21.6 .4 10.7 .5-25 .4 43.4 .5-30.3 .4-2.8 .5-.3 .4 .6 .4 15.3 .5 9.9 .4-15.7"/>
<path d="M723.3 381.5l5.8-.7 5.5 4.5 5.4 2.2 5.2 0 5.1 9.1 5-8.2 4.8 6.2 4.6-.4 4.6-1.1 4.4-5.3 4.3 7.7 4.3 6.7 4.1-4.5 4 9.1 3.9-.7 3.9 5.3 3.8 8.9 3.6-5.9 3.7 7.2 3.5-4.8 3.5 5.1 3.4-8.3 3.3 5.5 3.3-2.8 3.2 5.1 3.1-2.3 3.1 .2 3.1 7.3 3-6.6 2.9 12.7 2.9-6.8 2.9 4.3 2.8-3.2 2.7 10.1 2.7-.2 2.7-8.1 2.7-3.7 2.6 .7 2.5 12.8 2.5 11 2.5-5.8 2.5-1.5 2.4-1.2 2.4 3.3 2.3-3.2 2.3-3.9 2.3 8.3 2.3-2.4 2.2-.4 2.2 6.8 2.2-3.9 2.1-1.8 2.2 2.1 2.1 5.2 2 3.5 2.1 .9 2-4.3 2 10.8 2-3.2 1.9-4.8 2 5.8 1.9 7.4 1.9-5.8 1.9-6.6 1.8 9.1 1.8-.6 1.9-9.1 1.8 .4 1.7-4.9 1.8 4 1.7 8.5 1.8 23.1 1.7-8.4 1.7-10.1 1.6 11.9 1.7-16.7 1.7 8.7 1.6 4.3 1.6 3 1.6-3.2 1.6-.3 1.5 3.7 1.6-17.4 1.5 12.9 1.6-4.7 1.5 2.6 1.5 .5 1.5 2.2 1.5 2.1 1.4 5.3 1.5-11.2 1.4-.1 1.5 14 1.4-3.1 1.4 12.1 1.4 9.9 1.4-14.4 1.3-.8 1.4 .1 1.4 7.8 1.3-6.9 1.3-6.5 1.3-4.9 1.4 .1 1.3 20.2 1.3-8.2 1.2-2.1 1.3 12.5 1.3-9.3 1.2-5 1.3 16.7 1.2 1.2 1.2-5.2 1.3-3.7 1.2 16.6 1.2-27.7 1.2 14.3 1.2-3.7 1.1 6.3 1.2-7.6 1.2 2.6 1.1-10.1 1.2 21.6 1.1-5.2 1.2-17.6 1.1 5.3 1.1 23.2 1.1-13.9 1.1 4.9 1.1 9.4 1.1-16.2 1.1 5 1.1 17.9 1-13.6 1.1 2.4 1.1-3.3 1 5.1 1.1-7.7 1-8 1 12.5 1.1 4.2 1 3.5 1 5.6 1-12.7 1 10.3 1 1.9 1-17.4 1 8.5 1-10.7 1 8.1 .9 .6 1 9.7 .9-1.5 1-7.5 1 9 .9-11.2 .9 14.5 1-14.6 .9 1.2 .9-1.2 .9 3.9 1 3.8 .9 4 .9-2.5 .9-8.1 .9 3.4 .9 3.3 .8-1.1 .9-7.7 .9 14.8 .9 2 .8-3.1 .9 13.6 .9-3.9 .8 3.2 .9-3.9 .8 10.3 .9 3.3 .8-13.7 .9-6.5 .8-1.1 .8 .9 .8 11.4 .9-8.1 .8 1.3 .8-9.4 .8 3 .8 9.2 .8-1.2 .8 2.7 .8 5.6 .8 1 .8 17.1 .8-8.4 .7 2.1 .8 9.1 .8-3.8 .8-35.4 .7 23.6 .8-9.3 .7 6.9 .8-9.8 .8 19.2 .7-3.4 .8 .4 .7 1.1 .7 2.8 .8-12.1 .7 22.2 .7-17.5 .8-.2 .7 6.1 .7-2.5 .7 .8 .8-1.2 .7 4.3 .7-17.2 .7 25 .7-13 .7 18.7 .7-7.7 .7-9.2 .7-1 .7-1.3 .7 6.6 .6-8.7 .7 1.3 .7-6.9 .7 34.6 .7-23 .6 1.5 .7 7.2 .7 8.9 .6-2.2 .7-10.1 .7-7.2 .6 7.2 .7-1.7 .6 6.6 .7 5 .6-1.8 .7 2.6 .6 .1 .6 19.6 .7 21 .6-33 .7-5.9 .6 8.2 .6-.7 .6-6.3 .7-6.7 .6 10.7 .6 .7 .6 8.9 .6-12 .7 5.7 .6-1 .6 8.4 .6-12 .6 11.9 .6-8.1 .6-15.6 .6 10.1 .6-14 .6 .7 .6 27.4 .6 4.3 .6-9.7 .5-9.4 .6 2 .6-6.4 .6 6.7 .6 4.3 .5-2 .6 6.8 .6-4.8 .6-6 .5 8.1 .6 4 .6-10.6 .5-5.9 .6 25.1 .6-6.7 .5 2.4 .6-1.6 .5 6 .6-8.9 .5-5.6 .6 13.6 .5-10 .6-2.2 .5 14.7 .6-12.8 .5 17.3 .5-10.9 .6 5.6 .5-4.2 .6-11.2 .5 7.2 .5 2.1 .5-2.9 .6-3.4 .5 1.5 .5 11.3 .6-8.7 .5 5.9 .5-15.7 .5 9.1 .5-12.2 .5 4.8 .6 3.9 .5 19.1 .5-4.8 .5-14.4 .5 12.3 .5 2.6 .5-3.3 .5 4.8 .5 10.5 .5-1.5 .5 2.1 .5-3 .5 11.8 .5-15.1 .5-1.4 .5 1.5 .5-15.7 .5 13.4 .5-6.1 .5 .2 .4-1 .5 21.6 .5-11.4 .5 2.3 .5-1.2 .5 3.2 .4 5.5 .5-2.1 .5-3.7 .5 12.4 .4-17.1 .5 1.4 .5 9.1 .4-3.7 .5 7.5 .5-15.2 .4 2.5 .5 16.4 .5-6.6 .4-17.3 .5 9.5 .4-5.6 .5 13.9 .5 7.3 .4-23.5 .5 21.5 .4-3.6 .5-10.3 .4 9.1 .5-9.1 .4-2.6 .5 9.9 .4-.3 .5-13.3 .4 25.6 .5-10.8 .4 16.3 .4-25.6 .5-7.7 .4 23.7"/>
<path d="M723.3 384.2l5.8 .4 5.5 9.3 5.4 1.7 5.2-3.6 5.1-4.4 5 5.6 4.8 13.7 4.6 1.9 4.6 4.5 4.4-1.4 4.3 .4 4.3-.5 4.1-4.2 4 4.5 3.9 1.5 3.9 1.4 3.8-4.9 3.6-1.1 3.7-.6 3.5-4.4 3.5 5.7 3.4 .5 3.3 5.8 3.3-4.5 3.2 5.9 3.1-.2 3.1 .5 3.1 12.5 3-4.6 2.9 11.2 2.9 3.7 2.9 3.4 2.8-5.6 2.7 3.1 2.7 6.6 2.7-10.7 2.7-6 2.6 12.5 2.5 7.6 2.5 0 2.5 8.4 2.5-10.1 2.4-2.1 2.4-14.6 2.3 5.3 2.3 6.4 2.3-1.6 2.3 11.6 2.2-18.4 2.2 4.6 2.2 .1 2.1 16.2 2.2-14.8 2.1 3.1 2 19.4 2.1-8.8 2-6 2 6.6 2 1.2 1.9-1.7 2-6.5 1.9 3.7 1.9 14 1.9-3.9 1.8-3.8 1.8-1.2 1.9 8.1 1.8-1.7 1.7-5.7 1.8 4.5 1.7-5 1.8 8.8 1.7-1.5 1.7-3.9 1.6-12.6 1.7 12.2 1.7-5.3 1.6 2.7 1.6 4.6 1.6-1.9 1.6 7.5 1.5-1.9 1.6 6.8 1.5 .2 1.6 3.9 1.5-7.4 1.5 6.6 1.5 1.3 1.5 6.7 1.4 4.9 1.5-7.4 1.4 8 1.5 6.7 1.4 3.6 1.4-14.7 1.4-8.9 1.4-15.6 1.3 6.4 1.4 18.4 1.4-11.7 1.3 3.6 1.3 6 1.3-.1 1.4 5.7 1.3-2.8 1.3-7.3 1.2 17.2 1.3-8.5 1.3 5.7 1.2 5.5 1.3-1.5 1.2-10.3 1.2 3.6 1.3-18.6 1.2 22.7 1.2-4.1 1.2 6.5 1.2-5.4 1.1-2.9 1.2 3.1 1.2 10.4 1.1-1.5 1.2-13.9 1.1 5.2 1.2-10.5 1.1 24.3 1.1-9.6 1.1 4.8 1.1 4.6 1.1-13.6 1.1 8.5 1.1 8.7 1.1-13.2 1 5.7 1.1 7.4 1.1-6.6 1 19.8 1.1-12.1 1-10.4 1 21.3 1.1-17.5 1 11 1-20.8 1 13.1 1 5.5 1-12.8 1 15.8 1-19.1 1 11.5 1-4.2 .9 5.8 1 3.5 .9 20.8 1-25.8 1 1.8 .9 12 .9 6.2 1-4.9 .9-9 .9 5.4 .9 4.4 1-4.1 .9 14.7 .9-5 .9-13.1 .9-5.2 .9 22.9 .8-5.6 .9 9.3 .9-4.1 .9 2.3 .8-11.6 .9 .5 .9 2.2 .8 24.2 .9-7.8 .8-23.3 .9-1.6 .8 .2 .9 6.5 .8 1.7 .8-8 .8 6.2 .9-1.7 .8 18.8 .8-15.3 .8-4 .8 9.3 .8-13.1 .8-12.1 .8 18.8 .8 1.3 .8 7 .8-3.6 .7-4.5 .8 9.4 .8 9.5 .8-14 .7-1.3 .8 4.1 .7 2.7 .8 10.3 .8 12.4 .7-9.2 .8 8.1 .7-10.6 .7-.9 .8-13.3 .7 3.5 .7-1.2 .8-1.3 .7 2.3 .7 7.2 .7-10.3 .8 13.3 .7-12.5 .7 21.4 .7-14 .7-9.1 .7 3.7 .7 8.1 .7-5.6 .7-2.6 .7 3.5 .7 10.9 .6-9.4 .7-2.3 .7-3.5 .7-.1 .7 11 .6 12.1 .7-14.3 .7 16.2 .6 1.3 .7-6.4 .7-1 .6-19.4 .7 24.3 .6-11.4 .7 8.8 .6-4.2 .7 25.9 .6-18.1 .6 2.4 .7-2.6 .6-1.6 .7-18.2 .6 19.8 .6 6 .6 .4 .7-.6 .6-13.4 .6 1.9 .6-7.2 .6 14.8 .7 8.4 .6-1.8 .6-5.2 .6-4.2 .6-10.2 .6 6.9 .6 9.1 .6-4.2 .6 2.4 .6 13.9 .6 3.3 .6 4.3 .6-11.4 .5 5.9 .6-4.2 .6-8.4 .6 19.4 .6-20.6 .5-2.8 .6-4.3 .6 26.8 .6 3 .5-5.6 .6-5 .6 1.5 .5-8.8 .6-10.2 .6 9.5 .5 20.7 .6-17.3 .5-9.4 .6 10.1 .5 2.8 .6 8 .5 14.5 .6-9.2 .5 2.5 .6 4.6 .5 .2 .5-13.6 .6-5.1 .5 .4 .6-18.1 .5 2.9 .5 20.3 .5 15.3 .6-17.5 .5 5.3 .5 6 .6-7.3 .5-.4 .5 7.9 .5-12.2 .5-3.1 .5 5.9 .6-2 .5 5.7 .5 2.7 .5-13.2 .5 1 .5 15.8 .5-19.2 .5 20.6 .5 .2 .5 4.4 .5 7.1 .5-4.5 .5-20.5 .5 12.4 .5-7.6 .5 6.4 .5-5.4 .5 5.2 .5-.8 .5 1.8 .4 .1 .5-9.9 .5-3.1 .5 6.4 .5-5.9 .5-1.7 .4 4.3 .5 7.6 .5 18.7 .5-5.8 .4 7.7 .5-2.1 .5 3 .4 24.4 .5-16.2 .5-15.7 .4-7.9 .5-5.3 .5 12.2 .4 13.3 .5-13.2 .4 3.2 .5-5.6 .5 11.5 .4-18.9 .5 9.4 .4 7.3 .5 5 .4-9.3 .5 13.4 .4 1.7 .5-17.1 .4-9.9 .5 14.1 .4-2.6 .5-13.9 .4 14.6 .4-1 .5 3.5 .4-2.6"/>
<path d="M723.3 375.1l5.8 3.7 5.5 10.8 5.4-.9 5.2-5.9 5.1 1.2 5 1.4 4.8 1.4 4.6 3.8 4.6 5.1 4.4 .5 4.3 4 4.3 1.5 4.1 8.9 4-1.1 3.9 11.9 3.9-1 3.8 .3 3.6 3.2 3.7 2.3 3.5 3.2 3.5-1.1 3.4 9.5 3.3-7.4 3.3-10.9 3.2 14.9 3.1-5.2 3.1-4.1 3.1 5.7 3 10.7 2.9-8.2 2.9 8.5 2.9-5 2.8 4 2.7 1.6 2.7-3 2.7 6 2.7-3.3 2.6-1.3 2.5 3.7 2.5 1.1 2.5 9.5 2.5-1.2 2.4-17.2 2.4-.7 2.3 .4 2.3 5.3 2.3-.5 2.3 21.9 2.2-17.2 2.2 1.6 2.2 9.1 2.1-8.6 2.2-.3 2.1-5.5 2 1.5 2.1 3.9 2-1.7 2 2.1 2-6.3 1.9 16.8 2-7.2 1.9 4.9 1.9-3.9 1.9 14.6 1.8-11.3 1.8 6.4 1.9 .2 1.8 7.8 1.7-6.8 1.8 8.5 1.7-1.1 1.8-14.8 1.7 16.3 1.7-6.2 1.6 9.6 1.7-4.4 1.7 3 1.6-9.6 1.6-.7 1.6 6.1 1.6-11.8 1.5 5.4 1.6 6.5 1.5-2.9 1.6 10.2 1.5 14.8 1.5-1.3 1.5-7.9 1.5 3.2 1.4-12.5 1.5 1.4 1.4 4.8 1.5-9.2 1.4 16.6 1.4 9.9 1.4-19 1.4-5.9 1.3 18.2 1.4-10.7 1.4-2.4 1.3 9.1 1.3-2.1 1.3-3.5 1.4-3.5 1.3 23.2 1.3-6.5 1.2-7.8 1.3-7.1 1.3 10 1.2 11.3 1.3-1.4 1.2-3.3 1.2-8.4 1.3-4.2 1.2 8.8 1.2 6.4 1.2-2.2 1.2-8.2 1.1-.4 1.2 1.8 1.2-3.2 1.1 16.8 1.2 3.6 1.1-2.8 1.2-3 1.1 2.7 1.1 1.8 1.1-5.6 1.1-14.4 1.1 3.2 1.1 2.2 1.1 3.3 1.1 23.2 1-5.5 1.1-7.6 1.1 2 1 11.2 1.1-15.9 1 20 1-21.2 1.1-3.1 1 10.2 1 2.7 1 .5 1 1.9 1-8.8 1 16.3 1-4.3 1 3 1-18.8 .9 17.9 1-9.3 .9 9 1 12.1 1-3.1 .9-15.4 .9 3.8 1 1 .9 1 .9-8.7 .9 2 1 11.7 .9-.3 .9 15 .9-12.9 .9-3.7 .9-6.1 .8 13.1 .9 7.2 .9-17.2 .9 13 .8 3.2 .9-.9 .9-7.7 .8 6.1 .9-11.7 .8 .1 .9 9.9 .8-2.7 .9 6 .8-1.1 .8 .3 .8 2.7 .9-8.5 .8 5.4 .8 18.3 .8-31.7 .8 1.4 .8 9.6 .8 7.3 .8-5.8 .8 9.9 .8-2.4 .8-7.7 .7 16.8 .8-19.8 .8 7.7 .8-4.3 .7 13.8 .8-10.4 .7 9.2 .8 12.7 .8-4.8 .7 6.6 .8-3.4 .7-8 .7-2.8 .8-2.7 .7 6.1 .7-6.9 .8 6.7 .7-1.3 .7-16.2 .7 10.9 .8 17.2 .7-17.9 .7 15 .7-9.9 .7 10.7 .7 .8 .7 4.3 .7-11 .7-1.5 .7 19.6 .7-20.6 .6 5.6 .7 7.1 .7-10.7 .7 4.5 .7 5.1 .6 9.9 .7-17.1 .7 9.9 .6-11.9 .7 4.2 .7 8.5 .6-4.5 .7 2.5 .6-11.7 .7 5.5 .6 3.9 .7 6 .6-5.3 .6 6 .7 4.9 .6 2.4 .7-17.4 .6 7.9 .6 9.2 .6 5.4 .7-17.8 .6 15.3 .6-7.7 .6 2.9 .6 7.3 .7-11.5 .6 8.2 .6-7.7 .6-6.5 .6-1 .6-3.7 .6-1.5 .6 18.3 .6-1.2 .6-11 .6 14.8 .6-3.7 .6-13.1 .5 7.9 .6-1.7 .6 14.6 .6-18.8 .6 7.1 .5 19 .6-14.6 .6 15.7 .6-16.1 .5-2.8 .6 10.7 .6-3 .5 2.7 .6-4.2 .6-8.5 .5 24.4 .6-6.6 .5-12.1 .6 10 .5-10.7 .6 14 .5-7.7 .6 16.9 .5 .3 .6-10.6 .5 2.8 .5 3 .6-4.4 .5 2.5 .6-5.9 .5 2.1 .5 12.6 .5-14.3 .6 13.6 .5-17.4 .5 8.4 .6 1.2 .5-.5 .5 6.1 .5-8 .5 9.9 .5 .6 .6 8.6 .5 .4 .5-6.5 .5-.7 .5 5.3 .5 2.5 .5-6.9 .5-2.3 .5-1.7 .5-1.2 .5 12.3 .5-10.1 .5 9.5 .5-10.1 .5 2.8 .5 3.6 .5-19.4 .5 1.3 .5 7.1 .5 15 .4-.3 .5-2.7 .5-8.7 .5-12.7 .5 21.7 .5-12.2 .4-1.8 .5 28.1 .5-18.1 .5-6.9 .4 14.9 .5-14.9 .5 18.4 .4-5.5 .5 12.1 .5-11.6 .4 2.1 .5 6.4 .5-7.7 .4-6.6 .5-3.2 .4 7.1 .5 1.4 .5-6.6 .4 17 .5 3.6 .4 12.2 .5-8.8 .4-3.3 .5-13.5 .4 8.7 .5-12.2 .4-.8 .5-2.8 .4 2.3 .5 17.1 .4-.7 .4-.7 .5-3.9 .4 2.5"/>
</g>
<path d="M127.6 70.2L249.0 101.3L320.0 132.4L370.4 163.6L409.5 194.7L441.4 225.8L468.4 256.9L491.8 288.1L512.4 319.2L530.9 350.3L547.6 381.4L562.8 412.6L576.9 443.7L589.8 474.8L601.9 506.0L613.2 537.1L623.8 568.2L633.9 599.3L643.3 630.5L652.3 661.6L660.9 692.7L669.0 723.8L669.0 723.9" stroke="#800080" stroke-width="2.8" stroke-dasharray="5.5 5.6" stroke-dashoffset="-1.4" stroke-linecap="square"/>
<path d="M127.6 70.2L249.0 98.3L320.0 127.9L370.4 155.6L409.5 180.7L441.4 201.4L468.4 216.7L491.8 227.1L512.4 233.1L530.9 236.5L547.6 238.3L562.8 239.2L576.9 239.6L589.8 239.9L601.9 240.0L613.2 240.1L623.8 240.1L633.9 240.1L643.3 240.1L652.3 240.1L660.9 240.1L669.0 240.1L676.8 240.1L684.2 240.1L691.4 240.1L698.3 240.1L704.9 240.1L711.2 240.1L717.4 240.1L723.3 240.1L729.1 240.1L734.6 240.1L740.0 240.1L745.2 240.1L750.3 240.1L755.3 240.1L760.1 240.1L764.7 240.1L769.3 240.1L773.7 240.1L778.0 240.1L782.3 240.1L786.4 240.1L790.4 240.1L794.3 240.1L798.2 240.1L802.0 240.1L805.6 240.1L809.3 240.1L812.8 240.1L816.3 240.1L819.7 240.1L823.0 240.1L826.3 240.1L829.5 240.1L832.6 240.1L835.7 240.1L838.8 240.1L841.8 240.1L844.7 240.1L847.6 240.1L850.5 240.1L853.3 240.1L856.0 240.1L858.7 240.1L861.4 240.1L864.1 240.1L866.7 240.1L869.2 240.1L871.7 240.1L874.2 240.1L876.7 240.1L879.1 240.1L881.5 240.1L883.8 240.1L886.1 240.1L888.4 240.1L890.7 240.1L892.9 240.1L895.1 240.1L897.3 240.1L899.4 240.1L901.6 240.1L903.7 240.1L905.7 240.1L907.8 240.1L909.8 240.1L911.8 240.1L913.8 240.1L915.7 240.1L917.7 240.1L919.6 240.1L921.5 240.1L923.4 240.1L925.2 240.1L927.0 240.1L928.9 240.1L930.7 240.1L932.4 240.1L934.2 240.1L935.9 240.1L937.7 240.1L939.4 240.1L941.1 240.1L942.7 240.1L944.4 240.1L946.1 240.1L947.7 240.1L949.3 240.1L950.9 240.1L952.5 240.1L954.0 240.1L955.6 240.1L957.1 240.1L958.7 240.1L960.2 240.1L961.7 240.1L963.2 240.1L964.7 240.1L966.1 240.1L967.6 240.1L969.0 240.1L970.5 240.1L971.9 240.1L973.3 240.1L974.7 240.1L976.1 240.1L977.4 240.1L978.8 240.1L980.2 240.1L981.5 240.1L982.8 240.1L984.1 240.1L985.5 240.1L986.8 240.1L988.1 240.1L989.3 240.1L990.6 240.1L991.9 240.1L993.1 240.1L994.4 240.1L995.6 240.1L996.8 240.1L998.1 240.1L999.3 240.1L1000.5 240.1L1001.7 240.1L1002.9 240.1L1004.0 240.1L1005.2 240.1L1006.4 240.1L1007.5 240.1L1008.7 240.1L1009.8 240.1L1011.0 240.1L1012.1 240.1L1013.2 240.1L1014.3 240.1L1015.4 240.1L1016.5 240.1L1017.6 240.1L1018.7 240.1L1019.8 240.1L1020.8 240.1L1021.9 240.1L1023.0 240.1L1024.0 240.1L1025.1 240.1L1026.1 240.1L1027.1 240.1L1028.2 240.1L1029.2 240.1L1030.2 240.1L1031.2 240.1L1032.2 240.1L1033.2 240.1L1034.2 240.1L1035.2 240.1L1036.2 240.1L1037.2 240.1L1038.1 240.1L1039.1 240.1L1040.0 240.1L1041.0 240.1L1042.0 240.1L1042.9 240.1L1043.8 240.1L1044.8 240.1L1045.7 240.1L1046.6 240.1L1047.5 240.1L1048.5 240.1L1049.4 240.1L1050.3 240.1L1051.2 240.1L1052.1 240.1L1053.0 240.1L1053.8 240.1L1054.7 240.1L1055.6 240.1L1056.5 240.1L1057.3 240.1L1058.2 240.1L1059.1 240.1L1059.9 240.1L1060.8 240.1L1061.6 240.1L1062.5 240.1L1063.3 240.1L1064.2 240.1L1065.0 240.1L1065.8 240.1L1066.6 240.1L1067.5 240.1L1068.3 240.1L1069.1 240.1L1069.9 240.1L1070.7 240.1L1071.5 240.1L1072.3 240.1L1073.1 240.1L1073.9 240.1L1074.7 240.1L1075.5 240.1L1076.2 240.1L1077.0 240.1L1077.8 240.1L1078.6 240.1L1079.3 240.1L1080.1 240.1L1080.8 240.1L1081.6 240.1L1082.4 240.1L1083.1 240.1L1083.9 240.1L1084.6 240.1L1085.3 240.1L1086.1 240.1L1086.8 240.1L1087.5 240.1L1088.3 240.1L1089.0 240.1L1089.7 240.1L1090.4 240.1L1091.2 240.1L1091.9 240.1L1092.6 240.1L1093.3 240.1L1094.0 240.1L1094.7 240.1L1095.4 240.1L1096.1 240.1L1096.8 240.1L1097.5 240.1L1098.2 240.1L1098.8 240.1L1099.5 240.1L1100.2 240.1L1100.9 240.1L1101.6 240.1L1102.2 240.1L1102.9 240.1L1103.6 240.1L1104.2 240.1L1104.9 240.1L1105.6 240.1L1106.2 240.1L1106.9 240.1L1107.5 240.1L1108.2 240.1L1108.8 240.1L1109.5 240.1L1110.1 240.1L1110.7 240.1L1111.4 240.1L1112.0 240.1L1112.7 240.1L1113.3 240.1L1113.9 240.1L1114.5 240.1L1115.2 240.1L1115.8 240.1L1116.4 240.1L1117.0 240.1L1117.6 240.1L1118.3 240.1L1118.9 240.1L1119.5 240.1L1120.1 240.1L1120.7 240.1L1121.3 240.1L1121.9 240.1L1122.5 240.1L1123.1 240.1L1123.7 240.1L1124.3 240.1L1124.9 240.1L1125.5 240.1L1126.0 240.1L1126.6 240.1L1127.2 240.1L1127.8 240.1L1128.4 240.1L1128.9 240.1L1129.5 240.1L1130.1 240.1L1130.7 240.1L1131.2 240.1L1131.8 240.1L1132.4 240.1L1132.9 240.1L1133.5 240.1L1134.1 240.1L1134.6 240.1L1135.2 240.1L1135.7 240.1L1136.3 240.1L1136.8 240.1L1137.4 240.1L1137.9 240.1L1138.5 240.1L1139.0 240.1L1139.6 240.1L1140.1 240.1L1140.6 240.1L1141.2 240.1L1141.7 240.1L1142.3 240.1L1142.8 240.1L1143.3 240.1L1143.8 240.1L1144.4 240.1L1144.9 240.1L1145.4 240.1L1146.0 240.1L1146.5 240.1L1147.0 240.1L1147.5 240.1L1148.0 240.1L1148.5 240.1L1149.1 240.1L1149.6 240.1L1150.1 240.1L1150.6 240.1L1151.1 240.1L1151.6 240.1L1152.1 240.1L1152.6 240.1L1153.1 240.1L1153.6 240.1L1154.1 240.1L1154.6 240.1L1155.1 240.1L1155.6 240.1L1156.1 240.1L1156.6 240.1L1157.1 240.1L1157.6 240.1L1158.1 240.1L1158.6 240.1L1159.0 240.1L1159.5 240.1L1160.0 240.1L1160.5 240.1L1161.0 240.1L1161.5 240.1L1161.9 240.1L1162.4 240.1L1162.9 240.1L1163.4 240.1L1163.8 240.1L1164.3 240.1L1164.8 240.1L1165.2 240.1L1165.7 240.1L1166.2 240.1L1166.6 240.1L1167.1 240.1L1167.6 240.1L1168.0 240.1L1168.5 240.1L1168.9 240.1L1169.4 240.1L1169.9 240.1L1170.3 240.1L1170.8 240.1L1171.2 240.1L1171.7 240.1L1172.1 240.1L1172.6 240.1L1173.0 240.1L1173.5 240.1L1173.9 240.1L1174.4 240.1L1174.8 240.1L1175.3 240.1L1175.7 240.1L1176.1 240.1L1176.6 240.1L1177.0 240.1L1177.4 240.1L1177.9 240.1L1178.3 240.1L1178.8 240.1L1179.2 240.1L1179.6 240.1L1180.0 240.1L1180.5 240.1L1180.9 240.1L1181.3 240.1L1181.8 240.1L1182.2 240.1L1182.6 240.1L1183.0 240.1L1183.5 240.1L1183.9 240.1L1184.3 240.1L1184.7 240.1L1185.1 240.1L1185.6 240.1L1186.0 240.1L1186.4 240.1L1186.8 240.1L1187.2 240.1L1187.6 240.1L1188.0 240.1L1188.5 240.1L1188.9 240.1L1189.3 240.1L1189.7 240.1L1190.1 240.1L1190.5 240.1L1190.9 240.1L1191.3 240.1L1191.7 240.1L1192.1 240.1L1192.5 240.1L1192.9 240.1L1193.3 240.1L1193.7 240.1L1194.1 240.1L1194.5 240.1L1194.9 240.1L1195.3 240.1L1195.7 240.1L1196.1 240.1L1196.5 240.1L1196.9 240.1L1197.3 240.1L1197.6 240.1L1198.0 240.1L1198.4 240.1L1198.8 240.1L1199.2 240.1L1199.6 240.1L1200.0 240.1L1200.3 240.1L1200.7 240.1L1201.1 240.1L1201.5 240.1L1201.9 240.1L1202.3 240.1L1202.6 240.1L1203.0 240.1L1203.4 240.1L1203.8 240.1L1204.1 240.1L1204.5 240.1L1204.9 240.1L1205.3 240.1L1205.6 240.1L1206.0 240.1L1206.4 240.1L1206.7 240.1L1207.1 240.1L1207.5 240.1L1207.8 240.1L1208.2 240.1L1208.6 240.1L1208.9 240.1L1209.3 240.1L1209.7 240.1L1210.0 240.1L1210.4 240.1L1210.8 240.1L1211.1 240.1L1211.5 240.1L1211.8 240.1L1212.2 240.1L1212.6 240.1L1212.9 240.1L1213.3 240.1L1213.6 240.1L1214.0 240.1L1214.3 240.1L1214.7 240.1L1215.0 240.1L1215.4 240.1L1215.7 240.1L1216.1 240.1L1216.4 240.1L1216.8 240.1L1217.1 240.1L1217.5 240.1L1217.8 240.1L1218.2 240.1L1218.5 240.1L1218.9 240.1L1219.2 240.1L1219.6 240.1L1219.9 240.1L1220.2 240.1L1220.6 240.1L1220.9 240.1L1221.3 240.1L1221.6 240.1L1222.0 240.1L1222.3 240.1L1222.6 240.1L1223.0 240.1L1223.3 240.1L1223.6 240.1L1224.0 240.1L1224.3 240.1L1224.6 240.1L1225.0 240.1L1225.3 240.1L1225.6 240.1L1226.0 240.1L1226.3 240.1L1226.6 240.1L1227.0 240.1L1227.3 240.1L1227.6 240.1L1227.9 240.1L1228.3 240.1L1228.6 240.1L1228.9 240.1L1229.2 240.1L1229.6 240.1L1229.9 240.1L1230.2 240.1L1230.5 240.1L1230.9 240.1L1231.2 240.1L1231.5 240.1L1231.8 240.1L1232.2 240.1L1232.5 240.1L1232.8 240.1L1233.1 240.1L1233.4 240.1L1233.7 240.1L1234.1 240.1L1234.4 240.1L1234.7 240.1L1235.0 240.1L1235.3 240.1L1235.6 240.1L1235.9 240.1L1236.3 240.1L1236.6 240.1L1236.9 240.1L1237.2 240.1L1237.5 240.1L1237.8 240.1L1238.1 240.1L1238.4 240.1L1238.7 240.1L1239.0 240.1L1239.4 240.1L1239.7 240.1L1240.0 240.1L1240.3 240.1L1240.6 240.1L1240.9 240.1L1241.2 240.1L1241.5 240.1L1241.8 240.1L1242.1 240.1L1242.4 240.1L1242.7 240.1L1243.0 240.1L1243.3 240.1L1243.6 240.1L1243.9 240.1L1244.2 240.1L1244.5 240.1L1244.8 240.1L1245.1 240.1L1245.4 240.1L1245.7 240.1L1246.0 240.1L1246.3 240.1L1246.6 240.1L1246.9 240.1L1247.2 240.1L1247.4 240.1L1247.7 240.1L1248.0 240.1" stroke="#ff8000" stroke-width="2.8" stroke-dasharray="5.5 5.6" stroke-dashoffset="-1.4" stroke-linecap="square"/>
<path d="M127.6 74.0L249.0 96.7L320.0 129.4L370.4 160.0L409.5 189.9L441.4 218.5L468.4 245.4L491.8 269.9L512.4 291.1L530.9 308.5L547.6 322.1L562.8 332.4L576.9 340.1L589.8 346.1L601.9 350.8L613.2 354.9L623.8 358.4L633.9 361.6L643.3 364.6L652.3 367.3L660.9 370.0L669.0 372.5L676.8 374.8L684.2 377.1L691.4 379.3L698.3 381.4L704.9 383.5L711.2 385.4L717.4 387.4L723.3 389.2L729.1 391.0L734.6 392.8L740.0 394.5L745.2 396.1L750.3 397.8L755.3 399.3L760.1 400.9L764.7 402.4L769.3 403.9L773.7 405.3L778.0 406.8L782.3 408.1L786.4 409.5L790.4 410.8L794.3 412.2L798.2 413.5L802.0 414.7L805.6 416.0L809.3 417.2L812.8 418.4L816.3 419.6L819.7 420.8L823.0 421.9L826.3 423.1L829.5 424.2L832.6 425.3L835.7 426.4L838.8 427.4L841.8 428.5L844.7 429.6L847.6 430.6L850.5 431.6L853.3 432.6L856.0 433.6L858.7 434.6L861.4 435.6L864.1 436.6L866.7 437.5L869.2 438.5L871.7 439.4L874.2 440.3L876.7 441.2L879.1 442.2L881.5 443.1L883.8 444.0L886.1 444.8L888.4 445.7L890.7 446.6L892.9 447.4L895.1 448.3L897.3 449.1L899.4 450.0L901.6 450.8L903.7 451.6L905.7 452.5L907.8 453.3L909.8 454.1L911.8 454.9L913.8 455.7L915.7 456.5L917.7 457.2L919.6 458.0L921.5 458.8L923.4 459.6L925.2 460.3L927.0 461.1L928.9 461.8L930.7 462.6L932.4 463.3L934.2 464.1L935.9 464.8L937.7 465.5L939.4 466.2L941.1 467.0L942.7 467.7L944.4 468.4L946.1 469.1L947.7 469.8L949.3 470.5L950.9 471.2L952.5 471.9L954.0 472.6L955.6 473.3L957.1 473.9L958.7 474.6L960.2 475.3L961.7 476.0L963.2 476.6L964.7 477.3L966.1 478.0L967.6 478.6L969.0 479.3L970.5 479.9L971.9 480.6L973.3 481.2L974.7 481.9L976.1 482.5L977.4 483.1L978.8 483.8L980.2 484.4L981.5 485.0L982.8 485.6L984.1 486.3L985.5 486.9L986.8 487.5L988.1 488.1L989.3 488.7L990.6 489.3L991.9 490.0L993.1 490.6L994.4 491.2L995.6 491.8L996.8 492.4L998.1 493.0L999.3 493.6L1000.5 494.1L1001.7 494.7L1002.9 495.3L1004.0 495.9L1005.2 496.5L1006.4 497.1L1007.5 497.7L1008.7 498.2L1009.8 498.8L1011.0 499.4L1012.1 500.0L1013.2 500.5L1014.3 501.1L1015.4 501.7L1016.5 502.2L1017.6 502.8L1018.7 503.4L1019.8 503.9L1020.8 504.5L1021.9 505.0L1023.0 505.6L1024.0 506.1L1025.1 506.7L1026.1 507.2L1027.1 507.8L1028.2 508.3L1029.2 508.9L1030.2 509.4L1031.2 510.0L1032.2 510.5L1033.2 511.0L1034.2 511.6L1035.2 512.1L1036.2 512.6L1037.2 513.2L1038.1 513.7L1039.1 514.2L1040.0 514.8L1041.0 515.3L1042.0 515.8L1042.9 516.4L1043.8 516.9L1044.8 517.4L1045.7 517.9L1046.6 518.4L1047.5 519.0L1048.5 519.5L1049.4 520.0L1050.3 520.5L1051.2 521.0L1052.1 521.5L1053.0 522.0L1053.8 522.6L1054.7 523.1L1055.6 523.6L1056.5 524.1L1057.3 524.6L1058.2 525.1L1059.1 525.6L1059.9 526.1L1060.8 526.6L1061.6 527.1L1062.5 527.6L1063.3 528.1L1064.2 528.6L1065.0 529.1L1065.8 529.6L1066.6 530.1L1067.5 530.6L1068.3 531.1L1069.1 531.5L1069.9 532.0L1070.7 532.5L1071.5 533.0L1072.3 533.5L1073.1 534.0L1073.9 534.5L1074.7 535.0L1075.5 535.4L1076.2 535.9L1077.0 536.4L1077.8 536.9L1078.6 537.4L1079.3 537.8L1080.1 538.3L1080.8 538.8L1081.6 539.3L1082.4 539.7L1083.1 540.2L1083.9 540.7L1084.6 541.2L1085.3 541.6L1086.1 542.1L1086.8 542.6L1087.5 543.1L1088.3 543.5L1089.0 544.0L1089.7 544.5L1090.4 544.9L1091.2 545.4L1091.9 545.9L1092.6 546.3L1093.3 546.8L1094.0 547.2L1094.7 547.7L1095.4 548.2L1096.1 548.6L1096.8 549.1L1097.5 549.6L1098.2 550.0L1098.8 550.5L1099.5 550.9L1100.2 551.4L1100.9 551.8L1101.6 552.3L1102.2 552.7L1102.9 553.2L1103.6 553.7L1104.2 554.1L1104.9 554.6L1105.6 555.0L1106.2 555.5L1106.9 555.9L1107.5 556.4L1108.2 556.8L1108.8 557.3L1109.5 557.7L1110.1 558.2L1110.7 558.6L1111.4 559.0L1112.0 559.5L1112.7 559.9L1113.3 560.4L1113.9 560.8L1114.5 561.3L1115.2 561.7L1115.8 562.1L1116.4 562.6L1117.0 563.0L1117.6 563.5L1118.3 563.9L1118.9 564.3L1119.5 564.8L1120.1 565.2L1120.7 565.7L1121.3 566.1L1121.9 566.5L1122.5 567.0L1123.1 567.4L1123.7 567.8L1124.3 568.3L1124.9 568.7L1125.5 569.1L1126.0 569.6L1126.6 570.0L1127.2 570.4L1127.8 570.9L1128.4 571.3L1128.9 571.7L1129.5 572.2L1130.1 572.6L1130.7 573.0L1131.2 573.4L1131.8 573.9L1132.4 574.3L1132.9 574.7L1133.5 575.2L1134.1 575.6L1134.6 576.0L1135.2 576.4L1135.7 576.9L1136.3 577.3L1136.8 577.7L1137.4 578.1L1137.9 578.5L1138.5 579.0L1139.0 579.4L1139.6 579.8L1140.1 580.2L1140.6 580.6L1141.2 581.1L1141.7 581.5L1142.3 581.9L1142.8 582.3L1143.3 582.7L1143.8 583.2L1144.4 583.6L1144.9 584.0L1145.4 584.4L1146.0 584.8L1146.5 585.2L1147.0 585.7L1147.5 586.1L1148.0 586.5L1148.5 586.9L1149.1 587.3L1149.6 587.7L1150.1 588.1L1150.6 588.6L1151.1 589.0L1151.6 589.4L1152.1 589.8L1152.6 590.2L1153.1 590.6L1153.6 591.0L1154.1 591.4L1154.6 591.8L1155.1 592.3L1155.6 592.7L1156.1 593.1L1156.6 593.5L1157.1 593.9L1157.6 594.3L1158.1 594.7L1158.6 595.1L1159.0 595.5L1159.5 595.9L1160.0 596.3L1160.5 596.7L1161.0 597.1L1161.5 597.5L1161.9 597.9L1162.4 598.4L1162.9 598.8L1163.4 599.2L1163.8 599.6L1164.3 600.0L1164.8 600.4L1165.2 600.8L1165.7 601.2L1166.2 601.6L1166.6 602.0L1167.1 602.4L1167.6 602.8L1168.0 603.2L1168.5 603.6L1168.9 604.0L1169.4 604.4L1169.9 604.8L1170.3 605.2L1170.8 605.6L1171.2 606.0L1171.7 606.4L1172.1 606.8L1172.6 607.2L1173.0 607.6L1173.5 608.0L1173.9 608.4L1174.4 608.7L1174.8 609.1L1175.3 609.5L1175.7 609.9L1176.1 610.3L1176.6 610.7L1177.0 611.1L1177.4 611.5L1177.9 611.9L1178.3 612.3L1178.8 612.7L1179.2 613.1L1179.6 613.5L1180.0 613.9L1180.5 614.3L1180.9 614.7L1181.3 615.0L1181.8 615.4L1182.2 615.8L1182.6 616.2L1183.0 616.6L1183.5 617.0L1183.9 617.4L1184.3 617.8L1184.7 618.2L1185.1 618.6L1185.6 618.9L1186.0 619.3L1186.4 619.7L1186.8 620.1L1187.2 620.5L1187.6 620.9L1188.0 621.3L1188.5 621.7L1188.9 622.0L1189.3 622.4L1189.7 622.8L1190.1 623.2L1190.5 623.6L1190.9 624.0L1191.3 624.4L1191.7 624.7L1192.1 625.1L1192.5 625.5L1192.9 625.9L1193.3 626.3L1193.7 626.7L1194.1 627.1L1194.5 627.4L1194.9 627.8L1195.3 628.2L1195.7 628.6L1196.1 629.0L1196.5 629.3L1196.9 629.7L1197.3 630.1L1197.6 630.5L1198.0 630.9L1198.4 631.3L1198.8 631.6L1199.2 632.0L1199.6 632.4L1200.0 632.8L1200.3 633.2L1200.7 633.5L1201.1 633.9L1201.5 634.3L1201.9 634.7L1202.3 635.1L1202.6 635.4L1203.0 635.8L1203.4 636.2L1203.8 636.6L1204.1 636.9L1204.5 637.3L1204.9 637.7L1205.3 638.1L1205.6 638.5L1206.0 638.8L1206.4 639.2L1206.7 639.6L1207.1 640.0L1207.5 640.3L1207.8 640.7L1208.2 641.1L1208.6 641.5L1208.9 641.8L1209.3 642.2L1209.7 642.6L1210.0 643.0L1210.4 643.3L1210.8 643.7L1211.1 644.1L1211.5 644.5L1211.8 644.8L1212.2 645.2L1212.6 645.6L1212.9 646.0L1213.3 646.3L1213.6 646.7L1214.0 647.1L1214.3 647.5L1214.7 647.8L1215.0 648.2L1215.4 648.6L1215.7 648.9L1216.1 649.3L1216.4 649.7L1216.8 650.1L1217.1 650.4L1217.5 650.8L1217.8 651.2L1218.2 651.5L1218.5 651.9L1218.9 652.3L1219.2 652.6L1219.6 653.0L1219.9 653.4L1220.2 653.8L1220.6 654.1L1220.9 654.5L1221.3 654.9L1221.6 655.2L1222.0 655.6L1222.3 656.0L1222.6 656.3L1223.0 656.7L1223.3 657.1L1223.6 657.4L1224.0 657.8L1224.3 658.2L1224.6 658.5L1225.0 658.9L1225.3 659.3L1225.6 659.6L1226.0 660.0L1226.3 660.4L1226.6 660.7L1227.0 661.1L1227.3 661.5L1227.6 661.8L1227.9 662.2L1228.3 662.6L1228.6 662.9L1228.9 663.3L1229.2 663.7L1229.6 664.0L1229.9 664.4L1230.2 664.8L1230.5 665.1L1230.9 665.5L1231.2 665.9L1231.5 666.2L1231.8 666.6L1232.2 667.0L1232.5 667.3L1232.8 667.7L1233.1 668.0L1233.4 668.4L1233.7 668.8L1234.1 669.1L1234.4 669.5L1234.7 669.9L1235.0 670.2L1235.3 670.6L1235.6 670.9L1235.9 671.3L1236.3 671.7L1236.6 672.0L1236.9 672.4L1237.2 672.8L1237.5 673.1L1237.8 673.5L1238.1 673.8L1238.4 674.2L1238.7 674.6L1239.0 674.9L1239.4 675.3L1239.7 675.6L1240.0 676.0L1240.3 676.4L1240.6 676.7L1240.9 677.1L1241.2 677.4L1241.5 677.8L1241.8 678.2L1242.1 678.5L1242.4 678.9L1242.7 679.2L1243.0 679.6L1243.3 679.9L1243.6 680.3L1243.9 680.7L1244.2 681.0L1244.5 681.4L1244.8 681.7L1245.1 682.1L1245.4 682.5L1245.7 682.8L1246.0 683.2L1246.3 683.5L1246.6 683.9L1246.9 684.2L1247.2 684.6L1247.4 685.0L1247.7 685.3L1248.0 685.7" stroke="#000" stroke-width="2.8" stroke-linecap="square"/>
<path d="M127.6 74.0L249.0 96.7L320.0 129.4L370.4 159.9L409.5 189.8L441.4 218.3L468.4 245.0L491.8 269.2L512.4 290.0L530.9 307.0L547.6 320.0L562.8 329.8L576.9 337.0L589.8 342.6L601.9 347.0L613.2 350.7L623.8 354.0L633.9 356.9L643.3 359.5L652.3 362.0L660.9 364.3L669.0 366.5L676.8 368.6L684.2 370.6L691.4 372.6L698.3 374.4L704.9 376.1L711.2 377.8L717.4 379.5L723.3 381.1L729.1 382.6L734.6 384.0L740.0 385.5L745.2 386.9L750.3 388.2L755.3 389.5L760.1 390.8L764.7 392.0L769.3 393.2L773.7 394.4L778.0 395.5L782.3 396.6L786.4 397.7L790.4 398.7L794.3 399.8L798.2 400.8L802.0 401.8L805.6 402.7L809.3 403.7L812.8 404.6L816.3 405.5L819.7 406.4L823.0 407.3L826.3 408.1L829.5 409.0L832.6 409.8L835.7 410.6L838.8 411.4L841.8 412.2L844.7 412.9L847.6 413.7L850.5 414.4L853.3 415.2L856.0 415.9L858.7 416.6L861.4 417.3L864.1 418.0L866.7 418.7L869.2 419.3L871.7 420.0L874.2 420.6L876.7 421.3L879.1 421.9L881.5 422.5L883.8 423.1L886.1 423.7L888.4 424.3L890.7 424.9L892.9 425.5L895.1 426.1L897.3 426.6L899.4 427.2L901.6 427.7L903.7 428.3L905.7 428.8L907.8 429.3L909.8 429.9L911.8 430.4L913.8 430.9L915.7 431.4L917.7 431.9L919.6 432.4L921.5 432.9L923.4 433.4L925.2 433.9L927.0 434.3L928.9 434.8L930.7 435.3L932.4 435.7L934.2 436.2L935.9 436.6L937.7 437.1L939.4 437.5L941.1 438.0L942.7 438.4L944.4 438.8L946.1 439.3L947.7 439.7L949.3 440.1L950.9 440.5L952.5 440.9L954.0 441.3L955.6 441.7L957.1 442.1L958.7 442.5L960.2 442.9L961.7 443.3L963.2 443.7L964.7 444.1L966.1 444.5L967.6 444.8L969.0 445.2L970.5 445.6L971.9 445.9L973.3 446.3L974.7 446.7L976.1 447.0L977.4 447.4L978.8 447.7L980.2 448.1L981.5 448.4L982.8 448.8L984.1 449.1L985.5 449.4L986.8 449.8L988.1 450.1L989.3 450.4L990.6 450.8L991.9 451.1L993.1 451.4L994.4 451.7L995.6 452.1L996.8 452.4L998.1 452.7L999.3 453.0L1000.5 453.3L1001.7 453.6L1002.9 453.9L1004.0 454.2L1005.2 454.5L1006.4 454.8L1007.5 455.1L1008.7 455.4L1009.8 455.7L1011.0 456.0L1012.1 456.3L1013.2 456.6L1014.3 456.9L1015.4 457.2L1016.5 457.5L1017.6 457.7L1018.7 458.0L1019.8 458.3L1020.8 458.6L1021.9 458.9L1023.0 459.1L1024.0 459.4L1025.1 459.7L1026.1 459.9L1027.1 460.2L1028.2 460.5L1029.2 460.7L1030.2 461.0L1031.2 461.3L1032.2 461.5L1033.2 461.8L1034.2 462.0L1035.2 462.3L1036.2 462.5L1037.2 462.8L1038.1 463.0L1039.1 463.3L1040.0 463.5L1041.0 463.8L1042.0 464.0L1042.9 464.3L1043.8 464.5L1044.8 464.7L1045.7 465.0L1046.6 465.2L1047.5 465.5L1048.5 465.7L1049.4 465.9L1050.3 466.2L1051.2 466.4L1052.1 466.6L1053.0 466.9L1053.8 467.1L1054.7 467.3L1055.6 467.5L1056.5 467.8L1057.3 468.0L1058.2 468.2L1059.1 468.4L1059.9 468.7L1060.8 468.9L1061.6 469.1L1062.5 469.3L1063.3 469.5L1064.2 469.7L1065.0 470.0L1065.8 470.2L1066.6 470.4L1067.5 470.6L1068.3 470.8L1069.1 471.0L1069.9 471.2L1070.7 471.4L1071.5 471.6L1072.3 471.8L1073.1 472.0L1073.9 472.2L1074.7 472.5L1075.5 472.7L1076.2 472.9L1077.0 473.1L1077.8 473.3L1078.6 473.5L1079.3 473.6L1080.1 473.8L1080.8 474.0L1081.6 474.2L1082.4 474.4L1083.1 474.6L1083.9 474.8L1084.6 475.0L1085.3 475.2L1086.1 475.4L1086.8 475.6L1087.5 475.8L1088.3 476.0L1089.0 476.1L1089.7 476.3L1090.4 476.5L1091.2 476.7L1091.9 476.9L1092.6 477.1L1093.3 477.2L1094.0 477.4L1094.7 477.6L1095.4 477.8L1096.1 478.0L1096.8 478.1L1097.5 478.3L1098.2 478.5L1098.8 478.7L1099.5 478.9L1100.2 479.0L1100.9 479.2L1101.6 479.4L1102.2 479.5L1102.9 479.7L1103.6 479.9L1104.2 480.1L1104.9 480.2L1105.6 480.4L1106.2 480.6L1106.9 480.7L1107.5 480.9L1108.2 481.1L1108.8 481.2L1109.5 481.4L1110.1 481.6L1110.7 481.7L1111.4 481.9L1112.0 482.1L1112.7 482.2L1113.3 482.4L1113.9 482.6L1114.5 482.7L1115.2 482.9L1115.8 483.0L1116.4 483.2L1117.0 483.4L1117.6 483.5L1118.3 483.7L1118.9 483.8L1119.5 484.0L1120.1 484.1L1120.7 484.3L1121.3 484.5L1121.9 484.6L1122.5 484.8L1123.1 484.9L1123.7 485.1L1124.3 485.2L1124.9 485.4L1125.5 485.5L1126.0 485.7L1126.6 485.8L1127.2 486.0L1127.8 486.1L1128.4 486.3L1128.9 486.4L1129.5 486.6L1130.1 486.7L1130.7 486.9L1131.2 487.0L1131.8 487.2L1132.4 487.3L1132.9 487.4L1133.5 487.6L1134.1 487.7L1134.6 487.9L1135.2 488.0L1135.7 488.2L1136.3 488.3L1136.8 488.4L1137.4 488.6L1137.9 488.7L1138.5 488.9L1139.0 489.0L1139.6 489.2L1140.1 489.3L1140.6 489.4L1141.2 489.6L1141.7 489.7L1142.3 489.8L1142.8 490.0L1143.3 490.1L1143.8 490.3L1144.4 490.4L1144.9 490.5L1145.4 490.7L1146.0 490.8L1146.5 490.9L1147.0 491.1L1147.5 491.2L1148.0 491.3L1148.5 491.5L1149.1 491.6L1149.6 491.7L1150.1 491.9L1150.6 492.0L1151.1 492.1L1151.6 492.2L1152.1 492.4L1152.6 492.5L1153.1 492.6L1153.6 492.8L1154.1 492.9L1154.6 493.0L1155.1 493.2L1155.6 493.3L1156.1 493.4L1156.6 493.5L1157.1 493.7L1157.6 493.8L1158.1 493.9L1158.6 494.0L1159.0 494.2L1159.5 494.3L1160.0 494.4L1160.5 494.5L1161.0 494.7L1161.5 494.8L1161.9 494.9L1162.4 495.0L1162.9 495.1L1163.4 495.3L1163.8 495.4L1164.3 495.5L1164.8 495.6L1165.2 495.8L1165.7 495.9L1166.2 496.0L1166.6 496.1L1167.1 496.2L1167.6 496.4L1168.0 496.5L1168.5 496.6L1168.9 496.7L1169.4 496.8L1169.9 496.9L1170.3 497.1L1170.8 497.2L1171.2 497.3L1171.7 497.4L1172.1 497.5L1172.6 497.6L1173.0 497.8L1173.5 497.9L1173.9 498.0L1174.4 498.1L1174.8 498.2L1175.3 498.3L1175.7 498.4L1176.1 498.6L1176.6 498.7L1177.0 498.8L1177.4 498.9L1177.9 499.0L1178.3 499.1L1178.8 499.2L1179.2 499.3L1179.6 499.5L1180.0 499.6L1180.5 499.7L1180.9 499.8L1181.3 499.9L1181.8 500.0L1182.2 500.1L1182.6 500.2L1183.0 500.3L1183.5 500.4L1183.9 500.5L1184.3 500.7L1184.7 500.8L1185.1 500.9L1185.6 501.0L1186.0 501.1L1186.4 501.2L1186.8 501.3L1187.2 501.4L1187.6 501.5L1188.0 501.6L1188.5 501.7L1188.9 501.8L1189.3 501.9L1189.7 502.0L1190.1 502.1L1190.5 502.2L1190.9 502.3L1191.3 502.5L1191.7 502.6L1192.1 502.7L1192.5 502.8L1192.9 502.9L1193.3 503.0L1193.7 503.1L1194.1 503.2L1194.5 503.3L1194.9 503.4L1195.3 503.5L1195.7 503.6L1196.1 503.7L1196.5 503.8L1196.9 503.9L1197.3 504.0L1197.6 504.1L1198.0 504.2L1198.4 504.3L1198.8 504.4L1199.2 504.5L1199.6 504.6L1200.0 504.7L1200.3 504.8L1200.7 504.9L1201.1 505.0L1201.5 505.1L1201.9 505.2L1202.3 505.3L1202.6 505.4L1203.0 505.5L1203.4 505.6L1203.8 505.7L1204.1 505.8L1204.5 505.8L1204.9 505.9L1205.3 506.0L1205.6 506.1L1206.0 506.2L1206.4 506.3L1206.7 506.4L1207.1 506.5L1207.5 506.6L1207.8 506.7L1208.2 506.8L1208.6 506.9L1208.9 507.0L1209.3 507.1L1209.7 507.2L1210.0 507.3L1210.4 507.4L1210.8 507.5L1211.1 507.5L1211.5 507.6L1211.8 507.7L1212.2 507.8L1212.6 507.9L1212.9 508.0L1213.3 508.1L1213.6 508.2L1214.0 508.3L1214.3 508.4L1214.7 508.5L1215.0 508.6L1215.4 508.6L1215.7 508.7L1216.1 508.8L1216.4 508.9L1216.8 509.0L1217.1 509.1L1217.5 509.2L1217.8 509.3L1218.2 509.4L1218.5 509.4L1218.9 509.5L1219.2 509.6L1219.6 509.7L1219.9 509.8L1220.2 509.9L1220.6 510.0L1220.9 510.1L1221.3 510.2L1221.6 510.2L1222.0 510.3L1222.3 510.4L1222.6 510.5L1223.0 510.6L1223.3 510.7L1223.6 510.8L1224.0 510.8L1224.3 510.9L1224.6 511.0L1225.0 511.1L1225.3 511.2L1225.6 511.3L1226.0 511.4L1226.3 511.4L1226.6 511.5L1227.0 511.6L1227.3 511.7L1227.6 511.8L1227.9 511.9L1228.3 512.0L1228.6 512.0L1228.9 512.1L1229.2 512.2L1229.6 512.3L1229.9 512.4L1230.2 512.5L1230.5 512.5L1230.9 512.6L1231.2 512.7L1231.5 512.8L1231.8 512.9L1232.2 512.9L1232.5 513.0L1232.8 513.1L1233.1 513.2L1233.4 513.3L1233.7 513.4L1234.1 513.4L1234.4 513.5L1234.7 513.6L1235.0 513.7L1235.3 513.8L1235.6 513.8L1235.9 513.9L1236.3 514.0L1236.6 514.1L1236.9 514.2L1237.2 514.2L1237.5 514.3L1237.8 514.4L1238.1 514.5L1238.4 514.6L1238.7 514.6L1239.0 514.7L1239.4 514.8L1239.7 514.9L1240.0 515.0L1240.3 515.0L1240.6 515.1L1240.9 515.2L1241.2 515.3L1241.5 515.3L1241.8 515.4L1242.1 515.5L1242.4 515.6L1242.7 515.7L1243.0 515.7L1243.3 515.8L1243.6 515.9L1243.9 516.0L1244.2 516.0L1244.5 516.1L1244.8 516.2L1245.1 516.3L1245.4 516.3L1245.7 516.4L1246.0 516.5L1246.3 516.6L1246.6 516.6L1246.9 516.7L1247.2 516.8L1247.4 516.9L1247.7 517.0L1248.0 517.0" stroke="#0000ff" stroke-width="2.6" stroke-dasharray="5.7 5.4" stroke-dashoffset="-1.3" stroke-linecap="square"/>
<g fill="#ff0000" stroke="none">
<circle cx="127.6" cy="70.0" r="4.25"/>
<circle cx="249.0" cy="102.6" r="4.25"/>
<circle cx="320.0" cy="135.5" r="4.25"/>
<circle cx="370.4" cy="167.7" r="4.25"/>
<circle cx="409.5" cy="196.5" r="4.25"/>
<circle cx="441.4" cy="226.0" r="4.25"/>
<circle cx="468.4" cy="250.7" r="4.25"/>
<circle cx="491.8" cy="275.0" r="4.25"/>
<circle cx="512.4" cy="295.3" r="4.25"/>
<circle cx="530.9" cy="309.9" r="4.25"/>
<circle cx="547.6" cy="321.7" r="4.25"/>
<circle cx="562.8" cy="330.7" r="4.25"/>
<circle cx="576.9" cy="338.6" r="4.25"/>
<circle cx="589.8" cy="344.9" r="4.25"/>
<circle cx="601.9" cy="349.3" r="4.25"/>
<circle cx="613.2" cy="353.7" r="4.25"/>
<circle cx="623.8" cy="357.9" r="4.25"/>
<circle cx="633.9" cy="360.9" r="4.25"/>
<circle cx="643.3" cy="364.0" r="4.25"/>
<circle cx="652.3" cy="366.2" r="4.25"/>
<circle cx="660.9" cy="369.9" r="4.25"/>
<circle cx="669.0" cy="371.7" r="4.25"/>
<circle cx="676.8" cy="373.9" r="4.25"/>
<circle cx="684.2" cy="377.3" r="4.25"/>
<circle cx="691.4" cy="378.4" r="4.25"/>
<circle cx="698.3" cy="381.2" r="4.25"/>
<circle cx="704.9" cy="382.8" r="4.25"/>
<circle cx="711.2" cy="385.5" r="4.25"/>
<circle cx="717.4" cy="386.3" r="4.25"/>
<circle cx="723.3" cy="387.1" r="4.25"/>
<circle cx="729.1" cy="388.7" r="4.25"/>
<circle cx="734.6" cy="390.4" r="4.25"/>
<circle cx="740.0" cy="392.3" r="4.25"/>
<circle cx="745.2" cy="392.9" r="4.25"/>
<circle cx="750.3" cy="395.2" r="4.25"/>
<circle cx="755.3" cy="396.1" r="4.25"/>
<circle cx="760.1" cy="397.5" r="4.25"/>
<circle cx="764.7" cy="399.8" r="4.25"/>
<circle cx="769.3" cy="402.2" r="4.25"/>
<circle cx="773.7" cy="403.2" r="4.25"/>
<circle cx="778.0" cy="405.0" r="4.25"/>
<circle cx="782.3" cy="406.1" r="4.25"/>
<circle cx="786.4" cy="407.5" r="4.25"/>
<circle cx="790.4" cy="410.1" r="4.25"/>
<circle cx="794.3" cy="412.0" r="4.25"/>
<circle cx="798.2" cy="412.3" r="4.25"/>
<circle cx="802.0" cy="414.5" r="4.25"/>
<circle cx="805.6" cy="415.7" r="4.25"/>
<circle cx="809.3" cy="416.9" r="4.25"/>
<circle cx="812.8" cy="418.2" r="4.25"/>
<circle cx="816.3" cy="419.5" r="4.25"/>
<circle cx="819.7" cy="420.4" r="4.25"/>
<circle cx="823.0" cy="421.7" r="4.25"/>
<circle cx="826.3" cy="423.8" r="4.25"/>
<circle cx="829.5" cy="423.4" r="4.25"/>
<circle cx="832.6" cy="424.3" r="4.25"/>
<circle cx="835.7" cy="426.0" r="4.25"/>
<circle cx="838.8" cy="428.0" r="4.25"/>
<circle cx="841.8" cy="428.4" r="4.25"/>
<circle cx="844.7" cy="430.2" r="4.25"/>
<circle cx="847.6" cy="430.2" r="4.25"/>
<circle cx="850.5" cy="431.4" r="4.25"/>
<circle cx="853.3" cy="431.9" r="4.25"/>
<circle cx="856.0" cy="433.2" r="4.25"/>
<circle cx="858.7" cy="435.2" r="4.25"/>
<circle cx="861.4" cy="436.1" r="4.25"/>
<circle cx="864.1" cy="437.1" r="4.25"/>
<circle cx="866.7" cy="437.8" r="4.25"/>
<circle cx="869.2" cy="438.0" r="4.25"/>
<circle cx="871.7" cy="437.2" r="4.25"/>
<circle cx="874.2" cy="438.7" r="4.25"/>
<circle cx="876.7" cy="441.2" r="4.25"/>
<circle cx="879.1" cy="440.6" r="4.25"/>
<circle cx="881.5" cy="442.2" r="4.25"/>
<circle cx="883.8" cy="442.8" r="4.25"/>
<circle cx="886.1" cy="444.4" r="4.25"/>
<circle cx="888.4" cy="444.6" r="4.25"/>
<circle cx="890.7" cy="445.2" r="4.25"/>
<circle cx="892.9" cy="446.3" r="4.25"/>
<circle cx="895.1" cy="448.1" r="4.25"/>
<circle cx="897.3" cy="448.7" r="4.25"/>
<circle cx="899.4" cy="448.8" r="4.25"/>
<circle cx="901.6" cy="450.3" r="4.25"/>
<circle cx="903.7" cy="450.5" r="4.25"/>
<circle cx="905.7" cy="450.7" r="4.25"/>
<circle cx="907.8" cy="451.4" r="4.25"/>
<circle cx="909.8" cy="451.4" r="4.25"/>
<circle cx="911.8" cy="454.3" r="4.25"/>
<circle cx="913.8" cy="454.4" r="4.25"/>
<circle cx="915.7" cy="454.9" r="4.25"/>
<circle cx="917.7" cy="456.5" r="4.25"/>
<circle cx="919.6" cy="457.2" r="4.25"/>
<circle cx="921.5" cy="457.5" r="4.25"/>
<circle cx="923.4" cy="459.4" r="4.25"/>
<circle cx="925.2" cy="460.6" r="4.25"/>
<circle cx="927.0" cy="460.9" r="4.25"/>
<circle cx="928.9" cy="461.5" r="4.25"/>
<circle cx="930.7" cy="462.0" r="4.25"/>
<circle cx="932.4" cy="461.9" r="4.25"/>
<circle cx="934.2" cy="463.5" r="4.25"/>
<circle cx="935.9" cy="464.3" r="4.25"/>
<circle cx="937.7" cy="464.8" r="4.25"/>
<circle cx="939.4" cy="465.8" r="4.25"/>
<circle cx="941.1" cy="466.4" r="4.25"/>
<circle cx="942.7" cy="466.9" r="4.25"/>
<circle cx="944.4" cy="467.5" r="4.25"/>
<circle cx="946.1" cy="467.9" r="4.25"/>
<circle cx="947.7" cy="467.7" r="4.25"/>
<circle cx="949.3" cy="469.5" r="4.25"/>
<circle cx="950.9" cy="470.6" r="4.25"/>
<circle cx="952.5" cy="470.9" r="4.25"/>
<circle cx="954.0" cy="472.0" r="4.25"/>
<circle cx="955.6" cy="472.8" r="4.25"/>
<circle cx="957.1" cy="474.3" r="4.25"/>
<circle cx="958.7" cy="474.6" r="4.25"/>
<circle cx="960.2" cy="475.3" r="4.25"/>
<circle cx="961.7" cy="475.9" r="4.25"/>
<circle cx="963.2" cy="477.2" r="4.25"/>
<circle cx="964.7" cy="478.2" r="4.25"/>
<circle cx="966.1" cy="478.9" r="4.25"/>
<circle cx="967.6" cy="478.7" r="4.25"/>
<circle cx="969.0" cy="479.5" r="4.25"/>
<circle cx="970.5" cy="481.2" r="4.25"/>
<circle cx="971.9" cy="479.9" r="4.25"/>
<circle cx="973.3" cy="481.1" r="4.25"/>
<circle cx="974.7" cy="482.5" r="4.25"/>
<circle cx="976.1" cy="481.1" r="4.25"/>
<circle cx="977.4" cy="482.8" r="4.25"/>
<circle cx="978.8" cy="483.4" r="4.25"/>
<circle cx="980.2" cy="483.0" r="4.25"/>
<circle cx="981.5" cy="483.8" r="4.25"/>
<circle cx="982.8" cy="484.5" r="4.25"/>
<circle cx="984.1" cy="485.2" r="4.25"/>
<circle cx="985.5" cy="485.1" r="4.25"/>
<circle cx="986.8" cy="485.3" r="4.25"/>
<circle cx="988.1" cy="486.2" r="4.25"/>
<circle cx="989.3" cy="487.7" r="4.25"/>
<circle cx="990.6" cy="488.5" r="4.25"/>
<circle cx="991.9" cy="490.1" r="4.25"/>
<circle cx="993.1" cy="490.0" r="4.25"/>
<circle cx="994.4" cy="491.4" r="4.25"/>
<circle cx="995.6" cy="491.6" r="4.25"/>
<circle cx="996.8" cy="492.6" r="4.25"/>
<circle cx="998.1" cy="491.7" r="4.25"/>
<circle cx="999.3" cy="492.1" r="4.25"/>
<circle cx="1000.5" cy="492.0" r="4.25"/>
<circle cx="1001.7" cy="493.6" r="4.25"/>
<circle cx="1002.9" cy="493.4" r="4.25"/>
<circle cx="1004.0" cy="495.1" r="4.25"/>
<circle cx="1005.2" cy="495.7" r="4.25"/>
<circle cx="1006.4" cy="496.7" r="4.25"/>
<circle cx="1007.5" cy="497.4" r="4.25"/>
<circle cx="1008.7" cy="497.6" r="4.25"/>
<circle cx="1009.8" cy="498.3" r="4.25"/>
<circle cx="1011.0" cy="497.9" r="4.25"/>
<circle cx="1012.1" cy="498.0" r="4.25"/>
<circle cx="1013.2" cy="500.7" r="4.25"/>
<circle cx="1014.3" cy="500.8" r="4.25"/>
<circle cx="1015.4" cy="500.1" r="4.25"/>
<circle cx="1016.5" cy="501.9" r="4.25"/>
<circle cx="1017.6" cy="502.1" r="4.25"/>
<circle cx="1018.7" cy="502.9" r="4.25"/>
<circle cx="1019.8" cy="504.2" r="4.25"/>
<circle cx="1020.8" cy="505.3" r="4.25"/>
<circle cx="1021.9" cy="504.7" r="4.25"/>
<circle cx="1023.0" cy="505.4" r="4.25"/>
<circle cx="1024.0" cy="506.1" r="4.25"/>
<circle cx="1025.1" cy="506.6" r="4.25"/>
<circle cx="1026.1" cy="507.1" r="4.25"/>
<circle cx="1027.1" cy="507.7" r="4.25"/>
<circle cx="1028.2" cy="509.1" r="4.25"/>
<circle cx="1029.2" cy="509.0" r="4.25"/>
<circle cx="1030.2" cy="510.2" r="4.25"/>
<circle cx="1031.2" cy="510.2" r="4.25"/>
<circle cx="1032.2" cy="510.0" r="4.25"/>
<circle cx="1033.2" cy="511.4" r="4.25"/>
<circle cx="1034.2" cy="511.3" r="4.25"/>
<circle cx="1035.2" cy="511.9" r="4.25"/>
<circle cx="1036.2" cy="511.6" r="4.25"/>
<circle cx="1037.2" cy="512.4" r="4.25"/>
<circle cx="1038.1" cy="512.5" r="4.25"/>
<circle cx="1039.1" cy="513.5" r="4.25"/>
<circle cx="1040.0" cy="514.0" r="4.25"/>
<circle cx="1041.0" cy="514.1" r="4.25"/>
<circle cx="1042.0" cy="516.2" r="4.25"/>
<circle cx="1042.9" cy="515.7" r="4.25"/>
<circle cx="1043.8" cy="516.0" r="4.25"/>
<circle cx="1044.8" cy="515.5" r="4.25"/>
<circle cx="1045.7" cy="516.8" r="4.25"/>
<circle cx="1046.6" cy="518.9" r="4.25"/>
<circle cx="1047.5" cy="519.1" r="4.25"/>
<circle cx="1048.5" cy="520.1" r="4.25"/>
<circle cx="1049.4" cy="519.7" r="4.25"/>
<circle cx="1050.3" cy="521.5" r="4.25"/>
<circle cx="1051.2" cy="521.2" r="4.25"/>
<circle cx="1052.1" cy="521.5" r="4.25"/>
<circle cx="1053.0" cy="522.2" r="4.25"/>
<circle cx="1053.8" cy="523.0" r="4.25"/>
<circle cx="1054.7" cy="523.2" r="4.25"/>
<circle cx="1055.6" cy="523.7" r="4.25"/>
<circle cx="1056.5" cy="525.2" r="4.25"/>
<circle cx="1057.3" cy="525.1" r="4.25"/>
<circle cx="1058.2" cy="525.0" r="4.25"/>
<circle cx="1059.1" cy="523.9" r="4.25"/>
<circle cx="1059.9" cy="525.8" r="4.25"/>
<circle cx="1060.8" cy="525.2" r="4.25"/>
<circle cx="1061.6" cy="526.0" r="4.25"/>
<circle cx="1062.5" cy="528.2" r="4.25"/>
<circle cx="1063.3" cy="527.4" r="4.25"/>
<circle cx="1064.2" cy="527.8" r="4.25"/>
<circle cx="1065.0" cy="527.8" r="4.25"/>
<circle cx="1065.8" cy="528.4" r="4.25"/>
<circle cx="1066.6" cy="530.4" r="4.25"/>
<circle cx="1067.5" cy="530.7" r="4.25"/>
<circle cx="1068.3" cy="531.5" r="4.25"/>
<circle cx="1069.1" cy="531.6" r="4.25"/>
<circle cx="1069.9" cy="531.0" r="4.25"/>
<circle cx="1070.7" cy="532.4" r="4.25"/>
<circle cx="1071.5" cy="533.5" r="4.25"/>
<circle cx="1072.3" cy="532.4" r="4.25"/>
<circle cx="1073.1" cy="533.6" r="4.25"/>
<circle cx="1073.9" cy="534.2" r="4.25"/>
<circle cx="1074.7" cy="533.9" r="4.25"/>
<circle cx="1075.5" cy="534.9" r="4.25"/>
<circle cx="1076.2" cy="534.5" r="4.25"/>
<circle cx="1077.0" cy="536.7" r="4.25"/>
<circle cx="1077.8" cy="537.3" r="4.25"/>
<circle cx="1078.6" cy="537.2" r="4.25"/>
<circle cx="1079.3" cy="539.1" r="4.25"/>
<circle cx="1080.1" cy="539.8" r="4.25"/>
<circle cx="1080.8" cy="539.7" r="4.25"/>
<circle cx="1081.6" cy="541.0" r="4.25"/>
<circle cx="1082.4" cy="540.8" r="4.25"/>
<circle cx="1083.1" cy="540.4" r="4.25"/>
<circle cx="1083.9" cy="540.8" r="4.25"/>
<circle cx="1084.6" cy="541.1" r="4.25"/>
<circle cx="1085.3" cy="541.3" r="4.25"/>
<circle cx="1086.1" cy="540.9" r="4.25"/>
<circle cx="1086.8" cy="542.4" r="4.25"/>
<circle cx="1087.5" cy="541.9" r="4.25"/>
<circle cx="1088.3" cy="541.7" r="4.25"/>
<circle cx="1089.0" cy="542.9" r="4.25"/>
<circle cx="1089.7" cy="544.0" r="4.25"/>
<circle cx="1090.4" cy="544.8" r="4.25"/>
<circle cx="1091.2" cy="545.3" r="4.25"/>
<circle cx="1091.9" cy="545.8" r="4.25"/>
<circle cx="1092.6" cy="545.5" r="4.25"/>
<circle cx="1093.3" cy="546.4" r="4.25"/>
<circle cx="1094.0" cy="546.9" r="4.25"/>
<circle cx="1094.7" cy="546.9" r="4.25"/>
<circle cx="1095.4" cy="547.9" r="4.25"/>
<circle cx="1096.1" cy="548.0" r="4.25"/>
<circle cx="1096.8" cy="548.3" r="4.25"/>
<circle cx="1097.5" cy="548.7" r="4.25"/>
<circle cx="1098.2" cy="549.2" r="4.25"/>
<circle cx="1098.8" cy="548.9" r="4.25"/>
<circle cx="1099.5" cy="549.7" r="4.25"/>
<circle cx="1100.2" cy="550.4" r="4.25"/>
<circle cx="1100.9" cy="550.0" r="4.25"/>
<circle cx="1101.6" cy="552.0" r="4.25"/>
<circle cx="1102.2" cy="552.7" r="4.25"/>
<circle cx="1102.9" cy="553.2" r="4.25"/>
<circle cx="1103.6" cy="553.9" r="4.25"/>
<circle cx="1104.2" cy="553.6" r="4.25"/>
<circle cx="1104.9" cy="554.3" r="4.25"/>
<circle cx="1105.6" cy="554.4" r="4.25"/>
<circle cx="1106.2" cy="554.5" r="4.25"/>
<circle cx="1106.9" cy="554.5" r="4.25"/>
<circle cx="1107.5" cy="556.0" r="4.25"/>
<circle cx="1108.2" cy="556.8" r="4.25"/>
<circle cx="1108.8" cy="556.9" r="4.25"/>
<circle cx="1109.5" cy="558.1" r="4.25"/>
<circle cx="1110.1" cy="558.1" r="4.25"/>
<circle cx="1110.7" cy="557.5" r="4.25"/>
<circle cx="1111.4" cy="558.6" r="4.25"/>
<circle cx="1112.0" cy="559.0" r="4.25"/>
<circle cx="1112.7" cy="559.0" r="4.25"/>
<circle cx="1113.3" cy="560.2" r="4.25"/>
<circle cx="1113.9" cy="560.8" r="4.25"/>
<circle cx="1114.5" cy="560.9" r="4.25"/>
<circle cx="1115.2" cy="560.8" r="4.25"/>
<circle cx="1115.8" cy="561.2" r="4.25"/>
<circle cx="1116.4" cy="562.3" r="4.25"/>
<circle cx="1117.0" cy="562.8" r="4.25"/>
<circle cx="1117.6" cy="562.6" r="4.25"/>
<circle cx="1118.3" cy="563.2" r="4.25"/>
<circle cx="1118.9" cy="564.0" r="4.25"/>
<circle cx="1119.5" cy="563.9" r="4.25"/>
<circle cx="1120.1" cy="563.5" r="4.25"/>
<circle cx="1120.7" cy="563.3" r="4.25"/>
<circle cx="1121.3" cy="565.0" r="4.25"/>
<circle cx="1121.9" cy="565.2" r="4.25"/>
<circle cx="1122.5" cy="565.3" r="4.25"/>
<circle cx="1123.1" cy="566.0" r="4.25"/>
<circle cx="1123.7" cy="566.3" r="4.25"/>
<circle cx="1124.3" cy="567.5" r="4.25"/>
<circle cx="1124.9" cy="567.7" r="4.25"/>
<circle cx="1125.5" cy="567.9" r="4.25"/>
<circle cx="1126.0" cy="569.4" r="4.25"/>
<circle cx="1126.6" cy="570.0" r="4.25"/>
<circle cx="1127.2" cy="569.9" r="4.25"/>
<circle cx="1127.8" cy="570.9" r="4.25"/>
<circle cx="1128.4" cy="570.6" r="4.25"/>
<circle cx="1128.9" cy="572.4" r="4.25"/>
<circle cx="1129.5" cy="572.8" r="4.25"/>
<circle cx="1130.1" cy="572.8" r="4.25"/>
<circle cx="1130.7" cy="571.6" r="4.25"/>
<circle cx="1131.2" cy="572.7" r="4.25"/>
<circle cx="1131.8" cy="572.9" r="4.25"/>
<circle cx="1132.4" cy="574.1" r="4.25"/>
<circle cx="1132.9" cy="575.5" r="4.25"/>
<circle cx="1133.5" cy="575.8" r="4.25"/>
<circle cx="1134.1" cy="575.5" r="4.25"/>
<circle cx="1134.6" cy="576.3" r="4.25"/>
<circle cx="1135.2" cy="576.7" r="4.25"/>
<circle cx="1135.7" cy="577.1" r="4.25"/>
<circle cx="1136.3" cy="578.1" r="4.25"/>
<circle cx="1136.8" cy="578.8" r="4.25"/>
<circle cx="1137.4" cy="578.7" r="4.25"/>
<circle cx="1137.9" cy="578.8" r="4.25"/>
<circle cx="1138.5" cy="579.2" r="4.25"/>
<circle cx="1139.0" cy="579.4" r="4.25"/>
<circle cx="1139.6" cy="578.8" r="4.25"/>
<circle cx="1140.1" cy="578.8" r="4.25"/>
<circle cx="1140.6" cy="578.6" r="4.25"/>
<circle cx="1141.2" cy="580.0" r="4.25"/>
<circle cx="1141.7" cy="580.1" r="4.25"/>
<circle cx="1142.3" cy="579.7" r="4.25"/>
<circle cx="1142.8" cy="581.7" r="4.25"/>
<circle cx="1143.3" cy="583.0" r="4.25"/>
<circle cx="1143.8" cy="583.3" r="4.25"/>
<circle cx="1144.4" cy="584.0" r="4.25"/>
<circle cx="1144.9" cy="583.8" r="4.25"/>
<circle cx="1145.4" cy="585.5" r="4.25"/>
<circle cx="1146.0" cy="584.9" r="4.25"/>
<circle cx="1146.5" cy="586.0" r="4.25"/>
<circle cx="1147.0" cy="586.4" r="4.25"/>
<circle cx="1147.5" cy="585.6" r="4.25"/>
<circle cx="1148.0" cy="586.4" r="4.25"/>
<circle cx="1148.5" cy="586.3" r="4.25"/>
<circle cx="1149.1" cy="587.1" r="4.25"/>
<circle cx="1149.6" cy="586.4" r="4.25"/>
<circle cx="1150.1" cy="588.2" r="4.25"/>
<circle cx="1150.6" cy="588.4" r="4.25"/>
<circle cx="1151.1" cy="589.3" r="4.25"/>
<circle cx="1151.6" cy="589.8" r="4.25"/>
<circle cx="1152.1" cy="590.2" r="4.25"/>
<circle cx="1152.6" cy="590.5" r="4.25"/>
<circle cx="1153.1" cy="590.3" r="4.25"/>
<circle cx="1153.6" cy="590.9" r="4.25"/>
<circle cx="1154.1" cy="591.6" r="4.25"/>
<circle cx="1154.6" cy="592.6" r="4.25"/>
<circle cx="1155.1" cy="594.2" r="4.25"/>
<circle cx="1155.6" cy="593.7" r="4.25"/>
<circle cx="1156.1" cy="594.5" r="4.25"/>
<circle cx="1156.6" cy="594.4" r="4.25"/>
<circle cx="1157.1" cy="594.4" r="4.25"/>
<circle cx="1157.6" cy="593.7" r="4.25"/>
<circle cx="1158.1" cy="594.7" r="4.25"/>
<circle cx="1158.6" cy="595.4" r="4.25"/>
<circle cx="1159.0" cy="595.8" r="4.25"/>
<circle cx="1159.5" cy="596.1" r="4.25"/>
<circle cx="1160.0" cy="596.2" r="4.25"/>
<circle cx="1160.5" cy="597.4" r="4.25"/>
<circle cx="1161.0" cy="597.3" r="4.25"/>
<circle cx="1161.5" cy="598.0" r="4.25"/>
<circle cx="1161.9" cy="596.9" r="4.25"/>
<circle cx="1162.4" cy="598.8" r="4.25"/>
<circle cx="1162.9" cy="598.5" r="4.25"/>
<circle cx="1163.4" cy="600.2" r="4.25"/>
<circle cx="1163.8" cy="599.3" r="4.25"/>
<circle cx="1164.3" cy="600.6" r="4.25"/>
<circle cx="1164.8" cy="600.8" r="4.25"/>
<circle cx="1165.2" cy="602.9" r="4.25"/>
<circle cx="1165.7" cy="602.9" r="4.25"/>
<circle cx="1166.2" cy="602.2" r="4.25"/>
<circle cx="1166.6" cy="602.4" r="4.25"/>
<circle cx="1167.1" cy="602.7" r="4.25"/>
<circle cx="1167.6" cy="602.6" r="4.25"/>
<circle cx="1168.0" cy="602.4" r="4.25"/>
<circle cx="1168.5" cy="602.6" r="4.25"/>
<circle cx="1168.9" cy="602.8" r="4.25"/>
<circle cx="1169.4" cy="603.4" r="4.25"/>
<circle cx="1169.9" cy="604.3" r="4.25"/>
<circle cx="1170.3" cy="603.6" r="4.25"/>
<circle cx="1170.8" cy="603.8" r="4.25"/>
<circle cx="1171.2" cy="603.7" r="4.25"/>
<circle cx="1171.7" cy="604.6" r="4.25"/>
<circle cx="1172.1" cy="605.9" r="4.25"/>
<circle cx="1172.6" cy="606.2" r="4.25"/>
<circle cx="1173.0" cy="606.2" r="4.25"/>
<circle cx="1173.5" cy="606.3" r="4.25"/>
<circle cx="1173.9" cy="608.5" r="4.25"/>
<circle cx="1174.4" cy="609.0" r="4.25"/>
<circle cx="1174.8" cy="609.4" r="4.25"/>
<circle cx="1175.3" cy="609.1" r="4.25"/>
<circle cx="1175.7" cy="609.5" r="4.25"/>
<circle cx="1176.1" cy="609.7" r="4.25"/>
<circle cx="1176.6" cy="609.5" r="4.25"/>
<circle cx="1177.0" cy="611.1" r="4.25"/>
</g>
</g>
<g stroke="#858585" stroke-width="1" fill="none">
<path d="M127.5 0V723.9"/>
<path d="M127 723.4H1299"/>
</g>
<g stroke="#8c8c8c" stroke-width="0.8" fill="none">
<path d="M127.5 103.5h5.5"/>
<path d="M127.5 310.3h5.5"/>
<path d="M127.5 517.1h5.5"/>
<path d="M409.5 723.4v-6"/>
<path d="M530.9 723.4v-6"/>
<path d="M812.8 723.4v-6"/>
<path d="M934.2 723.4v-6"/>
<path d="M1216.1 723.4v-6"/>
</g>
<g stroke="#000" stroke-width="1.3" fill="none">
<path d="M127.5 108.7h4.7"/>
<path d="M127.5 114.7h4.7"/>
<path d="M127.5 121.5h4.7"/>
<path d="M127.5 129.5h4.7"/>
<path d="M127.5 139.4h4.7"/>
<path d="M127.5 151.9h4.7"/>
<path d="M127.5 169.5h4.7"/>
<path d="M127.5 198.7h4.7"/>
<path d="M127.5 315.5h4.7"/>
<path d="M127.5 321.5h4.7"/>
<path d="M127.5 328.3h4.7"/>
<path d="M127.5 336.3h4.7"/>
<path d="M127.5 346.2h4.7"/>
<path d="M127.5 358.7h4.7"/>
<path d="M127.5 376.3h4.7"/>
<path d="M127.5 405.5h4.7"/>
<path d="M127.5 522.3h4.7"/>
<path d="M127.5 528.3h4.7"/>
<path d="M127.5 535.1h4.7"/>
<path d="M127.5 543.1h4.7"/>
<path d="M127.5 553.0h4.7"/>
<path d="M127.5 565.5h4.7"/>
<path d="M127.5 583.1h4.7"/>
<path d="M127.5 612.3h4.7"/>
<path d="M249.0 723.4v-4.7"/>
<path d="M320.0 723.4v-4.7"/>
<path d="M370.4 723.4v-4.7"/>
<path d="M441.4 723.4v-4.7"/>
<path d="M468.4 723.4v-4.7"/>
<path d="M491.8 723.4v-4.7"/>
<path d="M512.4 723.4v-4.7"/>
<path d="M652.3 723.4v-4.7"/>
<path d="M723.3 723.4v-4.7"/>
<path d="M773.7 723.4v-4.7"/>
<path d="M844.7 723.4v-4.7"/>
<path d="M871.7 723.4v-4.7"/>
<path d="M895.1 723.4v-4.7"/>
<path d="M915.7 723.4v-4.7"/>
<path d="M1055.6 723.4v-4.7"/>
<path d="M1126.6 723.4v-4.7"/>
<path d="M1177.0 723.4v-4.7"/>
<path d="M1248.0 723.4v-4.7"/>
<path d="M1275.0 723.4v-4.7"/>
<path d="M1298.4 723.4v-4.7"/>
<path d="M127.5 723.4v-4.7"/>
<path d="M127.5 723.4h4.7" stroke-width="1"/>
</g>
<g font-family="Liberation Serif, serif" font-size="38" fill="#000">
<text x="128.0" y="753.2" text-anchor="middle">1</text>
<text x="408.5" y="753.2" text-anchor="middle">5</text>
<text x="529.2" y="753.2" text-anchor="middle">10</text>
<text x="811.3" y="753.2" text-anchor="middle">50</text>
<text x="934.2" y="753.2" text-anchor="middle">100</text>
<text x="1215.1" y="753.2" text-anchor="middle">500</text>
<text x="119" y="118" text-anchor="end">0.1</text>
<text x="123.3" y="324.9" text-anchor="end">0.001</text>
<text x="54.4" y="533.9">10</text><text x="95.5" y="516.1" font-size="27"><tspan dy="1.9">−</tspan><tspan dy="-1.9">5</tspan></text>
<text x="54.4" y="740.8">10</text><text x="95.5" y="722.8" font-size="27"><tspan dy="1.9">−</tspan><tspan dy="-1.9">7</tspan></text>
</g>
<g font-family="Liberation Serif, serif" font-size="44.3">
<text x="474" y="792.7" font-size="44.5" fill="#231f20">Number of generations</text>
<text transform="translate(31.1,578.8) rotate(-90)" fill="#231f20">Variance in ancestry</text>
<text x="694.8" y="223.3" fill="#ffa050">Finite genome<tspan dx="1.5">,</tspan><tspan dx="1"> no recombination</tspan></text>
<text x="748.5" y="378.2" fill="#0020ff">Finite genome<tspan dx="1.5">,</tspan><tspan dx="1"> recombination</tspan></text>
<text x="291.6" y="547.6" fill="#800080">Independent sites</text>
<text x="688.7" y="520.5" fill="#808285">Simulation runs</text>
<text x="776.7" y="583.2" fill="#ff0020">Simulation mean</text>
<text x="861.4" y="657.5" fill="#231f20" letter-spacing="0.27">Finite genome<tspan dx="1.5">,</tspan></text>
<text x="863.4" y="698.7" fill="#231f20">recombination<tspan dx="1.5">,</tspan><tspan dx="1"> drift</tspan></text>
</g>
</svg>
</body></html>
